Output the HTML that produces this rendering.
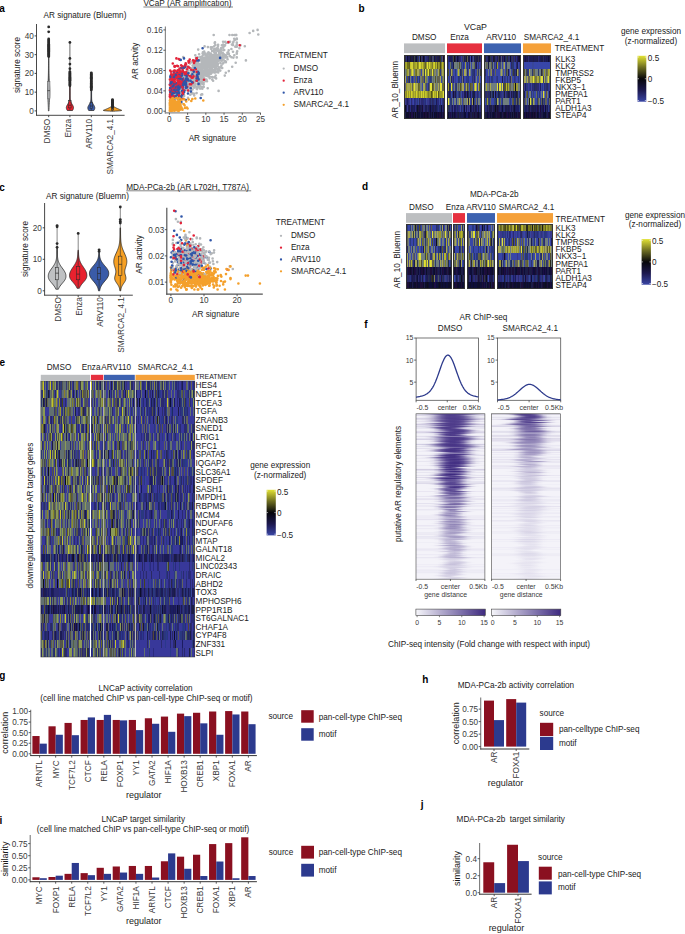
<!DOCTYPE html><html><head><meta charset="utf-8"><title>Figure</title><style>html,body{margin:0;padding:0;background:#fff;width:685px;height:934px;overflow:hidden}svg{display:block;font-family:"Liberation Sans",sans-serif}.pg stop{stop-color:#3e2a80}</style></head><body><svg width="685" height="934" viewBox="0 0 685 934" font-family="Liberation Sans, sans-serif" font-size="8.2" fill="#1a1a1a"><defs><linearGradient id="gcb0" x1="0" y1="0" x2="0" y2="1"><stop offset="0.000" stop-color="#e2e234"/><stop offset="0.125" stop-color="#a8a82b"/><stop offset="0.250" stop-color="#6e6e22"/><stop offset="0.375" stop-color="#3a3a16"/><stop offset="0.500" stop-color="#06060a"/><stop offset="0.625" stop-color="#110f2c"/><stop offset="0.750" stop-color="#1c184e"/><stop offset="0.875" stop-color="#2b2f7a"/><stop offset="1.000" stop-color="#3a46a5"/></linearGradient><linearGradient id="gcb1" x1="0" y1="0" x2="0" y2="1"><stop offset="0.000" stop-color="#e2e234"/><stop offset="0.125" stop-color="#a8a82b"/><stop offset="0.250" stop-color="#6e6e22"/><stop offset="0.375" stop-color="#3a3a16"/><stop offset="0.500" stop-color="#06060a"/><stop offset="0.625" stop-color="#110f2c"/><stop offset="0.750" stop-color="#1c184e"/><stop offset="0.875" stop-color="#2b2f7a"/><stop offset="1.000" stop-color="#3a46a5"/></linearGradient><linearGradient id="gcb2" x1="0" y1="0" x2="0" y2="1"><stop offset="0.000" stop-color="#e2e234"/><stop offset="0.125" stop-color="#a8a82b"/><stop offset="0.250" stop-color="#6e6e22"/><stop offset="0.375" stop-color="#3a3a16"/><stop offset="0.500" stop-color="#06060a"/><stop offset="0.625" stop-color="#110f2c"/><stop offset="0.750" stop-color="#1c184e"/><stop offset="0.875" stop-color="#2b2f7a"/><stop offset="1.000" stop-color="#3a46a5"/></linearGradient><linearGradient id="cg0" class="pg"><stop offset="0.000" stop-opacity="0.01"/><stop offset="0.062" stop-opacity="0.05"/><stop offset="0.125" stop-opacity="0.14"/><stop offset="0.188" stop-opacity="0.30"/><stop offset="0.250" stop-opacity="0.51"/><stop offset="0.312" stop-opacity="0.72"/><stop offset="0.375" stop-opacity="0.88"/><stop offset="0.438" stop-opacity="0.97"/><stop offset="0.500" stop-opacity="1.00"/><stop offset="0.562" stop-opacity="1.00"/><stop offset="0.625" stop-opacity="0.98"/><stop offset="0.688" stop-opacity="0.91"/><stop offset="0.750" stop-opacity="0.77"/><stop offset="0.812" stop-opacity="0.57"/><stop offset="0.875" stop-opacity="0.35"/><stop offset="0.938" stop-opacity="0.17"/><stop offset="1.000" stop-opacity="0.07"/></linearGradient><linearGradient id="cg1" class="pg"><stop offset="0.000" stop-opacity="0.00"/><stop offset="0.062" stop-opacity="0.00"/><stop offset="0.125" stop-opacity="0.00"/><stop offset="0.188" stop-opacity="0.02"/><stop offset="0.250" stop-opacity="0.12"/><stop offset="0.312" stop-opacity="0.38"/><stop offset="0.375" stop-opacity="0.72"/><stop offset="0.438" stop-opacity="0.94"/><stop offset="0.500" stop-opacity="1.00"/><stop offset="0.562" stop-opacity="0.99"/><stop offset="0.625" stop-opacity="0.88"/><stop offset="0.688" stop-opacity="0.60"/><stop offset="0.750" stop-opacity="0.27"/><stop offset="0.812" stop-opacity="0.07"/><stop offset="0.875" stop-opacity="0.01"/><stop offset="0.938" stop-opacity="0.00"/><stop offset="1.000" stop-opacity="0.00"/></linearGradient><linearGradient id="cg2" class="pg"><stop offset="0.000" stop-opacity="0.00"/><stop offset="0.062" stop-opacity="0.00"/><stop offset="0.125" stop-opacity="0.03"/><stop offset="0.188" stop-opacity="0.11"/><stop offset="0.250" stop-opacity="0.29"/><stop offset="0.312" stop-opacity="0.55"/><stop offset="0.375" stop-opacity="0.80"/><stop offset="0.438" stop-opacity="0.95"/><stop offset="0.500" stop-opacity="1.00"/><stop offset="0.562" stop-opacity="1.00"/><stop offset="0.625" stop-opacity="0.97"/><stop offset="0.688" stop-opacity="0.85"/><stop offset="0.750" stop-opacity="0.62"/><stop offset="0.812" stop-opacity="0.36"/><stop offset="0.875" stop-opacity="0.15"/><stop offset="0.938" stop-opacity="0.04"/><stop offset="1.000" stop-opacity="0.01"/></linearGradient><linearGradient id="cg3" class="pg"><stop offset="0.000" stop-opacity="0.00"/><stop offset="0.062" stop-opacity="0.00"/><stop offset="0.125" stop-opacity="0.01"/><stop offset="0.188" stop-opacity="0.07"/><stop offset="0.250" stop-opacity="0.23"/><stop offset="0.312" stop-opacity="0.49"/><stop offset="0.375" stop-opacity="0.76"/><stop offset="0.438" stop-opacity="0.94"/><stop offset="0.500" stop-opacity="1.00"/><stop offset="0.562" stop-opacity="1.00"/><stop offset="0.625" stop-opacity="0.96"/><stop offset="0.688" stop-opacity="0.82"/><stop offset="0.750" stop-opacity="0.57"/><stop offset="0.812" stop-opacity="0.30"/><stop offset="0.875" stop-opacity="0.10"/><stop offset="0.938" stop-opacity="0.02"/><stop offset="1.000" stop-opacity="0.00"/></linearGradient><linearGradient id="cg4" class="pg"><stop offset="0.000" stop-opacity="0.00"/><stop offset="0.062" stop-opacity="0.00"/><stop offset="0.125" stop-opacity="0.02"/><stop offset="0.188" stop-opacity="0.07"/><stop offset="0.250" stop-opacity="0.21"/><stop offset="0.312" stop-opacity="0.44"/><stop offset="0.375" stop-opacity="0.69"/><stop offset="0.438" stop-opacity="0.88"/><stop offset="0.500" stop-opacity="0.98"/><stop offset="0.562" stop-opacity="1.00"/><stop offset="0.625" stop-opacity="1.00"/><stop offset="0.688" stop-opacity="0.95"/><stop offset="0.750" stop-opacity="0.81"/><stop offset="0.812" stop-opacity="0.58"/><stop offset="0.875" stop-opacity="0.33"/><stop offset="0.938" stop-opacity="0.14"/><stop offset="1.000" stop-opacity="0.04"/></linearGradient><linearGradient id="cg5" class="pg"><stop offset="0.000" stop-opacity="0.00"/><stop offset="0.062" stop-opacity="0.01"/><stop offset="0.125" stop-opacity="0.04"/><stop offset="0.188" stop-opacity="0.15"/><stop offset="0.250" stop-opacity="0.37"/><stop offset="0.312" stop-opacity="0.64"/><stop offset="0.375" stop-opacity="0.86"/><stop offset="0.438" stop-opacity="0.97"/><stop offset="0.500" stop-opacity="1.00"/><stop offset="0.562" stop-opacity="1.00"/><stop offset="0.625" stop-opacity="0.94"/><stop offset="0.688" stop-opacity="0.79"/><stop offset="0.750" stop-opacity="0.54"/><stop offset="0.812" stop-opacity="0.28"/><stop offset="0.875" stop-opacity="0.10"/><stop offset="0.938" stop-opacity="0.02"/><stop offset="1.000" stop-opacity="0.00"/></linearGradient><linearGradient id="cg6" class="pg"><stop offset="0.000" stop-opacity="0.00"/><stop offset="0.062" stop-opacity="0.00"/><stop offset="0.125" stop-opacity="0.00"/><stop offset="0.188" stop-opacity="0.00"/><stop offset="0.250" stop-opacity="0.02"/><stop offset="0.312" stop-opacity="0.13"/><stop offset="0.375" stop-opacity="0.43"/><stop offset="0.438" stop-opacity="0.78"/><stop offset="0.500" stop-opacity="0.97"/><stop offset="0.562" stop-opacity="1.00"/><stop offset="0.625" stop-opacity="0.96"/><stop offset="0.688" stop-opacity="0.76"/><stop offset="0.750" stop-opacity="0.40"/><stop offset="0.812" stop-opacity="0.11"/><stop offset="0.875" stop-opacity="0.01"/><stop offset="0.938" stop-opacity="0.00"/><stop offset="1.000" stop-opacity="0.00"/></linearGradient><linearGradient id="cg7" class="pg"><stop offset="0.000" stop-opacity="0.01"/><stop offset="0.062" stop-opacity="0.04"/><stop offset="0.125" stop-opacity="0.14"/><stop offset="0.188" stop-opacity="0.32"/><stop offset="0.250" stop-opacity="0.56"/><stop offset="0.312" stop-opacity="0.78"/><stop offset="0.375" stop-opacity="0.93"/><stop offset="0.438" stop-opacity="0.99"/><stop offset="0.500" stop-opacity="1.00"/><stop offset="0.562" stop-opacity="0.99"/><stop offset="0.625" stop-opacity="0.93"/><stop offset="0.688" stop-opacity="0.78"/><stop offset="0.750" stop-opacity="0.56"/><stop offset="0.812" stop-opacity="0.32"/><stop offset="0.875" stop-opacity="0.14"/><stop offset="0.938" stop-opacity="0.04"/><stop offset="1.000" stop-opacity="0.01"/></linearGradient><linearGradient id="cg8" class="pg"><stop offset="0.000" stop-opacity="0.00"/><stop offset="0.062" stop-opacity="0.00"/><stop offset="0.125" stop-opacity="0.01"/><stop offset="0.188" stop-opacity="0.04"/><stop offset="0.250" stop-opacity="0.17"/><stop offset="0.312" stop-opacity="0.40"/><stop offset="0.375" stop-opacity="0.68"/><stop offset="0.438" stop-opacity="0.90"/><stop offset="0.500" stop-opacity="0.99"/><stop offset="0.562" stop-opacity="1.00"/><stop offset="0.625" stop-opacity="0.98"/><stop offset="0.688" stop-opacity="0.88"/><stop offset="0.750" stop-opacity="0.66"/><stop offset="0.812" stop-opacity="0.38"/><stop offset="0.875" stop-opacity="0.15"/><stop offset="0.938" stop-opacity="0.04"/><stop offset="1.000" stop-opacity="0.01"/></linearGradient><linearGradient id="cg9" class="pg"><stop offset="0.000" stop-opacity="0.00"/><stop offset="0.062" stop-opacity="0.01"/><stop offset="0.125" stop-opacity="0.04"/><stop offset="0.188" stop-opacity="0.16"/><stop offset="0.250" stop-opacity="0.41"/><stop offset="0.312" stop-opacity="0.71"/><stop offset="0.375" stop-opacity="0.92"/><stop offset="0.438" stop-opacity="0.99"/><stop offset="0.500" stop-opacity="1.00"/><stop offset="0.562" stop-opacity="0.96"/><stop offset="0.625" stop-opacity="0.80"/><stop offset="0.688" stop-opacity="0.52"/><stop offset="0.750" stop-opacity="0.24"/><stop offset="0.812" stop-opacity="0.07"/><stop offset="0.875" stop-opacity="0.01"/><stop offset="0.938" stop-opacity="0.00"/><stop offset="1.000" stop-opacity="0.00"/></linearGradient><linearGradient id="cg10" class="pg"><stop offset="0.000" stop-opacity="0.00"/><stop offset="0.062" stop-opacity="0.00"/><stop offset="0.125" stop-opacity="0.00"/><stop offset="0.188" stop-opacity="0.00"/><stop offset="0.250" stop-opacity="0.02"/><stop offset="0.312" stop-opacity="0.13"/><stop offset="0.375" stop-opacity="0.39"/><stop offset="0.438" stop-opacity="0.73"/><stop offset="0.500" stop-opacity="0.95"/><stop offset="0.562" stop-opacity="1.00"/><stop offset="0.625" stop-opacity="0.99"/><stop offset="0.688" stop-opacity="0.87"/><stop offset="0.750" stop-opacity="0.59"/><stop offset="0.812" stop-opacity="0.26"/><stop offset="0.875" stop-opacity="0.06"/><stop offset="0.938" stop-opacity="0.01"/><stop offset="1.000" stop-opacity="0.00"/></linearGradient><linearGradient id="cg11" class="pg"><stop offset="0.000" stop-opacity="0.00"/><stop offset="0.062" stop-opacity="0.00"/><stop offset="0.125" stop-opacity="0.04"/><stop offset="0.188" stop-opacity="0.17"/><stop offset="0.250" stop-opacity="0.44"/><stop offset="0.312" stop-opacity="0.75"/><stop offset="0.375" stop-opacity="0.95"/><stop offset="0.438" stop-opacity="1.00"/><stop offset="0.500" stop-opacity="0.99"/><stop offset="0.562" stop-opacity="0.91"/><stop offset="0.625" stop-opacity="0.67"/><stop offset="0.688" stop-opacity="0.36"/><stop offset="0.750" stop-opacity="0.12"/><stop offset="0.812" stop-opacity="0.02"/><stop offset="0.875" stop-opacity="0.00"/><stop offset="0.938" stop-opacity="0.00"/><stop offset="1.000" stop-opacity="0.00"/></linearGradient><linearGradient id="cg12" class="pg"><stop offset="0.000" stop-opacity="0.00"/><stop offset="0.062" stop-opacity="0.00"/><stop offset="0.125" stop-opacity="0.00"/><stop offset="0.188" stop-opacity="0.03"/><stop offset="0.250" stop-opacity="0.20"/><stop offset="0.312" stop-opacity="0.58"/><stop offset="0.375" stop-opacity="0.90"/><stop offset="0.438" stop-opacity="1.00"/><stop offset="0.500" stop-opacity="0.99"/><stop offset="0.562" stop-opacity="0.83"/><stop offset="0.625" stop-opacity="0.46"/><stop offset="0.688" stop-opacity="0.13"/><stop offset="0.750" stop-opacity="0.02"/><stop offset="0.812" stop-opacity="0.00"/><stop offset="0.875" stop-opacity="0.00"/><stop offset="0.938" stop-opacity="0.00"/><stop offset="1.000" stop-opacity="0.00"/></linearGradient><linearGradient id="cg13" class="pg"><stop offset="0.000" stop-opacity="0.00"/><stop offset="0.062" stop-opacity="0.00"/><stop offset="0.125" stop-opacity="0.00"/><stop offset="0.188" stop-opacity="0.01"/><stop offset="0.250" stop-opacity="0.07"/><stop offset="0.312" stop-opacity="0.28"/><stop offset="0.375" stop-opacity="0.62"/><stop offset="0.438" stop-opacity="0.89"/><stop offset="0.500" stop-opacity="0.99"/><stop offset="0.562" stop-opacity="1.00"/><stop offset="0.625" stop-opacity="0.94"/><stop offset="0.688" stop-opacity="0.71"/><stop offset="0.750" stop-opacity="0.37"/><stop offset="0.812" stop-opacity="0.11"/><stop offset="0.875" stop-opacity="0.02"/><stop offset="0.938" stop-opacity="0.00"/><stop offset="1.000" stop-opacity="0.00"/></linearGradient><linearGradient id="cg14" class="pg"><stop offset="0.000" stop-opacity="0.00"/><stop offset="0.062" stop-opacity="0.00"/><stop offset="0.125" stop-opacity="0.00"/><stop offset="0.188" stop-opacity="0.01"/><stop offset="0.250" stop-opacity="0.07"/><stop offset="0.312" stop-opacity="0.25"/><stop offset="0.375" stop-opacity="0.54"/><stop offset="0.438" stop-opacity="0.81"/><stop offset="0.500" stop-opacity="0.96"/><stop offset="0.562" stop-opacity="1.00"/><stop offset="0.625" stop-opacity="0.99"/><stop offset="0.688" stop-opacity="0.91"/><stop offset="0.750" stop-opacity="0.70"/><stop offset="0.812" stop-opacity="0.40"/><stop offset="0.875" stop-opacity="0.16"/><stop offset="0.938" stop-opacity="0.04"/><stop offset="1.000" stop-opacity="0.00"/></linearGradient><linearGradient id="cg15" class="pg"><stop offset="0.000" stop-opacity="0.00"/><stop offset="0.062" stop-opacity="0.00"/><stop offset="0.125" stop-opacity="0.00"/><stop offset="0.188" stop-opacity="0.00"/><stop offset="0.250" stop-opacity="0.00"/><stop offset="0.312" stop-opacity="0.04"/><stop offset="0.375" stop-opacity="0.22"/><stop offset="0.438" stop-opacity="0.56"/><stop offset="0.500" stop-opacity="0.87"/><stop offset="0.562" stop-opacity="0.99"/><stop offset="0.625" stop-opacity="1.00"/><stop offset="0.688" stop-opacity="0.91"/><stop offset="0.750" stop-opacity="0.63"/><stop offset="0.812" stop-opacity="0.27"/><stop offset="0.875" stop-opacity="0.06"/><stop offset="0.938" stop-opacity="0.01"/><stop offset="1.000" stop-opacity="0.00"/></linearGradient><linearGradient id="cg16" class="pg"><stop offset="0.000" stop-opacity="0.00"/><stop offset="0.062" stop-opacity="0.00"/><stop offset="0.125" stop-opacity="0.02"/><stop offset="0.188" stop-opacity="0.11"/><stop offset="0.250" stop-opacity="0.31"/><stop offset="0.312" stop-opacity="0.58"/><stop offset="0.375" stop-opacity="0.83"/><stop offset="0.438" stop-opacity="0.97"/><stop offset="0.500" stop-opacity="1.00"/><stop offset="0.562" stop-opacity="1.00"/><stop offset="0.625" stop-opacity="0.93"/><stop offset="0.688" stop-opacity="0.75"/><stop offset="0.750" stop-opacity="0.48"/><stop offset="0.812" stop-opacity="0.22"/><stop offset="0.875" stop-opacity="0.07"/><stop offset="0.938" stop-opacity="0.01"/><stop offset="1.000" stop-opacity="0.00"/></linearGradient><linearGradient id="cg17" class="pg"><stop offset="0.000" stop-opacity="0.00"/><stop offset="0.062" stop-opacity="0.00"/><stop offset="0.125" stop-opacity="0.00"/><stop offset="0.188" stop-opacity="0.00"/><stop offset="0.250" stop-opacity="0.04"/><stop offset="0.312" stop-opacity="0.19"/><stop offset="0.375" stop-opacity="0.50"/><stop offset="0.438" stop-opacity="0.82"/><stop offset="0.500" stop-opacity="0.98"/><stop offset="0.562" stop-opacity="1.00"/><stop offset="0.625" stop-opacity="0.97"/><stop offset="0.688" stop-opacity="0.80"/><stop offset="0.750" stop-opacity="0.48"/><stop offset="0.812" stop-opacity="0.18"/><stop offset="0.875" stop-opacity="0.03"/><stop offset="0.938" stop-opacity="0.00"/><stop offset="1.000" stop-opacity="0.00"/></linearGradient><linearGradient id="cg18" class="pg"><stop offset="0.000" stop-opacity="0.00"/><stop offset="0.062" stop-opacity="0.00"/><stop offset="0.125" stop-opacity="0.00"/><stop offset="0.188" stop-opacity="0.01"/><stop offset="0.250" stop-opacity="0.07"/><stop offset="0.312" stop-opacity="0.32"/><stop offset="0.375" stop-opacity="0.72"/><stop offset="0.438" stop-opacity="0.96"/><stop offset="0.500" stop-opacity="1.00"/><stop offset="0.562" stop-opacity="0.96"/><stop offset="0.625" stop-opacity="0.72"/><stop offset="0.688" stop-opacity="0.32"/><stop offset="0.750" stop-opacity="0.07"/><stop offset="0.812" stop-opacity="0.01"/><stop offset="0.875" stop-opacity="0.00"/><stop offset="0.938" stop-opacity="0.00"/><stop offset="1.000" stop-opacity="0.00"/></linearGradient><linearGradient id="cg19" class="pg"><stop offset="0.000" stop-opacity="0.00"/><stop offset="0.062" stop-opacity="0.00"/><stop offset="0.125" stop-opacity="0.00"/><stop offset="0.188" stop-opacity="0.00"/><stop offset="0.250" stop-opacity="0.02"/><stop offset="0.312" stop-opacity="0.13"/><stop offset="0.375" stop-opacity="0.46"/><stop offset="0.438" stop-opacity="0.83"/><stop offset="0.500" stop-opacity="0.99"/><stop offset="0.562" stop-opacity="1.00"/><stop offset="0.625" stop-opacity="0.90"/><stop offset="0.688" stop-opacity="0.58"/><stop offset="0.750" stop-opacity="0.20"/><stop offset="0.812" stop-opacity="0.03"/><stop offset="0.875" stop-opacity="0.00"/><stop offset="0.938" stop-opacity="0.00"/><stop offset="1.000" stop-opacity="0.00"/></linearGradient><linearGradient id="cg20" class="pg"><stop offset="0.000" stop-opacity="0.00"/><stop offset="0.062" stop-opacity="0.01"/><stop offset="0.125" stop-opacity="0.03"/><stop offset="0.188" stop-opacity="0.11"/><stop offset="0.250" stop-opacity="0.26"/><stop offset="0.312" stop-opacity="0.49"/><stop offset="0.375" stop-opacity="0.73"/><stop offset="0.438" stop-opacity="0.90"/><stop offset="0.500" stop-opacity="0.98"/><stop offset="0.562" stop-opacity="1.00"/><stop offset="0.625" stop-opacity="1.00"/><stop offset="0.688" stop-opacity="0.96"/><stop offset="0.750" stop-opacity="0.83"/><stop offset="0.812" stop-opacity="0.63"/><stop offset="0.875" stop-opacity="0.39"/><stop offset="0.938" stop-opacity="0.18"/><stop offset="1.000" stop-opacity="0.06"/></linearGradient><linearGradient id="cg21" class="pg"><stop offset="0.000" stop-opacity="0.00"/><stop offset="0.062" stop-opacity="0.00"/><stop offset="0.125" stop-opacity="0.00"/><stop offset="0.188" stop-opacity="0.03"/><stop offset="0.250" stop-opacity="0.11"/><stop offset="0.312" stop-opacity="0.32"/><stop offset="0.375" stop-opacity="0.59"/><stop offset="0.438" stop-opacity="0.84"/><stop offset="0.500" stop-opacity="0.97"/><stop offset="0.562" stop-opacity="1.00"/><stop offset="0.625" stop-opacity="0.99"/><stop offset="0.688" stop-opacity="0.93"/><stop offset="0.750" stop-opacity="0.74"/><stop offset="0.812" stop-opacity="0.47"/><stop offset="0.875" stop-opacity="0.21"/><stop offset="0.938" stop-opacity="0.06"/><stop offset="1.000" stop-opacity="0.01"/></linearGradient><linearGradient id="cg22" class="pg"><stop offset="0.000" stop-opacity="0.00"/><stop offset="0.062" stop-opacity="0.00"/><stop offset="0.125" stop-opacity="0.00"/><stop offset="0.188" stop-opacity="0.02"/><stop offset="0.250" stop-opacity="0.12"/><stop offset="0.312" stop-opacity="0.36"/><stop offset="0.375" stop-opacity="0.67"/><stop offset="0.438" stop-opacity="0.91"/><stop offset="0.500" stop-opacity="0.99"/><stop offset="0.562" stop-opacity="1.00"/><stop offset="0.625" stop-opacity="0.95"/><stop offset="0.688" stop-opacity="0.75"/><stop offset="0.750" stop-opacity="0.44"/><stop offset="0.812" stop-opacity="0.17"/><stop offset="0.875" stop-opacity="0.04"/><stop offset="0.938" stop-opacity="0.00"/><stop offset="1.000" stop-opacity="0.00"/></linearGradient><linearGradient id="cg23" class="pg"><stop offset="0.000" stop-opacity="0.00"/><stop offset="0.062" stop-opacity="0.00"/><stop offset="0.125" stop-opacity="0.00"/><stop offset="0.188" stop-opacity="0.04"/><stop offset="0.250" stop-opacity="0.18"/><stop offset="0.312" stop-opacity="0.46"/><stop offset="0.375" stop-opacity="0.77"/><stop offset="0.438" stop-opacity="0.95"/><stop offset="0.500" stop-opacity="1.00"/><stop offset="0.562" stop-opacity="0.99"/><stop offset="0.625" stop-opacity="0.90"/><stop offset="0.688" stop-opacity="0.66"/><stop offset="0.750" stop-opacity="0.34"/><stop offset="0.812" stop-opacity="0.11"/><stop offset="0.875" stop-opacity="0.02"/><stop offset="0.938" stop-opacity="0.00"/><stop offset="1.000" stop-opacity="0.00"/></linearGradient><linearGradient id="cg24" class="pg"><stop offset="0.000" stop-opacity="0.00"/><stop offset="0.062" stop-opacity="0.01"/><stop offset="0.125" stop-opacity="0.05"/><stop offset="0.188" stop-opacity="0.15"/><stop offset="0.250" stop-opacity="0.35"/><stop offset="0.312" stop-opacity="0.60"/><stop offset="0.375" stop-opacity="0.82"/><stop offset="0.438" stop-opacity="0.95"/><stop offset="0.500" stop-opacity="1.00"/><stop offset="0.562" stop-opacity="1.00"/><stop offset="0.625" stop-opacity="0.97"/><stop offset="0.688" stop-opacity="0.87"/><stop offset="0.750" stop-opacity="0.67"/><stop offset="0.812" stop-opacity="0.42"/><stop offset="0.875" stop-opacity="0.20"/><stop offset="0.938" stop-opacity="0.07"/><stop offset="1.000" stop-opacity="0.01"/></linearGradient><linearGradient id="cg25" class="pg"><stop offset="0.000" stop-opacity="0.00"/><stop offset="0.062" stop-opacity="0.00"/><stop offset="0.125" stop-opacity="0.00"/><stop offset="0.188" stop-opacity="0.01"/><stop offset="0.250" stop-opacity="0.08"/><stop offset="0.312" stop-opacity="0.24"/><stop offset="0.375" stop-opacity="0.50"/><stop offset="0.438" stop-opacity="0.77"/><stop offset="0.500" stop-opacity="0.94"/><stop offset="0.562" stop-opacity="1.00"/><stop offset="0.625" stop-opacity="1.00"/><stop offset="0.688" stop-opacity="0.96"/><stop offset="0.750" stop-opacity="0.82"/><stop offset="0.812" stop-opacity="0.56"/><stop offset="0.875" stop-opacity="0.29"/><stop offset="0.938" stop-opacity="0.10"/><stop offset="1.000" stop-opacity="0.02"/></linearGradient><linearGradient id="cg26" class="pg"><stop offset="0.000" stop-opacity="0.00"/><stop offset="0.062" stop-opacity="0.00"/><stop offset="0.125" stop-opacity="0.00"/><stop offset="0.188" stop-opacity="0.00"/><stop offset="0.250" stop-opacity="0.00"/><stop offset="0.312" stop-opacity="0.04"/><stop offset="0.375" stop-opacity="0.23"/><stop offset="0.438" stop-opacity="0.61"/><stop offset="0.500" stop-opacity="0.92"/><stop offset="0.562" stop-opacity="1.00"/><stop offset="0.625" stop-opacity="0.98"/><stop offset="0.688" stop-opacity="0.81"/><stop offset="0.750" stop-opacity="0.43"/><stop offset="0.812" stop-opacity="0.12"/><stop offset="0.875" stop-opacity="0.01"/><stop offset="0.938" stop-opacity="0.00"/><stop offset="1.000" stop-opacity="0.00"/></linearGradient><linearGradient id="cg27" class="pg"><stop offset="0.000" stop-opacity="0.00"/><stop offset="0.062" stop-opacity="0.00"/><stop offset="0.125" stop-opacity="0.00"/><stop offset="0.188" stop-opacity="0.00"/><stop offset="0.250" stop-opacity="0.00"/><stop offset="0.312" stop-opacity="0.02"/><stop offset="0.375" stop-opacity="0.14"/><stop offset="0.438" stop-opacity="0.48"/><stop offset="0.500" stop-opacity="0.84"/><stop offset="0.562" stop-opacity="0.99"/><stop offset="0.625" stop-opacity="1.00"/><stop offset="0.688" stop-opacity="0.89"/><stop offset="0.750" stop-opacity="0.56"/><stop offset="0.812" stop-opacity="0.19"/><stop offset="0.875" stop-opacity="0.03"/><stop offset="0.938" stop-opacity="0.00"/><stop offset="1.000" stop-opacity="0.00"/></linearGradient><linearGradient id="cg28" class="pg"><stop offset="0.000" stop-opacity="0.00"/><stop offset="0.062" stop-opacity="0.00"/><stop offset="0.125" stop-opacity="0.00"/><stop offset="0.188" stop-opacity="0.01"/><stop offset="0.250" stop-opacity="0.07"/><stop offset="0.312" stop-opacity="0.26"/><stop offset="0.375" stop-opacity="0.57"/><stop offset="0.438" stop-opacity="0.85"/><stop offset="0.500" stop-opacity="0.98"/><stop offset="0.562" stop-opacity="1.00"/><stop offset="0.625" stop-opacity="0.98"/><stop offset="0.688" stop-opacity="0.83"/><stop offset="0.750" stop-opacity="0.55"/><stop offset="0.812" stop-opacity="0.24"/><stop offset="0.875" stop-opacity="0.06"/><stop offset="0.938" stop-opacity="0.01"/><stop offset="1.000" stop-opacity="0.00"/></linearGradient><linearGradient id="cg29" class="pg"><stop offset="0.000" stop-opacity="0.00"/><stop offset="0.062" stop-opacity="0.00"/><stop offset="0.125" stop-opacity="0.00"/><stop offset="0.188" stop-opacity="0.00"/><stop offset="0.250" stop-opacity="0.04"/><stop offset="0.312" stop-opacity="0.19"/><stop offset="0.375" stop-opacity="0.47"/><stop offset="0.438" stop-opacity="0.78"/><stop offset="0.500" stop-opacity="0.96"/><stop offset="0.562" stop-opacity="1.00"/><stop offset="0.625" stop-opacity="0.99"/><stop offset="0.688" stop-opacity="0.90"/><stop offset="0.750" stop-opacity="0.65"/><stop offset="0.812" stop-opacity="0.33"/><stop offset="0.875" stop-opacity="0.10"/><stop offset="0.938" stop-opacity="0.02"/><stop offset="1.000" stop-opacity="0.00"/></linearGradient><linearGradient id="cg30" class="pg"><stop offset="0.000" stop-opacity="0.00"/><stop offset="0.062" stop-opacity="0.00"/><stop offset="0.125" stop-opacity="0.00"/><stop offset="0.188" stop-opacity="0.02"/><stop offset="0.250" stop-opacity="0.12"/><stop offset="0.312" stop-opacity="0.41"/><stop offset="0.375" stop-opacity="0.77"/><stop offset="0.438" stop-opacity="0.97"/><stop offset="0.500" stop-opacity="1.00"/><stop offset="0.562" stop-opacity="0.97"/><stop offset="0.625" stop-opacity="0.77"/><stop offset="0.688" stop-opacity="0.41"/><stop offset="0.750" stop-opacity="0.12"/><stop offset="0.812" stop-opacity="0.02"/><stop offset="0.875" stop-opacity="0.00"/><stop offset="0.938" stop-opacity="0.00"/><stop offset="1.000" stop-opacity="0.00"/></linearGradient><linearGradient id="cg31" class="pg"><stop offset="0.000" stop-opacity="0.00"/><stop offset="0.062" stop-opacity="0.00"/><stop offset="0.125" stop-opacity="0.00"/><stop offset="0.188" stop-opacity="0.00"/><stop offset="0.250" stop-opacity="0.04"/><stop offset="0.312" stop-opacity="0.20"/><stop offset="0.375" stop-opacity="0.55"/><stop offset="0.438" stop-opacity="0.86"/><stop offset="0.500" stop-opacity="0.99"/><stop offset="0.562" stop-opacity="1.00"/><stop offset="0.625" stop-opacity="0.92"/><stop offset="0.688" stop-opacity="0.65"/><stop offset="0.750" stop-opacity="0.29"/><stop offset="0.812" stop-opacity="0.07"/><stop offset="0.875" stop-opacity="0.01"/><stop offset="0.938" stop-opacity="0.00"/><stop offset="1.000" stop-opacity="0.00"/></linearGradient><linearGradient id="cg32" class="pg"><stop offset="0.000" stop-opacity="0.00"/><stop offset="0.062" stop-opacity="0.01"/><stop offset="0.125" stop-opacity="0.04"/><stop offset="0.188" stop-opacity="0.16"/><stop offset="0.250" stop-opacity="0.39"/><stop offset="0.312" stop-opacity="0.67"/><stop offset="0.375" stop-opacity="0.89"/><stop offset="0.438" stop-opacity="0.99"/><stop offset="0.500" stop-opacity="1.00"/><stop offset="0.562" stop-opacity="0.99"/><stop offset="0.625" stop-opacity="0.89"/><stop offset="0.688" stop-opacity="0.67"/><stop offset="0.750" stop-opacity="0.39"/><stop offset="0.812" stop-opacity="0.16"/><stop offset="0.875" stop-opacity="0.04"/><stop offset="0.938" stop-opacity="0.01"/><stop offset="1.000" stop-opacity="0.00"/></linearGradient><linearGradient id="cg33" class="pg"><stop offset="0.000" stop-opacity="0.00"/><stop offset="0.062" stop-opacity="0.00"/><stop offset="0.125" stop-opacity="0.01"/><stop offset="0.188" stop-opacity="0.04"/><stop offset="0.250" stop-opacity="0.17"/><stop offset="0.312" stop-opacity="0.43"/><stop offset="0.375" stop-opacity="0.72"/><stop offset="0.438" stop-opacity="0.93"/><stop offset="0.500" stop-opacity="1.00"/><stop offset="0.562" stop-opacity="1.00"/><stop offset="0.625" stop-opacity="0.96"/><stop offset="0.688" stop-opacity="0.79"/><stop offset="0.750" stop-opacity="0.51"/><stop offset="0.812" stop-opacity="0.23"/><stop offset="0.875" stop-opacity="0.07"/><stop offset="0.938" stop-opacity="0.01"/><stop offset="1.000" stop-opacity="0.00"/></linearGradient><linearGradient id="cg34" class="pg"><stop offset="0.000" stop-opacity="0.00"/><stop offset="0.062" stop-opacity="0.00"/><stop offset="0.125" stop-opacity="0.00"/><stop offset="0.188" stop-opacity="0.02"/><stop offset="0.250" stop-opacity="0.12"/><stop offset="0.312" stop-opacity="0.33"/><stop offset="0.375" stop-opacity="0.63"/><stop offset="0.438" stop-opacity="0.88"/><stop offset="0.500" stop-opacity="0.98"/><stop offset="0.562" stop-opacity="1.00"/><stop offset="0.625" stop-opacity="0.98"/><stop offset="0.688" stop-opacity="0.86"/><stop offset="0.750" stop-opacity="0.61"/><stop offset="0.812" stop-opacity="0.31"/><stop offset="0.875" stop-opacity="0.10"/><stop offset="0.938" stop-opacity="0.02"/><stop offset="1.000" stop-opacity="0.00"/></linearGradient><linearGradient id="cg35" class="pg"><stop offset="0.000" stop-opacity="0.00"/><stop offset="0.062" stop-opacity="0.00"/><stop offset="0.125" stop-opacity="0.00"/><stop offset="0.188" stop-opacity="0.00"/><stop offset="0.250" stop-opacity="0.01"/><stop offset="0.312" stop-opacity="0.15"/><stop offset="0.375" stop-opacity="0.62"/><stop offset="0.438" stop-opacity="0.97"/><stop offset="0.500" stop-opacity="1.00"/><stop offset="0.562" stop-opacity="0.80"/><stop offset="0.625" stop-opacity="0.29"/><stop offset="0.688" stop-opacity="0.03"/><stop offset="0.750" stop-opacity="0.00"/><stop offset="0.812" stop-opacity="0.00"/><stop offset="0.875" stop-opacity="0.00"/><stop offset="0.938" stop-opacity="0.00"/><stop offset="1.000" stop-opacity="0.00"/></linearGradient><linearGradient id="cg36" class="pg"><stop offset="0.000" stop-opacity="0.00"/><stop offset="0.062" stop-opacity="0.00"/><stop offset="0.125" stop-opacity="0.00"/><stop offset="0.188" stop-opacity="0.00"/><stop offset="0.250" stop-opacity="0.00"/><stop offset="0.312" stop-opacity="0.07"/><stop offset="0.375" stop-opacity="0.37"/><stop offset="0.438" stop-opacity="0.79"/><stop offset="0.500" stop-opacity="0.99"/><stop offset="0.562" stop-opacity="1.00"/><stop offset="0.625" stop-opacity="0.87"/><stop offset="0.688" stop-opacity="0.49"/><stop offset="0.750" stop-opacity="0.13"/><stop offset="0.812" stop-opacity="0.01"/><stop offset="0.875" stop-opacity="0.00"/><stop offset="0.938" stop-opacity="0.00"/><stop offset="1.000" stop-opacity="0.00"/></linearGradient><linearGradient id="cg37" class="pg"><stop offset="0.000" stop-opacity="0.00"/><stop offset="0.062" stop-opacity="0.00"/><stop offset="0.125" stop-opacity="0.00"/><stop offset="0.188" stop-opacity="0.00"/><stop offset="0.250" stop-opacity="0.03"/><stop offset="0.312" stop-opacity="0.22"/><stop offset="0.375" stop-opacity="0.59"/><stop offset="0.438" stop-opacity="0.91"/><stop offset="0.500" stop-opacity="1.00"/><stop offset="0.562" stop-opacity="0.99"/><stop offset="0.625" stop-opacity="0.82"/><stop offset="0.688" stop-opacity="0.45"/><stop offset="0.750" stop-opacity="0.12"/><stop offset="0.812" stop-opacity="0.01"/><stop offset="0.875" stop-opacity="0.00"/><stop offset="0.938" stop-opacity="0.00"/><stop offset="1.000" stop-opacity="0.00"/></linearGradient><linearGradient id="cg38" class="pg"><stop offset="0.000" stop-opacity="0.00"/><stop offset="0.062" stop-opacity="0.00"/><stop offset="0.125" stop-opacity="0.00"/><stop offset="0.188" stop-opacity="0.00"/><stop offset="0.250" stop-opacity="0.01"/><stop offset="0.312" stop-opacity="0.07"/><stop offset="0.375" stop-opacity="0.34"/><stop offset="0.438" stop-opacity="0.73"/><stop offset="0.500" stop-opacity="0.96"/><stop offset="0.562" stop-opacity="1.00"/><stop offset="0.625" stop-opacity="0.95"/><stop offset="0.688" stop-opacity="0.70"/><stop offset="0.750" stop-opacity="0.31"/><stop offset="0.812" stop-opacity="0.06"/><stop offset="0.875" stop-opacity="0.00"/><stop offset="0.938" stop-opacity="0.00"/><stop offset="1.000" stop-opacity="0.00"/></linearGradient><linearGradient id="cg39" class="pg"><stop offset="0.000" stop-opacity="0.00"/><stop offset="0.062" stop-opacity="0.00"/><stop offset="0.125" stop-opacity="0.00"/><stop offset="0.188" stop-opacity="0.01"/><stop offset="0.250" stop-opacity="0.07"/><stop offset="0.312" stop-opacity="0.30"/><stop offset="0.375" stop-opacity="0.66"/><stop offset="0.438" stop-opacity="0.93"/><stop offset="0.500" stop-opacity="1.00"/><stop offset="0.562" stop-opacity="0.99"/><stop offset="0.625" stop-opacity="0.86"/><stop offset="0.688" stop-opacity="0.53"/><stop offset="0.750" stop-opacity="0.19"/><stop offset="0.812" stop-opacity="0.03"/><stop offset="0.875" stop-opacity="0.00"/><stop offset="0.938" stop-opacity="0.00"/><stop offset="1.000" stop-opacity="0.00"/></linearGradient><linearGradient id="cg40" class="pg"><stop offset="0.000" stop-opacity="0.00"/><stop offset="0.062" stop-opacity="0.00"/><stop offset="0.125" stop-opacity="0.00"/><stop offset="0.188" stop-opacity="0.00"/><stop offset="0.250" stop-opacity="0.00"/><stop offset="0.312" stop-opacity="0.03"/><stop offset="0.375" stop-opacity="0.24"/><stop offset="0.438" stop-opacity="0.66"/><stop offset="0.500" stop-opacity="0.95"/><stop offset="0.562" stop-opacity="1.00"/><stop offset="0.625" stop-opacity="0.94"/><stop offset="0.688" stop-opacity="0.63"/><stop offset="0.750" stop-opacity="0.22"/><stop offset="0.812" stop-opacity="0.03"/><stop offset="0.875" stop-opacity="0.00"/><stop offset="0.938" stop-opacity="0.00"/><stop offset="1.000" stop-opacity="0.00"/></linearGradient><linearGradient id="cg41" class="pg"><stop offset="0.000" stop-opacity="0.00"/><stop offset="0.062" stop-opacity="0.00"/><stop offset="0.125" stop-opacity="0.02"/><stop offset="0.188" stop-opacity="0.11"/><stop offset="0.250" stop-opacity="0.32"/><stop offset="0.312" stop-opacity="0.62"/><stop offset="0.375" stop-opacity="0.87"/><stop offset="0.438" stop-opacity="0.98"/><stop offset="0.500" stop-opacity="1.00"/><stop offset="0.562" stop-opacity="0.98"/><stop offset="0.625" stop-opacity="0.87"/><stop offset="0.688" stop-opacity="0.62"/><stop offset="0.750" stop-opacity="0.32"/><stop offset="0.812" stop-opacity="0.11"/><stop offset="0.875" stop-opacity="0.02"/><stop offset="0.938" stop-opacity="0.00"/><stop offset="1.000" stop-opacity="0.00"/></linearGradient><linearGradient id="cg42" class="pg"><stop offset="0.000" stop-opacity="0.00"/><stop offset="0.062" stop-opacity="0.00"/><stop offset="0.125" stop-opacity="0.00"/><stop offset="0.188" stop-opacity="0.00"/><stop offset="0.250" stop-opacity="0.00"/><stop offset="0.312" stop-opacity="0.07"/><stop offset="0.375" stop-opacity="0.41"/><stop offset="0.438" stop-opacity="0.85"/><stop offset="0.500" stop-opacity="1.00"/><stop offset="0.562" stop-opacity="0.98"/><stop offset="0.625" stop-opacity="0.71"/><stop offset="0.688" stop-opacity="0.25"/><stop offset="0.750" stop-opacity="0.03"/><stop offset="0.812" stop-opacity="0.00"/><stop offset="0.875" stop-opacity="0.00"/><stop offset="0.938" stop-opacity="0.00"/><stop offset="1.000" stop-opacity="0.00"/></linearGradient><linearGradient id="cg43" class="pg"><stop offset="0.000" stop-opacity="0.00"/><stop offset="0.062" stop-opacity="0.00"/><stop offset="0.125" stop-opacity="0.00"/><stop offset="0.188" stop-opacity="0.00"/><stop offset="0.250" stop-opacity="0.01"/><stop offset="0.312" stop-opacity="0.08"/><stop offset="0.375" stop-opacity="0.31"/><stop offset="0.438" stop-opacity="0.68"/><stop offset="0.500" stop-opacity="0.93"/><stop offset="0.562" stop-opacity="1.00"/><stop offset="0.625" stop-opacity="0.99"/><stop offset="0.688" stop-opacity="0.85"/><stop offset="0.750" stop-opacity="0.52"/><stop offset="0.812" stop-opacity="0.18"/><stop offset="0.875" stop-opacity="0.03"/><stop offset="0.938" stop-opacity="0.00"/><stop offset="1.000" stop-opacity="0.00"/></linearGradient><linearGradient id="cg44" class="pg"><stop offset="0.000" stop-opacity="0.00"/><stop offset="0.062" stop-opacity="0.00"/><stop offset="0.125" stop-opacity="0.00"/><stop offset="0.188" stop-opacity="0.00"/><stop offset="0.250" stop-opacity="0.00"/><stop offset="0.312" stop-opacity="0.01"/><stop offset="0.375" stop-opacity="0.15"/><stop offset="0.438" stop-opacity="0.58"/><stop offset="0.500" stop-opacity="0.94"/><stop offset="0.562" stop-opacity="1.00"/><stop offset="0.625" stop-opacity="0.92"/><stop offset="0.688" stop-opacity="0.54"/><stop offset="0.750" stop-opacity="0.13"/><stop offset="0.812" stop-opacity="0.01"/><stop offset="0.875" stop-opacity="0.00"/><stop offset="0.938" stop-opacity="0.00"/><stop offset="1.000" stop-opacity="0.00"/></linearGradient><linearGradient id="cg45" class="pg"><stop offset="0.000" stop-opacity="0.00"/><stop offset="0.062" stop-opacity="0.00"/><stop offset="0.125" stop-opacity="0.00"/><stop offset="0.188" stop-opacity="0.00"/><stop offset="0.250" stop-opacity="0.03"/><stop offset="0.312" stop-opacity="0.23"/><stop offset="0.375" stop-opacity="0.65"/><stop offset="0.438" stop-opacity="0.95"/><stop offset="0.500" stop-opacity="1.00"/><stop offset="0.562" stop-opacity="0.95"/><stop offset="0.625" stop-opacity="0.65"/><stop offset="0.688" stop-opacity="0.23"/><stop offset="0.750" stop-opacity="0.03"/><stop offset="0.812" stop-opacity="0.00"/><stop offset="0.875" stop-opacity="0.00"/><stop offset="0.938" stop-opacity="0.00"/><stop offset="1.000" stop-opacity="0.00"/></linearGradient><linearGradient id="cg46" class="pg"><stop offset="0.000" stop-opacity="0.00"/><stop offset="0.062" stop-opacity="0.00"/><stop offset="0.125" stop-opacity="0.00"/><stop offset="0.188" stop-opacity="0.00"/><stop offset="0.250" stop-opacity="0.00"/><stop offset="0.312" stop-opacity="0.07"/><stop offset="0.375" stop-opacity="0.45"/><stop offset="0.438" stop-opacity="0.91"/><stop offset="0.500" stop-opacity="1.00"/><stop offset="0.562" stop-opacity="0.91"/><stop offset="0.625" stop-opacity="0.45"/><stop offset="0.688" stop-opacity="0.07"/><stop offset="0.750" stop-opacity="0.00"/><stop offset="0.812" stop-opacity="0.00"/><stop offset="0.875" stop-opacity="0.00"/><stop offset="0.938" stop-opacity="0.00"/><stop offset="1.000" stop-opacity="0.00"/></linearGradient><linearGradient id="cg47" class="pg"><stop offset="0.000" stop-opacity="0.00"/><stop offset="0.062" stop-opacity="0.00"/><stop offset="0.125" stop-opacity="0.00"/><stop offset="0.188" stop-opacity="0.00"/><stop offset="0.250" stop-opacity="0.00"/><stop offset="0.312" stop-opacity="0.01"/><stop offset="0.375" stop-opacity="0.15"/><stop offset="0.438" stop-opacity="0.53"/><stop offset="0.500" stop-opacity="0.89"/><stop offset="0.562" stop-opacity="1.00"/><stop offset="0.625" stop-opacity="0.98"/><stop offset="0.688" stop-opacity="0.76"/><stop offset="0.750" stop-opacity="0.33"/><stop offset="0.812" stop-opacity="0.06"/><stop offset="0.875" stop-opacity="0.00"/><stop offset="0.938" stop-opacity="0.00"/><stop offset="1.000" stop-opacity="0.00"/></linearGradient><linearGradient id="cg48" class="pg"><stop offset="0.000" stop-opacity="0.00"/><stop offset="0.062" stop-opacity="0.00"/><stop offset="0.125" stop-opacity="0.00"/><stop offset="0.188" stop-opacity="0.00"/><stop offset="0.250" stop-opacity="0.01"/><stop offset="0.312" stop-opacity="0.14"/><stop offset="0.375" stop-opacity="0.51"/><stop offset="0.438" stop-opacity="0.88"/><stop offset="0.500" stop-opacity="1.00"/><stop offset="0.562" stop-opacity="0.98"/><stop offset="0.625" stop-opacity="0.77"/><stop offset="0.688" stop-opacity="0.35"/><stop offset="0.750" stop-opacity="0.07"/><stop offset="0.812" stop-opacity="0.00"/><stop offset="0.875" stop-opacity="0.00"/><stop offset="0.938" stop-opacity="0.00"/><stop offset="1.000" stop-opacity="0.00"/></linearGradient><linearGradient id="cg49" class="pg"><stop offset="0.000" stop-opacity="0.00"/><stop offset="0.062" stop-opacity="0.00"/><stop offset="0.125" stop-opacity="0.00"/><stop offset="0.188" stop-opacity="0.00"/><stop offset="0.250" stop-opacity="0.00"/><stop offset="0.312" stop-opacity="0.00"/><stop offset="0.375" stop-opacity="0.08"/><stop offset="0.438" stop-opacity="0.47"/><stop offset="0.500" stop-opacity="0.92"/><stop offset="0.562" stop-opacity="1.00"/><stop offset="0.625" stop-opacity="0.89"/><stop offset="0.688" stop-opacity="0.43"/><stop offset="0.750" stop-opacity="0.06"/><stop offset="0.812" stop-opacity="0.00"/><stop offset="0.875" stop-opacity="0.00"/><stop offset="0.938" stop-opacity="0.00"/><stop offset="1.000" stop-opacity="0.00"/></linearGradient><linearGradient id="cg50" class="pg"><stop offset="0.000" stop-opacity="0.00"/><stop offset="0.062" stop-opacity="0.00"/><stop offset="0.125" stop-opacity="0.00"/><stop offset="0.188" stop-opacity="0.00"/><stop offset="0.250" stop-opacity="0.00"/><stop offset="0.312" stop-opacity="0.01"/><stop offset="0.375" stop-opacity="0.16"/><stop offset="0.438" stop-opacity="0.65"/><stop offset="0.500" stop-opacity="0.97"/><stop offset="0.562" stop-opacity="1.00"/><stop offset="0.625" stop-opacity="0.78"/><stop offset="0.688" stop-opacity="0.27"/><stop offset="0.750" stop-opacity="0.02"/><stop offset="0.812" stop-opacity="0.00"/><stop offset="0.875" stop-opacity="0.00"/><stop offset="0.938" stop-opacity="0.00"/><stop offset="1.000" stop-opacity="0.00"/></linearGradient><linearGradient id="cg51" class="pg"><stop offset="0.000" stop-opacity="0.00"/><stop offset="0.062" stop-opacity="0.00"/><stop offset="0.125" stop-opacity="0.00"/><stop offset="0.188" stop-opacity="0.00"/><stop offset="0.250" stop-opacity="0.00"/><stop offset="0.312" stop-opacity="0.00"/><stop offset="0.375" stop-opacity="0.03"/><stop offset="0.438" stop-opacity="0.31"/><stop offset="0.500" stop-opacity="0.81"/><stop offset="0.562" stop-opacity="1.00"/><stop offset="0.625" stop-opacity="0.96"/><stop offset="0.688" stop-opacity="0.60"/><stop offset="0.750" stop-opacity="0.14"/><stop offset="0.812" stop-opacity="0.01"/><stop offset="0.875" stop-opacity="0.00"/><stop offset="0.938" stop-opacity="0.00"/><stop offset="1.000" stop-opacity="0.00"/></linearGradient><linearGradient id="cg52" class="pg"><stop offset="0.000" stop-opacity="0.00"/><stop offset="0.062" stop-opacity="0.00"/><stop offset="0.125" stop-opacity="0.00"/><stop offset="0.188" stop-opacity="0.00"/><stop offset="0.250" stop-opacity="0.00"/><stop offset="0.312" stop-opacity="0.03"/><stop offset="0.375" stop-opacity="0.29"/><stop offset="0.438" stop-opacity="0.80"/><stop offset="0.500" stop-opacity="1.00"/><stop offset="0.562" stop-opacity="0.97"/><stop offset="0.625" stop-opacity="0.62"/><stop offset="0.688" stop-opacity="0.15"/><stop offset="0.750" stop-opacity="0.01"/><stop offset="0.812" stop-opacity="0.00"/><stop offset="0.875" stop-opacity="0.00"/><stop offset="0.938" stop-opacity="0.00"/><stop offset="1.000" stop-opacity="0.00"/></linearGradient><linearGradient id="cg53" class="pg"><stop offset="0.000" stop-opacity="0.00"/><stop offset="0.062" stop-opacity="0.00"/><stop offset="0.125" stop-opacity="0.00"/><stop offset="0.188" stop-opacity="0.00"/><stop offset="0.250" stop-opacity="0.01"/><stop offset="0.312" stop-opacity="0.14"/><stop offset="0.375" stop-opacity="0.56"/><stop offset="0.438" stop-opacity="0.93"/><stop offset="0.500" stop-opacity="1.00"/><stop offset="0.562" stop-opacity="0.93"/><stop offset="0.625" stop-opacity="0.56"/><stop offset="0.688" stop-opacity="0.14"/><stop offset="0.750" stop-opacity="0.01"/><stop offset="0.812" stop-opacity="0.00"/><stop offset="0.875" stop-opacity="0.00"/><stop offset="0.938" stop-opacity="0.00"/><stop offset="1.000" stop-opacity="0.00"/></linearGradient><linearGradient id="cg54" class="pg"><stop offset="0.000" stop-opacity="0.00"/><stop offset="0.062" stop-opacity="0.00"/><stop offset="0.125" stop-opacity="0.00"/><stop offset="0.188" stop-opacity="0.00"/><stop offset="0.250" stop-opacity="0.00"/><stop offset="0.312" stop-opacity="0.00"/><stop offset="0.375" stop-opacity="0.02"/><stop offset="0.438" stop-opacity="0.46"/><stop offset="0.500" stop-opacity="0.99"/><stop offset="0.562" stop-opacity="0.90"/><stop offset="0.625" stop-opacity="0.20"/><stop offset="0.688" stop-opacity="0.00"/><stop offset="0.750" stop-opacity="0.00"/><stop offset="0.812" stop-opacity="0.00"/><stop offset="0.875" stop-opacity="0.00"/><stop offset="0.938" stop-opacity="0.00"/><stop offset="1.000" stop-opacity="0.00"/></linearGradient><linearGradient id="cg55" class="pg"><stop offset="0.000" stop-opacity="0.00"/><stop offset="0.062" stop-opacity="0.00"/><stop offset="0.125" stop-opacity="0.00"/><stop offset="0.188" stop-opacity="0.00"/><stop offset="0.250" stop-opacity="0.07"/><stop offset="0.312" stop-opacity="0.35"/><stop offset="0.375" stop-opacity="0.77"/><stop offset="0.438" stop-opacity="0.98"/><stop offset="0.500" stop-opacity="1.00"/><stop offset="0.562" stop-opacity="0.88"/><stop offset="0.625" stop-opacity="0.51"/><stop offset="0.688" stop-opacity="0.14"/><stop offset="0.750" stop-opacity="0.01"/><stop offset="0.812" stop-opacity="0.00"/><stop offset="0.875" stop-opacity="0.00"/><stop offset="0.938" stop-opacity="0.00"/><stop offset="1.000" stop-opacity="0.00"/></linearGradient><linearGradient id="cg56" class="pg"><stop offset="0.000" stop-opacity="0.00"/><stop offset="0.062" stop-opacity="0.00"/><stop offset="0.125" stop-opacity="0.00"/><stop offset="0.188" stop-opacity="0.00"/><stop offset="0.250" stop-opacity="0.00"/><stop offset="0.312" stop-opacity="0.03"/><stop offset="0.375" stop-opacity="0.26"/><stop offset="0.438" stop-opacity="0.73"/><stop offset="0.500" stop-opacity="0.98"/><stop offset="0.562" stop-opacity="1.00"/><stop offset="0.625" stop-opacity="0.83"/><stop offset="0.688" stop-opacity="0.39"/><stop offset="0.750" stop-opacity="0.06"/><stop offset="0.812" stop-opacity="0.00"/><stop offset="0.875" stop-opacity="0.00"/><stop offset="0.938" stop-opacity="0.00"/><stop offset="1.000" stop-opacity="0.00"/></linearGradient><linearGradient id="cg57" class="pg"><stop offset="0.000" stop-opacity="0.00"/><stop offset="0.062" stop-opacity="0.00"/><stop offset="0.125" stop-opacity="0.00"/><stop offset="0.188" stop-opacity="0.00"/><stop offset="0.250" stop-opacity="0.00"/><stop offset="0.312" stop-opacity="0.07"/><stop offset="0.375" stop-opacity="0.51"/><stop offset="0.438" stop-opacity="0.96"/><stop offset="0.500" stop-opacity="1.00"/><stop offset="0.562" stop-opacity="0.72"/><stop offset="0.625" stop-opacity="0.17"/><stop offset="0.688" stop-opacity="0.01"/><stop offset="0.750" stop-opacity="0.00"/><stop offset="0.812" stop-opacity="0.00"/><stop offset="0.875" stop-opacity="0.00"/><stop offset="0.938" stop-opacity="0.00"/><stop offset="1.000" stop-opacity="0.00"/></linearGradient><linearGradient id="cg58" class="pg"><stop offset="0.000" stop-opacity="0.00"/><stop offset="0.062" stop-opacity="0.00"/><stop offset="0.125" stop-opacity="0.00"/><stop offset="0.188" stop-opacity="0.00"/><stop offset="0.250" stop-opacity="0.00"/><stop offset="0.312" stop-opacity="0.02"/><stop offset="0.375" stop-opacity="0.37"/><stop offset="0.438" stop-opacity="0.94"/><stop offset="0.500" stop-opacity="0.99"/><stop offset="0.562" stop-opacity="0.62"/><stop offset="0.625" stop-opacity="0.07"/><stop offset="0.688" stop-opacity="0.00"/><stop offset="0.750" stop-opacity="0.00"/><stop offset="0.812" stop-opacity="0.00"/><stop offset="0.875" stop-opacity="0.00"/><stop offset="0.938" stop-opacity="0.00"/><stop offset="1.000" stop-opacity="0.00"/></linearGradient><linearGradient id="cg59" class="pg"><stop offset="0.000" stop-opacity="0.00"/><stop offset="0.062" stop-opacity="0.00"/><stop offset="0.125" stop-opacity="0.00"/><stop offset="0.188" stop-opacity="0.00"/><stop offset="0.250" stop-opacity="0.00"/><stop offset="0.312" stop-opacity="0.01"/><stop offset="0.375" stop-opacity="0.17"/><stop offset="0.438" stop-opacity="0.72"/><stop offset="0.500" stop-opacity="1.00"/><stop offset="0.562" stop-opacity="0.96"/><stop offset="0.625" stop-opacity="0.51"/><stop offset="0.688" stop-opacity="0.07"/><stop offset="0.750" stop-opacity="0.00"/><stop offset="0.812" stop-opacity="0.00"/><stop offset="0.875" stop-opacity="0.00"/><stop offset="0.938" stop-opacity="0.00"/><stop offset="1.000" stop-opacity="0.00"/></linearGradient><linearGradient id="cg60" class="pg"><stop offset="0.000" stop-opacity="0.00"/><stop offset="0.062" stop-opacity="0.00"/><stop offset="0.125" stop-opacity="0.00"/><stop offset="0.188" stop-opacity="0.00"/><stop offset="0.250" stop-opacity="0.00"/><stop offset="0.312" stop-opacity="0.00"/><stop offset="0.375" stop-opacity="0.02"/><stop offset="0.438" stop-opacity="0.39"/><stop offset="0.500" stop-opacity="0.95"/><stop offset="0.562" stop-opacity="0.99"/><stop offset="0.625" stop-opacity="0.59"/><stop offset="0.688" stop-opacity="0.06"/><stop offset="0.750" stop-opacity="0.00"/><stop offset="0.812" stop-opacity="0.00"/><stop offset="0.875" stop-opacity="0.00"/><stop offset="0.938" stop-opacity="0.00"/><stop offset="1.000" stop-opacity="0.00"/></linearGradient><linearGradient id="cg61" class="pg"><stop offset="0.000" stop-opacity="0.00"/><stop offset="0.062" stop-opacity="0.00"/><stop offset="0.125" stop-opacity="0.00"/><stop offset="0.188" stop-opacity="0.00"/><stop offset="0.250" stop-opacity="0.00"/><stop offset="0.312" stop-opacity="0.00"/><stop offset="0.375" stop-opacity="0.03"/><stop offset="0.438" stop-opacity="0.28"/><stop offset="0.500" stop-opacity="0.74"/><stop offset="0.562" stop-opacity="0.98"/><stop offset="0.625" stop-opacity="1.00"/><stop offset="0.688" stop-opacity="0.82"/><stop offset="0.750" stop-opacity="0.37"/><stop offset="0.812" stop-opacity="0.06"/><stop offset="0.875" stop-opacity="0.00"/><stop offset="0.938" stop-opacity="0.00"/><stop offset="1.000" stop-opacity="0.00"/></linearGradient><linearGradient id="cg62" class="pg"><stop offset="0.000" stop-opacity="0.00"/><stop offset="0.062" stop-opacity="0.00"/><stop offset="0.125" stop-opacity="0.00"/><stop offset="0.188" stop-opacity="0.00"/><stop offset="0.250" stop-opacity="0.00"/><stop offset="0.312" stop-opacity="0.00"/><stop offset="0.375" stop-opacity="0.08"/><stop offset="0.438" stop-opacity="0.42"/><stop offset="0.500" stop-opacity="0.86"/><stop offset="0.562" stop-opacity="1.00"/><stop offset="0.625" stop-opacity="0.97"/><stop offset="0.688" stop-opacity="0.69"/><stop offset="0.750" stop-opacity="0.23"/><stop offset="0.812" stop-opacity="0.02"/><stop offset="0.875" stop-opacity="0.00"/><stop offset="0.938" stop-opacity="0.00"/><stop offset="1.000" stop-opacity="0.00"/></linearGradient><linearGradient id="cg63" class="pg"><stop offset="0.000" stop-opacity="0.00"/><stop offset="0.062" stop-opacity="0.00"/><stop offset="0.125" stop-opacity="0.00"/><stop offset="0.188" stop-opacity="0.00"/><stop offset="0.250" stop-opacity="0.00"/><stop offset="0.312" stop-opacity="0.00"/><stop offset="0.375" stop-opacity="0.00"/><stop offset="0.438" stop-opacity="0.08"/><stop offset="0.500" stop-opacity="0.64"/><stop offset="0.562" stop-opacity="1.00"/><stop offset="0.625" stop-opacity="0.92"/><stop offset="0.688" stop-opacity="0.34"/><stop offset="0.750" stop-opacity="0.01"/><stop offset="0.812" stop-opacity="0.00"/><stop offset="0.875" stop-opacity="0.00"/><stop offset="0.938" stop-opacity="0.00"/><stop offset="1.000" stop-opacity="0.00"/></linearGradient><linearGradient id="cg64" class="pg"><stop offset="0.000" stop-opacity="0.00"/><stop offset="0.062" stop-opacity="0.00"/><stop offset="0.125" stop-opacity="0.00"/><stop offset="0.188" stop-opacity="0.00"/><stop offset="0.250" stop-opacity="0.00"/><stop offset="0.312" stop-opacity="0.00"/><stop offset="0.375" stop-opacity="0.00"/><stop offset="0.438" stop-opacity="0.08"/><stop offset="0.500" stop-opacity="0.74"/><stop offset="0.562" stop-opacity="1.00"/><stop offset="0.625" stop-opacity="0.69"/><stop offset="0.688" stop-opacity="0.06"/><stop offset="0.750" stop-opacity="0.00"/><stop offset="0.812" stop-opacity="0.00"/><stop offset="0.875" stop-opacity="0.00"/><stop offset="0.938" stop-opacity="0.00"/><stop offset="1.000" stop-opacity="0.00"/></linearGradient><linearGradient id="cg65" class="pg"><stop offset="0.000" stop-opacity="0.00"/><stop offset="0.062" stop-opacity="0.00"/><stop offset="0.125" stop-opacity="0.00"/><stop offset="0.188" stop-opacity="0.00"/><stop offset="0.250" stop-opacity="0.00"/><stop offset="0.312" stop-opacity="0.00"/><stop offset="0.375" stop-opacity="0.03"/><stop offset="0.438" stop-opacity="0.35"/><stop offset="0.500" stop-opacity="0.88"/><stop offset="0.562" stop-opacity="1.00"/><stop offset="0.625" stop-opacity="0.85"/><stop offset="0.688" stop-opacity="0.30"/><stop offset="0.750" stop-opacity="0.02"/><stop offset="0.812" stop-opacity="0.00"/><stop offset="0.875" stop-opacity="0.00"/><stop offset="0.938" stop-opacity="0.00"/><stop offset="1.000" stop-opacity="0.00"/></linearGradient><linearGradient id="cg66" class="pg"><stop offset="0.000" stop-opacity="0.00"/><stop offset="0.062" stop-opacity="0.00"/><stop offset="0.125" stop-opacity="0.00"/><stop offset="0.188" stop-opacity="0.00"/><stop offset="0.250" stop-opacity="0.00"/><stop offset="0.312" stop-opacity="0.02"/><stop offset="0.375" stop-opacity="0.32"/><stop offset="0.438" stop-opacity="0.87"/><stop offset="0.500" stop-opacity="1.00"/><stop offset="0.562" stop-opacity="0.87"/><stop offset="0.625" stop-opacity="0.32"/><stop offset="0.688" stop-opacity="0.02"/><stop offset="0.750" stop-opacity="0.00"/><stop offset="0.812" stop-opacity="0.00"/><stop offset="0.875" stop-opacity="0.00"/><stop offset="0.938" stop-opacity="0.00"/><stop offset="1.000" stop-opacity="0.00"/></linearGradient><linearGradient id="cg67" class="pg"><stop offset="0.000" stop-opacity="0.00"/><stop offset="0.062" stop-opacity="0.00"/><stop offset="0.125" stop-opacity="0.00"/><stop offset="0.188" stop-opacity="0.00"/><stop offset="0.250" stop-opacity="0.06"/><stop offset="0.312" stop-opacity="0.39"/><stop offset="0.375" stop-opacity="0.83"/><stop offset="0.438" stop-opacity="1.00"/><stop offset="0.500" stop-opacity="0.98"/><stop offset="0.562" stop-opacity="0.73"/><stop offset="0.625" stop-opacity="0.26"/><stop offset="0.688" stop-opacity="0.03"/><stop offset="0.750" stop-opacity="0.00"/><stop offset="0.812" stop-opacity="0.00"/><stop offset="0.875" stop-opacity="0.00"/><stop offset="0.938" stop-opacity="0.00"/><stop offset="1.000" stop-opacity="0.00"/></linearGradient><linearGradient id="cg68" class="pg"><stop offset="0.000" stop-opacity="0.00"/><stop offset="0.062" stop-opacity="0.00"/><stop offset="0.125" stop-opacity="0.00"/><stop offset="0.188" stop-opacity="0.00"/><stop offset="0.250" stop-opacity="0.00"/><stop offset="0.312" stop-opacity="0.01"/><stop offset="0.375" stop-opacity="0.43"/><stop offset="0.438" stop-opacity="0.98"/><stop offset="0.500" stop-opacity="0.92"/><stop offset="0.562" stop-opacity="0.23"/><stop offset="0.625" stop-opacity="0.00"/><stop offset="0.688" stop-opacity="0.00"/><stop offset="0.750" stop-opacity="0.00"/><stop offset="0.812" stop-opacity="0.00"/><stop offset="0.875" stop-opacity="0.00"/><stop offset="0.938" stop-opacity="0.00"/><stop offset="1.000" stop-opacity="0.00"/></linearGradient><linearGradient id="cg69" class="pg"><stop offset="0.000" stop-opacity="0.00"/><stop offset="0.062" stop-opacity="0.01"/><stop offset="0.125" stop-opacity="0.06"/><stop offset="0.188" stop-opacity="0.24"/><stop offset="0.250" stop-opacity="0.55"/><stop offset="0.312" stop-opacity="0.83"/><stop offset="0.375" stop-opacity="0.98"/><stop offset="0.438" stop-opacity="1.00"/><stop offset="0.500" stop-opacity="0.98"/><stop offset="0.562" stop-opacity="0.85"/><stop offset="0.625" stop-opacity="0.57"/><stop offset="0.688" stop-opacity="0.26"/><stop offset="0.750" stop-opacity="0.07"/><stop offset="0.812" stop-opacity="0.01"/><stop offset="0.875" stop-opacity="0.00"/><stop offset="0.938" stop-opacity="0.00"/><stop offset="1.000" stop-opacity="0.00"/></linearGradient><linearGradient id="cg70" class="pg"><stop offset="0.000" stop-opacity="0.00"/><stop offset="0.062" stop-opacity="0.00"/><stop offset="0.125" stop-opacity="0.00"/><stop offset="0.188" stop-opacity="0.00"/><stop offset="0.250" stop-opacity="0.02"/><stop offset="0.312" stop-opacity="0.12"/><stop offset="0.375" stop-opacity="0.37"/><stop offset="0.438" stop-opacity="0.69"/><stop offset="0.500" stop-opacity="0.92"/><stop offset="0.562" stop-opacity="1.00"/><stop offset="0.625" stop-opacity="1.00"/><stop offset="0.688" stop-opacity="0.94"/><stop offset="0.750" stop-opacity="0.74"/><stop offset="0.812" stop-opacity="0.43"/><stop offset="0.875" stop-opacity="0.16"/><stop offset="0.938" stop-opacity="0.03"/><stop offset="1.000" stop-opacity="0.00"/></linearGradient><linearGradient id="cg71" class="pg"><stop offset="0.000" stop-opacity="0.00"/><stop offset="0.062" stop-opacity="0.00"/><stop offset="0.125" stop-opacity="0.00"/><stop offset="0.188" stop-opacity="0.04"/><stop offset="0.250" stop-opacity="0.19"/><stop offset="0.312" stop-opacity="0.49"/><stop offset="0.375" stop-opacity="0.81"/><stop offset="0.438" stop-opacity="0.97"/><stop offset="0.500" stop-opacity="1.00"/><stop offset="0.562" stop-opacity="0.97"/><stop offset="0.625" stop-opacity="0.81"/><stop offset="0.688" stop-opacity="0.49"/><stop offset="0.750" stop-opacity="0.19"/><stop offset="0.812" stop-opacity="0.04"/><stop offset="0.875" stop-opacity="0.00"/><stop offset="0.938" stop-opacity="0.00"/><stop offset="1.000" stop-opacity="0.00"/></linearGradient><linearGradient id="cg72" class="pg"><stop offset="0.000" stop-opacity="0.00"/><stop offset="0.062" stop-opacity="0.01"/><stop offset="0.125" stop-opacity="0.07"/><stop offset="0.188" stop-opacity="0.22"/><stop offset="0.250" stop-opacity="0.48"/><stop offset="0.312" stop-opacity="0.75"/><stop offset="0.375" stop-opacity="0.93"/><stop offset="0.438" stop-opacity="1.00"/><stop offset="0.500" stop-opacity="1.00"/><stop offset="0.562" stop-opacity="0.97"/><stop offset="0.625" stop-opacity="0.83"/><stop offset="0.688" stop-opacity="0.58"/><stop offset="0.750" stop-opacity="0.31"/><stop offset="0.812" stop-opacity="0.11"/><stop offset="0.875" stop-opacity="0.02"/><stop offset="0.938" stop-opacity="0.00"/><stop offset="1.000" stop-opacity="0.00"/></linearGradient><linearGradient id="cg73" class="pg"><stop offset="0.000" stop-opacity="0.00"/><stop offset="0.062" stop-opacity="0.00"/><stop offset="0.125" stop-opacity="0.00"/><stop offset="0.188" stop-opacity="0.00"/><stop offset="0.250" stop-opacity="0.01"/><stop offset="0.312" stop-opacity="0.08"/><stop offset="0.375" stop-opacity="0.29"/><stop offset="0.438" stop-opacity="0.63"/><stop offset="0.500" stop-opacity="0.90"/><stop offset="0.562" stop-opacity="0.99"/><stop offset="0.625" stop-opacity="1.00"/><stop offset="0.688" stop-opacity="0.93"/><stop offset="0.750" stop-opacity="0.69"/><stop offset="0.812" stop-opacity="0.35"/><stop offset="0.875" stop-opacity="0.11"/><stop offset="0.938" stop-opacity="0.02"/><stop offset="1.000" stop-opacity="0.00"/></linearGradient><linearGradient id="cg74" class="pg"><stop offset="0.000" stop-opacity="0.00"/><stop offset="0.062" stop-opacity="0.00"/><stop offset="0.125" stop-opacity="0.02"/><stop offset="0.188" stop-opacity="0.11"/><stop offset="0.250" stop-opacity="0.34"/><stop offset="0.312" stop-opacity="0.66"/><stop offset="0.375" stop-opacity="0.90"/><stop offset="0.438" stop-opacity="0.99"/><stop offset="0.500" stop-opacity="1.00"/><stop offset="0.562" stop-opacity="0.95"/><stop offset="0.625" stop-opacity="0.77"/><stop offset="0.688" stop-opacity="0.46"/><stop offset="0.750" stop-opacity="0.18"/><stop offset="0.812" stop-opacity="0.04"/><stop offset="0.875" stop-opacity="0.00"/><stop offset="0.938" stop-opacity="0.00"/><stop offset="1.000" stop-opacity="0.00"/></linearGradient><linearGradient id="cg75" class="pg"><stop offset="0.000" stop-opacity="0.00"/><stop offset="0.062" stop-opacity="0.00"/><stop offset="0.125" stop-opacity="0.00"/><stop offset="0.188" stop-opacity="0.00"/><stop offset="0.250" stop-opacity="0.00"/><stop offset="0.312" stop-opacity="0.01"/><stop offset="0.375" stop-opacity="0.08"/><stop offset="0.438" stop-opacity="0.38"/><stop offset="0.500" stop-opacity="0.80"/><stop offset="0.562" stop-opacity="0.99"/><stop offset="0.625" stop-opacity="1.00"/><stop offset="0.688" stop-opacity="0.86"/><stop offset="0.750" stop-opacity="0.47"/><stop offset="0.812" stop-opacity="0.12"/><stop offset="0.875" stop-opacity="0.01"/><stop offset="0.938" stop-opacity="0.00"/><stop offset="1.000" stop-opacity="0.00"/></linearGradient><linearGradient id="cg76" class="pg"><stop offset="0.000" stop-opacity="0.00"/><stop offset="0.062" stop-opacity="0.00"/><stop offset="0.125" stop-opacity="0.00"/><stop offset="0.188" stop-opacity="0.00"/><stop offset="0.250" stop-opacity="0.00"/><stop offset="0.312" stop-opacity="0.00"/><stop offset="0.375" stop-opacity="0.04"/><stop offset="0.438" stop-opacity="0.26"/><stop offset="0.500" stop-opacity="0.68"/><stop offset="0.562" stop-opacity="0.96"/><stop offset="0.625" stop-opacity="1.00"/><stop offset="0.688" stop-opacity="0.93"/><stop offset="0.750" stop-opacity="0.61"/><stop offset="0.812" stop-opacity="0.20"/><stop offset="0.875" stop-opacity="0.02"/><stop offset="0.938" stop-opacity="0.00"/><stop offset="1.000" stop-opacity="0.00"/></linearGradient><linearGradient id="cg77" class="pg"><stop offset="0.000" stop-opacity="0.00"/><stop offset="0.062" stop-opacity="0.00"/><stop offset="0.125" stop-opacity="0.00"/><stop offset="0.188" stop-opacity="0.00"/><stop offset="0.250" stop-opacity="0.00"/><stop offset="0.312" stop-opacity="0.00"/><stop offset="0.375" stop-opacity="0.00"/><stop offset="0.438" stop-opacity="0.08"/><stop offset="0.500" stop-opacity="0.56"/><stop offset="0.562" stop-opacity="0.97"/><stop offset="0.625" stop-opacity="0.99"/><stop offset="0.688" stop-opacity="0.68"/><stop offset="0.750" stop-opacity="0.14"/><stop offset="0.812" stop-opacity="0.00"/><stop offset="0.875" stop-opacity="0.00"/><stop offset="0.938" stop-opacity="0.00"/><stop offset="1.000" stop-opacity="0.00"/></linearGradient><linearGradient id="cg78" class="pg"><stop offset="0.000" stop-opacity="0.00"/><stop offset="0.062" stop-opacity="0.00"/><stop offset="0.125" stop-opacity="0.00"/><stop offset="0.188" stop-opacity="0.00"/><stop offset="0.250" stop-opacity="0.00"/><stop offset="0.312" stop-opacity="0.00"/><stop offset="0.375" stop-opacity="0.07"/><stop offset="0.438" stop-opacity="0.54"/><stop offset="0.500" stop-opacity="0.96"/><stop offset="0.562" stop-opacity="0.99"/><stop offset="0.625" stop-opacity="0.70"/><stop offset="0.688" stop-opacity="0.16"/><stop offset="0.750" stop-opacity="0.00"/><stop offset="0.812" stop-opacity="0.00"/><stop offset="0.875" stop-opacity="0.00"/><stop offset="0.938" stop-opacity="0.00"/><stop offset="1.000" stop-opacity="0.00"/></linearGradient><linearGradient id="cg79" class="pg"><stop offset="0.000" stop-opacity="0.00"/><stop offset="0.062" stop-opacity="0.00"/><stop offset="0.125" stop-opacity="0.00"/><stop offset="0.188" stop-opacity="0.00"/><stop offset="0.250" stop-opacity="0.00"/><stop offset="0.312" stop-opacity="0.00"/><stop offset="0.375" stop-opacity="0.00"/><stop offset="0.438" stop-opacity="0.08"/><stop offset="0.500" stop-opacity="0.50"/><stop offset="0.562" stop-opacity="0.93"/><stop offset="0.625" stop-opacity="1.00"/><stop offset="0.688" stop-opacity="0.88"/><stop offset="0.750" stop-opacity="0.41"/><stop offset="0.812" stop-opacity="0.06"/><stop offset="0.875" stop-opacity="0.00"/><stop offset="0.938" stop-opacity="0.00"/><stop offset="1.000" stop-opacity="0.00"/></linearGradient><linearGradient id="cg80" class="pg"><stop offset="0.000" stop-opacity="0.00"/><stop offset="0.062" stop-opacity="0.00"/><stop offset="0.125" stop-opacity="0.00"/><stop offset="0.188" stop-opacity="0.00"/><stop offset="0.250" stop-opacity="0.00"/><stop offset="0.312" stop-opacity="0.16"/><stop offset="0.375" stop-opacity="0.70"/><stop offset="0.438" stop-opacity="0.99"/><stop offset="0.500" stop-opacity="0.96"/><stop offset="0.562" stop-opacity="0.54"/><stop offset="0.625" stop-opacity="0.07"/><stop offset="0.688" stop-opacity="0.00"/><stop offset="0.750" stop-opacity="0.00"/><stop offset="0.812" stop-opacity="0.00"/><stop offset="0.875" stop-opacity="0.00"/><stop offset="0.938" stop-opacity="0.00"/><stop offset="1.000" stop-opacity="0.00"/></linearGradient><linearGradient id="cg81" class="pg"><stop offset="0.000" stop-opacity="0.00"/><stop offset="0.062" stop-opacity="0.00"/><stop offset="0.125" stop-opacity="0.00"/><stop offset="0.188" stop-opacity="0.01"/><stop offset="0.250" stop-opacity="0.12"/><stop offset="0.312" stop-opacity="0.45"/><stop offset="0.375" stop-opacity="0.82"/><stop offset="0.438" stop-opacity="0.99"/><stop offset="0.500" stop-opacity="1.00"/><stop offset="0.562" stop-opacity="0.91"/><stop offset="0.625" stop-opacity="0.59"/><stop offset="0.688" stop-opacity="0.22"/><stop offset="0.750" stop-opacity="0.03"/><stop offset="0.812" stop-opacity="0.00"/><stop offset="0.875" stop-opacity="0.00"/><stop offset="0.938" stop-opacity="0.00"/><stop offset="1.000" stop-opacity="0.00"/></linearGradient><linearGradient id="pcb85"><stop offset="0.000" stop-color="#f6f6fa"/><stop offset="0.167" stop-color="#d7d4e6"/><stop offset="0.333" stop-color="#b9b2d1"/><stop offset="0.500" stop-color="#9a90bd"/><stop offset="0.667" stop-color="#7b6ea9"/><stop offset="0.833" stop-color="#5d4c94"/><stop offset="1.000" stop-color="#3e2a80"/></linearGradient><linearGradient id="pcb86"><stop offset="0.000" stop-color="#f6f6fa"/><stop offset="0.167" stop-color="#d7d4e6"/><stop offset="0.333" stop-color="#b9b2d1"/><stop offset="0.500" stop-color="#9a90bd"/><stop offset="0.667" stop-color="#7b6ea9"/><stop offset="0.833" stop-color="#5d4c94"/><stop offset="1.000" stop-color="#3e2a80"/></linearGradient></defs><text x="-0.80" y="11.80" font-weight="bold" font-size="10" fill="#000">a</text>
<text x="358.50" y="12.20" font-weight="bold" font-size="10" fill="#000">b</text>
<text x="-0.80" y="190.80" font-weight="bold" font-size="10" fill="#000">c</text>
<text x="362.00" y="189.80" font-weight="bold" font-size="10" fill="#000">d</text>
<text x="-0.50" y="365.80" font-weight="bold" font-size="10" fill="#000">e</text>
<text x="364.20" y="328.00" font-weight="bold" font-size="10" fill="#000">f</text>
<text x="-0.80" y="679.20" font-weight="bold" font-size="10" fill="#000">g</text>
<text x="422.30" y="683.20" font-weight="bold" font-size="10" fill="#000">h</text>
<text x="-0.50" y="823.60" font-weight="bold" font-size="10" fill="#000">i</text>
<text x="420.80" y="807.90" font-weight="bold" font-size="10" fill="#000">j</text>
<text x="85.00" y="17.90" text-anchor="middle">AR signature (Bluemn)</text>
<line x1="36.50" y1="24.00" x2="36.50" y2="115.60" stroke="#333" stroke-width="0.9"/>
<line x1="36.10" y1="115.30" x2="124.60" y2="115.30" stroke="#333" stroke-width="0.9"/>
<line x1="34.60" y1="110.90" x2="36.50" y2="110.90" stroke="#333" stroke-width="0.9"/>
<text x="33.90" y="113.85" text-anchor="end" fill="#3a3a3a">0</text>
<line x1="34.60" y1="92.15" x2="36.50" y2="92.15" stroke="#333" stroke-width="0.9"/>
<text x="33.90" y="95.10" text-anchor="end" fill="#3a3a3a">10</text>
<line x1="34.60" y1="73.40" x2="36.50" y2="73.40" stroke="#333" stroke-width="0.9"/>
<text x="33.90" y="76.35" text-anchor="end" fill="#3a3a3a">20</text>
<line x1="34.60" y1="54.65" x2="36.50" y2="54.65" stroke="#333" stroke-width="0.9"/>
<text x="33.90" y="57.60" text-anchor="end" fill="#3a3a3a">30</text>
<line x1="34.60" y1="35.90" x2="36.50" y2="35.90" stroke="#333" stroke-width="0.9"/>
<text x="33.90" y="38.85" text-anchor="end" fill="#3a3a3a">40</text>
<text x="19.80" y="65.00" text-anchor="middle" transform="rotate(-90 19.80 65.00)">signature score</text>
<line x1="48.70" y1="115.30" x2="48.70" y2="117.20" stroke="#333" stroke-width="0.9"/>
<text x="49.70" y="118.90" text-anchor="end" transform="rotate(-90 49.70 118.90)" fill="#3a3a3a">DMSO</text>
<line x1="69.90" y1="115.30" x2="69.90" y2="117.20" stroke="#333" stroke-width="0.9"/>
<text x="70.90" y="118.90" text-anchor="end" transform="rotate(-90 70.90 118.90)" fill="#3a3a3a">Enza</text>
<line x1="91.30" y1="115.30" x2="91.30" y2="117.20" stroke="#333" stroke-width="0.9"/>
<text x="92.30" y="118.90" text-anchor="end" transform="rotate(-90 92.30 118.90)" fill="#3a3a3a">ARV110</text>
<line x1="112.50" y1="115.30" x2="112.50" y2="117.20" stroke="#333" stroke-width="0.9"/>
<text x="113.50" y="118.90" text-anchor="end" transform="rotate(-90 113.50 118.90)" fill="#3a3a3a">SMARCA2_4.1</text>
<path d="M48.38,110.90 L48.33,109.21 L48.27,107.53 L48.20,105.84 L48.11,104.15 L48.01,102.46 L47.92,100.78 L47.82,99.09 L47.73,97.40 L47.66,95.71 L47.62,94.03 L47.60,92.34 L47.61,90.65 L47.65,88.96 L47.72,87.28 L47.80,85.59 L47.89,83.90 L47.99,82.21 L48.09,80.53 L48.18,78.84 L48.26,77.15 L48.32,75.46 L48.37,73.78 L48.41,72.09 L48.44,70.40 L48.46,68.71 L48.48,67.03 L48.49,65.34 L48.49,63.65 L48.50,61.96 L48.50,60.28 L48.50,58.59 L48.50,56.90 L48.50,55.21 L48.50,53.53 L48.50,51.84 L48.50,50.15 L48.50,48.46 L48.50,46.78 L48.50,45.09 L48.50,43.40 L48.90,43.40 L48.90,45.09 L48.90,46.78 L48.90,48.46 L48.90,50.15 L48.90,51.84 L48.90,53.53 L48.90,55.21 L48.90,56.90 L48.90,58.59 L48.90,60.28 L48.90,61.96 L48.91,63.65 L48.91,65.34 L48.92,67.03 L48.94,68.71 L48.96,70.40 L48.99,72.09 L49.03,73.78 L49.08,75.46 L49.14,77.15 L49.22,78.84 L49.31,80.53 L49.41,82.21 L49.51,83.90 L49.60,85.59 L49.68,87.28 L49.75,88.96 L49.79,90.65 L49.80,92.34 L49.78,94.03 L49.74,95.71 L49.67,97.40 L49.58,99.09 L49.48,100.78 L49.39,102.46 L49.29,104.15 L49.20,105.84 L49.13,107.53 L49.07,109.21 L49.02,110.90Z" fill="#9a9c9e" stroke="#2a2a2a" stroke-width="0.6"/>
<rect x="47.40" y="81.28" width="2.6" height="17.44" fill="#a9abad" stroke="#555" stroke-width="0.4"/>
<line x1="47.40" y1="90.65" x2="50.00" y2="90.65" stroke="#333" stroke-width="0.7"/>
<line x1="48.70" y1="43.40" x2="48.70" y2="81.28" stroke="#444" stroke-width="0.8"/>
<circle cx="48.70" cy="26.90" r="1.4" fill="#2a2a2a"/>
<circle cx="48.70" cy="31.78" r="1.4" fill="#2a2a2a"/>
<circle cx="48.70" cy="56.53" r="1.4" fill="#2a2a2a"/>
<circle cx="48.70" cy="55.49" r="1.4" fill="#2a2a2a"/>
<circle cx="48.70" cy="54.46" r="1.4" fill="#2a2a2a"/>
<circle cx="48.70" cy="53.43" r="1.4" fill="#2a2a2a"/>
<circle cx="48.70" cy="52.40" r="1.4" fill="#2a2a2a"/>
<circle cx="48.70" cy="51.37" r="1.4" fill="#2a2a2a"/>
<circle cx="48.70" cy="50.34" r="1.4" fill="#2a2a2a"/>
<circle cx="48.70" cy="49.31" r="1.4" fill="#2a2a2a"/>
<circle cx="48.70" cy="48.28" r="1.4" fill="#2a2a2a"/>
<circle cx="48.70" cy="47.24" r="1.4" fill="#2a2a2a"/>
<circle cx="48.70" cy="46.21" r="1.4" fill="#2a2a2a"/>
<circle cx="48.70" cy="45.18" r="1.4" fill="#2a2a2a"/>
<circle cx="48.70" cy="44.15" r="1.4" fill="#2a2a2a"/>
<circle cx="48.70" cy="43.12" r="1.4" fill="#2a2a2a"/>
<circle cx="48.70" cy="42.09" r="1.4" fill="#2a2a2a"/>
<circle cx="48.70" cy="41.06" r="1.4" fill="#2a2a2a"/>
<circle cx="48.70" cy="40.03" r="1.4" fill="#2a2a2a"/>
<circle cx="48.70" cy="38.99" r="1.4" fill="#2a2a2a"/>
<path d="M67.30,110.53 L66.93,109.88 L66.63,109.23 L66.41,108.58 L66.31,107.94 L66.33,107.29 L66.47,106.64 L66.71,106.00 L67.04,105.35 L67.41,104.70 L67.80,104.06 L68.18,103.41 L68.52,102.76 L68.81,102.12 L69.04,101.47 L69.22,100.82 L69.35,100.18 L69.44,99.53 L69.51,98.88 L69.54,98.23 L69.57,97.59 L69.58,96.94 L69.59,96.29 L69.60,95.65 L69.60,95.00 L69.60,94.35 L69.60,93.71 L69.60,93.06 L69.60,92.41 L69.60,91.77 L69.60,91.12 L69.60,90.47 L69.60,89.83 L69.60,89.18 L69.60,88.53 L69.60,87.88 L69.60,87.24 L69.60,86.59 L69.60,85.94 L69.60,85.30 L69.60,84.65 L70.20,84.65 L70.20,85.30 L70.20,85.94 L70.20,86.59 L70.20,87.24 L70.20,87.88 L70.20,88.53 L70.20,89.18 L70.20,89.83 L70.20,90.47 L70.20,91.12 L70.20,91.77 L70.20,92.41 L70.20,93.06 L70.20,93.71 L70.20,94.35 L70.20,95.00 L70.20,95.65 L70.21,96.29 L70.22,96.94 L70.23,97.59 L70.26,98.23 L70.29,98.88 L70.36,99.53 L70.45,100.18 L70.58,100.82 L70.76,101.47 L70.99,102.12 L71.28,102.76 L71.62,103.41 L72.00,104.06 L72.39,104.70 L72.76,105.35 L73.09,106.00 L73.33,106.64 L73.47,107.29 L73.49,107.94 L73.39,108.58 L73.17,109.23 L72.87,109.88 L72.50,110.53Z" fill="#e8212e" stroke="#2a2a2a" stroke-width="0.75"/>
<line x1="69.90" y1="100.59" x2="69.90" y2="85.59" stroke="#2a2a2a" stroke-width="0.6"/>
<line x1="69.90" y1="107.90" x2="69.90" y2="110.15" stroke="#2a2a2a" stroke-width="0.6"/>
<rect x="68.70" y="100.59" width="2.40" height="7.31" fill="none" stroke="#2a2a2a" stroke-width="0.55"/>
<line x1="68.70" y1="105.28" x2="71.10" y2="105.28" stroke="#2a2a2a" stroke-width="0.7"/>
<line x1="69.90" y1="42.46" x2="69.90" y2="85.59" stroke="#444" stroke-width="0.8"/>
<circle cx="69.90" cy="42.46" r="1.4" fill="#2a2a2a"/>
<circle cx="69.90" cy="58.40" r="1.4" fill="#2a2a2a"/>
<circle cx="69.90" cy="64.03" r="1.4" fill="#2a2a2a"/>
<circle cx="69.90" cy="68.71" r="1.4" fill="#2a2a2a"/>
<circle cx="69.90" cy="85.78" r="1.4" fill="#2a2a2a"/>
<circle cx="69.90" cy="84.84" r="1.4" fill="#2a2a2a"/>
<circle cx="69.90" cy="83.90" r="1.4" fill="#2a2a2a"/>
<circle cx="69.90" cy="82.96" r="1.4" fill="#2a2a2a"/>
<circle cx="69.90" cy="82.03" r="1.4" fill="#2a2a2a"/>
<circle cx="69.90" cy="81.09" r="1.4" fill="#2a2a2a"/>
<circle cx="69.90" cy="80.15" r="1.4" fill="#2a2a2a"/>
<circle cx="69.90" cy="79.21" r="1.4" fill="#2a2a2a"/>
<circle cx="69.90" cy="78.28" r="1.4" fill="#2a2a2a"/>
<circle cx="69.90" cy="77.34" r="1.4" fill="#2a2a2a"/>
<circle cx="69.90" cy="76.40" r="1.4" fill="#2a2a2a"/>
<circle cx="69.90" cy="75.46" r="1.4" fill="#2a2a2a"/>
<circle cx="69.90" cy="74.53" r="1.4" fill="#2a2a2a"/>
<circle cx="69.90" cy="73.59" r="1.4" fill="#2a2a2a"/>
<circle cx="69.90" cy="72.65" r="1.4" fill="#2a2a2a"/>
<circle cx="69.90" cy="71.71" r="1.4" fill="#2a2a2a"/>
<path d="M88.72,110.53 L88.44,110.02 L88.19,109.51 L87.99,109.01 L87.86,108.50 L87.80,107.99 L87.83,107.49 L87.93,106.98 L88.11,106.48 L88.34,105.97 L88.61,105.46 L88.91,104.96 L89.22,104.45 L89.52,103.94 L89.80,103.44 L90.05,102.93 L90.27,102.43 L90.45,101.92 L90.60,101.41 L90.71,100.91 L90.80,100.40 L90.86,99.89 L90.91,99.39 L90.94,98.88 L90.96,98.38 L90.98,97.87 L90.99,97.36 L90.99,96.86 L91.00,96.35 L91.00,95.84 L91.00,95.34 L91.00,94.83 L91.00,94.33 L91.00,93.82 L91.00,93.31 L91.00,92.81 L91.00,92.30 L91.00,91.79 L91.00,91.29 L91.00,90.78 L91.00,90.28 L91.60,90.28 L91.60,90.78 L91.60,91.29 L91.60,91.79 L91.60,92.30 L91.60,92.81 L91.60,93.31 L91.60,93.82 L91.60,94.33 L91.60,94.83 L91.60,95.34 L91.60,95.84 L91.60,96.35 L91.61,96.86 L91.61,97.36 L91.62,97.87 L91.64,98.38 L91.66,98.88 L91.69,99.39 L91.74,99.89 L91.80,100.40 L91.89,100.91 L92.00,101.41 L92.15,101.92 L92.33,102.43 L92.55,102.93 L92.80,103.44 L93.08,103.94 L93.38,104.45 L93.69,104.96 L93.99,105.46 L94.26,105.97 L94.49,106.48 L94.67,106.98 L94.77,107.49 L94.80,107.99 L94.74,108.50 L94.61,109.01 L94.41,109.51 L94.16,110.02 L93.88,110.53Z" fill="#3a5ba8" stroke="#2a2a2a" stroke-width="0.75"/>
<line x1="91.30" y1="102.28" x2="91.30" y2="91.21" stroke="#2a2a2a" stroke-width="0.6"/>
<line x1="91.30" y1="108.65" x2="91.30" y2="110.34" stroke="#2a2a2a" stroke-width="0.6"/>
<rect x="90.10" y="102.28" width="2.40" height="6.38" fill="none" stroke="#2a2a2a" stroke-width="0.55"/>
<line x1="90.10" y1="106.03" x2="92.50" y2="106.03" stroke="#2a2a2a" stroke-width="0.7"/>
<circle cx="91.30" cy="89.90" r="1.4" fill="#2a2a2a"/>
<circle cx="91.30" cy="89.00" r="1.4" fill="#2a2a2a"/>
<circle cx="91.30" cy="88.10" r="1.4" fill="#2a2a2a"/>
<circle cx="91.30" cy="87.20" r="1.4" fill="#2a2a2a"/>
<circle cx="91.30" cy="86.30" r="1.4" fill="#2a2a2a"/>
<circle cx="91.30" cy="85.40" r="1.4" fill="#2a2a2a"/>
<circle cx="91.30" cy="84.50" r="1.4" fill="#2a2a2a"/>
<circle cx="91.30" cy="83.60" r="1.4" fill="#2a2a2a"/>
<circle cx="91.30" cy="82.70" r="1.4" fill="#2a2a2a"/>
<circle cx="91.30" cy="81.80" r="1.4" fill="#2a2a2a"/>
<circle cx="91.30" cy="80.90" r="1.4" fill="#2a2a2a"/>
<circle cx="91.30" cy="80.00" r="1.4" fill="#2a2a2a"/>
<circle cx="91.30" cy="79.10" r="1.4" fill="#2a2a2a"/>
<circle cx="91.30" cy="78.20" r="1.4" fill="#2a2a2a"/>
<circle cx="91.30" cy="77.30" r="1.4" fill="#2a2a2a"/>
<circle cx="91.30" cy="76.40" r="1.4" fill="#2a2a2a"/>
<circle cx="91.30" cy="75.50" r="1.4" fill="#2a2a2a"/>
<circle cx="91.30" cy="74.60" r="1.4" fill="#2a2a2a"/>
<circle cx="91.30" cy="73.70" r="1.4" fill="#2a2a2a"/>
<circle cx="91.30" cy="72.80" r="1.4" fill="#2a2a2a"/>
<path d="M112.35,111.37 L111.48,111.22 L109.34,111.07 L106.92,110.93 L105.03,110.78 L103.92,110.63 L103.41,110.48 L103.23,110.34 L103.56,110.19 L103.93,110.04 L104.31,109.89 L104.68,109.74 L105.05,109.60 L105.41,109.45 L105.77,109.30 L106.12,109.15 L106.46,109.01 L106.80,108.86 L107.14,108.71 L107.47,108.56 L107.79,108.42 L108.11,108.27 L108.41,108.12 L108.72,107.97 L109.01,107.83 L109.30,107.68 L109.58,107.53 L109.85,107.38 L110.12,107.23 L110.38,107.09 L110.62,106.94 L110.86,106.79 L111.09,106.64 L111.30,106.50 L111.50,106.35 L111.70,106.20 L111.87,106.05 L112.03,105.91 L112.17,105.76 L112.28,105.61 L112.35,105.46 L112.65,105.46 L112.72,105.61 L112.83,105.76 L112.97,105.91 L113.13,106.05 L113.30,106.20 L113.50,106.35 L113.70,106.50 L113.91,106.64 L114.14,106.79 L114.38,106.94 L114.62,107.09 L114.88,107.23 L115.15,107.38 L115.42,107.53 L115.70,107.68 L115.99,107.83 L116.28,107.97 L116.59,108.12 L116.89,108.27 L117.21,108.42 L117.53,108.56 L117.86,108.71 L118.20,108.86 L118.54,109.01 L118.88,109.15 L119.23,109.30 L119.59,109.45 L119.95,109.60 L120.32,109.74 L120.69,109.89 L121.07,110.04 L121.44,110.19 L121.77,110.34 L121.59,110.48 L121.08,110.63 L119.97,110.78 L118.08,110.93 L115.66,111.07 L113.52,111.22 L112.65,111.37Z" fill="#f6a024" stroke="#2a2a2a" stroke-width="0.75"/>
<circle cx="112.50" cy="107.53" r="1.4" fill="#2a2a2a"/>
<circle cx="112.50" cy="106.87" r="1.4" fill="#2a2a2a"/>
<circle cx="112.50" cy="106.21" r="1.4" fill="#2a2a2a"/>
<circle cx="112.50" cy="105.56" r="1.4" fill="#2a2a2a"/>
<circle cx="112.50" cy="104.90" r="1.4" fill="#2a2a2a"/>
<circle cx="112.50" cy="104.24" r="1.4" fill="#2a2a2a"/>
<circle cx="112.50" cy="103.59" r="1.4" fill="#2a2a2a"/>
<circle cx="112.50" cy="102.93" r="1.4" fill="#2a2a2a"/>
<circle cx="112.50" cy="102.28" r="1.4" fill="#2a2a2a"/>
<circle cx="112.50" cy="101.62" r="1.4" fill="#2a2a2a"/>
<circle cx="112.50" cy="100.96" r="1.4" fill="#2a2a2a"/>
<circle cx="112.50" cy="100.31" r="1.4" fill="#2a2a2a"/>
<circle cx="112.50" cy="99.65" r="1.4" fill="#2a2a2a"/>
<line x1="112.50" y1="107.90" x2="112.50" y2="106.21" stroke="#2a2a2a" stroke-width="0.6"/>
<line x1="112.50" y1="110.34" x2="112.50" y2="111.09" stroke="#2a2a2a" stroke-width="0.6"/>
<rect x="111.30" y="107.90" width="2.40" height="2.44" fill="none" stroke="#2a2a2a" stroke-width="0.55"/>
<line x1="111.30" y1="109.40" x2="113.70" y2="109.40" stroke="#2a2a2a" stroke-width="0.7"/>
<text x="87.50" y="199.20" text-anchor="middle">AR signature (Bluemn)</text>
<line x1="44.60" y1="203.00" x2="44.60" y2="295.50" stroke="#333" stroke-width="0.9"/>
<line x1="44.20" y1="295.20" x2="132.80" y2="295.20" stroke="#333" stroke-width="0.9"/>
<line x1="42.70" y1="290.80" x2="44.60" y2="290.80" stroke="#333" stroke-width="0.9"/>
<text x="41.90" y="293.75" text-anchor="end" fill="#3a3a3a">0</text>
<line x1="42.70" y1="259.30" x2="44.60" y2="259.30" stroke="#333" stroke-width="0.9"/>
<text x="41.90" y="262.25" text-anchor="end" fill="#3a3a3a">10</text>
<line x1="42.70" y1="227.80" x2="44.60" y2="227.80" stroke="#333" stroke-width="0.9"/>
<text x="41.90" y="230.75" text-anchor="end" fill="#3a3a3a">20</text>
<text x="27.60" y="249.00" text-anchor="middle" transform="rotate(-90 27.60 249.00)">signature score</text>
<line x1="57.10" y1="295.20" x2="57.10" y2="297.10" stroke="#333" stroke-width="0.9"/>
<text x="60.70" y="297.10" text-anchor="end" transform="rotate(-90 60.70 297.10)" fill="#3a3a3a">DMSO</text>
<line x1="78.20" y1="295.20" x2="78.20" y2="297.10" stroke="#333" stroke-width="0.9"/>
<text x="81.80" y="297.10" text-anchor="end" transform="rotate(-90 81.80 297.10)" fill="#3a3a3a">Enza</text>
<line x1="99.10" y1="295.20" x2="99.10" y2="297.10" stroke="#333" stroke-width="0.9"/>
<text x="102.70" y="297.10" text-anchor="end" transform="rotate(-90 102.70 297.10)" fill="#3a3a3a">ARV110</text>
<line x1="120.30" y1="295.20" x2="120.30" y2="297.10" stroke="#333" stroke-width="0.9"/>
<text x="123.90" y="297.10" text-anchor="end" transform="rotate(-90 123.90 297.10)" fill="#3a3a3a">SMARCA2_4.1</text>
<path d="M55.84,289.23 L55.39,288.16 L54.82,287.10 L54.12,286.04 L53.32,284.97 L52.44,283.91 L51.52,282.85 L50.63,281.78 L49.82,280.72 L49.14,279.66 L48.65,278.59 L48.35,277.53 L48.25,276.47 L48.29,275.40 L48.45,274.34 L48.77,273.28 L49.23,272.22 L49.81,271.15 L50.50,270.09 L51.25,269.03 L52.02,267.96 L52.80,266.90 L53.53,265.84 L54.20,264.77 L54.79,263.71 L55.29,262.65 L55.70,261.58 L56.03,260.52 L56.28,259.46 L56.46,258.39 L56.60,257.33 L56.69,256.27 L56.75,255.21 L56.79,254.14 L56.81,253.08 L56.83,252.02 L56.84,250.95 L56.84,249.89 L56.85,248.83 L56.85,247.76 L56.85,246.70 L57.35,246.70 L57.35,247.76 L57.35,248.83 L57.36,249.89 L57.36,250.95 L57.37,252.02 L57.39,253.08 L57.41,254.14 L57.45,255.21 L57.51,256.27 L57.60,257.33 L57.74,258.39 L57.92,259.46 L58.17,260.52 L58.50,261.58 L58.91,262.65 L59.41,263.71 L60.00,264.77 L60.67,265.84 L61.40,266.90 L62.18,267.96 L62.95,269.03 L63.70,270.09 L64.39,271.15 L64.97,272.22 L65.43,273.28 L65.75,274.34 L65.91,275.40 L65.95,276.47 L65.85,277.53 L65.55,278.59 L65.06,279.66 L64.38,280.72 L63.57,281.78 L62.68,282.85 L61.76,283.91 L60.88,284.97 L60.08,286.04 L59.38,287.10 L58.81,288.16 L58.36,289.23Z" fill="#bfc1c3" stroke="#2a2a2a" stroke-width="0.75"/>
<line x1="57.10" y1="267.49" x2="57.10" y2="246.70" stroke="#2a2a2a" stroke-width="0.6"/>
<line x1="57.10" y1="279.78" x2="57.10" y2="288.91" stroke="#2a2a2a" stroke-width="0.6"/>
<rect x="55.50" y="267.49" width="3.20" height="12.29" fill="none" stroke="#2a2a2a" stroke-width="0.55"/>
<line x1="55.50" y1="273.16" x2="58.70" y2="273.16" stroke="#2a2a2a" stroke-width="0.7"/>
<line x1="57.10" y1="225.60" x2="57.10" y2="246.70" stroke="#555" stroke-width="0.7"/>
<circle cx="57.10" cy="225.60" r="1.4" fill="#2a2a2a"/>
<circle cx="57.10" cy="226.86" r="1.4" fill="#2a2a2a"/>
<circle cx="57.10" cy="243.55" r="1.4" fill="#2a2a2a"/>
<circle cx="57.10" cy="247.33" r="1.4" fill="#2a2a2a"/>
<path d="M77.01,288.28 L76.62,287.33 L76.13,286.37 L75.53,285.42 L74.84,284.47 L74.06,283.52 L73.24,282.56 L72.42,281.61 L71.63,280.66 L70.92,279.70 L70.34,278.75 L69.91,277.80 L69.65,276.85 L69.55,275.89 L69.57,274.94 L69.68,273.99 L69.88,273.03 L70.20,272.08 L70.61,271.13 L71.10,270.18 L71.66,269.22 L72.28,268.27 L72.91,267.32 L73.56,266.36 L74.19,265.41 L74.79,264.46 L75.34,263.51 L75.84,262.55 L76.27,261.60 L76.64,260.65 L76.95,259.69 L77.20,258.74 L77.40,257.79 L77.55,256.84 L77.67,255.88 L77.76,254.93 L77.82,253.98 L77.86,253.02 L77.89,252.07 L77.91,251.12 L77.93,250.17 L78.47,250.17 L78.49,251.12 L78.51,252.07 L78.54,253.02 L78.58,253.98 L78.64,254.93 L78.73,255.88 L78.85,256.84 L79.00,257.79 L79.20,258.74 L79.45,259.69 L79.76,260.65 L80.13,261.60 L80.56,262.55 L81.06,263.51 L81.61,264.46 L82.21,265.41 L82.84,266.36 L83.49,267.32 L84.12,268.27 L84.74,269.22 L85.30,270.18 L85.79,271.13 L86.20,272.08 L86.52,273.03 L86.72,273.99 L86.83,274.94 L86.85,275.89 L86.75,276.85 L86.49,277.80 L86.06,278.75 L85.48,279.70 L84.77,280.66 L83.98,281.61 L83.16,282.56 L82.34,283.52 L81.56,284.47 L80.87,285.42 L80.27,286.37 L79.78,287.33 L79.39,288.28Z" fill="#e8212e" stroke="#2a2a2a" stroke-width="0.75"/>
<line x1="78.20" y1="266.55" x2="78.20" y2="251.43" stroke="#2a2a2a" stroke-width="0.6"/>
<line x1="78.20" y1="279.78" x2="78.20" y2="287.65" stroke="#2a2a2a" stroke-width="0.6"/>
<rect x="76.60" y="266.55" width="3.20" height="13.23" fill="none" stroke="#2a2a2a" stroke-width="0.55"/>
<line x1="76.60" y1="274.11" x2="79.80" y2="274.11" stroke="#2a2a2a" stroke-width="0.7"/>
<line x1="78.20" y1="233.47" x2="78.20" y2="250.17" stroke="#555" stroke-width="0.7"/>
<circle cx="78.20" cy="233.47" r="1.4" fill="#2a2a2a"/>
<path d="M98.50,290.80 L98.33,289.82 L98.10,288.83 L97.79,287.85 L97.40,286.86 L96.91,285.88 L96.33,284.89 L95.65,283.91 L94.90,282.93 L94.09,281.94 L93.26,280.96 L92.42,279.97 L91.64,278.99 L90.94,278.00 L90.35,277.02 L89.90,276.03 L89.61,275.05 L89.47,274.07 L89.46,273.08 L89.57,272.10 L89.83,271.11 L90.25,270.13 L90.81,269.14 L91.49,268.16 L92.26,267.18 L93.09,266.19 L93.93,265.21 L94.74,264.22 L95.51,263.24 L96.20,262.25 L96.80,261.27 L97.31,260.28 L97.72,259.30 L98.04,258.32 L98.29,257.33 L98.47,256.35 L98.60,255.36 L98.69,254.38 L98.75,253.39 L98.79,252.41 L98.82,251.43 L99.38,251.43 L99.41,252.41 L99.45,253.39 L99.51,254.38 L99.60,255.36 L99.73,256.35 L99.91,257.33 L100.16,258.32 L100.48,259.30 L100.89,260.28 L101.40,261.27 L102.00,262.25 L102.69,263.24 L103.46,264.22 L104.27,265.21 L105.11,266.19 L105.94,267.18 L106.71,268.16 L107.39,269.14 L107.95,270.13 L108.37,271.11 L108.63,272.10 L108.74,273.08 L108.73,274.07 L108.59,275.05 L108.30,276.03 L107.85,277.02 L107.26,278.00 L106.56,278.99 L105.78,279.97 L104.94,280.96 L104.11,281.94 L103.30,282.93 L102.55,283.91 L101.87,284.89 L101.29,285.88 L100.80,286.86 L100.41,287.85 L100.10,288.83 L99.87,289.82 L99.70,290.80Z" fill="#3a5ba8" stroke="#2a2a2a" stroke-width="0.75"/>
<line x1="99.10" y1="267.49" x2="99.10" y2="253.00" stroke="#2a2a2a" stroke-width="0.6"/>
<line x1="99.10" y1="279.78" x2="99.10" y2="290.17" stroke="#2a2a2a" stroke-width="0.6"/>
<rect x="97.50" y="267.49" width="3.20" height="12.29" fill="none" stroke="#2a2a2a" stroke-width="0.55"/>
<line x1="97.50" y1="273.48" x2="100.70" y2="273.48" stroke="#2a2a2a" stroke-width="0.7"/>
<circle cx="99.10" cy="249.85" r="1.4" fill="#2a2a2a"/>
<circle cx="99.10" cy="251.43" r="1.4" fill="#2a2a2a"/>
<path d="M119.88,290.80 L119.76,289.75 L119.55,288.70 L119.25,287.65 L118.84,286.60 L118.30,285.55 L117.66,284.50 L116.95,283.45 L116.23,282.40 L115.58,281.35 L115.07,280.30 L114.75,279.25 L114.65,278.20 L114.75,277.15 L114.98,276.10 L115.28,275.05 L115.57,274.00 L115.78,272.95 L115.86,271.90 L115.81,270.85 L115.64,269.80 L115.38,268.75 L115.06,267.70 L114.72,266.65 L114.40,265.60 L114.12,264.55 L113.91,263.50 L113.79,262.45 L113.75,261.40 L113.81,260.35 L113.96,259.30 L114.20,258.25 L114.51,257.20 L114.89,256.15 L115.32,255.10 L115.78,254.05 L116.25,253.00 L116.72,251.95 L117.18,250.90 L117.61,249.85 L118.01,248.80 L118.37,247.75 L118.69,246.70 L118.96,245.65 L119.19,244.60 L119.39,243.55 L119.54,242.50 L119.67,241.45 L119.77,240.40 L119.85,239.35 L119.90,238.30 L119.95,237.25 L119.98,236.20 L120.00,235.15 L120.02,234.10 L120.03,233.05 L120.04,232.00 L120.04,230.95 L120.04,229.90 L120.05,228.85 L120.05,227.80 L120.55,227.80 L120.55,228.85 L120.56,229.90 L120.56,230.95 L120.56,232.00 L120.57,233.05 L120.58,234.10 L120.60,235.15 L120.62,236.20 L120.65,237.25 L120.70,238.30 L120.75,239.35 L120.83,240.40 L120.93,241.45 L121.06,242.50 L121.21,243.55 L121.41,244.60 L121.64,245.65 L121.91,246.70 L122.23,247.75 L122.59,248.80 L122.99,249.85 L123.42,250.90 L123.88,251.95 L124.35,253.00 L124.82,254.05 L125.28,255.10 L125.71,256.15 L126.09,257.20 L126.40,258.25 L126.64,259.30 L126.79,260.35 L126.85,261.40 L126.81,262.45 L126.69,263.50 L126.48,264.55 L126.20,265.60 L125.88,266.65 L125.54,267.70 L125.22,268.75 L124.96,269.80 L124.79,270.85 L124.74,271.90 L124.82,272.95 L125.03,274.00 L125.32,275.05 L125.62,276.10 L125.85,277.15 L125.95,278.20 L125.85,279.25 L125.53,280.30 L125.02,281.35 L124.37,282.40 L123.65,283.45 L122.94,284.50 L122.30,285.55 L121.76,286.60 L121.35,287.65 L121.05,288.70 L120.84,289.75 L120.72,290.80Z" fill="#f6a024" stroke="#2a2a2a" stroke-width="0.75"/>
<line x1="120.30" y1="256.15" x2="120.30" y2="227.80" stroke="#2a2a2a" stroke-width="0.6"/>
<line x1="120.30" y1="275.37" x2="120.30" y2="290.49" stroke="#2a2a2a" stroke-width="0.6"/>
<rect x="118.70" y="256.15" width="3.20" height="19.21" fill="none" stroke="#2a2a2a" stroke-width="0.55"/>
<line x1="118.70" y1="264.34" x2="121.90" y2="264.34" stroke="#2a2a2a" stroke-width="0.7"/>
<line x1="120.30" y1="207.01" x2="120.30" y2="227.80" stroke="#555" stroke-width="0.7"/>
<circle cx="120.30" cy="207.01" r="1.4" fill="#2a2a2a"/>
<circle cx="120.30" cy="219.61" r="1.4" fill="#2a2a2a"/>
<circle cx="120.30" cy="221.50" r="1.4" fill="#2a2a2a"/>
<circle cx="120.30" cy="223.08" r="1.4" fill="#2a2a2a"/>
<text x="143.40" y="5.90">VCaP (AR amplification)</text>
<line x1="143.40" y1="7.00" x2="233.00" y2="7.00" stroke="#333" stroke-width="0.6"/>
<line x1="165.40" y1="26.60" x2="165.40" y2="113.40" stroke="#8a8a8a" stroke-width="1.2"/>
<line x1="164.80" y1="112.80" x2="260.60" y2="112.80" stroke="#8a8a8a" stroke-width="1.2"/>
<line x1="163.40" y1="29.92" x2="165.40" y2="29.92" stroke="#333" stroke-width="0.8"/>
<text x="162.80" y="32.87" text-anchor="end" fill="#3a3a3a">0.16</text>
<line x1="163.40" y1="50.24" x2="165.40" y2="50.24" stroke="#333" stroke-width="0.8"/>
<text x="162.80" y="53.19" text-anchor="end" fill="#3a3a3a">0.12</text>
<line x1="163.40" y1="70.56" x2="165.40" y2="70.56" stroke="#333" stroke-width="0.8"/>
<text x="162.80" y="73.51" text-anchor="end" fill="#3a3a3a">0.08</text>
<line x1="163.40" y1="90.88" x2="165.40" y2="90.88" stroke="#333" stroke-width="0.8"/>
<text x="162.80" y="93.83" text-anchor="end" fill="#3a3a3a">0.04</text>
<line x1="163.40" y1="111.20" x2="165.40" y2="111.20" stroke="#333" stroke-width="0.8"/>
<text x="162.80" y="114.15" text-anchor="end" fill="#3a3a3a">0.00</text>
<line x1="169.40" y1="112.80" x2="169.40" y2="114.80" stroke="#333" stroke-width="0.8"/>
<text x="169.40" y="122.40" text-anchor="middle" fill="#3a3a3a">0</text>
<line x1="187.62" y1="112.80" x2="187.62" y2="114.80" stroke="#333" stroke-width="0.8"/>
<text x="187.62" y="122.40" text-anchor="middle" fill="#3a3a3a">5</text>
<line x1="205.84" y1="112.80" x2="205.84" y2="114.80" stroke="#333" stroke-width="0.8"/>
<text x="205.84" y="122.40" text-anchor="middle" fill="#3a3a3a">10</text>
<line x1="224.06" y1="112.80" x2="224.06" y2="114.80" stroke="#333" stroke-width="0.8"/>
<text x="224.06" y="122.40" text-anchor="middle" fill="#3a3a3a">15</text>
<line x1="242.28" y1="112.80" x2="242.28" y2="114.80" stroke="#333" stroke-width="0.8"/>
<text x="242.28" y="122.40" text-anchor="middle" fill="#3a3a3a">20</text>
<line x1="260.50" y1="112.80" x2="260.50" y2="114.80" stroke="#333" stroke-width="0.8"/>
<text x="260.50" y="122.40" text-anchor="middle" fill="#3a3a3a">25</text>
<text x="138.30" y="61.00" text-anchor="middle" transform="rotate(-90 138.30 61.00)">AR actvity</text>
<text x="212.30" y="140.90" text-anchor="middle">AR signature</text>
<path d="M188.3 77.7h0M217.4 62.8h0M186.9 82.2h0M210.7 55.2h0M188.4 90.8h0M213.6 57.9h0M224.5 45.7h0M203.0 71.8h0M236.8 46.5h0M194.1 85.3h0M205.6 66.5h0M199.9 72.5h0M208.0 60.5h0M218.8 56.1h0M180.9 80.8h0M185.8 84.0h0M185.0 83.1h0M194.2 74.6h0M236.8 44.6h0M215.4 70.7h0M200.6 66.2h0M203.2 66.6h0M205.7 75.5h0M211.8 69.4h0M228.9 54.1h0M213.4 61.8h0M216.9 63.9h0M217.5 59.7h0M221.0 51.2h0M206.2 73.4h0M214.5 57.3h0M225.9 55.4h0M211.7 59.1h0M208.1 64.2h0M206.8 71.5h0M191.1 81.7h0M212.1 50.9h0M217.2 50.7h0M214.6 55.4h0M206.8 60.7h0M227.7 53.7h0M195.3 60.0h0M207.6 58.5h0M215.8 68.9h0M236.3 35.0h0M206.7 60.9h0M206.0 74.3h0M202.9 66.8h0M219.0 52.0h0M205.2 57.4h0M194.4 69.9h0M219.0 59.9h0M180.9 93.4h0M207.5 62.1h0M224.7 61.2h0M204.4 63.5h0M202.3 88.8h0M215.0 42.4h0M217.6 65.9h0M199.0 70.9h0M236.8 39.3h0M205.9 55.2h0M203.3 54.8h0M195.4 79.1h0M213.8 50.3h0M213.0 59.8h0M180.5 92.2h0M196.4 78.8h0M212.1 65.5h0M214.7 60.2h0M200.0 71.0h0M210.0 57.6h0M198.1 75.2h0M186.5 69.4h0M223.4 55.7h0M198.1 83.1h0M206.6 65.3h0M233.0 45.1h0M194.2 95.5h0M222.9 53.2h0M183.3 83.1h0M183.3 57.1h0M219.1 53.1h0M202.1 87.2h0M202.7 82.1h0M212.2 79.6h0M192.5 68.0h0M225.9 61.7h0M184.3 76.8h0M215.6 68.0h0M195.3 80.9h0M188.8 85.7h0M220.8 50.8h0M231.4 49.0h0M202.6 77.7h0M202.8 80.2h0M181.1 80.7h0M223.3 47.8h0M221.9 53.5h0M195.0 75.0h0M199.5 81.1h0M182.2 97.0h0M204.3 67.5h0M198.2 62.0h0M206.7 62.3h0M220.4 63.0h0M178.5 82.1h0M195.4 65.1h0M208.8 57.3h0M214.4 77.4h0M213.8 66.8h0M194.5 79.5h0M214.5 54.1h0M217.6 71.7h0M196.6 93.1h0M203.0 64.9h0M194.4 74.2h0M207.4 58.4h0M193.6 83.2h0M194.4 62.3h0M218.7 58.8h0M207.3 65.5h0M207.0 68.2h0M200.0 81.8h0M196.0 62.0h0M211.4 62.8h0M201.6 70.2h0M209.0 70.2h0M207.0 64.8h0M194.6 82.2h0M191.3 86.8h0M216.1 78.4h0M200.9 76.1h0M196.3 74.0h0M219.2 56.9h0M202.5 74.8h0M202.7 62.7h0M199.2 81.5h0M187.8 89.8h0M186.1 73.7h0M209.0 67.0h0M223.5 59.4h0M214.3 54.9h0M184.1 96.1h0M192.2 70.6h0M221.4 65.5h0M218.1 61.3h0M199.2 76.8h0M200.1 86.1h0M191.2 88.2h0M210.8 47.3h0M236.8 46.8h0M181.8 88.8h0M192.1 62.3h0M211.9 68.7h0M216.7 55.1h0M183.1 88.8h0M201.2 70.8h0M206.1 70.0h0M206.9 71.3h0M192.6 65.5h0M209.1 61.6h0M183.5 85.7h0M215.1 70.7h0M218.8 60.8h0M209.7 65.7h0M207.2 57.0h0M199.1 60.3h0M194.1 83.7h0M213.7 70.0h0M199.5 65.1h0M220.3 70.6h0M211.0 48.8h0M220.1 58.7h0M196.5 76.9h0M189.3 82.1h0M201.9 71.6h0M219.9 58.7h0M185.3 74.7h0M190.3 82.7h0M202.6 72.6h0M191.2 80.5h0M233.0 51.8h0M202.6 61.1h0M214.2 55.2h0M215.7 75.6h0M193.0 76.1h0M210.9 53.5h0M210.5 65.8h0M204.9 69.9h0M207.6 60.9h0M199.9 78.4h0M193.2 68.4h0M221.2 48.1h0M215.6 53.6h0M204.4 63.4h0M190.6 80.6h0M194.8 70.1h0M196.8 75.2h0M209.6 54.0h0M194.0 83.8h0M215.1 69.2h0M210.3 68.6h0M203.0 84.0h0M213.7 65.5h0M192.6 61.1h0M213.7 35.0h0M209.7 67.3h0M205.8 54.9h0M204.0 65.3h0M211.2 70.7h0M206.1 71.3h0M188.0 74.0h0M213.1 61.4h0M192.5 93.4h0M210.8 64.6h0M182.3 85.7h0M184.4 83.8h0M206.3 64.4h0M207.2 65.1h0M189.4 82.9h0M197.7 75.5h0M207.9 61.1h0M225.8 72.7h0M209.6 66.2h0M234.2 38.8h0M182.7 81.8h0M197.6 65.9h0M190.5 79.8h0M202.7 70.7h0M196.7 88.8h0M210.4 56.2h0M203.5 77.3h0M207.0 62.2h0M202.1 70.5h0M222.9 63.5h0M197.1 89.1h0M195.2 81.3h0M191.8 83.6h0M228.0 52.4h0M202.9 52.4h0M203.6 82.9h0M209.7 72.0h0M225.9 62.2h0M196.8 87.0h0M205.7 75.6h0M203.5 72.2h0M196.3 67.2h0M216.7 58.9h0M192.6 85.9h0M207.9 47.1h0M198.4 79.3h0M195.2 84.1h0M191.6 79.8h0M223.2 54.5h0M197.7 86.4h0M207.2 66.7h0M188.3 89.3h0M203.8 61.1h0M212.6 60.8h0M200.1 69.3h0M204.2 51.6h0M189.5 82.7h0M221.0 58.2h0M223.1 54.9h0M206.3 70.1h0M186.3 89.9h0M233.4 41.7h0M212.3 55.1h0M211.8 54.9h0M200.9 73.0h0M217.3 61.7h0M186.9 83.5h0M197.2 69.2h0M194.9 84.1h0M200.0 59.7h0M203.8 67.8h0M204.5 66.2h0M216.6 48.5h0M182.8 74.1h0M204.3 71.2h0M235.8 46.3h0M229.9 41.8h0M190.9 74.9h0M214.0 62.3h0M173.8 94.3h0M201.9 79.2h0M228.3 52.5h0M199.2 74.9h0M194.1 82.5h0M205.6 65.2h0M197.7 74.3h0M186.1 78.2h0M194.5 74.3h0M192.5 81.6h0M207.2 76.0h0M236.8 44.5h0M203.4 75.1h0M225.3 41.9h0M208.3 76.4h0M197.8 68.7h0M197.7 83.0h0M188.8 86.4h0M204.6 73.6h0M204.6 46.4h0M227.6 59.3h0M208.9 64.5h0M202.6 61.8h0M200.0 74.5h0M199.5 73.1h0M221.2 49.8h0M186.8 85.3h0M193.9 70.1h0M207.3 59.4h0M203.6 84.3h0M210.3 62.4h0M211.0 73.8h0M205.5 73.2h0M195.4 72.6h0M209.0 72.2h0M181.9 103.1h0M196.8 65.5h0M203.7 86.9h0M193.1 73.8h0M226.3 42.9h0M209.2 63.4h0M190.5 82.6h0M200.0 78.0h0M205.2 71.1h0M208.8 54.0h0M214.1 58.0h0M201.2 83.0h0M202.9 65.5h0M191.2 68.7h0M200.0 69.0h0M200.1 81.7h0M231.5 57.3h0M216.4 63.9h0M208.0 72.2h0M198.9 65.5h0M229.9 56.1h0M204.5 61.0h0M196.1 69.2h0M194.1 71.6h0M210.1 54.8h0M209.2 74.4h0M213.1 70.7h0M214.2 49.3h0M212.2 67.1h0M220.0 55.5h0M188.0 83.7h0M223.0 57.0h0M206.0 70.1h0M182.3 89.3h0M209.1 63.5h0M202.1 87.1h0M220.4 50.9h0M217.8 48.3h0M198.5 77.8h0M208.5 52.3h0M182.3 87.1h0M195.0 71.3h0M223.6 56.5h0M188.1 80.5h0M200.6 83.6h0M216.0 64.0h0M213.3 72.2h0M218.8 69.1h0M218.2 72.5h0M222.5 57.9h0M184.0 85.8h0M208.8 73.1h0M197.9 71.4h0M202.2 94.4h0M198.7 69.5h0M208.3 57.7h0M195.3 55.3h0M214.9 58.2h0M218.6 50.4h0M205.7 72.5h0M217.8 55.2h0M179.6 96.0h0M210.5 63.1h0M208.1 60.8h0M206.3 54.7h0M196.6 77.6h0M208.6 59.6h0M214.7 49.1h0M198.1 64.1h0M210.5 72.2h0M202.6 53.5h0M214.7 64.5h0M172.9 98.1h0M195.2 74.9h0M234.7 39.9h0M208.5 72.9h0M188.8 82.0h0M198.2 49.6h0M199.1 77.4h0M219.2 56.9h0M188.2 70.7h0M200.3 82.2h0M208.6 61.6h0M199.9 66.5h0M215.1 67.5h0M177.4 103.1h0M202.7 60.2h0M217.5 47.7h0M228.7 50.2h0M218.2 70.2h0M213.4 58.7h0M203.1 73.0h0M189.7 78.5h0M221.1 58.9h0M211.4 68.6h0M207.7 74.0h0M209.3 66.6h0M208.5 70.3h0M189.0 82.8h0M218.0 45.9h0M200.1 65.5h0M214.3 58.0h0M184.0 81.4h0M191.7 68.9h0M214.7 56.0h0M172.3 87.9h0M213.6 71.8h0M217.1 58.4h0M202.0 76.0h0M191.0 82.1h0M236.8 42.6h0M207.1 71.7h0M196.3 79.1h0M192.8 70.5h0M200.8 64.5h0M189.2 72.7h0M204.0 63.6h0M203.0 76.6h0M220.3 60.1h0M202.5 77.0h0M207.1 69.7h0M208.1 63.1h0M195.3 86.5h0M210.1 57.1h0M213.5 70.8h0M212.3 59.6h0M208.1 62.4h0M200.1 70.1h0M216.5 63.4h0M185.5 83.7h0M207.0 81.2h0M195.5 70.7h0M202.4 69.4h0M187.9 73.9h0M227.4 52.9h0M194.8 85.0h0M216.1 59.0h0M194.0 66.9h0M214.4 56.3h0M181.3 86.8h0M212.6 72.1h0M216.6 48.2h0M217.9 64.1h0M195.1 68.2h0M217.4 49.1h0M220.1 57.5h0M199.0 87.3h0M214.7 42.9h0M198.3 76.9h0M212.9 59.3h0M186.4 87.8h0M190.0 63.5h0M195.0 69.0h0M229.5 35.0h0M223.1 41.7h0M188.2 83.5h0M194.8 78.1h0M236.8 57.4h0M211.7 72.8h0M221.9 45.2h0M197.7 57.4h0M205.4 57.6h0M208.5 69.9h0M199.4 73.3h0M212.5 61.5h0M235.3 46.8h0M198.3 78.9h0M194.2 87.6h0M191.5 71.2h0M205.2 69.4h0M209.0 56.7h0M212.5 56.4h0M197.0 76.2h0M194.2 77.0h0M193.7 79.6h0M202.1 72.0h0M200.9 75.1h0M221.6 58.4h0M191.1 77.1h0M190.1 87.8h0M205.5 80.9h0M172.3 90.5h0M218.0 71.5h0M192.6 72.9h0M178.3 95.1h0M188.6 82.1h0M178.5 81.0h0M202.5 67.6h0M200.1 88.6h0M202.4 80.7h0M204.5 75.2h0M200.2 73.4h0M214.5 54.9h0M191.2 78.7h0M223.5 50.3h0M194.8 76.8h0M199.8 64.6h0M204.8 65.3h0M233.4 57.6h0M191.1 92.3h0M183.5 77.6h0M208.2 52.9h0M178.5 95.0h0M223.3 46.2h0M216.0 53.0h0M204.8 68.4h0M204.8 61.7h0M202.2 67.7h0M223.4 63.1h0M194.5 71.6h0M200.9 72.4h0M231.9 44.6h0M198.9 64.1h0M236.8 52.9h0M195.6 74.3h0M196.0 57.8h0M211.3 66.6h0M210.8 70.0h0M196.4 73.8h0M235.7 62.7h0M209.9 53.8h0M214.1 46.2h0M210.3 63.0h0M202.7 76.7h0M225.8 61.8h0M202.8 74.0h0M194.1 93.9h0M199.4 71.3h0M206.3 60.5h0M202.3 75.3h0M208.4 60.3h0M192.5 89.5h0M190.9 70.4h0M217.5 65.7h0M205.8 60.9h0M221.8 60.7h0M201.2 59.9h0M236.0 35.0h0M189.4 76.3h0M200.5 72.0h0M195.7 78.9h0M204.2 54.5h0M213.6 58.3h0M204.7 74.3h0M201.4 61.1h0M215.3 44.9h0M207.8 66.2h0M183.2 81.5h0M181.8 73.6h0M196.1 74.8h0M186.7 85.9h0M192.2 68.9h0M207.6 75.5h0M179.0 88.2h0M198.0 82.2h0M212.1 64.2h0M205.8 72.2h0M196.9 77.9h0M183.4 79.5h0M209.7 78.2h0M205.7 58.5h0M207.5 56.1h0M200.9 71.2h0M187.3 88.6h0M180.5 93.7h0M207.6 62.1h0M219.6 56.1h0M191.4 75.0h0M202.5 56.0h0M230.1 41.7h0M189.5 84.0h0M206.9 72.3h0M211.3 58.0h0M215.4 58.5h0M192.8 84.0h0M202.8 59.4h0M225.0 45.4h0M209.1 59.7h0M215.2 50.3h0M215.6 72.2h0M216.9 56.2h0M198.3 69.0h0M208.2 66.2h0M182.2 84.4h0M211.7 63.5h0M183.5 80.7h0M213.8 60.1h0M210.0 67.2h0M195.8 71.0h0M199.7 70.7h0M236.8 38.6h0M206.2 80.0h0M205.6 61.7h0M195.1 77.4h0M174.8 86.5h0M196.6 69.1h0M222.3 56.4h0M217.3 56.9h0M201.7 72.8h0M193.2 66.9h0M215.9 67.8h0M215.4 66.0h0M184.6 74.0h0M187.6 71.9h0M207.0 59.5h0M211.1 54.5h0M208.9 60.6h0M207.6 57.5h0M199.2 64.5h0M224.1 54.2h0M210.2 68.3h0M200.6 69.4h0M199.9 79.0h0M204.0 67.4h0M208.6 59.8h0M181.1 75.0h0M202.1 76.4h0M199.5 68.8h0M215.8 62.9h0M206.5 79.6h0M206.6 67.8h0M198.7 65.9h0M227.9 42.8h0M194.1 64.3h0M200.0 72.2h0M196.8 70.7h0M211.6 62.0h0M201.6 71.8h0M199.1 64.9h0M197.6 74.9h0M201.6 76.6h0M201.4 82.4h0M209.7 60.3h0M200.5 59.4h0M193.6 72.3h0M210.6 68.1h0M201.2 64.0h0M205.2 65.8h0M222.7 53.1h0M182.5 90.8h0M215.3 61.4h0M190.3 94.7h0M208.6 53.7h0M188.0 97.9h0M210.9 68.0h0M200.6 74.0h0M192.6 74.0h0M216.4 56.7h0M197.1 65.9h0M202.9 65.1h0M192.2 72.6h0M214.1 51.2h0M204.8 64.9h0M196.9 67.3h0M214.5 52.5h0M199.4 81.9h0M203.5 70.9h0M194.7 71.2h0M216.7 56.2h0M218.8 54.6h0M191.7 82.7h0M199.8 66.7h0M216.4 58.5h0M217.6 65.1h0M202.9 58.0h0M210.2 56.1h0M179.9 100.0h0M193.2 69.2h0M225.5 57.5h0M191.7 86.1h0M192.9 73.0h0M200.3 57.0h0M213.7 66.9h0M207.5 67.5h0M214.6 53.8h0M199.9 65.0h0M211.8 63.7h0M207.7 60.8h0M200.3 76.9h0M220.8 56.2h0M196.8 70.7h0M185.4 82.5h0M186.9 85.1h0M181.4 91.4h0M216.0 61.3h0M188.8 66.9h0M196.3 63.2h0M197.7 85.0h0M228.2 54.0h0M214.2 51.9h0M187.5 80.7h0M197.0 69.4h0M204.3 78.4h0M205.2 62.1h0M200.7 67.0h0M197.6 74.1h0M208.9 64.0h0M220.8 48.9h0M215.3 54.8h0M206.5 76.0h0M218.1 44.8h0M207.4 68.3h0M204.0 59.5h0M208.1 73.3h0M202.3 76.1h0M201.9 77.3h0M193.3 65.5h0M217.9 70.8h0M191.9 81.4h0M199.5 82.9h0M215.9 72.3h0M213.4 56.4h0M199.8 77.1h0M205.3 66.8h0M177.6 98.4h0M211.3 64.2h0M199.2 80.1h0M195.4 81.2h0M236.8 53.8h0M224.2 50.0h0M207.2 64.9h0M199.6 59.8h0M211.0 63.8h0M202.9 68.1h0M189.8 81.9h0M196.5 69.7h0M212.2 77.0h0M201.6 63.0h0M187.9 90.1h0M217.3 59.8h0M198.7 82.2h0M206.7 71.1h0M207.2 63.1h0M213.5 64.2h0M197.8 73.3h0M203.2 68.1h0M197.7 75.4h0M197.0 78.7h0M206.5 58.1h0M197.6 69.1h0M208.9 64.3h0M213.2 66.2h0M211.7 60.7h0M172.3 89.9h0M212.2 47.6h0M190.9 78.0h0M209.0 72.5h0M219.9 53.4h0M194.3 85.4h0M199.1 54.2h0M232.2 66.7h0M181.1 80.9h0M203.1 74.4h0M212.2 61.9h0M208.2 63.6h0M190.5 68.8h0M198.6 64.2h0M213.4 61.5h0M206.3 67.5h0M180.8 88.8h0M210.0 76.8h0M185.3 74.6h0M214.9 72.6h0M210.4 64.4h0M217.0 61.5h0M201.6 76.4h0M206.8 67.7h0M196.0 77.5h0M194.8 71.0h0M191.2 90.5h0M192.0 69.5h0M197.9 68.4h0M213.9 65.3h0M214.2 57.2h0M203.9 74.4h0M203.7 79.0h0M200.9 75.7h0M210.1 61.6h0M196.2 68.0h0M219.9 56.4h0M194.9 71.8h0M172.9 96.8h0M212.0 47.3h0M194.9 63.8h0M234.6 35.0h0M173.9 82.9h0M206.9 58.8h0M202.1 75.0h0M201.5 59.1h0M215.3 62.6h0M209.4 58.1h0M211.8 63.3h0M195.9 80.7h0M198.8 77.1h0M184.0 95.0h0M215.8 68.7h0M187.4 81.7h0M223.2 44.6h0M199.1 80.7h0M197.5 80.9h0M197.3 70.2h0M190.6 85.1h0M201.0 71.3h0M194.4 82.2h0M189.7 85.5h0M211.2 65.3h0M172.3 87.9h0M203.5 76.1h0M201.1 94.8h0M182.8 75.7h0M232.3 35.0h0M194.8 75.5h0M214.6 70.5h0M227.2 57.1h0M209.0 74.1h0M209.2 65.1h0M218.6 67.0h0M204.3 54.4h0M188.8 77.6h0M210.1 68.2h0M200.9 60.1h0M219.3 52.9h0M207.9 74.9h0M205.6 53.6h0M218.2 68.9h0M177.2 94.3h0M206.6 71.3h0M200.4 68.9h0M216.1 58.1h0M220.8 67.4h0M249.6 33.0h0M253.2 30.9h0M257.6 29.9h0M258.3 34.5h0M240.5 45.2h0M244.8 46.2h0M245.9 60.4h0M233.2 42.6h0M229.5 42.1h0M218.6 90.9h0M228.8 71.1h0M234.3 55.3h0M237.2 51.3h0M239.4 48.2h0M200.4 84.8h0M207.7 88.3h0M213.1 80.7h0M222.2 68.0h0M224.8 75.6h0" stroke="#b4b7ba" stroke-width="2.64" stroke-linecap="round" fill="none"/>
<path d="M179.7 83.1h0M192.9 82.6h0M193.4 70.2h0M175.1 70.7h0M171.5 89.1h0M173.4 71.3h0M181.2 96.2h0M175.0 76.1h0M179.4 80.8h0M239.7 45.2h0M183.2 85.2h0M171.0 76.3h0M173.9 75.5h0M173.9 72.0h0M183.1 80.9h0M171.1 96.2h0M180.0 78.3h0M176.7 91.2h0M183.7 81.1h0M180.6 76.4h0M180.3 81.8h0" stroke="#e3243a" stroke-width="2.64" stroke-linecap="round" fill="none"/>
<path d="M185.8 100.0h0M173.3 84.5h0M196.6 78.4h0M179.1 92.8h0M186.0 82.5h0M182.1 74.8h0M179.1 85.0h0M170.5 76.6h0M176.8 86.8h0M173.9 96.4h0M170.4 95.8h0M182.7 86.4h0M176.9 86.1h0M174.6 91.0h0M185.6 79.7h0M178.5 99.4h0M174.6 88.8h0M172.6 96.8h0M179.0 102.1h0" stroke="#2f55a8" stroke-width="2.64" stroke-linecap="round" fill="none"/>
<path d="M179.5 76.3h0M179.9 84.6h0M184.0 67.9h0M187.2 86.9h0M179.1 78.4h0M185.2 64.9h0M191.3 69.8h0M180.6 75.0h0M182.2 73.9h0M179.6 71.0h0M172.9 80.1h0M186.5 74.4h0M173.5 85.7h0M182.2 68.3h0M186.5 75.3h0M183.0 90.5h0M171.0 78.7h0M170.2 89.6h0M185.7 63.2h0M173.9 86.0h0M174.3 79.0h0M186.4 79.2h0" stroke="#e3243a" stroke-width="2.64" stroke-linecap="round" fill="none"/>
<path d="M181.3 73.4h0M182.7 90.5h0M171.1 81.6h0M186.0 85.7h0M175.7 83.3h0M184.4 81.1h0M174.9 98.4h0M183.1 94.0h0M185.3 75.1h0M177.2 77.1h0M186.2 84.2h0M179.6 75.9h0M181.2 86.1h0M175.7 88.4h0M172.3 97.0h0M192.4 74.2h0M175.2 92.5h0M177.2 83.7h0" stroke="#2f55a8" stroke-width="2.64" stroke-linecap="round" fill="none"/>
<path d="M172.4 76.7h0M180.9 84.5h0M186.5 80.7h0M194.0 62.9h0M177.7 80.5h0M172.0 99.0h0M184.5 66.5h0M182.4 82.3h0M173.5 80.8h0M170.6 82.1h0M193.1 60.4h0M174.0 73.5h0M177.7 70.2h0M182.8 70.2h0M179.1 80.5h0M182.1 68.1h0M181.3 99.0h0M192.7 77.8h0M178.1 66.2h0M170.3 92.8h0M170.8 86.3h0M171.1 84.9h0M189.8 84.2h0" stroke="#e3243a" stroke-width="2.64" stroke-linecap="round" fill="none"/>
<path d="M172.1 98.6h0M176.6 78.2h0M170.8 102.1h0M176.7 83.5h0M188.5 80.5h0M181.9 73.1h0M193.8 71.8h0M180.8 86.3h0M173.4 98.5h0M175.1 102.1h0M174.0 72.6h0M171.6 102.1h0M180.3 97.5h0M200.7 98.0h0M177.8 82.3h0M184.5 90.6h0M171.0 82.6h0" stroke="#2f55a8" stroke-width="2.64" stroke-linecap="round" fill="none"/>
<path d="M175.1 91.4h0M172.2 80.8h0M179.8 71.7h0M174.9 79.3h0M171.0 92.4h0M177.2 72.5h0M171.4 99.0h0M174.6 90.1h0M174.3 87.0h0M174.7 80.7h0M175.2 66.2h0M174.0 92.7h0M183.6 72.0h0M181.1 86.0h0M170.7 94.9h0M181.9 81.6h0M174.3 70.6h0M175.8 87.4h0M183.4 90.1h0M175.4 89.4h0M171.4 91.4h0" stroke="#e3243a" stroke-width="2.64" stroke-linecap="round" fill="none"/>
<path d="M198.6 60.4h0M184.0 82.2h0M175.7 91.3h0M172.0 89.9h0M173.1 89.2h0M172.2 96.3h0M173.7 85.0h0M172.9 91.0h0M175.1 102.1h0M220.1 57.9h0M192.1 82.4h0M186.8 78.8h0M170.9 102.0h0M177.5 90.6h0M178.9 96.9h0M176.0 91.1h0M177.6 88.5h0M180.3 85.0h0M177.0 87.4h0" stroke="#2f55a8" stroke-width="2.64" stroke-linecap="round" fill="none"/>
<path d="M196.7 76.4h0M179.8 59.7h0M185.1 74.1h0M177.5 77.7h0M187.5 78.7h0M173.6 89.6h0M179.8 78.3h0M176.1 76.8h0M181.9 68.0h0M183.2 99.0h0M174.8 76.7h0M178.3 73.3h0M188.2 90.5h0M177.0 71.6h0M176.8 88.4h0M174.3 82.1h0M170.2 70.5h0M173.9 80.8h0" stroke="#e3243a" stroke-width="2.64" stroke-linecap="round" fill="none"/>
<path d="M185.4 66.9h0M181.3 101.6h0M190.5 80.8h0M171.6 87.7h0M181.8 85.1h0M182.8 83.8h0M177.4 75.8h0M170.1 84.7h0M178.4 82.3h0M197.8 71.9h0M196.9 60.4h0M180.6 68.3h0M185.3 84.2h0M174.8 84.5h0M175.3 102.1h0M181.9 91.0h0M174.8 89.5h0M174.1 87.5h0M180.7 59.9h0M171.3 98.0h0M198.6 83.9h0M183.2 78.6h0" stroke="#2f55a8" stroke-width="2.64" stroke-linecap="round" fill="none"/>
<path d="M169.8 96.5h0M196.7 58.4h0M196.7 72.1h0M180.9 74.9h0M171.5 84.7h0M172.1 87.7h0M180.9 78.3h0M172.9 82.9h0M177.3 92.3h0M170.7 94.1h0M176.6 75.0h0M187.2 69.3h0M180.4 86.0h0M182.3 66.3h0M180.9 75.8h0M179.9 74.3h0M172.4 90.7h0M169.9 94.9h0M177.3 84.3h0M176.4 86.0h0" stroke="#e3243a" stroke-width="2.64" stroke-linecap="round" fill="none"/>
<path d="M187.4 78.9h0M178.5 91.9h0M172.5 91.8h0M190.7 88.3h0M198.6 79.4h0M179.0 93.4h0M176.0 96.4h0M172.5 102.1h0M187.8 79.8h0M177.6 94.6h0M170.5 77.5h0M181.1 85.1h0M190.9 76.2h0M174.8 87.1h0M179.3 88.3h0M176.8 73.3h0M178.0 87.3h0M197.9 78.3h0M184.3 81.7h0M181.0 96.9h0" stroke="#2f55a8" stroke-width="2.64" stroke-linecap="round" fill="none"/>
<path d="M174.0 86.4h0M170.4 97.8h0M177.0 77.0h0M191.2 84.3h0M174.6 66.1h0M177.6 74.4h0M195.8 69.3h0M171.1 92.2h0M172.5 84.3h0M173.5 88.0h0M176.8 76.5h0M171.1 97.0h0M171.3 86.9h0M178.7 73.7h0M177.9 82.4h0M228.4 42.1h0M172.0 74.8h0M196.7 58.4h0M174.8 84.8h0M179.9 77.9h0M191.6 77.6h0M184.4 72.8h0M188.0 75.3h0M177.3 78.2h0M181.3 84.4h0" stroke="#e3243a" stroke-width="2.64" stroke-linecap="round" fill="none"/>
<path d="M178.6 102.1h0M196.7 80.7h0M178.5 90.3h0M188.0 93.5h0M185.6 87.7h0M184.0 84.0h0M179.6 87.2h0M170.8 100.6h0M180.6 83.7h0M186.1 78.6h0M179.2 75.4h0M198.6 73.9h0M174.7 90.3h0M170.1 88.1h0M177.4 86.7h0" stroke="#2f55a8" stroke-width="2.64" stroke-linecap="round" fill="none"/>
<path d="M189.5 67.7h0M169.8 84.8h0M173.0 93.0h0M176.9 92.0h0M174.9 73.7h0M204.0 79.7h0M186.3 72.1h0M173.5 96.0h0M172.1 94.1h0M171.0 71.7h0M178.7 59.0h0M193.5 76.4h0M190.1 76.1h0M173.0 81.6h0M174.5 89.9h0M187.8 66.7h0M173.5 82.9h0M188.5 67.2h0M175.8 73.6h0M182.3 71.2h0" stroke="#e3243a" stroke-width="2.64" stroke-linecap="round" fill="none"/>
<path d="M184.1 92.3h0M175.6 83.1h0M172.9 87.3h0M170.6 90.0h0M182.8 87.8h0M179.2 89.1h0M173.4 85.8h0M202.6 48.2h0M170.8 75.8h0M174.6 91.3h0M177.1 92.7h0M188.3 73.3h0M177.4 89.5h0M178.9 78.7h0M173.6 99.9h0M197.6 76.7h0M170.7 83.7h0M198.6 72.8h0M174.5 83.5h0M184.0 81.6h0" stroke="#2f55a8" stroke-width="2.64" stroke-linecap="round" fill="none"/>
<path d="M196.7 80.7h0M178.5 76.7h0M177.6 80.4h0M189.4 61.4h0M180.7 71.7h0M172.8 76.9h0M188.5 61.0h0M176.4 76.6h0M189.7 59.5h0M179.1 70.3h0M176.4 58.4h0M178.9 95.4h0M171.2 92.0h0M177.1 65.7h0M171.1 74.3h0M172.5 76.0h0M174.6 66.7h0M182.7 92.4h0M169.9 90.5h0M182.9 79.4h0M195.1 61.1h0M170.0 90.0h0M173.9 73.9h0M181.2 65.4h0M182.9 79.8h0M178.9 80.8h0" stroke="#e3243a" stroke-width="2.64" stroke-linecap="round" fill="none"/>
<path d="M172.3 76.1h0M182.0 79.4h0M182.0 95.1h0M183.4 85.1h0M190.9 91.5h0M184.0 58.4h0M171.7 82.3h0M182.0 75.6h0M172.1 94.3h0M174.0 77.0h0M185.4 83.3h0M174.4 92.9h0M175.8 74.9h0M172.5 87.0h0" stroke="#2f55a8" stroke-width="2.64" stroke-linecap="round" fill="none"/>
<path d="M175.0 82.2h0M186.0 64.4h0M182.4 87.5h0M171.0 85.9h0M182.9 93.8h0M172.0 78.7h0M180.6 84.0h0M184.2 66.8h0M172.2 75.6h0M169.9 79.6h0M180.7 79.3h0M181.1 82.1h0M172.8 87.7h0M188.7 62.6h0M172.8 63.5h0M179.5 68.7h0M182.6 87.5h0M178.6 76.1h0M173.6 91.5h0M179.0 83.3h0" stroke="#e3243a" stroke-width="2.64" stroke-linecap="round" fill="none"/>
<path d="M194.9 68.0h0M184.3 82.4h0M183.5 67.9h0M170.4 91.7h0M172.8 93.3h0M180.6 78.8h0M185.5 80.8h0M172.6 86.5h0M186.7 87.6h0M186.7 76.2h0M174.4 90.1h0M197.2 74.9h0M176.1 95.5h0" stroke="#2f55a8" stroke-width="2.64" stroke-linecap="round" fill="none"/>
<path d="M169.9 108.1h0M172.1 101.5h0M170.0 102.7h0M171.4 105.2h0M174.0 102.4h0M177.4 107.1h0M174.7 103.9h0M170.4 101.9h0M172.6 106.0h0M177.6 103.6h0M170.3 109.8h0M178.2 110.7h0M173.3 107.1h0M187.6 108.5h0M173.4 106.0h0M170.0 106.7h0M174.0 102.2h0M171.0 100.4h0M170.5 108.5h0M170.6 110.4h0M171.5 109.1h0M172.2 105.0h0M183.6 104.3h0M171.2 106.3h0M173.8 104.5h0M171.8 108.9h0M173.9 103.1h0M178.1 108.0h0M176.5 102.9h0M173.0 109.8h0M178.3 104.1h0M171.1 104.8h0M170.8 105.5h0M174.8 104.2h0M172.4 105.3h0M180.3 107.5h0M177.3 105.2h0M176.3 98.0h0M173.3 103.7h0M171.8 99.1h0M175.6 105.8h0M179.3 101.5h0M170.2 99.8h0M171.4 109.1h0M173.8 103.0h0M174.5 104.8h0M173.9 108.0h0M173.0 100.2h0M175.9 104.6h0M174.3 108.1h0M178.4 100.7h0M179.6 106.5h0M176.6 102.8h0M170.0 108.4h0M172.0 108.8h0M174.5 109.7h0M177.3 103.7h0M171.2 100.0h0M185.1 107.9h0M174.6 101.2h0M175.6 105.3h0M170.2 108.2h0M172.8 107.1h0M184.2 99.3h0M173.9 98.7h0M176.7 104.0h0M174.4 110.7h0M175.6 102.8h0M172.0 110.7h0M169.9 110.0h0M169.9 100.5h0M176.3 107.2h0M172.8 105.8h0M170.7 108.5h0M171.8 108.8h0M170.9 101.4h0M176.3 106.3h0M173.7 101.6h0M176.3 108.6h0M172.3 99.8h0M172.5 104.7h0M174.7 107.9h0M186.8 107.5h0M182.4 109.1h0M175.5 101.2h0M174.0 104.3h0M172.9 110.3h0M172.4 108.5h0M170.6 102.5h0M171.0 105.8h0M175.6 102.2h0M172.7 103.3h0M178.9 110.7h0M169.8 103.5h0M171.5 104.7h0M172.3 110.7h0M170.4 101.8h0M170.2 106.4h0M174.5 110.7h0M171.9 100.6h0M171.4 108.5h0M172.6 107.2h0M174.6 105.1h0M179.4 103.5h0M176.8 107.5h0M173.8 105.8h0M171.1 101.1h0M178.3 98.7h0M173.1 102.6h0M179.4 103.0h0M177.1 108.1h0M172.3 102.9h0M170.8 107.8h0M178.2 110.1h0M170.6 102.5h0M171.0 100.4h0M178.1 104.1h0M179.8 103.2h0M177.0 106.8h0M171.2 105.1h0M179.6 98.0h0M178.9 109.5h0M172.2 105.0h0M178.4 104.9h0M171.8 103.3h0M174.1 110.0h0M172.6 102.3h0M171.5 101.5h0M173.1 103.2h0M169.8 102.9h0M169.8 105.0h0M172.6 101.5h0M170.1 104.0h0M173.4 108.7h0M174.6 105.8h0M176.9 109.2h0M175.7 109.0h0M172.1 109.3h0M174.6 103.9h0M176.1 105.7h0M176.6 106.3h0M172.6 110.0h0M170.0 104.9h0M170.2 104.8h0M172.0 110.0h0M170.6 103.5h0M177.0 110.2h0M173.3 110.2h0M170.0 109.2h0M175.5 103.1h0M182.5 109.8h0M179.1 108.7h0M173.6 104.5h0M176.7 106.4h0M174.6 105.9h0M174.2 108.6h0M172.0 105.7h0M170.7 105.6h0M173.1 103.0h0M171.5 106.8h0M182.1 108.6h0M178.6 103.4h0M176.0 108.0h0M172.7 102.3h0M176.6 108.5h0M171.0 102.1h0M174.7 106.4h0M176.8 107.8h0M173.7 105.4h0M171.9 107.5h0M178.4 103.1h0M176.9 98.4h0M172.2 106.2h0M172.6 107.6h0M173.3 110.5h0M169.9 106.7h0M179.6 104.4h0M172.2 103.9h0M173.1 105.2h0M183.8 104.2h0M171.7 103.3h0M171.5 107.5h0M174.9 109.0h0M171.3 106.0h0M174.9 106.9h0M171.7 107.9h0M170.6 107.7h0M184.6 105.3h0M170.1 102.9h0M177.1 108.1h0M173.1 104.8h0M170.1 102.9h0M174.7 109.9h0M178.1 106.2h0M173.6 107.9h0M171.1 109.4h0M175.9 104.2h0M175.0 102.9h0M171.0 105.4h0M175.2 106.0h0M171.3 104.0h0M180.2 109.6h0M172.6 102.1h0M179.4 105.6h0M173.6 106.6h0M173.1 100.7h0M179.7 102.5h0M173.3 105.2h0M180.4 104.3h0M176.6 109.3h0M170.4 110.7h0M179.8 103.6h0M171.8 104.0h0M171.1 105.4h0M173.7 107.9h0M171.3 105.1h0M174.1 109.3h0M171.1 106.1h0M173.3 103.8h0M170.8 104.1h0M172.2 101.1h0M171.5 103.9h0M175.1 106.3h0M174.1 102.2h0M175.4 105.8h0M171.4 105.5h0M172.5 107.0h0M170.2 105.2h0M175.5 108.5h0M175.3 103.0h0M172.6 106.3h0M176.4 102.1h0M175.9 101.9h0M171.1 106.1h0M170.8 102.9h0M169.8 110.7h0M173.8 109.7h0M172.0 102.6h0M175.6 110.1h0M181.7 99.6h0M170.4 110.2h0M174.8 102.2h0M181.4 107.4h0M180.3 108.8h0M180.6 105.7h0M177.8 109.8h0M173.3 103.0h0M172.5 106.3h0M170.2 106.8h0M172.9 107.5h0M173.2 101.6h0M172.0 102.3h0M180.1 109.2h0M170.2 102.5h0M171.0 107.6h0M172.0 107.4h0M174.6 106.7h0M170.0 105.6h0M174.8 105.6h0M172.5 98.0h0M171.1 106.5h0M170.6 108.0h0M178.7 105.0h0M178.0 110.7h0M174.1 104.2h0M173.7 103.9h0M170.1 109.3h0M171.0 107.4h0M172.8 108.4h0M172.0 101.2h0M170.6 104.9h0M172.8 104.5h0M170.7 109.9h0M176.5 109.1h0M172.2 105.1h0M175.9 104.8h0M173.6 110.1h0M180.4 107.5h0M171.7 104.4h0M170.6 106.2h0M169.9 104.8h0M170.8 104.6h0M172.7 106.0h0M178.1 109.3h0M171.4 104.2h0M174.1 110.3h0M175.1 108.4h0M179.6 108.9h0M176.5 108.7h0M172.0 100.1h0M174.0 108.4h0M176.2 105.4h0M170.4 101.1h0M176.5 105.8h0M172.6 105.0h0M176.5 108.7h0M179.8 106.0h0M171.3 102.1h0M180.0 105.8h0M179.8 101.0h0M188.7 99.5h0M192.4 99.0h0M195.3 98.5h0M203.3 100.5h0M191.3 101.0h0M186.2 101.5h0" stroke="#f4a02c" stroke-width="2.64" stroke-linecap="round" fill="none"/>
<text x="278.40" y="58.35">TREATMENT</text>
<circle cx="283.70" cy="68.60" r="1.15" fill="#b4b7ba"/>
<text x="293.60" y="71.15">DMSO</text>
<circle cx="283.70" cy="80.70" r="1.15" fill="#e3243a"/>
<text x="293.60" y="83.25">Enza</text>
<circle cx="283.70" cy="92.70" r="1.15" fill="#2f55a8"/>
<text x="293.60" y="95.25">ARV110</text>
<circle cx="283.70" cy="104.80" r="1.15" fill="#f4a02c"/>
<text x="293.60" y="107.35">SMARCA2_4.1</text>
<text x="126.30" y="189.60">MDA-PCa-2b (AR L702H, T787A)</text>
<line x1="126.30" y1="190.80" x2="251.20" y2="190.80" stroke="#333" stroke-width="0.6"/>
<line x1="166.80" y1="207.70" x2="166.80" y2="294.80" stroke="#555" stroke-width="1.2"/>
<line x1="166.20" y1="294.20" x2="262.80" y2="294.20" stroke="#555" stroke-width="1.2"/>
<line x1="164.80" y1="229.65" x2="166.80" y2="229.65" stroke="#333" stroke-width="0.8"/>
<text x="164.20" y="232.60" text-anchor="end" fill="#3a3a3a">0.03</text>
<line x1="164.80" y1="255.90" x2="166.80" y2="255.90" stroke="#333" stroke-width="0.8"/>
<text x="164.20" y="258.85" text-anchor="end" fill="#3a3a3a">0.02</text>
<line x1="164.80" y1="282.15" x2="166.80" y2="282.15" stroke="#333" stroke-width="0.8"/>
<text x="164.20" y="285.10" text-anchor="end" fill="#3a3a3a">0.01</text>
<line x1="170.90" y1="294.20" x2="170.90" y2="296.20" stroke="#333" stroke-width="0.8"/>
<text x="170.90" y="303.40" text-anchor="middle" fill="#3a3a3a">0</text>
<line x1="204.00" y1="294.20" x2="204.00" y2="296.20" stroke="#333" stroke-width="0.8"/>
<text x="204.00" y="303.40" text-anchor="middle" fill="#3a3a3a">10</text>
<line x1="237.10" y1="294.20" x2="237.10" y2="296.20" stroke="#333" stroke-width="0.8"/>
<text x="237.10" y="303.40" text-anchor="middle" fill="#3a3a3a">20</text>
<text x="142.50" y="254.40" text-anchor="middle" transform="rotate(-90 142.50 254.40)">AR activity</text>
<text x="215.70" y="317.40" text-anchor="middle">AR signature</text>
<path d="M191.4 264.1h0M197.5 248.5h0M185.0 261.8h0M189.5 276.9h0M203.7 253.4h0M183.8 237.5h0M196.5 253.0h0M172.9 265.8h0M184.5 251.9h0M187.8 270.3h0M176.3 257.0h0M187.5 266.7h0M189.5 274.2h0M204.2 257.7h0M191.1 258.2h0M180.6 244.5h0M187.4 250.1h0M177.8 271.3h0M185.5 271.0h0M202.2 251.4h0M193.0 269.2h0M172.9 262.7h0M187.5 255.3h0M183.9 254.4h0M172.9 244.4h0M172.9 254.3h0M200.2 261.8h0M201.0 255.9h0" stroke="#b4b7ba" stroke-width="2.64" stroke-linecap="round" fill="none"/>
<path d="M178.8 282.4h0M193.4 273.2h0M188.3 281.2h0M183.0 277.9h0M215.2 271.3h0M209.0 276.3h0M201.1 273.7h0M191.1 280.3h0M180.3 276.6h0M174.8 279.4h0M226.0 274.1h0M199.7 280.2h0M187.7 283.1h0M192.1 278.7h0M215.5 268.9h0M205.9 266.6h0M200.7 272.9h0M200.4 273.4h0M180.0 282.0h0M198.6 274.8h0M178.5 269.3h0M195.2 277.6h0M213.9 273.6h0M192.5 279.2h0M170.9 282.4h0M200.7 277.9h0M191.6 279.0h0M188.0 275.0h0M190.7 279.2h0M207.5 282.1h0M178.0 277.6h0M180.2 277.8h0M193.2 282.7h0M192.0 283.2h0M188.7 270.3h0M198.8 278.6h0M197.5 271.2h0M208.4 281.9h0M212.5 278.1h0M171.4 284.8h0M208.9 275.3h0M185.6 276.1h0M181.7 272.9h0M191.8 287.9h0M204.1 275.3h0" stroke="#f4a02c" stroke-width="2.64" stroke-linecap="round" fill="none"/>
<path d="M198.3 254.8h0" stroke="#e3243a" stroke-width="2.64" stroke-linecap="round" fill="none"/>
<path d="M187.9 264.5h0M187.0 259.8h0M176.3 259.4h0M195.6 266.6h0M184.0 260.8h0M204.1 262.8h0" stroke="#2f55a8" stroke-width="2.64" stroke-linecap="round" fill="none"/>
<path d="M192.1 264.4h0M181.6 247.8h0M202.3 250.0h0M200.1 267.6h0M187.5 269.8h0M180.2 253.1h0M180.2 267.9h0M193.5 259.1h0M200.6 256.2h0M204.9 255.4h0M183.0 270.5h0M184.0 251.5h0M187.3 261.0h0M194.6 251.9h0M205.2 252.4h0M193.6 256.1h0M202.2 255.7h0M182.9 249.5h0M189.7 245.0h0M187.1 239.0h0M190.0 261.3h0M182.8 259.6h0M195.2 255.7h0M229.8 266.4h0M190.1 263.3h0M196.7 276.9h0M193.7 253.8h0" stroke="#b4b7ba" stroke-width="2.64" stroke-linecap="round" fill="none"/>
<path d="M190.9 277.2h0M182.7 270.6h0M197.8 270.7h0M194.3 273.2h0M187.5 277.6h0M182.6 275.7h0M186.8 269.3h0M171.3 271.0h0M198.2 279.0h0M176.6 277.9h0M203.8 283.3h0M203.6 278.3h0M170.9 280.2h0M183.7 279.1h0M188.4 246.7h0M189.9 269.4h0M189.8 270.0h0M196.1 281.7h0M205.3 277.8h0M170.9 275.5h0M207.5 279.7h0M198.5 284.4h0M199.5 276.0h0M196.4 279.6h0M189.9 270.8h0M189.8 271.2h0M199.1 277.1h0M201.6 276.7h0M225.0 281.6h0M199.8 283.7h0M180.8 277.7h0M208.4 276.8h0M204.2 282.2h0M198.3 271.6h0M193.7 279.4h0" stroke="#f4a02c" stroke-width="2.64" stroke-linecap="round" fill="none"/>
<path d="M182.4 251.3h0M189.7 256.9h0M177.4 249.1h0M195.1 258.7h0M195.6 257.8h0M183.1 255.3h0M197.2 252.9h0M196.6 254.7h0" stroke="#e3243a" stroke-width="2.64" stroke-linecap="round" fill="none"/>
<path d="M206.4 269.1h0M187.4 260.3h0M183.6 265.2h0M182.7 274.2h0M193.6 257.1h0M193.9 263.5h0M183.9 267.5h0M179.8 237.5h0M171.6 269.1h0M186.4 267.1h0" stroke="#2f55a8" stroke-width="2.64" stroke-linecap="round" fill="none"/>
<path d="M181.5 268.5h0M194.0 264.8h0M189.0 259.9h0M187.2 243.3h0M179.3 268.9h0M190.9 254.4h0M187.9 255.2h0M202.3 250.6h0M198.6 264.4h0M197.0 257.5h0M181.3 264.3h0M201.0 244.5h0M181.0 264.2h0M197.0 262.1h0M196.0 261.9h0M188.8 271.3h0M196.1 256.8h0M172.9 243.4h0M185.9 242.4h0M191.7 248.1h0M172.9 254.6h0" stroke="#b4b7ba" stroke-width="2.64" stroke-linecap="round" fill="none"/>
<path d="M210.2 281.1h0M188.6 282.0h0M201.9 283.6h0M203.3 281.3h0M196.9 282.0h0M178.5 281.3h0M205.9 283.4h0M180.0 280.9h0M230.5 278.0h0M178.8 278.1h0M204.3 277.9h0M182.6 282.6h0M202.5 280.7h0M196.0 285.8h0M170.9 278.2h0M207.1 273.4h0M196.3 280.5h0M196.9 275.1h0M184.9 281.4h0M180.7 276.6h0M178.1 275.8h0M175.3 271.9h0M188.9 277.9h0M192.5 272.8h0M177.8 270.7h0M185.5 273.3h0M184.4 284.1h0M202.0 289.1h0M190.0 275.8h0M196.1 277.4h0M212.3 278.9h0M223.2 284.4h0M179.1 265.1h0M178.2 283.1h0M194.7 280.3h0M197.7 289.5h0M183.2 283.6h0M190.3 279.5h0M177.7 271.8h0M203.3 283.7h0M214.4 286.0h0M209.5 282.5h0" stroke="#f4a02c" stroke-width="2.64" stroke-linecap="round" fill="none"/>
<path d="M195.1 267.1h0M195.9 254.1h0" stroke="#e3243a" stroke-width="2.64" stroke-linecap="round" fill="none"/>
<path d="M182.5 267.4h0M189.1 261.8h0M198.2 269.3h0M193.7 248.0h0M187.0 271.0h0M199.5 254.2h0M180.8 279.0h0M172.1 265.5h0M185.3 256.8h0M181.1 257.0h0M202.2 259.0h0M181.5 216.5h0M184.7 250.0h0M198.0 248.7h0M187.0 251.0h0" stroke="#2f55a8" stroke-width="2.64" stroke-linecap="round" fill="none"/>
<path d="M195.0 260.6h0M184.5 263.3h0M187.3 254.0h0M197.2 266.4h0M189.9 260.6h0M174.7 254.3h0M193.0 251.2h0M199.5 251.2h0M184.2 273.3h0M200.1 238.4h0M186.1 251.3h0M194.2 263.1h0M187.7 276.9h0M188.5 248.4h0M192.2 262.5h0M195.6 256.4h0M196.4 259.2h0M179.9 259.2h0M172.9 255.8h0M177.0 270.8h0M182.5 256.2h0M190.2 261.8h0M190.2 257.6h0M190.0 254.9h0" stroke="#b4b7ba" stroke-width="2.64" stroke-linecap="round" fill="none"/>
<path d="M207.7 265.1h0M170.9 279.3h0M190.6 276.0h0M191.1 278.1h0M205.4 285.0h0M179.0 279.4h0M199.9 277.0h0M189.4 274.6h0M209.6 283.2h0M209.4 283.5h0M203.0 279.9h0M178.7 283.1h0M202.9 278.2h0M182.2 274.8h0M198.9 278.9h0M184.9 285.7h0M208.9 275.6h0M183.1 276.7h0M175.4 286.5h0M190.6 281.2h0M194.0 276.8h0M178.0 275.7h0M176.1 284.6h0M195.7 284.2h0M186.1 273.8h0M214.1 271.4h0M189.2 281.2h0M192.5 277.5h0M212.0 274.7h0M203.7 284.2h0M208.9 283.0h0M201.6 276.4h0M204.9 275.9h0M214.1 268.2h0M206.1 281.5h0M181.6 278.3h0M189.7 280.1h0M195.0 277.5h0M215.0 278.5h0M197.7 282.9h0M188.4 282.8h0M204.3 275.1h0M188.5 274.9h0M194.5 273.7h0M191.5 271.3h0" stroke="#f4a02c" stroke-width="2.64" stroke-linecap="round" fill="none"/>
<path d="M189.7 247.3h0M190.7 239.1h0M173.5 236.2h0M203.4 269.4h0M180.0 255.1h0" stroke="#e3243a" stroke-width="2.64" stroke-linecap="round" fill="none"/>
<path d="M195.4 254.3h0M192.0 269.7h0M190.1 257.9h0M178.5 250.8h0M185.8 254.4h0M176.8 253.9h0" stroke="#2f55a8" stroke-width="2.64" stroke-linecap="round" fill="none"/>
<path d="M205.5 263.8h0M186.5 268.2h0M201.2 259.2h0M189.1 256.3h0M182.3 276.9h0M191.5 253.8h0M193.1 276.9h0M177.0 256.0h0M184.3 263.1h0M186.4 254.5h0M183.8 264.3h0M197.9 253.8h0M195.6 261.4h0M182.2 256.2h0M199.3 265.0h0M188.8 248.2h0M199.4 259.5h0M190.9 254.9h0M172.9 256.0h0M176.3 266.2h0M191.2 254.5h0M196.0 257.1h0" stroke="#b4b7ba" stroke-width="2.64" stroke-linecap="round" fill="none"/>
<path d="M211.9 278.0h0M182.7 271.2h0M206.3 280.0h0M186.6 289.5h0M185.2 280.5h0M208.1 277.8h0M206.9 277.9h0M184.2 280.0h0M203.6 281.8h0M190.3 276.8h0M196.2 275.8h0M187.8 276.8h0M177.8 276.6h0M192.0 280.7h0M170.9 267.5h0M172.2 274.5h0M194.3 281.5h0M201.1 278.0h0M184.9 287.2h0M196.4 281.5h0M188.0 276.0h0M198.7 272.8h0M248.0 275.6h0M230.5 266.4h0M191.9 273.4h0M171.4 268.7h0M192.6 286.3h0M196.3 271.1h0M196.5 274.4h0M199.1 274.7h0M185.8 240.1h0M183.7 277.2h0M189.3 275.8h0M184.2 278.9h0M217.9 275.9h0" stroke="#f4a02c" stroke-width="2.64" stroke-linecap="round" fill="none"/>
<path d="M191.1 259.4h0M186.3 258.8h0M193.7 255.2h0M192.7 250.1h0M186.9 251.0h0M189.4 259.3h0" stroke="#e3243a" stroke-width="2.64" stroke-linecap="round" fill="none"/>
<path d="M182.8 264.2h0M171.6 252.5h0M179.2 278.2h0M185.0 243.5h0M181.2 240.1h0M187.1 249.2h0M185.7 254.2h0M188.1 272.7h0M171.6 267.8h0M198.6 254.1h0M180.7 256.6h0M200.5 254.9h0M187.6 252.5h0M185.7 237.5h0M186.7 268.9h0M184.3 264.6h0M193.2 271.5h0" stroke="#2f55a8" stroke-width="2.64" stroke-linecap="round" fill="none"/>
<path d="M186.9 246.8h0M203.9 250.2h0M199.6 273.6h0M184.0 254.2h0M190.0 254.6h0M188.5 253.1h0M180.8 221.8h0M189.9 269.9h0M193.3 261.9h0M201.8 259.7h0M198.2 258.5h0M175.4 252.3h0M186.7 251.6h0M193.1 252.9h0M199.1 264.0h0M203.8 260.2h0M186.2 255.4h0M208.2 258.1h0M191.3 263.1h0M185.9 254.2h0M206.3 251.4h0M184.8 263.7h0M191.6 255.8h0M199.0 245.4h0M179.6 256.5h0M183.5 273.8h0M189.4 232.3h0" stroke="#b4b7ba" stroke-width="2.64" stroke-linecap="round" fill="none"/>
<path d="M185.9 269.9h0M199.7 273.1h0M189.4 274.7h0M209.0 266.7h0M177.4 281.4h0M212.1 273.3h0M194.7 283.6h0M184.7 285.7h0M181.4 273.7h0M180.6 279.4h0M209.9 281.3h0M211.8 277.9h0M199.3 275.2h0M200.0 281.8h0M188.8 276.3h0M203.2 282.5h0M194.7 266.7h0M193.8 275.7h0M208.7 272.0h0M199.0 283.3h0M213.6 276.9h0M198.2 276.0h0M198.0 276.5h0M198.3 281.2h0M189.4 276.2h0M178.0 283.0h0M179.3 286.3h0M192.4 283.0h0M224.9 289.5h0M198.8 283.1h0M210.9 280.1h0M173.9 271.7h0M187.3 269.1h0M207.3 276.3h0M201.2 277.3h0M176.4 276.7h0" stroke="#f4a02c" stroke-width="2.64" stroke-linecap="round" fill="none"/>
<path d="M194.4 266.8h0M198.1 246.4h0M186.3 258.7h0M202.3 260.6h0M187.6 260.3h0M192.3 256.1h0M178.7 247.8h0M190.8 245.3h0M187.6 276.9h0" stroke="#e3243a" stroke-width="2.64" stroke-linecap="round" fill="none"/>
<path d="M191.2 275.5h0M196.4 252.2h0M197.2 251.8h0M210.6 268.6h0M179.0 261.5h0M191.7 263.4h0M191.3 255.1h0M188.9 265.2h0" stroke="#2f55a8" stroke-width="2.64" stroke-linecap="round" fill="none"/>
<path d="M194.3 260.5h0M202.9 261.0h0M189.1 265.2h0M172.9 239.9h0M187.6 238.0h0M189.8 255.4h0M199.3 243.7h0M217.2 262.1h0M198.1 264.9h0M179.2 257.0h0M188.3 267.1h0M188.2 276.9h0M203.4 247.2h0M194.5 261.4h0M195.3 256.5h0M199.3 262.9h0M189.9 257.1h0M184.9 237.9h0M180.8 229.6h0M186.0 265.8h0M192.2 239.3h0M211.8 253.2h0M192.3 252.2h0M191.5 250.2h0M200.6 249.3h0M189.6 262.5h0M175.4 270.4h0M189.8 247.1h0M194.2 261.2h0M179.5 276.9h0" stroke="#b4b7ba" stroke-width="2.64" stroke-linecap="round" fill="none"/>
<path d="M216.8 285.6h0M177.3 276.8h0M209.3 275.1h0M195.5 273.9h0M210.8 275.5h0M212.6 281.5h0M193.2 272.4h0M205.1 281.6h0M170.9 281.8h0M190.0 275.4h0M175.8 275.8h0M191.0 283.2h0M203.0 278.3h0M175.3 284.5h0M205.7 278.5h0M192.4 283.2h0M215.8 278.2h0M202.1 267.1h0M193.1 282.3h0M195.3 273.6h0M197.9 282.7h0M259.9 283.5h0M230.5 279.1h0M196.0 286.6h0M206.3 272.0h0M188.7 282.4h0M174.5 279.1h0M189.1 275.9h0M202.3 273.7h0M172.3 275.6h0M183.7 278.5h0M208.4 281.3h0M185.0 277.8h0M204.3 267.8h0M194.8 282.5h0M195.1 270.6h0M198.3 270.7h0M190.3 274.5h0" stroke="#f4a02c" stroke-width="2.64" stroke-linecap="round" fill="none"/>
<path d="M186.9 262.4h0M196.7 254.1h0M173.5 247.6h0M203.7 256.3h0" stroke="#e3243a" stroke-width="2.64" stroke-linecap="round" fill="none"/>
<path d="M173.0 251.2h0M175.5 211.3h0M190.0 259.7h0M182.8 281.5h0M179.3 273.0h0M194.4 262.7h0M175.0 272.6h0M206.3 257.2h0" stroke="#2f55a8" stroke-width="2.64" stroke-linecap="round" fill="none"/>
<path d="M186.1 270.1h0M197.0 247.4h0M187.1 261.2h0M179.5 261.1h0M208.9 257.8h0M192.7 256.7h0M179.9 241.4h0M192.8 255.5h0M195.3 248.7h0M184.1 252.3h0M201.2 264.4h0M190.7 274.7h0M198.0 267.7h0M188.4 253.0h0M190.1 263.1h0M185.2 236.6h0M188.9 242.3h0M192.2 255.7h0M183.0 261.1h0M191.8 258.1h0M198.8 261.2h0M172.9 252.7h0M190.6 251.0h0M182.9 264.2h0M190.1 256.8h0M175.5 260.3h0M185.5 239.3h0M196.5 252.1h0M197.4 256.5h0M178.9 258.8h0M201.4 263.6h0M198.1 248.0h0M179.5 262.5h0M191.3 265.3h0M181.0 253.2h0M184.2 256.7h0M176.9 267.0h0M181.8 249.5h0M203.7 261.9h0M187.3 245.5h0M182.5 259.0h0M192.9 262.3h0" stroke="#b4b7ba" stroke-width="2.64" stroke-linecap="round" fill="none"/>
<path d="M197.7 283.3h0M184.1 231.0h0M187.1 274.2h0M217.3 278.6h0M198.9 273.1h0M188.7 281.1h0M178.6 274.1h0M183.5 284.9h0M221.0 281.0h0M198.0 275.0h0M202.7 279.5h0M209.0 274.1h0M198.4 280.2h0M187.2 271.1h0M191.2 281.3h0M188.9 285.5h0M205.8 278.2h0M202.0 276.1h0M202.2 281.1h0M181.1 287.7h0M200.5 287.5h0M203.7 276.2h0M200.7 277.5h0M192.0 279.7h0" stroke="#f4a02c" stroke-width="2.64" stroke-linecap="round" fill="none"/>
<path d="M187.6 244.1h0M199.2 265.7h0M193.7 250.2h0M188.2 247.7h0M191.8 269.5h0M174.0 245.3h0" stroke="#e3243a" stroke-width="2.64" stroke-linecap="round" fill="none"/>
<path d="M189.4 245.4h0M175.6 268.9h0M188.8 262.2h0M185.3 272.6h0M195.7 257.6h0M210.6 240.2h0M186.4 258.2h0M179.0 269.7h0" stroke="#2f55a8" stroke-width="2.64" stroke-linecap="round" fill="none"/>
<path d="M190.2 266.7h0M188.8 259.8h0M181.8 255.5h0M181.6 265.5h0M186.1 267.5h0M192.9 271.2h0M177.7 261.2h0M190.8 258.3h0M213.4 264.0h0M189.7 252.3h0M199.8 251.0h0M185.7 270.0h0M191.6 249.7h0M180.8 276.2h0M194.3 262.6h0M201.8 256.8h0M182.4 263.9h0M194.2 252.5h0M187.1 254.9h0M196.5 252.9h0M177.3 274.9h0M194.3 275.1h0M190.6 262.3h0M189.9 260.6h0" stroke="#b4b7ba" stroke-width="2.64" stroke-linecap="round" fill="none"/>
<path d="M185.1 283.6h0M186.6 277.7h0M185.2 273.8h0M191.5 274.3h0M196.4 278.7h0M170.9 277.1h0M204.9 279.7h0M182.8 281.7h0M174.2 276.7h0M219.6 285.7h0M189.0 279.8h0M213.6 281.2h0M200.9 283.3h0M184.0 278.5h0M173.7 269.1h0M208.8 281.7h0M191.6 283.1h0M196.7 272.5h0M181.2 273.6h0M245.7 275.6h0M206.1 278.2h0M199.4 278.7h0M203.3 273.4h0M187.5 245.4h0M184.6 271.3h0M191.2 283.6h0M202.9 285.5h0M194.1 273.1h0M210.2 270.7h0M197.8 276.1h0M216.1 282.5h0M176.9 285.5h0M189.0 281.5h0M189.6 272.6h0M200.7 277.4h0M186.3 289.2h0M207.6 271.5h0M189.2 277.2h0" stroke="#f4a02c" stroke-width="2.64" stroke-linecap="round" fill="none"/>
<path d="M227.2 269.5h0M187.9 254.4h0M183.8 253.7h0M194.5 256.2h0M191.2 255.3h0" stroke="#e3243a" stroke-width="2.64" stroke-linecap="round" fill="none"/>
<path d="M170.9 257.2h0M176.9 234.9h0M182.1 257.0h0M186.7 271.9h0M171.6 261.8h0M184.6 272.5h0M209.4 252.0h0M189.6 262.3h0M188.5 255.9h0M191.6 253.9h0M182.8 268.2h0M185.6 269.3h0M187.1 267.2h0" stroke="#2f55a8" stroke-width="2.64" stroke-linecap="round" fill="none"/>
<path d="M199.7 249.6h0M180.7 246.4h0M197.1 268.9h0M210.7 254.1h0M181.9 254.2h0M194.2 270.3h0M201.7 257.1h0M183.8 255.5h0M206.4 256.3h0M180.0 269.1h0M210.0 266.8h0M195.1 257.2h0M191.0 270.9h0M198.0 248.4h0M184.5 256.9h0M176.4 243.0h0M193.6 257.5h0M201.1 259.0h0M202.0 257.2h0M201.4 253.7h0M193.5 247.9h0M188.9 266.2h0M209.4 251.4h0M183.8 267.2h0M177.6 265.1h0M185.4 259.0h0M212.9 261.2h0M195.9 274.4h0M204.9 255.8h0M196.8 254.3h0M200.5 259.4h0M178.3 275.9h0M197.5 254.2h0M201.1 265.7h0M183.7 254.9h0M179.8 268.5h0" stroke="#b4b7ba" stroke-width="2.64" stroke-linecap="round" fill="none"/>
<path d="M188.9 272.9h0M213.3 278.9h0M208.3 279.8h0M173.7 286.4h0M193.4 272.1h0M186.0 277.8h0M211.1 281.3h0M203.9 269.8h0M190.2 286.3h0M202.4 277.1h0M177.2 275.3h0M191.3 286.0h0M184.7 276.8h0M181.3 272.1h0M172.4 279.3h0M197.8 278.4h0M183.6 276.8h0M217.6 289.5h0M205.1 276.1h0M205.1 281.2h0M189.7 273.5h0M187.9 283.0h0M195.1 277.4h0M205.3 277.7h0M198.6 279.0h0M181.5 277.1h0M208.1 276.4h0M187.6 267.8h0M174.6 278.2h0" stroke="#f4a02c" stroke-width="2.64" stroke-linecap="round" fill="none"/>
<path d="M182.2 257.2h0M190.0 272.3h0M192.2 259.7h0M197.7 255.7h0M188.6 263.1h0M177.1 274.2h0M197.7 250.7h0M173.5 274.4h0" stroke="#e3243a" stroke-width="2.64" stroke-linecap="round" fill="none"/>
<path d="M190.9 258.3h0M181.5 249.0h0M193.9 251.4h0M191.4 261.3h0M178.3 250.9h0M174.1 258.1h0M178.4 264.8h0" stroke="#2f55a8" stroke-width="2.64" stroke-linecap="round" fill="none"/>
<path d="M194.4 266.3h0M191.7 269.0h0M194.1 273.9h0M189.1 249.2h0M197.2 261.0h0M181.8 251.9h0M192.7 258.3h0M187.3 249.2h0M199.9 258.0h0M214.1 250.3h0M195.0 267.0h0M183.3 247.8h0M189.9 260.8h0M194.6 266.2h0M180.2 253.0h0M187.4 254.5h0M183.0 249.2h0M186.7 255.2h0M193.7 263.5h0M183.1 254.4h0M181.2 270.4h0M232.8 269.0h0M188.0 248.9h0M182.6 258.0h0M191.5 255.7h0" stroke="#b4b7ba" stroke-width="2.64" stroke-linecap="round" fill="none"/>
<path d="M189.1 275.1h0M216.6 284.5h0M182.3 286.1h0M208.3 282.2h0M180.7 272.5h0M182.1 273.2h0M192.6 272.8h0M187.6 285.9h0M188.6 283.5h0M181.9 271.8h0M197.5 270.9h0M205.4 277.8h0M184.7 283.3h0M186.5 283.3h0M217.8 269.3h0M220.8 276.0h0M184.5 283.0h0M212.1 280.8h0M209.2 271.8h0M188.9 281.8h0M185.0 275.2h0M187.0 277.9h0M223.5 282.1h0M186.2 278.7h0M187.5 270.3h0M184.4 272.1h0M188.3 279.1h0M191.7 275.0h0M206.8 284.0h0M170.9 277.5h0M194.6 272.7h0M209.5 285.6h0M203.8 284.1h0M200.4 279.5h0M200.1 273.0h0M189.2 279.2h0M192.1 287.0h0M193.7 277.4h0M228.6 269.9h0M181.0 271.3h0M210.3 274.5h0M192.4 282.8h0" stroke="#f4a02c" stroke-width="2.64" stroke-linecap="round" fill="none"/>
<path d="M185.3 261.3h0M175.8 258.4h0M195.1 254.9h0M182.4 251.7h0" stroke="#e3243a" stroke-width="2.64" stroke-linecap="round" fill="none"/>
<path d="M180.9 262.9h0M176.4 277.6h0M191.4 270.6h0M177.9 242.8h0M174.2 230.7h0M179.6 255.1h0M189.3 257.4h0M188.0 271.2h0M194.1 266.9h0" stroke="#2f55a8" stroke-width="2.64" stroke-linecap="round" fill="none"/>
<path d="M172.9 258.7h0M212.6 258.5h0M183.6 256.6h0M193.5 256.7h0M214.0 252.6h0M190.4 243.6h0M190.7 245.1h0M192.8 242.1h0M193.5 257.8h0M195.7 244.3h0M189.2 271.7h0M185.3 254.4h0M183.7 244.2h0M192.0 261.0h0M186.8 257.1h0M192.5 271.2h0" stroke="#b4b7ba" stroke-width="2.64" stroke-linecap="round" fill="none"/>
<path d="M199.2 274.5h0M198.3 284.3h0M176.8 285.3h0M177.5 290.5h0M185.9 279.8h0M182.9 269.1h0M194.7 282.7h0M197.3 273.1h0M204.6 277.0h0M208.8 279.5h0M189.5 282.1h0M199.2 285.6h0M213.8 287.4h0M205.4 281.3h0M204.4 277.2h0M177.1 280.1h0M193.7 286.0h0M201.8 269.8h0M187.5 272.6h0M196.1 282.1h0M197.3 274.7h0M199.9 272.2h0M217.1 280.3h0M186.3 279.0h0M182.6 277.0h0M170.9 275.6h0M204.9 283.5h0M179.2 282.8h0M186.2 271.6h0M186.2 289.5h0M226.5 269.0h0M203.1 276.9h0M194.5 273.8h0M213.0 274.9h0M183.8 276.9h0M211.3 272.7h0M170.9 273.0h0M181.3 282.6h0M191.7 271.9h0M200.4 280.2h0M185.3 275.8h0M199.7 276.8h0M195.6 277.1h0" stroke="#f4a02c" stroke-width="2.64" stroke-linecap="round" fill="none"/>
<path d="M195.1 250.0h0M193.7 235.5h0M197.9 275.6h0M179.9 249.2h0M173.5 269.6h0M191.4 249.1h0" stroke="#e3243a" stroke-width="2.64" stroke-linecap="round" fill="none"/>
<path d="M196.4 263.8h0M190.0 257.9h0M190.1 264.3h0M187.4 251.0h0M190.9 255.6h0M183.8 262.3h0M181.1 268.2h0M195.3 265.9h0M175.7 270.6h0M183.8 269.3h0M196.3 266.9h0M178.6 254.4h0M181.0 255.2h0M180.2 251.4h0M184.4 244.6h0" stroke="#2f55a8" stroke-width="2.64" stroke-linecap="round" fill="none"/>
<path d="M198.9 276.0h0M186.6 248.9h0M194.0 266.7h0M195.9 266.8h0M193.1 265.3h0M186.0 258.5h0M190.2 253.0h0M206.2 256.6h0M182.9 260.2h0M185.3 261.6h0M190.8 264.4h0M193.4 245.1h0M191.5 269.3h0M210.0 262.6h0M180.1 265.0h0M186.6 255.2h0" stroke="#b4b7ba" stroke-width="2.64" stroke-linecap="round" fill="none"/>
<path d="M170.9 289.4h0M192.0 269.9h0M197.8 278.4h0M196.7 274.6h0M185.1 273.1h0M196.5 278.4h0M203.7 274.0h0M181.3 275.6h0M194.1 275.3h0M238.4 283.5h0M187.2 283.4h0M203.0 276.7h0M221.4 276.6h0M201.7 280.4h0M214.3 279.1h0M186.2 278.1h0M188.1 282.7h0M181.3 278.4h0M196.1 271.7h0M178.2 271.6h0M196.2 277.7h0M190.0 274.2h0M188.1 285.7h0M195.2 282.9h0M193.4 272.3h0M203.7 279.7h0M191.0 278.9h0M193.3 276.6h0M200.4 286.1h0M186.5 285.0h0M195.5 281.8h0M186.0 276.8h0M191.8 274.1h0M199.9 279.7h0M204.1 279.7h0M182.4 277.3h0M198.3 289.5h0M170.9 280.7h0M201.3 276.1h0M193.4 271.0h0M192.9 273.5h0M200.3 274.1h0M190.6 281.7h0M195.3 274.6h0" stroke="#f4a02c" stroke-width="2.64" stroke-linecap="round" fill="none"/>
<path d="M195.2 255.5h0M200.6 249.6h0M174.2 210.8h0M178.5 253.9h0M183.1 271.5h0M192.6 256.3h0M200.1 276.9h0M189.9 266.7h0" stroke="#e3243a" stroke-width="2.64" stroke-linecap="round" fill="none"/>
<path d="M189.9 263.8h0M192.6 264.6h0M195.5 252.7h0M176.8 259.4h0M187.7 257.7h0M195.1 270.9h0M185.9 251.5h0M184.8 255.4h0M174.1 255.0h0M191.9 260.6h0M194.5 253.9h0M177.9 262.2h0" stroke="#2f55a8" stroke-width="2.64" stroke-linecap="round" fill="none"/>
<path d="M186.7 252.7h0M185.7 252.4h0M188.3 251.6h0M198.2 252.3h0M208.8 259.9h0M185.0 265.3h0M187.7 260.5h0M182.8 257.9h0M183.3 260.1h0M197.6 253.7h0M190.9 255.2h0M179.8 273.2h0M185.5 234.9h0M185.6 270.9h0M183.3 267.3h0M185.8 262.1h0M191.4 256.1h0M179.0 262.1h0M172.9 268.6h0M190.3 263.4h0M196.7 262.5h0M187.3 260.3h0" stroke="#b4b7ba" stroke-width="2.64" stroke-linecap="round" fill="none"/>
<path d="M207.6 280.4h0M194.9 278.5h0M170.9 275.6h0M195.2 284.5h0M177.9 287.0h0M186.4 272.4h0M177.2 279.9h0M185.2 277.2h0M184.7 277.1h0M208.4 271.1h0M179.2 278.4h0M170.9 274.1h0M175.6 275.8h0M177.5 279.5h0M210.2 268.0h0M209.5 283.2h0M208.9 277.8h0M196.1 282.2h0M183.0 282.9h0M205.3 274.7h0M193.1 272.2h0M178.6 277.7h0M200.6 273.1h0M217.1 278.6h0M213.1 284.5h0M179.7 275.3h0M186.2 285.7h0M202.5 278.2h0M187.0 276.9h0M183.6 284.1h0M170.9 275.0h0M190.7 281.7h0M192.2 276.0h0M188.6 278.2h0M216.5 282.3h0M189.9 275.6h0M187.0 274.7h0M210.8 278.5h0M180.1 283.5h0" stroke="#f4a02c" stroke-width="2.64" stroke-linecap="round" fill="none"/>
<path d="M182.1 243.2h0M196.0 248.7h0M201.7 262.2h0M199.8 259.6h0" stroke="#e3243a" stroke-width="2.64" stroke-linecap="round" fill="none"/>
<path d="M193.8 270.2h0M187.3 258.5h0M194.1 263.9h0M190.8 254.4h0M189.3 257.5h0M175.4 256.5h0M194.0 261.3h0M184.1 280.0h0M186.3 271.0h0M187.6 267.1h0M197.0 256.0h0M201.0 275.0h0M175.1 254.9h0M201.7 265.7h0M198.2 260.8h0" stroke="#2f55a8" stroke-width="2.64" stroke-linecap="round" fill="none"/>
<path d="M193.3 255.4h0M195.7 255.9h0M190.4 269.6h0M187.6 247.8h0M202.9 262.4h0M194.3 250.1h0M189.9 256.1h0M188.5 256.6h0M195.4 261.9h0M201.8 258.9h0M175.9 219.1h0M207.8 259.8h0M196.7 237.5h0M177.7 264.5h0M196.7 238.2h0M178.7 253.5h0M195.7 269.5h0M188.4 246.4h0M183.4 257.1h0M177.9 221.8h0M187.3 254.9h0M188.2 256.2h0M209.1 262.9h0M190.4 249.1h0M194.6 262.7h0M189.5 266.9h0M191.9 250.9h0" stroke="#b4b7ba" stroke-width="2.64" stroke-linecap="round" fill="none"/>
<path d="M189.1 271.2h0M184.3 271.3h0M196.8 277.1h0M170.9 277.6h0M215.0 280.7h0M188.6 271.9h0M183.9 281.3h0M215.6 272.2h0M188.2 271.5h0M177.8 277.1h0M200.9 282.0h0M201.9 277.2h0M186.6 284.3h0M181.7 281.5h0M194.4 289.5h0M198.8 282.0h0M191.1 277.4h0M200.9 274.5h0M192.8 281.9h0M191.5 277.3h0M211.1 279.7h0M170.9 277.1h0M191.2 279.1h0M171.9 277.9h0M185.5 282.8h0M190.8 275.7h0M185.7 279.6h0M201.8 275.7h0M176.4 289.5h0M191.5 272.6h0M220.7 275.0h0" stroke="#f4a02c" stroke-width="2.64" stroke-linecap="round" fill="none"/>
<path d="M180.9 256.3h0M187.7 274.4h0M183.9 265.1h0M181.1 257.5h0M193.6 271.4h0M180.8 223.1h0M174.1 249.4h0M199.4 276.9h0M189.8 276.8h0M208.3 268.5h0" stroke="#e3243a" stroke-width="2.64" stroke-linecap="round" fill="none"/>
<path d="M178.2 251.3h0M190.9 277.4h0M192.6 253.1h0M186.3 255.5h0M188.4 268.3h0M191.6 261.1h0M191.7 255.5h0M181.2 270.2h0M190.6 261.4h0M190.0 249.8h0M194.4 247.3h0M190.7 263.4h0" stroke="#2f55a8" stroke-width="2.64" stroke-linecap="round" fill="none"/>
<path d="M190.9 269.0h0M197.5 252.7h0M204.6 274.3h0M202.3 249.0h0M175.2 261.5h0M194.6 255.6h0" stroke="#b4b7ba" stroke-width="2.64" stroke-linecap="round" fill="none"/>
<path d="M184.3 280.4h0M190.5 282.8h0M177.7 276.6h0M203.5 275.7h0M196.7 280.0h0M209.2 285.8h0" stroke="#f4a02c" stroke-width="2.64" stroke-linecap="round" fill="none"/>
<path d="M181.1 260.8h0M190.1 245.7h0M173.5 257.9h0" stroke="#e3243a" stroke-width="2.64" stroke-linecap="round" fill="none"/>
<path d="M188.7 242.1h0M187.3 259.3h0M183.5 258.9h0" stroke="#2f55a8" stroke-width="2.64" stroke-linecap="round" fill="none"/>
<text x="275.70" y="225.15">TREATMENT</text>
<circle cx="281.00" cy="235.80" r="1.15" fill="#b4b7ba"/>
<text x="290.90" y="238.35">DMSO</text>
<circle cx="281.00" cy="247.70" r="1.15" fill="#e3243a"/>
<text x="290.90" y="250.25">Enza</text>
<circle cx="281.00" cy="259.50" r="1.15" fill="#2f55a8"/>
<text x="290.90" y="262.05">ARV110</text>
<circle cx="281.00" cy="271.30" r="1.15" fill="#f4a02c"/>
<text x="290.90" y="273.85">SMARCA2_4.1</text>
<text x="475.40" y="29.60" text-anchor="middle" font-size="8.8">VCaP</text>
<rect x="404.00" y="43.40" width="41.00" height="9.70" fill="#bdbfc1"/>
<rect x="447.00" y="43.40" width="35.00" height="9.70" fill="#e6303f"/>
<rect x="484.00" y="43.40" width="37.00" height="9.70" fill="#3d62b0"/>
<rect x="523.00" y="43.40" width="28.00" height="9.70" fill="#f5a13a"/>
<text x="424.20" y="40.30" text-anchor="middle">DMSO</text>
<text x="450.20" y="40.30">Enza</text>
<text x="486.30" y="40.30">ARV110</text>
<text x="523.80" y="40.30">SMARCA2_4.1</text>
<text x="554.80" y="51.20">TREATMENT</text>
<g transform="translate(404.00 55.00) scale(1.0000 7.1111)" shape-rendering="crispEdges"><path fill="#1c1c38" d="M0 0h1v1h-1zM11 0h1v1h-1zM35 0h1v1h-1zM40 0h1v1h-1zM14 7h1v1h-1z"/><path fill="#2a2a46" d="M1 0h1v1h-1z"/><path fill="#2a2a70" d="M2 0h1v1h-1zM22 0h1v1h-1zM2 6h1v1h-1zM7 6h1v1h-1zM17 6h2v1h-2zM29 6h1v1h-1zM36 6h1v1h-1zM19 7h2v1h-2zM38 7h1v1h-1zM40 7h1v1h-1z"/><path fill="#0e0e38" d="M3 0h1v1h-1zM12 0h1v1h-1zM26 7h1v1h-1zM37 7h1v1h-1zM14 8h2v1h-2zM17 8h2v1h-2zM26 8h1v1h-1zM31 8h1v1h-1zM34 8h1v1h-1zM37 8h1v1h-1z"/><path fill="#1c1c54" d="M4 0h2v1h-2zM24 0h1v1h-1zM33 0h1v1h-1zM32 6h1v1h-1zM0 7h1v1h-1zM2 7h1v1h-1zM4 7h1v1h-1zM8 7h1v1h-1zM10 7h1v1h-1zM12 7h1v1h-1zM17 7h1v1h-1zM21 7h2v1h-2zM32 7h1v1h-1zM39 7h1v1h-1zM29 8h1v1h-1z"/><path fill="#1c1c2a" d="M6 0h1v1h-1zM9 0h1v1h-1zM30 0h1v1h-1z"/><path fill="#1c1c46" d="M7 0h2v1h-2zM20 0h1v1h-1zM27 0h1v1h-1zM34 0h1v1h-1zM5 7h1v1h-1zM7 7h1v1h-1zM16 7h1v1h-1zM25 7h1v1h-1zM28 7h2v1h-2zM31 7h1v1h-1zM1 8h1v1h-1zM10 8h1v1h-1zM12 8h1v1h-1zM16 8h1v1h-1zM25 8h1v1h-1zM27 8h1v1h-1zM38 8h1v1h-1z"/><path fill="#384646" d="M10 0h1v1h-1z"/><path fill="#1c2a62" d="M13 0h1v1h-1zM40 6h1v1h-1zM33 7h1v1h-1zM35 7h2v1h-2z"/><path fill="#383846" d="M14 0h1v1h-1z"/><path fill="#38469a" d="M15 0h1v1h-1zM0 6h1v1h-1zM14 6h1v1h-1zM22 6h1v1h-1zM35 6h1v1h-1z"/><path fill="#0e0e1c" d="M16 0h1v1h-1zM0 8h1v1h-1zM11 8h1v1h-1zM40 8h1v1h-1z"/><path fill="#383862" d="M17 0h1v1h-1z"/><path fill="#2a2a62" d="M18 0h1v1h-1zM23 0h1v1h-1zM15 6h1v1h-1zM26 6h1v1h-1zM28 6h1v1h-1zM39 6h1v1h-1zM23 7h1v1h-1z"/><path fill="#0e0e2a" d="M19 0h1v1h-1zM1 7h1v1h-1zM13 7h1v1h-1zM2 8h3v1h-3zM6 8h1v1h-1zM9 8h1v1h-1zM13 8h1v1h-1zM20 8h1v1h-1zM23 8h1v1h-1zM28 8h1v1h-1zM30 8h1v1h-1zM32 8h1v1h-1z"/><path fill="#2a387e" d="M21 0h1v1h-1zM37 0h1v1h-1zM36 2h1v1h-1zM8 3h1v1h-1zM13 3h1v1h-1zM20 3h1v1h-1zM26 3h1v1h-1zM11 6h1v1h-1zM13 6h1v1h-1zM20 6h1v1h-1zM27 6h1v1h-1zM30 6h1v1h-1zM38 6h1v1h-1z"/><path fill="#2a3838" d="M25 0h1v1h-1z"/><path fill="#2a2a38" d="M26 0h1v1h-1zM32 0h1v1h-1z"/><path fill="#464662" d="M28 0h1v1h-1z"/><path fill="#384670" d="M29 0h1v1h-1zM25 3h1v1h-1zM27 3h1v1h-1z"/><path fill="#1c1c62" d="M31 0h1v1h-1zM3 6h1v1h-1zM9 7h1v1h-1zM24 7h1v1h-1zM27 7h1v1h-1zM30 7h1v1h-1z"/><path fill="#38381c" d="M36 0h1v1h-1z"/><path fill="#545462" d="M38 0h1v1h-1z"/><path fill="#1c0e38" d="M39 0h1v1h-1zM18 7h1v1h-1zM5 8h1v1h-1zM19 8h1v1h-1zM21 8h2v1h-2zM24 8h1v1h-1zM33 8h1v1h-1zM35 8h2v1h-2zM39 8h1v1h-1z"/><path fill="#8c8c2a" d="M0 1h1v1h-1zM9 1h1v1h-1zM31 1h1v1h-1zM35 1h1v1h-1zM39 1h1v1h-1zM2 5h1v1h-1zM6 5h1v1h-1zM14 5h1v1h-1zM32 5h1v1h-1zM35 5h1v1h-1z"/><path fill="#9a9a2a" d="M1 1h1v1h-1zM10 1h1v1h-1zM14 1h1v1h-1zM19 1h1v1h-1zM22 1h1v1h-1zM24 1h1v1h-1zM27 1h1v1h-1zM34 1h1v1h-1zM3 2h1v1h-1zM23 2h1v1h-1zM2 4h1v1h-1zM6 4h1v1h-1zM1 5h1v1h-1zM4 5h1v1h-1zM9 5h1v1h-1zM11 5h1v1h-1zM16 5h1v1h-1zM20 5h1v1h-1zM23 5h1v1h-1zM25 5h2v1h-2zM36 5h2v1h-2zM40 5h1v1h-1z"/><path fill="#a8a82a" d="M2 1h1v1h-1zM11 1h1v1h-1zM17 1h1v1h-1zM26 1h1v1h-1zM9 4h1v1h-1zM13 5h1v1h-1zM18 5h1v1h-1zM30 5h1v1h-1zM38 5h1v1h-1z"/><path fill="#70701c" d="M3 1h2v1h-2zM12 2h1v1h-1z"/><path fill="#62621c" d="M5 1h1v1h-1zM33 1h1v1h-1zM25 2h1v1h-1z"/><path fill="#c4c42a" d="M6 1h1v1h-1zM18 1h1v1h-1zM29 1h1v1h-1zM0 5h1v1h-1zM3 5h1v1h-1zM5 5h1v1h-1zM21 5h1v1h-1z"/><path fill="#d2d238" d="M7 1h2v1h-2zM16 1h1v1h-1zM25 1h1v1h-1zM17 5h1v1h-1z"/><path fill="#b6b62a" d="M12 1h1v1h-1zM32 1h1v1h-1zM38 1h1v1h-1zM40 1h1v1h-1zM0 2h1v1h-1zM7 2h1v1h-1zM8 5h1v1h-1zM10 5h1v1h-1zM15 5h1v1h-1zM22 5h1v1h-1zM31 5h1v1h-1z"/><path fill="#7e7e1c" d="M13 1h1v1h-1zM28 5h1v1h-1z"/><path fill="#e0e038" d="M15 1h1v1h-1zM23 1h1v1h-1zM8 2h1v1h-1zM21 2h1v1h-1zM24 2h1v1h-1zM28 2h1v1h-1zM10 4h1v1h-1zM26 4h2v1h-2zM36 4h2v1h-2zM33 5h1v1h-1zM39 5h1v1h-1z"/><path fill="#7e7e2a" d="M20 1h1v1h-1zM28 1h1v1h-1zM37 1h1v1h-1zM11 2h1v1h-1zM24 5h1v1h-1z"/><path fill="#62622a" d="M21 1h1v1h-1zM35 2h1v1h-1zM14 4h1v1h-1z"/><path fill="#d2d22a" d="M30 1h1v1h-1zM7 5h1v1h-1zM12 5h1v1h-1zM19 5h1v1h-1zM29 5h1v1h-1z"/><path fill="#46461c" d="M36 1h1v1h-1z"/><path fill="#707e7e" d="M1 2h1v1h-1zM10 2h1v1h-1zM30 2h1v1h-1zM33 2h1v1h-1zM6 3h1v1h-1zM16 3h1v1h-1zM23 3h1v1h-1zM28 3h1v1h-1zM30 3h1v1h-1zM32 3h1v1h-1zM16 4h2v1h-2zM31 4h1v1h-1zM33 4h1v1h-1zM40 4h1v1h-1z"/><path fill="#707e54" d="M2 2h1v1h-1zM22 2h1v1h-1zM26 2h1v1h-1zM22 3h1v1h-1z"/><path fill="#a8a854" d="M4 2h1v1h-1zM9 2h1v1h-1zM13 2h2v1h-2zM19 2h1v1h-1zM34 2h1v1h-1zM38 2h1v1h-1zM40 2h1v1h-1zM1 3h1v1h-1zM36 3h1v1h-1zM3 4h3v1h-3zM7 4h1v1h-1zM11 4h3v1h-3zM19 4h2v1h-2zM30 4h1v1h-1zM34 4h1v1h-1z"/><path fill="#626254" d="M5 2h1v1h-1zM0 3h1v1h-1zM10 3h1v1h-1zM18 3h1v1h-1zM34 3h2v1h-2zM8 4h1v1h-1zM25 4h1v1h-1zM38 4h1v1h-1z"/><path fill="#707054" d="M6 2h1v1h-1zM16 2h1v1h-1zM27 2h1v1h-1zM37 2h1v1h-1zM35 4h1v1h-1z"/><path fill="#7e7e54" d="M15 2h1v1h-1zM17 3h1v1h-1zM0 4h1v1h-1zM32 4h1v1h-1z"/><path fill="#3846a8" d="M17 2h1v1h-1zM2 3h1v1h-1zM7 3h1v1h-1zM9 3h1v1h-1zM11 3h1v1h-1zM14 3h1v1h-1zM24 3h1v1h-1zM37 3h1v1h-1zM40 3h1v1h-1zM18 4h1v1h-1zM23 4h1v1h-1zM6 6h1v1h-1zM9 6h1v1h-1zM37 6h1v1h-1z"/><path fill="#9a9a54" d="M18 2h1v1h-1z"/><path fill="#384654" d="M20 2h1v1h-1z"/><path fill="#70702a" d="M29 2h1v1h-1zM15 4h1v1h-1zM39 4h1v1h-1z"/><path fill="#8c8c54" d="M31 2h1v1h-1z"/><path fill="#62707e" d="M32 2h1v1h-1z"/><path fill="#9a9a38" d="M39 2h1v1h-1zM21 3h1v1h-1z"/><path fill="#545438" d="M3 3h1v1h-1z"/><path fill="#2a388c" d="M4 3h1v1h-1zM31 6h1v1h-1z"/><path fill="#2a2a54" d="M5 3h1v1h-1z"/><path fill="#626246" d="M12 3h1v1h-1zM33 3h1v1h-1zM29 4h1v1h-1z"/><path fill="#2a3870" d="M15 3h1v1h-1zM24 4h1v1h-1z"/><path fill="#626262" d="M19 3h1v1h-1z"/><path fill="#627062" d="M29 3h1v1h-1zM38 3h1v1h-1z"/><path fill="#54542a" d="M31 3h1v1h-1z"/><path fill="#7e8c54" d="M39 3h1v1h-1z"/><path fill="#62627e" d="M1 4h1v1h-1z"/><path fill="#627054" d="M21 4h1v1h-1z"/><path fill="#464670" d="M22 4h1v1h-1z"/><path fill="#54541c" d="M28 4h1v1h-1zM27 5h1v1h-1zM34 5h1v1h-1z"/><path fill="#38388c" d="M1 6h1v1h-1zM5 6h1v1h-1zM16 6h1v1h-1zM23 6h2v1h-2zM3 7h1v1h-1z"/><path fill="#2a2a7e" d="M4 6h1v1h-1zM10 6h1v1h-1zM19 6h1v1h-1zM21 6h1v1h-1zM25 6h1v1h-1zM33 6h2v1h-2zM6 7h1v1h-1zM11 7h1v1h-1zM34 7h1v1h-1z"/><path fill="#38389a" d="M8 6h1v1h-1zM12 6h1v1h-1z"/><path fill="#1c0e46" d="M15 7h1v1h-1zM7 8h2v1h-2z"/></g>
<rect x="404.50" y="55.50" width="40.00" height="63.00" fill="none" stroke="#333" stroke-width="1"/>
<g transform="translate(447.00 55.00) scale(1.0000 7.1111)" shape-rendering="crispEdges"><path fill="#1c2a62" d="M0 0h1v1h-1zM5 0h1v1h-1zM25 5h1v1h-1zM10 7h1v1h-1z"/><path fill="#2a2a7e" d="M1 0h1v1h-1zM25 0h1v1h-1zM15 5h1v1h-1zM19 5h1v1h-1zM9 7h1v1h-1zM12 7h1v1h-1zM30 7h1v1h-1z"/><path fill="#1c1c62" d="M2 0h1v1h-1zM8 7h1v1h-1zM19 8h2v1h-2z"/><path fill="#1c1c54" d="M3 0h2v1h-2zM11 0h1v1h-1zM17 0h1v1h-1zM27 0h1v1h-1zM29 1h1v1h-1zM2 5h1v1h-1zM17 5h1v1h-1zM23 5h1v1h-1zM5 7h1v1h-1zM7 7h1v1h-1zM19 7h1v1h-1zM24 7h1v1h-1zM26 7h1v1h-1zM29 7h1v1h-1zM0 8h1v1h-1zM4 8h1v1h-1zM9 8h1v1h-1zM12 8h1v1h-1zM14 8h2v1h-2zM24 8h1v1h-1zM33 8h1v1h-1z"/><path fill="#464638" d="M6 0h1v1h-1z"/><path fill="#0e0e2a" d="M7 0h1v1h-1zM34 0h1v1h-1zM26 6h1v1h-1zM31 8h1v1h-1zM34 8h1v1h-1z"/><path fill="#2a2a38" d="M8 0h1v1h-1zM28 0h1v1h-1z"/><path fill="#2a2a70" d="M9 0h1v1h-1zM13 0h1v1h-1zM33 0h1v1h-1zM28 1h1v1h-1zM27 2h1v1h-1zM6 3h1v1h-1zM7 5h1v1h-1zM30 5h1v1h-1zM0 7h1v1h-1zM4 7h1v1h-1zM11 7h1v1h-1zM21 7h1v1h-1zM25 7h1v1h-1zM33 7h1v1h-1z"/><path fill="#0e0e38" d="M10 0h1v1h-1zM24 0h1v1h-1zM17 7h1v1h-1zM23 7h1v1h-1zM1 8h1v1h-1zM5 8h1v1h-1zM7 8h1v1h-1zM17 8h2v1h-2zM21 8h1v1h-1z"/><path fill="#2a2a62" d="M12 0h1v1h-1zM22 1h1v1h-1zM20 2h1v1h-1zM16 3h1v1h-1zM27 3h1v1h-1zM1 5h1v1h-1zM3 5h1v1h-1zM12 5h1v1h-1zM33 5h1v1h-1zM2 7h1v1h-1zM14 7h1v1h-1zM16 7h1v1h-1zM27 7h1v1h-1z"/><path fill="#38389a" d="M14 0h1v1h-1zM5 3h1v1h-1zM8 3h1v1h-1zM24 5h1v1h-1z"/><path fill="#2a3870" d="M15 0h1v1h-1zM4 1h1v1h-1zM20 1h1v1h-1zM14 2h1v1h-1zM26 2h1v1h-1zM31 2h1v1h-1zM11 3h1v1h-1zM25 3h1v1h-1zM9 4h1v1h-1zM33 4h1v1h-1zM0 6h1v1h-1zM4 6h1v1h-1z"/><path fill="#464654" d="M16 0h1v1h-1z"/><path fill="#2a2a46" d="M18 0h1v1h-1zM4 3h1v1h-1zM2 4h1v1h-1z"/><path fill="#1c1c2a" d="M19 0h1v1h-1z"/><path fill="#626254" d="M20 0h1v1h-1zM5 2h1v1h-1zM15 2h1v1h-1zM11 4h1v1h-1zM18 4h1v1h-1zM13 6h1v1h-1zM16 6h1v1h-1z"/><path fill="#1c1c46" d="M21 0h2v1h-2zM29 0h2v1h-2zM32 0h1v1h-1zM6 1h1v1h-1zM8 5h1v1h-1zM18 5h1v1h-1zM26 5h2v1h-2zM21 6h1v1h-1zM28 7h1v1h-1zM31 7h1v1h-1zM2 8h1v1h-1zM6 8h1v1h-1zM10 8h1v1h-1zM13 8h1v1h-1zM16 8h1v1h-1zM23 8h1v1h-1zM26 8h1v1h-1zM28 8h2v1h-2zM32 8h1v1h-1z"/><path fill="#3846a8" d="M23 0h1v1h-1zM0 1h1v1h-1zM2 1h1v1h-1zM15 1h1v1h-1zM17 1h1v1h-1zM19 1h1v1h-1zM21 1h1v1h-1zM24 1h1v1h-1zM30 1h1v1h-1zM32 1h1v1h-1zM34 1h1v1h-1zM2 2h1v1h-1zM6 2h2v1h-2zM9 2h1v1h-1zM16 2h1v1h-1zM21 2h1v1h-1zM28 2h1v1h-1zM1 3h1v1h-1zM7 3h1v1h-1zM9 3h2v1h-2zM13 3h1v1h-1zM17 3h2v1h-2zM22 3h3v1h-3zM28 3h1v1h-1zM30 3h2v1h-2zM33 3h1v1h-1zM6 4h1v1h-1zM17 4h1v1h-1zM22 4h1v1h-1zM26 4h1v1h-1zM30 4h1v1h-1zM4 5h1v1h-1zM14 5h1v1h-1zM6 6h1v1h-1zM15 6h1v1h-1zM23 6h1v1h-1zM28 6h1v1h-1zM33 6h1v1h-1z"/><path fill="#46547e" d="M26 0h1v1h-1z"/><path fill="#383846" d="M31 0h1v1h-1z"/><path fill="#2a388c" d="M1 1h1v1h-1zM19 3h2v1h-2zM3 4h1v1h-1zM28 5h1v1h-1zM9 6h1v1h-1zM15 7h1v1h-1z"/><path fill="#627062" d="M3 1h1v1h-1zM10 1h1v1h-1zM21 4h1v1h-1z"/><path fill="#2a387e" d="M5 1h1v1h-1zM16 1h1v1h-1zM0 2h1v1h-1zM8 2h1v1h-1zM25 2h1v1h-1zM12 3h1v1h-1zM14 3h1v1h-1zM21 3h1v1h-1zM0 5h1v1h-1zM5 5h1v1h-1zM9 5h1v1h-1zM11 5h1v1h-1zM22 5h1v1h-1zM31 5h1v1h-1zM3 6h1v1h-1zM30 6h1v1h-1zM34 6h1v1h-1zM3 7h1v1h-1zM32 7h1v1h-1zM34 7h1v1h-1z"/><path fill="#707e7e" d="M7 1h3v1h-3zM11 1h1v1h-1zM13 1h1v1h-1zM23 1h1v1h-1zM25 1h2v1h-2zM10 2h1v1h-1zM12 2h1v1h-1zM19 2h1v1h-1zM23 2h1v1h-1zM32 2h1v1h-1zM3 3h1v1h-1zM29 3h1v1h-1zM34 3h1v1h-1zM7 4h1v1h-1zM10 4h1v1h-1zM12 4h1v1h-1zM2 6h1v1h-1zM5 6h1v1h-1zM7 6h2v1h-2zM10 6h2v1h-2zM14 6h1v1h-1zM17 6h3v1h-3zM31 6h2v1h-2z"/><path fill="#54542a" d="M12 1h1v1h-1zM1 2h1v1h-1zM20 4h1v1h-1zM23 4h1v1h-1z"/><path fill="#384670" d="M14 1h1v1h-1zM13 5h1v1h-1zM27 6h1v1h-1z"/><path fill="#9a9a38" d="M18 1h1v1h-1z"/><path fill="#627046" d="M27 1h1v1h-1z"/><path fill="#383870" d="M31 1h1v1h-1zM0 3h1v1h-1zM8 4h1v1h-1zM24 6h1v1h-1z"/><path fill="#38388c" d="M33 1h1v1h-1zM2 3h1v1h-1zM26 3h1v1h-1zM16 5h1v1h-1zM29 5h1v1h-1zM6 7h1v1h-1zM18 7h1v1h-1zM20 7h1v1h-1zM22 7h1v1h-1z"/><path fill="#383862" d="M3 2h1v1h-1z"/><path fill="#a8a854" d="M4 2h1v1h-1zM17 2h2v1h-2zM22 2h1v1h-1zM15 4h2v1h-2zM19 4h1v1h-1zM27 4h1v1h-1zM29 4h1v1h-1zM31 4h1v1h-1zM12 6h1v1h-1zM20 6h1v1h-1zM22 6h1v1h-1zM25 6h1v1h-1z"/><path fill="#b6b62a" d="M11 2h1v1h-1z"/><path fill="#2a2a54" d="M13 2h1v1h-1z"/><path fill="#38469a" d="M24 2h1v1h-1zM29 2h1v1h-1zM10 5h1v1h-1zM32 5h1v1h-1zM13 7h1v1h-1z"/><path fill="#707054" d="M30 2h1v1h-1zM14 4h1v1h-1zM29 6h1v1h-1z"/><path fill="#383838" d="M33 2h1v1h-1z"/><path fill="#626262" d="M34 2h1v1h-1z"/><path fill="#707070" d="M15 3h1v1h-1z"/><path fill="#7e7e54" d="M32 3h1v1h-1z"/><path fill="#a8a82a" d="M0 4h1v1h-1z"/><path fill="#9a9a2a" d="M1 4h1v1h-1zM34 4h1v1h-1z"/><path fill="#e0e038" d="M4 4h1v1h-1zM28 4h1v1h-1zM1 6h1v1h-1z"/><path fill="#626246" d="M5 4h1v1h-1zM24 4h2v1h-2z"/><path fill="#54541c" d="M13 4h1v1h-1z"/><path fill="#62621c" d="M32 4h1v1h-1z"/><path fill="#1c0e38" d="M6 5h1v1h-1zM20 5h1v1h-1zM34 5h1v1h-1zM22 8h1v1h-1zM27 8h1v1h-1zM30 8h1v1h-1z"/><path fill="#1c2a54" d="M21 5h1v1h-1z"/><path fill="#2a3854" d="M1 7h1v1h-1z"/><path fill="#1c0e46" d="M3 8h1v1h-1zM8 8h1v1h-1z"/><path fill="#1c1c38" d="M11 8h1v1h-1zM25 8h1v1h-1z"/></g>
<rect x="447.50" y="55.50" width="34.00" height="63.00" fill="none" stroke="#333" stroke-width="1"/>
<g transform="translate(484.00 55.00) scale(1.0000 7.1111)" shape-rendering="crispEdges"><path fill="#2a2a70" d="M0 0h1v1h-1zM2 0h1v1h-1zM8 0h1v1h-1zM12 0h1v1h-1zM24 0h1v1h-1zM27 0h1v1h-1zM32 1h1v1h-1zM2 5h1v1h-1zM4 5h2v1h-2zM22 5h1v1h-1zM28 5h1v1h-1zM2 7h1v1h-1zM20 7h1v1h-1zM26 7h1v1h-1z"/><path fill="#2a2a38" d="M1 0h1v1h-1zM23 0h1v1h-1zM0 5h1v1h-1zM33 5h1v1h-1z"/><path fill="#2a2a62" d="M3 0h1v1h-1zM7 0h1v1h-1zM11 0h1v1h-1zM19 0h1v1h-1zM29 0h1v1h-1zM27 1h1v1h-1zM1 2h1v1h-1zM30 2h1v1h-1zM26 3h1v1h-1zM1 5h1v1h-1zM4 7h1v1h-1zM8 7h1v1h-1zM16 7h1v1h-1zM28 7h1v1h-1z"/><path fill="#0e0e38" d="M4 0h1v1h-1zM18 7h1v1h-1zM30 7h1v1h-1zM3 8h1v1h-1zM6 8h1v1h-1zM8 8h1v1h-1zM10 8h1v1h-1zM17 8h1v1h-1zM24 8h1v1h-1zM26 8h1v1h-1zM32 8h1v1h-1z"/><path fill="#0e0e2a" d="M5 0h1v1h-1zM26 0h1v1h-1zM35 0h1v1h-1zM9 8h1v1h-1zM16 8h1v1h-1zM20 8h2v1h-2zM28 8h1v1h-1zM30 8h1v1h-1z"/><path fill="#2a3846" d="M6 0h1v1h-1z"/><path fill="#1c1c2a" d="M9 0h1v1h-1zM15 0h1v1h-1zM9 5h1v1h-1z"/><path fill="#1c1c38" d="M10 0h1v1h-1zM20 5h1v1h-1zM32 5h1v1h-1zM2 8h1v1h-1z"/><path fill="#1c1c54" d="M13 0h1v1h-1zM16 0h1v1h-1zM18 0h1v1h-1zM33 0h1v1h-1zM33 1h1v1h-1zM24 2h1v1h-1zM18 3h1v1h-1zM14 5h1v1h-1zM25 5h1v1h-1zM31 5h1v1h-1zM0 7h1v1h-1zM3 7h1v1h-1zM9 7h1v1h-1zM23 7h1v1h-1zM25 7h1v1h-1zM27 7h1v1h-1zM31 7h1v1h-1zM36 7h1v1h-1z"/><path fill="#383854" d="M14 0h1v1h-1zM28 0h1v1h-1zM3 5h1v1h-1z"/><path fill="#545470" d="M17 0h1v1h-1z"/><path fill="#1c0e38" d="M20 0h1v1h-1zM34 0h1v1h-1zM11 5h1v1h-1zM13 7h1v1h-1zM11 8h1v1h-1zM13 8h3v1h-3zM19 8h1v1h-1zM22 8h1v1h-1zM25 8h1v1h-1zM31 8h1v1h-1zM34 8h3v1h-3z"/><path fill="#1c2a62" d="M21 0h1v1h-1zM8 5h1v1h-1zM30 5h1v1h-1zM19 7h1v1h-1z"/><path fill="#2a3854" d="M22 0h1v1h-1z"/><path fill="#2a3862" d="M25 0h1v1h-1z"/><path fill="#2a2a7e" d="M30 0h1v1h-1zM32 0h1v1h-1zM16 5h1v1h-1zM35 5h1v1h-1zM1 7h1v1h-1z"/><path fill="#2a2a46" d="M31 0h1v1h-1zM33 6h1v1h-1z"/><path fill="#1c1c62" d="M36 0h1v1h-1zM15 7h1v1h-1zM17 7h1v1h-1zM32 7h3v1h-3zM0 8h1v1h-1z"/><path fill="#707e7e" d="M0 1h2v1h-2zM5 1h2v1h-2zM9 1h1v1h-1zM17 1h1v1h-1zM19 1h1v1h-1zM23 1h3v1h-3zM4 2h1v1h-1zM16 2h1v1h-1zM18 2h1v1h-1zM26 2h1v1h-1zM1 4h1v1h-1zM3 4h2v1h-2zM7 4h6v1h-6zM17 4h1v1h-1zM27 4h2v1h-2zM34 4h2v1h-2zM14 6h1v1h-1zM19 6h6v1h-6z"/><path fill="#626254" d="M2 1h1v1h-1zM11 2h1v1h-1zM23 2h1v1h-1zM34 2h1v1h-1zM0 4h1v1h-1zM5 4h1v1h-1zM26 4h1v1h-1zM29 4h1v1h-1zM6 6h1v1h-1zM32 6h1v1h-1z"/><path fill="#627062" d="M3 1h1v1h-1zM25 4h1v1h-1z"/><path fill="#1c1c46" d="M4 1h1v1h-1zM32 2h1v1h-1zM6 5h1v1h-1zM24 5h1v1h-1zM27 5h1v1h-1zM29 5h1v1h-1zM5 7h3v1h-3zM10 7h1v1h-1zM12 7h1v1h-1zM14 7h1v1h-1zM21 7h2v1h-2zM24 7h1v1h-1zM29 7h1v1h-1zM1 8h1v1h-1zM5 8h1v1h-1zM7 8h1v1h-1zM12 8h1v1h-1zM18 8h1v1h-1zM27 8h1v1h-1zM29 8h1v1h-1zM33 8h1v1h-1z"/><path fill="#626246" d="M7 1h1v1h-1zM28 6h1v1h-1z"/><path fill="#2a3870" d="M8 1h1v1h-1zM22 1h1v1h-1zM28 1h2v1h-2zM5 3h1v1h-1zM23 3h1v1h-1zM18 6h1v1h-1zM31 6h1v1h-1z"/><path fill="#38388c" d="M10 1h1v1h-1zM15 1h1v1h-1zM35 1h1v1h-1zM3 3h1v1h-1zM12 3h1v1h-1zM21 3h1v1h-1zM25 3h1v1h-1zM31 3h1v1h-1zM36 3h1v1h-1zM18 5h1v1h-1zM21 5h1v1h-1zM26 5h1v1h-1z"/><path fill="#3846a8" d="M11 1h1v1h-1zM14 1h1v1h-1zM18 1h1v1h-1zM21 1h1v1h-1zM26 1h1v1h-1zM30 1h2v1h-2zM34 1h1v1h-1zM0 2h1v1h-1zM2 2h2v1h-2zM5 2h1v1h-1zM10 2h1v1h-1zM12 2h4v1h-4zM19 2h1v1h-1zM21 2h1v1h-1zM25 2h1v1h-1zM27 2h1v1h-1zM0 3h1v1h-1zM2 3h1v1h-1zM6 3h1v1h-1zM10 3h2v1h-2zM14 3h4v1h-4zM19 3h1v1h-1zM22 3h1v1h-1zM24 3h1v1h-1zM28 3h2v1h-2zM32 3h2v1h-2zM35 3h1v1h-1zM10 5h1v1h-1zM1 6h1v1h-1zM7 6h3v1h-3zM17 6h1v1h-1zM25 6h1v1h-1zM27 6h1v1h-1zM36 6h1v1h-1z"/><path fill="#2a2a54" d="M12 1h1v1h-1z"/><path fill="#9a9a2a" d="M13 1h1v1h-1zM30 4h1v1h-1zM0 6h1v1h-1zM3 6h1v1h-1z"/><path fill="#384670" d="M16 1h1v1h-1zM28 2h1v1h-1zM7 5h1v1h-1zM2 6h1v1h-1zM4 6h1v1h-1zM10 6h1v1h-1zM34 6h1v1h-1z"/><path fill="#a8a854" d="M20 1h1v1h-1zM17 2h1v1h-1zM33 2h1v1h-1zM6 4h1v1h-1zM13 6h1v1h-1z"/><path fill="#2a387e" d="M36 1h1v1h-1zM31 2h1v1h-1zM1 3h1v1h-1zM7 3h2v1h-2zM13 3h1v1h-1zM20 3h1v1h-1zM30 3h1v1h-1zM34 3h1v1h-1zM12 5h2v1h-2zM17 5h1v1h-1zM19 5h1v1h-1zM5 6h1v1h-1zM11 6h1v1h-1zM15 6h1v1h-1zM26 6h1v1h-1zM35 7h1v1h-1z"/><path fill="#707062" d="M6 2h1v1h-1zM27 3h1v1h-1z"/><path fill="#8c8c54" d="M7 2h1v1h-1z"/><path fill="#38389a" d="M8 2h1v1h-1zM4 3h1v1h-1z"/><path fill="#383870" d="M9 2h1v1h-1zM14 4h1v1h-1zM19 4h1v1h-1z"/><path fill="#707070" d="M20 2h1v1h-1z"/><path fill="#384646" d="M22 2h1v1h-1z"/><path fill="#383838" d="M29 2h1v1h-1z"/><path fill="#38469a" d="M35 2h1v1h-1zM9 3h1v1h-1zM34 5h1v1h-1z"/><path fill="#2a388c" d="M36 2h1v1h-1zM30 6h1v1h-1z"/><path fill="#a8a82a" d="M2 4h1v1h-1zM24 4h1v1h-1z"/><path fill="#e0e038" d="M13 4h1v1h-1zM15 4h2v1h-2zM18 4h1v1h-1z"/><path fill="#54542a" d="M20 4h2v1h-2z"/><path fill="#b6b62a" d="M22 4h1v1h-1z"/><path fill="#62622a" d="M23 4h1v1h-1z"/><path fill="#0e0e1c" d="M31 4h1v1h-1zM11 7h1v1h-1z"/><path fill="#9a9a38" d="M32 4h2v1h-2z"/><path fill="#707054" d="M36 4h1v1h-1zM35 6h1v1h-1z"/><path fill="#1c2a54" d="M15 5h1v1h-1zM23 5h1v1h-1zM12 6h1v1h-1z"/><path fill="#464638" d="M36 5h1v1h-1z"/><path fill="#627054" d="M16 6h1v1h-1z"/><path fill="#545438" d="M29 6h1v1h-1z"/><path fill="#1c0e46" d="M4 8h1v1h-1zM23 8h1v1h-1z"/></g>
<rect x="484.50" y="55.50" width="36.00" height="63.00" fill="none" stroke="#333" stroke-width="1"/>
<g transform="translate(523.00 55.00) scale(1.0000 7.1111)" shape-rendering="crispEdges"><path fill="#2a2a70" d="M0 0h1v1h-1zM5 0h1v1h-1zM15 0h1v1h-1zM9 4h1v1h-1zM14 4h2v1h-2zM21 4h1v1h-1zM23 4h1v1h-1zM0 7h1v1h-1zM16 7h1v1h-1zM27 7h1v1h-1z"/><path fill="#1c1c54" d="M1 0h1v1h-1zM3 0h1v1h-1zM6 0h4v1h-4zM11 0h3v1h-3zM17 0h1v1h-1zM24 0h1v1h-1zM2 7h1v1h-1zM5 7h1v1h-1zM8 7h1v1h-1zM11 7h1v1h-1zM24 7h1v1h-1zM16 8h1v1h-1zM24 8h1v1h-1z"/><path fill="#1c0e46" d="M2 0h1v1h-1zM14 7h1v1h-1zM20 7h1v1h-1zM2 8h1v1h-1zM17 8h1v1h-1z"/><path fill="#1c1c46" d="M4 0h1v1h-1zM10 0h1v1h-1zM14 0h1v1h-1zM18 0h2v1h-2zM21 0h1v1h-1zM23 0h1v1h-1zM26 0h2v1h-2zM1 5h1v1h-1zM26 5h1v1h-1zM9 7h2v1h-2zM12 7h1v1h-1zM15 7h1v1h-1zM19 7h1v1h-1zM13 8h1v1h-1zM18 8h2v1h-2zM23 8h1v1h-1z"/><path fill="#1c1c62" d="M16 0h1v1h-1zM22 0h1v1h-1zM2 4h1v1h-1zM17 4h1v1h-1zM3 7h1v1h-1zM13 7h1v1h-1zM18 7h1v1h-1z"/><path fill="#2a2a62" d="M20 0h1v1h-1zM12 4h2v1h-2zM24 4h1v1h-1zM4 7h1v1h-1zM7 7h1v1h-1zM23 7h1v1h-1zM26 7h1v1h-1z"/><path fill="#0e0e38" d="M25 0h1v1h-1zM22 7h1v1h-1zM1 8h1v1h-1zM5 8h1v1h-1zM8 8h1v1h-1zM15 8h1v1h-1zM20 8h2v1h-2z"/><path fill="#3846a8" d="M0 1h9v1h-9zM11 1h17v1h-17zM20 4h1v1h-1zM2 5h1v1h-1zM5 5h1v1h-1zM9 5h1v1h-1zM11 5h2v1h-2zM15 5h1v1h-1zM17 5h1v1h-1zM19 5h1v1h-1zM22 5h1v1h-1zM25 5h1v1h-1zM4 6h1v1h-1zM13 6h1v1h-1zM24 6h1v1h-1z"/><path fill="#38469a" d="M9 1h2v1h-2zM8 4h1v1h-1zM18 4h1v1h-1zM12 6h1v1h-1z"/><path fill="#707e7e" d="M0 2h1v1h-1zM2 2h1v1h-1zM7 2h2v1h-2zM12 2h3v1h-3zM16 2h2v1h-2zM20 2h1v1h-1zM22 2h1v1h-1zM3 3h1v1h-1zM23 3h1v1h-1zM6 5h2v1h-2zM18 5h1v1h-1zM21 5h1v1h-1zM24 5h1v1h-1zM3 6h1v1h-1zM5 6h1v1h-1zM11 6h1v1h-1zM16 6h1v1h-1zM27 6h1v1h-1z"/><path fill="#54542a" d="M1 2h1v1h-1zM4 5h1v1h-1z"/><path fill="#464646" d="M3 2h1v1h-1z"/><path fill="#2a3870" d="M4 2h1v1h-1zM9 2h1v1h-1zM15 2h1v1h-1zM16 5h1v1h-1zM9 6h1v1h-1zM14 6h1v1h-1z"/><path fill="#2a387e" d="M5 2h1v1h-1zM3 4h2v1h-2zM22 4h1v1h-1zM8 5h1v1h-1zM14 5h1v1h-1zM21 6h1v1h-1zM25 6h1v1h-1z"/><path fill="#a8a854" d="M6 2h1v1h-1zM26 2h2v1h-2zM1 3h2v1h-2zM4 3h1v1h-1zM7 3h2v1h-2zM14 3h1v1h-1zM17 3h1v1h-1zM21 3h1v1h-1zM24 3h1v1h-1zM0 6h1v1h-1z"/><path fill="#626254" d="M10 2h1v1h-1zM5 3h2v1h-2zM3 5h1v1h-1zM2 6h1v1h-1zM18 6h1v1h-1zM22 6h2v1h-2zM26 6h1v1h-1z"/><path fill="#626246" d="M11 2h1v1h-1zM23 2h1v1h-1zM15 6h1v1h-1z"/><path fill="#2a2a46" d="M18 2h1v1h-1z"/><path fill="#545446" d="M19 2h1v1h-1z"/><path fill="#9a9a2a" d="M21 2h1v1h-1zM11 3h1v1h-1z"/><path fill="#707054" d="M24 2h1v1h-1zM12 3h1v1h-1zM26 3h1v1h-1z"/><path fill="#a8a82a" d="M25 2h1v1h-1zM15 3h1v1h-1zM27 5h1v1h-1z"/><path fill="#e0e038" d="M0 3h1v1h-1zM10 3h1v1h-1zM18 3h2v1h-2zM25 3h1v1h-1zM27 3h1v1h-1zM20 5h1v1h-1zM7 6h1v1h-1z"/><path fill="#9a9a38" d="M9 3h1v1h-1z"/><path fill="#7e7e2a" d="M13 3h1v1h-1z"/><path fill="#627046" d="M16 3h1v1h-1z"/><path fill="#383870" d="M20 3h1v1h-1zM1 6h1v1h-1z"/><path fill="#627054" d="M22 3h1v1h-1z"/><path fill="#2a2a54" d="M0 4h1v1h-1z"/><path fill="#38388c" d="M1 4h1v1h-1zM26 4h1v1h-1z"/><path fill="#38389a" d="M5 4h1v1h-1zM16 4h1v1h-1zM27 4h1v1h-1z"/><path fill="#2a388c" d="M6 4h1v1h-1zM19 4h1v1h-1zM25 4h1v1h-1zM17 6h1v1h-1zM25 7h1v1h-1z"/><path fill="#2a2a7e" d="M7 4h1v1h-1zM10 4h1v1h-1zM21 7h1v1h-1z"/><path fill="#1c2a62" d="M11 4h1v1h-1zM1 7h1v1h-1z"/><path fill="#384670" d="M0 5h1v1h-1zM10 5h1v1h-1z"/><path fill="#627062" d="M13 5h1v1h-1zM8 6h1v1h-1z"/><path fill="#625438" d="M23 5h1v1h-1z"/><path fill="#1c1c0e" d="M6 6h1v1h-1z"/><path fill="#a8a846" d="M10 6h1v1h-1z"/><path fill="#1c2a54" d="M19 6h1v1h-1z"/><path fill="#464670" d="M20 6h1v1h-1z"/><path fill="#1c1c38" d="M6 7h1v1h-1z"/><path fill="#1c0e38" d="M17 7h1v1h-1zM0 8h1v1h-1zM4 8h1v1h-1zM6 8h2v1h-2zM10 8h1v1h-1zM12 8h1v1h-1zM25 8h1v1h-1zM27 8h1v1h-1z"/><path fill="#0e0e2a" d="M3 8h1v1h-1zM9 8h1v1h-1zM11 8h1v1h-1zM14 8h1v1h-1zM22 8h1v1h-1zM26 8h1v1h-1z"/></g>
<rect x="523.50" y="55.50" width="27.00" height="63.00" fill="none" stroke="#333" stroke-width="1"/>
<text x="555.20" y="61.51">KLK3</text>
<text x="555.20" y="68.62">KLK2</text>
<text x="555.20" y="75.73">TMPRSS2</text>
<text x="555.20" y="82.84">FKBP5</text>
<text x="555.20" y="89.95">NKX3−1</text>
<text x="555.20" y="97.06">PMEPA1</text>
<text x="555.20" y="104.17">PART1</text>
<text x="555.20" y="111.28">ALDH1A3</text>
<text x="555.20" y="118.39">STEAP4</text>
<text x="398.00" y="89.50" text-anchor="middle" transform="rotate(-90 398.00 89.50)">AR_10_Bluemn</text>
<rect x="637.50" y="55.80" width="8.80" height="45.90" fill="url(#gcb0)"/>
<line x1="637.50" y1="57.00" x2="639.00" y2="57.00" stroke="#fff" stroke-width="0.6"/>
<line x1="644.80" y1="57.00" x2="646.30" y2="57.00" stroke="#fff" stroke-width="0.6"/>
<text x="647.80" y="60.90">0.5</text>
<line x1="637.50" y1="78.75" x2="639.00" y2="78.75" stroke="#fff" stroke-width="0.6"/>
<line x1="644.80" y1="78.75" x2="646.30" y2="78.75" stroke="#fff" stroke-width="0.6"/>
<text x="647.80" y="82.05">0</text>
<line x1="637.50" y1="100.50" x2="639.00" y2="100.50" stroke="#fff" stroke-width="0.6"/>
<line x1="644.80" y1="100.50" x2="646.30" y2="100.50" stroke="#fff" stroke-width="0.6"/>
<text x="647.80" y="103.80">−0.5</text>
<text x="651.00" y="33.90" text-anchor="middle">gene expression</text>
<text x="651.00" y="44.00" text-anchor="middle">(z-normalized)</text>
<text x="494.30" y="197.10" text-anchor="middle">MDA-PCa-2b</text>
<rect x="406.00" y="213.10" width="46.00" height="9.70" fill="#bdbfc1"/>
<rect x="453.00" y="213.10" width="12.00" height="9.70" fill="#e6303f"/>
<rect x="467.00" y="213.10" width="28.00" height="9.70" fill="#3d62b0"/>
<rect x="497.00" y="213.10" width="56.00" height="9.70" fill="#f5a13a"/>
<text x="409.00" y="209.90">DMSO</text>
<text x="445.70" y="209.90">Enza</text>
<text x="466.20" y="209.90">ARV110</text>
<text x="498.80" y="209.90">SMARCA2_4.1</text>
<text x="555.50" y="221.80">TREATMENT</text>
<g transform="translate(406.00 224.00) scale(1.0000 7.2222)" shape-rendering="crispEdges"><path fill="#3846a8" d="M0 0h1v1h-1zM2 0h2v1h-2zM6 0h1v1h-1zM15 0h1v1h-1zM22 0h1v1h-1zM26 0h4v1h-4zM33 0h1v1h-1zM38 0h1v1h-1zM44 0h1v1h-1zM25 1h1v1h-1zM3 2h1v1h-1zM5 2h2v1h-2zM8 2h2v1h-2zM15 2h1v1h-1zM25 2h1v1h-1zM27 2h1v1h-1zM35 2h1v1h-1zM38 2h1v1h-1zM41 2h1v1h-1zM44 2h1v1h-1zM4 3h1v1h-1zM9 3h1v1h-1zM11 3h2v1h-2zM14 3h1v1h-1zM16 3h1v1h-1zM24 3h1v1h-1zM27 3h1v1h-1zM31 3h1v1h-1zM42 3h1v1h-1zM2 4h1v1h-1zM5 4h1v1h-1zM10 4h1v1h-1zM37 4h1v1h-1zM41 4h1v1h-1zM43 5h1v1h-1z"/><path fill="#2a387e" d="M1 0h1v1h-1zM4 0h1v1h-1zM11 0h2v1h-2zM35 0h1v1h-1zM4 2h1v1h-1zM10 2h1v1h-1zM28 2h1v1h-1zM6 3h1v1h-1zM15 3h1v1h-1zM33 3h1v1h-1zM35 3h1v1h-1zM45 3h1v1h-1zM25 4h1v1h-1zM29 4h1v1h-1zM32 4h1v1h-1zM35 4h1v1h-1zM7 5h1v1h-1zM4 7h1v1h-1zM15 7h1v1h-1zM40 7h1v1h-1z"/><path fill="#707e7e" d="M5 0h1v1h-1zM7 0h1v1h-1zM17 0h2v1h-2zM20 0h2v1h-2zM34 0h1v1h-1zM39 0h2v1h-2zM4 1h2v1h-2zM10 1h2v1h-2zM22 1h2v1h-2zM28 1h1v1h-1zM30 1h1v1h-1zM35 1h1v1h-1zM37 1h1v1h-1zM40 1h1v1h-1zM2 2h1v1h-1zM13 2h1v1h-1zM18 2h1v1h-1zM23 2h1v1h-1zM32 2h1v1h-1zM34 2h1v1h-1zM36 2h2v1h-2zM0 3h1v1h-1zM2 3h2v1h-2zM5 3h1v1h-1zM7 3h2v1h-2zM20 3h1v1h-1zM25 3h2v1h-2zM28 3h1v1h-1zM43 3h2v1h-2zM3 4h2v1h-2zM6 4h1v1h-1zM9 4h1v1h-1zM11 4h1v1h-1zM15 4h4v1h-4zM22 4h2v1h-2zM30 4h1v1h-1zM34 4h1v1h-1zM45 4h1v1h-1zM12 5h1v1h-1zM16 5h1v1h-1zM28 5h1v1h-1zM30 5h3v1h-3zM35 5h1v1h-1zM38 5h1v1h-1zM40 5h1v1h-1z"/><path fill="#627054" d="M8 0h1v1h-1zM31 2h1v1h-1zM10 3h1v1h-1z"/><path fill="#1c1c2a" d="M9 0h1v1h-1z"/><path fill="#626246" d="M10 0h1v1h-1zM25 0h1v1h-1zM42 0h1v1h-1zM11 2h1v1h-1z"/><path fill="#54541c" d="M13 0h1v1h-1z"/><path fill="#2a3870" d="M14 0h1v1h-1zM31 0h2v1h-2zM9 1h1v1h-1zM12 1h1v1h-1zM42 1h1v1h-1zM7 2h1v1h-1zM19 2h1v1h-1zM39 2h1v1h-1zM32 3h1v1h-1zM38 3h1v1h-1zM29 5h1v1h-1zM44 5h1v1h-1z"/><path fill="#707054" d="M16 0h1v1h-1zM15 1h1v1h-1zM38 1h1v1h-1zM44 1h1v1h-1zM26 4h1v1h-1zM37 5h1v1h-1zM41 5h1v1h-1z"/><path fill="#2a2a54" d="M19 0h1v1h-1zM22 7h1v1h-1z"/><path fill="#7e7e54" d="M23 0h1v1h-1zM21 3h1v1h-1zM20 5h1v1h-1zM28 7h1v1h-1z"/><path fill="#38389a" d="M24 0h1v1h-1zM18 7h1v1h-1z"/><path fill="#2a2a70" d="M30 0h1v1h-1zM37 0h1v1h-1zM29 3h1v1h-1zM3 7h1v1h-1zM12 7h1v1h-1zM41 7h1v1h-1z"/><path fill="#a8a854" d="M36 0h1v1h-1zM2 1h2v1h-2zM6 1h1v1h-1zM8 1h1v1h-1zM13 1h1v1h-1zM21 1h1v1h-1zM29 1h1v1h-1zM31 1h1v1h-1zM43 1h1v1h-1zM45 1h1v1h-1zM12 2h1v1h-1zM14 2h1v1h-1zM24 2h1v1h-1zM33 2h1v1h-1zM42 2h1v1h-1zM40 3h1v1h-1zM1 4h1v1h-1zM12 4h1v1h-1zM27 4h1v1h-1zM31 4h1v1h-1zM36 4h1v1h-1zM43 4h1v1h-1zM1 5h1v1h-1zM3 5h1v1h-1zM9 5h2v1h-2zM14 5h1v1h-1zM23 5h1v1h-1zM34 5h1v1h-1zM36 5h1v1h-1z"/><path fill="#1c1c54" d="M41 0h1v1h-1zM17 3h1v1h-1zM34 3h1v1h-1zM13 6h1v1h-1zM19 6h1v1h-1zM32 6h1v1h-1zM35 6h1v1h-1zM45 6h1v1h-1zM7 7h2v1h-2zM13 7h2v1h-2zM20 7h2v1h-2zM43 7h1v1h-1z"/><path fill="#1c1c46" d="M43 0h1v1h-1zM45 0h1v1h-1zM19 1h1v1h-1zM8 5h1v1h-1zM0 6h2v1h-2zM6 6h1v1h-1zM10 6h2v1h-2zM21 6h3v1h-3zM26 6h1v1h-1zM29 6h1v1h-1zM31 6h1v1h-1zM33 6h1v1h-1zM41 6h1v1h-1zM6 7h1v1h-1zM10 7h1v1h-1zM16 7h1v1h-1zM24 7h1v1h-1zM27 7h1v1h-1zM6 8h1v1h-1zM18 8h1v1h-1z"/><path fill="#e0e038" d="M0 1h1v1h-1zM26 1h1v1h-1zM39 1h1v1h-1zM13 4h2v1h-2zM0 5h1v1h-1zM18 5h1v1h-1zM21 5h1v1h-1zM24 5h1v1h-1zM45 5h1v1h-1z"/><path fill="#626254" d="M1 1h1v1h-1zM24 1h1v1h-1zM27 1h1v1h-1zM36 1h1v1h-1zM41 1h1v1h-1zM1 2h1v1h-1zM17 2h1v1h-1zM21 2h1v1h-1zM7 4h1v1h-1zM40 4h1v1h-1zM4 5h1v1h-1zM6 5h1v1h-1zM26 5h1v1h-1z"/><path fill="#2a3846" d="M7 1h1v1h-1zM11 5h1v1h-1z"/><path fill="#a8a82a" d="M14 1h1v1h-1zM22 2h1v1h-1zM40 2h1v1h-1z"/><path fill="#707e54" d="M16 1h1v1h-1z"/><path fill="#54547e" d="M17 1h1v1h-1z"/><path fill="#383854" d="M18 1h1v1h-1z"/><path fill="#7e7e1c" d="M20 1h1v1h-1z"/><path fill="#8c8c54" d="M32 1h1v1h-1z"/><path fill="#9a9a2a" d="M33 1h2v1h-2zM18 3h1v1h-1zM20 4h1v1h-1zM33 4h1v1h-1zM13 5h1v1h-1z"/><path fill="#464670" d="M0 2h1v1h-1z"/><path fill="#70702a" d="M16 2h1v1h-1zM27 5h1v1h-1z"/><path fill="#627062" d="M20 2h1v1h-1zM43 2h1v1h-1zM13 3h1v1h-1zM41 3h1v1h-1z"/><path fill="#54542a" d="M26 2h1v1h-1zM15 5h1v1h-1z"/><path fill="#38388c" d="M29 2h1v1h-1zM37 3h1v1h-1zM39 7h1v1h-1z"/><path fill="#0e0e1c" d="M30 2h1v1h-1zM21 8h1v1h-1zM33 8h1v1h-1z"/><path fill="#54627e" d="M45 2h1v1h-1z"/><path fill="#2a2a62" d="M1 3h1v1h-1zM39 3h1v1h-1zM0 7h3v1h-3zM9 7h1v1h-1zM31 7h1v1h-1zM33 7h1v1h-1zM36 7h1v1h-1zM44 7h1v1h-1z"/><path fill="#384662" d="M19 3h1v1h-1z"/><path fill="#9a9a38" d="M22 3h1v1h-1z"/><path fill="#384670" d="M23 3h1v1h-1zM22 5h1v1h-1z"/><path fill="#38469a" d="M30 3h1v1h-1z"/><path fill="#62621c" d="M36 3h1v1h-1z"/><path fill="#1c2a46" d="M0 4h1v1h-1zM42 5h1v1h-1z"/><path fill="#46467e" d="M8 4h1v1h-1zM2 5h1v1h-1z"/><path fill="#384646" d="M19 4h1v1h-1z"/><path fill="#545446" d="M21 4h1v1h-1z"/><path fill="#383870" d="M24 4h1v1h-1zM33 5h1v1h-1zM38 7h1v1h-1zM42 7h1v1h-1z"/><path fill="#b6b62a" d="M28 4h1v1h-1zM38 4h2v1h-2zM5 5h1v1h-1z"/><path fill="#70701c" d="M42 4h1v1h-1z"/><path fill="#626262" d="M44 4h1v1h-1z"/><path fill="#7e8c54" d="M17 5h1v1h-1z"/><path fill="#d2d22a" d="M19 5h1v1h-1z"/><path fill="#d2d238" d="M25 5h1v1h-1z"/><path fill="#7e7e2a" d="M39 5h1v1h-1z"/><path fill="#1c0e38" d="M2 6h2v1h-2zM5 6h1v1h-1zM8 6h1v1h-1zM15 6h2v1h-2zM24 6h2v1h-2zM30 6h1v1h-1zM36 6h1v1h-1zM40 6h1v1h-1zM42 6h1v1h-1zM1 8h2v1h-2zM10 8h1v1h-1zM14 8h3v1h-3z"/><path fill="#0e0e2a" d="M4 6h1v1h-1zM7 6h1v1h-1zM17 6h1v1h-1zM20 6h1v1h-1zM28 6h1v1h-1zM43 6h2v1h-2zM0 8h1v1h-1zM3 8h1v1h-1zM5 8h1v1h-1zM8 8h2v1h-2zM11 8h1v1h-1zM17 8h1v1h-1zM19 8h2v1h-2zM22 8h1v1h-1zM26 8h2v1h-2zM32 8h1v1h-1zM34 8h1v1h-1zM36 8h1v1h-1zM39 8h1v1h-1zM42 8h3v1h-3z"/><path fill="#1c0e46" d="M9 6h1v1h-1zM18 6h1v1h-1zM37 6h1v1h-1zM28 8h2v1h-2z"/><path fill="#0e0e38" d="M12 6h1v1h-1zM14 6h1v1h-1zM27 6h1v1h-1zM34 6h1v1h-1zM38 6h2v1h-2zM11 7h1v1h-1zM4 8h1v1h-1zM7 8h1v1h-1zM12 8h2v1h-2zM23 8h3v1h-3zM30 8h2v1h-2zM35 8h1v1h-1zM37 8h2v1h-2zM40 8h2v1h-2zM45 8h1v1h-1z"/><path fill="#1c1c62" d="M5 7h1v1h-1zM29 7h2v1h-2z"/><path fill="#2a2a7e" d="M17 7h1v1h-1zM34 7h1v1h-1z"/><path fill="#1c2a62" d="M19 7h1v1h-1zM37 7h1v1h-1zM45 7h1v1h-1z"/><path fill="#1c2a54" d="M23 7h1v1h-1z"/><path fill="#2a2a38" d="M25 7h1v1h-1z"/><path fill="#2a2a0e" d="M26 7h1v1h-1z"/><path fill="#465462" d="M32 7h1v1h-1z"/><path fill="#1c1c38" d="M35 7h1v1h-1z"/></g>
<rect x="406.50" y="224.50" width="45.00" height="64.00" fill="none" stroke="#333" stroke-width="1"/>
<g transform="translate(453.00 224.00) scale(1.0000 7.2222)" shape-rendering="crispEdges"><path fill="#3846a8" d="M0 0h1v1h-1zM5 0h3v1h-3zM3 1h1v1h-1zM4 2h1v1h-1zM9 2h1v1h-1zM2 3h4v1h-4zM10 3h2v1h-2zM2 4h1v1h-1zM9 5h1v1h-1zM1 7h1v1h-1z"/><path fill="#38388c" d="M1 0h1v1h-1zM5 7h1v1h-1z"/><path fill="#626254" d="M2 0h1v1h-1zM4 0h1v1h-1zM3 4h1v1h-1zM5 4h3v1h-3zM0 5h1v1h-1zM2 5h1v1h-1zM5 5h1v1h-1z"/><path fill="#2a3870" d="M3 0h1v1h-1z"/><path fill="#a8a854" d="M8 0h1v1h-1zM4 1h1v1h-1zM2 2h1v1h-1zM5 2h1v1h-1zM10 2h1v1h-1zM1 4h1v1h-1zM4 4h1v1h-1zM3 5h1v1h-1zM8 5h1v1h-1z"/><path fill="#2a2a70" d="M9 0h1v1h-1zM9 3h1v1h-1z"/><path fill="#707e7e" d="M10 0h1v1h-1zM11 1h1v1h-1zM3 2h1v1h-1zM8 4h1v1h-1zM10 4h1v1h-1zM4 5h1v1h-1z"/><path fill="#1c1c54" d="M11 0h1v1h-1zM1 3h1v1h-1zM3 7h1v1h-1z"/><path fill="#e0e038" d="M0 1h1v1h-1z"/><path fill="#70702a" d="M1 1h1v1h-1z"/><path fill="#8c8c54" d="M2 1h1v1h-1z"/><path fill="#2a2a46" d="M5 1h1v1h-1zM6 3h1v1h-1z"/><path fill="#9a9a2a" d="M6 1h2v1h-2zM9 1h1v1h-1zM11 4h1v1h-1zM11 5h1v1h-1z"/><path fill="#b6b62a" d="M8 1h1v1h-1z"/><path fill="#384646" d="M10 1h1v1h-1z"/><path fill="#707e54" d="M0 2h1v1h-1z"/><path fill="#7e7e54" d="M1 2h1v1h-1z"/><path fill="#46547e" d="M6 2h1v1h-1z"/><path fill="#465446" d="M7 2h1v1h-1z"/><path fill="#a8a82a" d="M8 2h1v1h-1z"/><path fill="#627062" d="M11 2h1v1h-1zM8 3h1v1h-1z"/><path fill="#2a387e" d="M0 3h1v1h-1zM7 3h1v1h-1zM0 4h1v1h-1zM6 5h1v1h-1zM10 5h1v1h-1zM2 7h1v1h-1z"/><path fill="#70701c" d="M9 4h1v1h-1z"/><path fill="#627046" d="M1 5h1v1h-1z"/><path fill="#1c1c38" d="M7 5h1v1h-1zM11 7h1v1h-1z"/><path fill="#0e0e38" d="M0 6h2v1h-2zM5 6h2v1h-2zM10 6h1v1h-1zM1 8h1v1h-1zM6 8h1v1h-1zM10 8h2v1h-2z"/><path fill="#1c0e38" d="M2 6h1v1h-1zM2 8h2v1h-2zM8 8h1v1h-1z"/><path fill="#1c1c46" d="M3 6h1v1h-1zM8 6h2v1h-2zM0 7h1v1h-1zM9 7h1v1h-1z"/><path fill="#1c0e46" d="M4 6h1v1h-1zM11 6h1v1h-1z"/><path fill="#0e0e2a" d="M7 6h1v1h-1zM4 8h2v1h-2zM7 8h1v1h-1zM9 8h1v1h-1z"/><path fill="#1c2a62" d="M4 7h1v1h-1z"/><path fill="#2a2a54" d="M6 7h1v1h-1zM10 7h1v1h-1z"/><path fill="#1c2a54" d="M7 7h1v1h-1z"/><path fill="#0e0e1c" d="M8 7h1v1h-1zM0 8h1v1h-1z"/></g>
<rect x="453.50" y="224.50" width="11.00" height="64.00" fill="none" stroke="#333" stroke-width="1"/>
<g transform="translate(467.00 224.00) scale(1.0000 7.2222)" shape-rendering="crispEdges"><path fill="#3846a8" d="M0 0h1v1h-1zM2 0h3v1h-3zM7 0h1v1h-1zM13 0h1v1h-1zM18 0h1v1h-1zM22 0h2v1h-2zM25 0h1v1h-1zM8 1h1v1h-1zM13 1h1v1h-1zM23 1h1v1h-1zM3 2h3v1h-3zM17 2h1v1h-1zM21 2h1v1h-1zM2 3h1v1h-1zM4 3h2v1h-2zM7 3h4v1h-4zM12 3h1v1h-1zM14 3h2v1h-2zM17 3h1v1h-1zM20 3h1v1h-1zM0 4h1v1h-1zM6 4h1v1h-1zM8 4h1v1h-1zM22 4h1v1h-1zM25 4h1v1h-1zM27 4h1v1h-1zM21 7h1v1h-1z"/><path fill="#2a387e" d="M1 0h1v1h-1zM5 0h2v1h-2zM8 0h1v1h-1zM19 0h1v1h-1zM2 1h1v1h-1zM24 1h1v1h-1zM26 2h1v1h-1zM6 3h1v1h-1zM11 3h1v1h-1zM24 3h3v1h-3zM4 4h1v1h-1zM9 4h2v1h-2zM14 4h1v1h-1zM26 4h1v1h-1zM26 7h1v1h-1z"/><path fill="#1c0e38" d="M9 0h1v1h-1zM7 6h2v1h-2zM18 6h2v1h-2zM21 6h2v1h-2zM11 7h1v1h-1zM16 7h1v1h-1zM15 8h1v1h-1zM22 8h1v1h-1zM25 8h2v1h-2z"/><path fill="#2a2a62" d="M10 0h1v1h-1zM0 3h1v1h-1zM2 7h1v1h-1zM20 7h1v1h-1z"/><path fill="#383846" d="M11 0h1v1h-1zM19 5h1v1h-1zM17 7h1v1h-1z"/><path fill="#2a3870" d="M12 0h1v1h-1zM16 0h1v1h-1zM27 1h1v1h-1zM7 2h1v1h-1zM16 3h1v1h-1zM7 4h1v1h-1zM12 5h1v1h-1z"/><path fill="#38389a" d="M14 0h1v1h-1zM21 0h1v1h-1zM11 2h1v1h-1z"/><path fill="#0e0e2a" d="M15 0h1v1h-1zM9 6h1v1h-1zM13 6h1v1h-1zM16 6h1v1h-1zM20 6h1v1h-1zM25 6h1v1h-1zM27 6h1v1h-1zM4 7h1v1h-1zM1 8h1v1h-1zM3 8h1v1h-1zM6 8h1v1h-1zM10 8h3v1h-3zM20 8h1v1h-1zM27 8h1v1h-1z"/><path fill="#1c1c54" d="M17 0h1v1h-1zM27 3h1v1h-1zM11 5h1v1h-1zM5 6h1v1h-1zM0 7h1v1h-1zM5 7h1v1h-1zM22 7h2v1h-2zM25 7h1v1h-1z"/><path fill="#1c1c46" d="M20 0h1v1h-1zM24 2h1v1h-1zM19 3h1v1h-1zM1 6h1v1h-1zM6 6h1v1h-1zM10 6h1v1h-1zM12 6h1v1h-1zM14 6h1v1h-1zM26 6h1v1h-1zM12 7h1v1h-1zM14 7h1v1h-1zM18 7h1v1h-1zM24 7h1v1h-1zM19 8h1v1h-1zM24 8h1v1h-1z"/><path fill="#707e7e" d="M24 0h1v1h-1zM27 0h1v1h-1zM0 1h1v1h-1zM5 1h1v1h-1zM15 1h2v1h-2zM19 1h1v1h-1zM21 1h1v1h-1zM2 2h1v1h-1zM8 2h1v1h-1zM15 2h2v1h-2zM18 2h2v1h-2zM25 2h1v1h-1zM27 2h1v1h-1zM3 3h1v1h-1zM21 3h1v1h-1zM1 4h1v1h-1zM15 4h1v1h-1zM17 4h1v1h-1zM20 4h1v1h-1zM5 5h1v1h-1zM9 5h2v1h-2zM17 5h1v1h-1zM26 5h2v1h-2z"/><path fill="#70707e" d="M26 0h1v1h-1z"/><path fill="#626254" d="M1 1h1v1h-1zM9 2h1v1h-1zM1 3h1v1h-1zM1 5h1v1h-1z"/><path fill="#384670" d="M3 1h1v1h-1z"/><path fill="#a8a854" d="M4 1h1v1h-1zM11 1h1v1h-1zM17 1h1v1h-1zM20 1h1v1h-1zM22 1h1v1h-1zM26 1h1v1h-1zM14 2h1v1h-1zM22 2h1v1h-1zM16 4h1v1h-1zM7 5h1v1h-1zM15 5h1v1h-1zM20 5h1v1h-1zM25 5h1v1h-1z"/><path fill="#e0e038" d="M6 1h2v1h-2zM12 2h1v1h-1zM21 5h1v1h-1z"/><path fill="#62622a" d="M9 1h2v1h-2z"/><path fill="#54547e" d="M12 1h1v1h-1zM21 4h1v1h-1zM3 5h1v1h-1z"/><path fill="#464646" d="M14 1h1v1h-1z"/><path fill="#7e7e54" d="M18 1h1v1h-1zM19 4h1v1h-1z"/><path fill="#627046" d="M25 1h1v1h-1zM18 4h1v1h-1z"/><path fill="#707e54" d="M0 2h1v1h-1z"/><path fill="#626246" d="M1 2h1v1h-1zM11 4h2v1h-2z"/><path fill="#707070" d="M6 2h1v1h-1zM23 4h1v1h-1z"/><path fill="#54542a" d="M10 2h1v1h-1z"/><path fill="#2a2a46" d="M13 2h1v1h-1zM13 7h1v1h-1z"/><path fill="#b6b62a" d="M20 2h1v1h-1z"/><path fill="#54541c" d="M23 2h1v1h-1zM13 4h1v1h-1z"/><path fill="#2a388c" d="M13 3h1v1h-1z"/><path fill="#627062" d="M18 3h1v1h-1zM22 5h1v1h-1z"/><path fill="#38388c" d="M22 3h1v1h-1z"/><path fill="#38469a" d="M23 3h1v1h-1z"/><path fill="#62621c" d="M2 4h1v1h-1zM18 5h1v1h-1z"/><path fill="#465446" d="M3 4h1v1h-1zM16 5h1v1h-1z"/><path fill="#627054" d="M5 4h1v1h-1z"/><path fill="#384654" d="M24 4h1v1h-1z"/><path fill="#9a9a2a" d="M0 5h1v1h-1zM6 5h1v1h-1zM23 5h1v1h-1z"/><path fill="#a8a846" d="M2 5h1v1h-1z"/><path fill="#2a2a2a" d="M4 5h1v1h-1z"/><path fill="#383870" d="M8 5h1v1h-1z"/><path fill="#a8a82a" d="M13 5h1v1h-1z"/><path fill="#707054" d="M14 5h1v1h-1z"/><path fill="#545446" d="M24 5h1v1h-1z"/><path fill="#0e0e38" d="M0 6h1v1h-1zM3 6h2v1h-2zM15 6h1v1h-1zM23 6h2v1h-2zM0 8h1v1h-1zM2 8h1v1h-1zM4 8h2v1h-2zM7 8h3v1h-3zM13 8h2v1h-2zM16 8h1v1h-1zM18 8h1v1h-1zM21 8h1v1h-1z"/><path fill="#1c0e46" d="M2 6h1v1h-1zM17 6h1v1h-1zM17 8h1v1h-1z"/><path fill="#1c1c38" d="M11 6h1v1h-1zM1 7h1v1h-1zM27 7h1v1h-1z"/><path fill="#2a2a7e" d="M3 7h1v1h-1zM7 7h1v1h-1z"/><path fill="#2a2a70" d="M6 7h1v1h-1zM9 7h1v1h-1zM15 7h1v1h-1z"/><path fill="#2a2a54" d="M8 7h1v1h-1zM10 7h1v1h-1z"/><path fill="#0e0e1c" d="M19 7h1v1h-1zM23 8h1v1h-1z"/></g>
<rect x="467.50" y="224.50" width="27.00" height="64.00" fill="none" stroke="#333" stroke-width="1"/>
<g transform="translate(497.00 224.00) scale(1.0000 7.2222)" shape-rendering="crispEdges"><path fill="#2a2a1c" d="M0 0h1v1h-1zM29 0h2v1h-2zM53 5h1v1h-1z"/><path fill="#626246" d="M1 0h1v1h-1zM26 2h1v1h-1zM39 3h1v1h-1zM42 3h1v1h-1zM24 4h1v1h-1zM16 5h1v1h-1zM29 5h1v1h-1z"/><path fill="#9a9a2a" d="M2 0h1v1h-1zM36 0h1v1h-1zM8 3h1v1h-1zM15 3h1v1h-1zM19 3h1v1h-1zM21 3h1v1h-1zM41 3h1v1h-1zM45 3h1v1h-1zM2 5h1v1h-1zM52 5h1v1h-1z"/><path fill="#62621c" d="M3 0h1v1h-1zM11 0h1v1h-1zM18 0h1v1h-1zM33 0h1v1h-1zM38 0h1v1h-1zM43 0h1v1h-1zM48 0h1v1h-1zM52 3h1v1h-1z"/><path fill="#70702a" d="M4 0h1v1h-1zM14 0h1v1h-1zM10 3h1v1h-1z"/><path fill="#9a9a46" d="M5 0h1v1h-1z"/><path fill="#62622a" d="M6 0h1v1h-1zM15 2h1v1h-1zM38 3h1v1h-1zM30 5h1v1h-1z"/><path fill="#54541c" d="M7 0h1v1h-1zM10 0h1v1h-1zM21 0h1v1h-1zM18 2h1v1h-1zM26 3h1v1h-1z"/><path fill="#46461c" d="M8 0h1v1h-1zM17 0h1v1h-1zM20 0h1v1h-1zM23 0h1v1h-1zM37 0h1v1h-1zM39 0h1v1h-1zM42 0h1v1h-1z"/><path fill="#8c8c2a" d="M9 0h1v1h-1zM28 0h1v1h-1zM47 0h1v1h-1zM50 0h1v1h-1z"/><path fill="#a8a82a" d="M12 0h1v1h-1zM24 0h1v1h-1zM49 0h1v1h-1zM17 3h1v1h-1zM35 3h1v1h-1z"/><path fill="#70701c" d="M13 0h1v1h-1zM34 3h1v1h-1z"/><path fill="#a8a854" d="M15 0h1v1h-1zM2 2h1v1h-1zM7 2h1v1h-1zM20 2h1v1h-1zM1 3h3v1h-3zM9 3h1v1h-1zM11 3h1v1h-1zM14 3h1v1h-1zM16 3h1v1h-1zM18 3h1v1h-1zM20 3h1v1h-1zM33 3h1v1h-1zM43 3h1v1h-1zM46 3h1v1h-1zM48 3h1v1h-1zM51 3h1v1h-1zM53 3h1v1h-1zM55 3h1v1h-1zM38 4h1v1h-1zM45 4h1v1h-1zM9 5h1v1h-1zM21 5h1v1h-1zM37 5h1v1h-1zM44 5h1v1h-1z"/><path fill="#c4c42a" d="M16 0h1v1h-1zM19 0h1v1h-1zM44 3h1v1h-1z"/><path fill="#464646" d="M22 0h1v1h-1z"/><path fill="#b6b62a" d="M25 0h1v1h-1zM12 3h1v1h-1zM40 3h1v1h-1z"/><path fill="#7e7e2a" d="M26 0h1v1h-1zM34 0h1v1h-1zM53 0h1v1h-1z"/><path fill="#7e7e38" d="M27 0h1v1h-1zM44 0h1v1h-1z"/><path fill="#7e7e1c" d="M31 0h2v1h-2zM40 0h1v1h-1zM46 0h1v1h-1zM51 0h1v1h-1zM0 3h1v1h-1z"/><path fill="#1c1c2a" d="M35 0h1v1h-1z"/><path fill="#627046" d="M41 0h1v1h-1zM5 3h1v1h-1zM25 5h1v1h-1z"/><path fill="#1c1c1c" d="M45 0h1v1h-1z"/><path fill="#9a9a38" d="M52 0h1v1h-1zM37 3h1v1h-1zM3 5h1v1h-1z"/><path fill="#707038" d="M54 0h1v1h-1z"/><path fill="#38381c" d="M55 0h1v1h-1z"/><path fill="#38469a" d="M0 1h1v1h-1zM9 1h1v1h-1zM11 1h1v1h-1zM17 1h1v1h-1zM19 1h1v1h-1zM22 1h1v1h-1zM26 1h1v1h-1zM33 1h1v1h-1zM42 1h1v1h-1zM46 1h1v1h-1zM51 1h1v1h-1zM25 4h1v1h-1zM46 4h1v1h-1zM32 7h1v1h-1zM47 7h1v1h-1z"/><path fill="#38389a" d="M1 1h1v1h-1zM15 1h1v1h-1zM18 1h1v1h-1zM21 1h1v1h-1zM50 1h1v1h-1zM46 7h1v1h-1z"/><path fill="#3846a8" d="M2 1h1v1h-1zM14 1h1v1h-1zM27 1h1v1h-1zM52 1h1v1h-1zM10 2h1v1h-1zM13 2h1v1h-1zM17 2h1v1h-1zM19 2h1v1h-1zM23 2h1v1h-1zM25 2h1v1h-1zM28 2h2v1h-2zM36 2h1v1h-1zM39 2h2v1h-2zM43 2h1v1h-1zM51 2h1v1h-1zM53 2h1v1h-1zM55 2h1v1h-1zM2 4h3v1h-3zM9 4h2v1h-2zM12 4h1v1h-1zM14 4h6v1h-6zM21 4h3v1h-3zM27 4h1v1h-1zM31 4h1v1h-1zM33 4h1v1h-1zM36 4h2v1h-2zM39 4h3v1h-3zM48 4h1v1h-1zM52 4h1v1h-1zM55 4h1v1h-1zM7 5h1v1h-1zM17 5h1v1h-1zM27 5h1v1h-1zM32 5h2v1h-2zM35 5h1v1h-1zM45 5h1v1h-1z"/><path fill="#38388c" d="M3 1h2v1h-2zM7 1h1v1h-1zM25 1h1v1h-1zM28 1h1v1h-1zM34 1h2v1h-2zM43 1h1v1h-1zM45 1h1v1h-1zM53 1h2v1h-2zM14 2h1v1h-1zM1 4h1v1h-1zM6 4h1v1h-1zM20 4h1v1h-1zM32 4h1v1h-1zM51 4h1v1h-1zM11 7h1v1h-1zM14 7h1v1h-1zM19 7h2v1h-2zM22 7h1v1h-1z"/><path fill="#2a387e" d="M5 1h1v1h-1zM8 1h1v1h-1zM29 1h1v1h-1zM31 1h1v1h-1zM39 1h1v1h-1zM44 1h1v1h-1zM47 1h2v1h-2zM55 1h1v1h-1zM1 2h1v1h-1zM8 2h1v1h-1zM11 2h1v1h-1zM46 2h1v1h-1zM25 3h1v1h-1zM8 4h1v1h-1zM6 5h1v1h-1zM13 5h1v1h-1zM27 7h1v1h-1zM31 7h1v1h-1zM36 7h1v1h-1zM39 7h1v1h-1zM44 7h1v1h-1zM51 7h2v1h-2z"/><path fill="#2a388c" d="M6 1h1v1h-1zM20 1h1v1h-1zM36 1h1v1h-1zM38 1h1v1h-1zM41 1h1v1h-1zM49 1h1v1h-1zM9 2h1v1h-1zM5 4h1v1h-1zM5 7h2v1h-2zM9 7h1v1h-1zM15 7h1v1h-1zM23 7h2v1h-2zM35 7h1v1h-1z"/><path fill="#2a2a7e" d="M10 1h1v1h-1zM13 1h1v1h-1zM40 1h1v1h-1zM3 7h1v1h-1zM17 7h1v1h-1zM38 7h1v1h-1zM43 7h1v1h-1z"/><path fill="#2a2a70" d="M12 1h1v1h-1zM16 1h1v1h-1zM23 1h1v1h-1zM32 1h1v1h-1zM31 2h1v1h-1zM47 2h1v1h-1zM1 7h1v1h-1zM4 7h1v1h-1zM8 7h1v1h-1zM10 7h1v1h-1zM21 7h1v1h-1zM29 7h2v1h-2zM33 7h1v1h-1zM50 7h1v1h-1z"/><path fill="#2a2a62" d="M24 1h1v1h-1zM37 1h1v1h-1zM12 2h1v1h-1zM44 4h1v1h-1zM2 7h1v1h-1zM25 7h1v1h-1zM37 7h1v1h-1zM45 7h1v1h-1z"/><path fill="#1c1c46" d="M30 1h1v1h-1zM4 5h1v1h-1zM2 6h2v1h-2zM11 6h1v1h-1zM14 6h1v1h-1zM17 6h1v1h-1zM23 6h1v1h-1zM26 6h1v1h-1zM28 6h3v1h-3zM32 6h3v1h-3zM39 6h1v1h-1zM43 6h2v1h-2zM50 6h2v1h-2zM53 7h1v1h-1zM8 8h1v1h-1zM11 8h1v1h-1zM23 8h1v1h-1zM34 8h2v1h-2zM44 8h1v1h-1z"/><path fill="#2a2a46" d="M0 2h1v1h-1z"/><path fill="#383870" d="M3 2h1v1h-1zM24 5h1v1h-1zM50 5h1v1h-1z"/><path fill="#707e7e" d="M4 2h1v1h-1zM21 2h1v1h-1zM27 2h1v1h-1zM30 2h1v1h-1zM32 2h2v1h-2zM38 2h1v1h-1zM44 2h1v1h-1zM48 2h3v1h-3zM52 2h1v1h-1zM4 3h1v1h-1zM7 3h1v1h-1zM13 3h1v1h-1zM22 3h1v1h-1zM31 3h2v1h-2zM54 3h1v1h-1zM11 4h1v1h-1zM13 4h1v1h-1zM34 4h1v1h-1zM42 4h1v1h-1zM49 4h2v1h-2zM0 5h1v1h-1zM5 5h1v1h-1zM8 5h1v1h-1zM11 5h2v1h-2zM15 5h1v1h-1zM22 5h1v1h-1zM26 5h1v1h-1zM31 5h1v1h-1zM36 5h1v1h-1zM39 5h1v1h-1zM42 5h1v1h-1zM54 5h1v1h-1z"/><path fill="#e0e038" d="M5 2h1v1h-1zM24 3h1v1h-1z"/><path fill="#46467e" d="M6 2h1v1h-1z"/><path fill="#2a2a54" d="M16 2h1v1h-1z"/><path fill="#626254" d="M22 2h1v1h-1zM24 2h1v1h-1zM42 2h1v1h-1zM23 3h1v1h-1zM0 4h1v1h-1zM47 4h1v1h-1zM18 5h3v1h-3zM28 5h1v1h-1zM38 5h1v1h-1z"/><path fill="#1c1c54" d="M34 2h1v1h-1zM41 2h1v1h-1zM54 2h1v1h-1zM40 5h2v1h-2zM0 6h1v1h-1zM9 6h1v1h-1zM40 6h1v1h-1zM0 7h1v1h-1zM18 7h1v1h-1zM26 7h1v1h-1zM42 7h1v1h-1zM49 7h1v1h-1z"/><path fill="#46547e" d="M35 2h1v1h-1z"/><path fill="#2a3870" d="M37 2h1v1h-1zM28 4h3v1h-3zM35 4h1v1h-1zM43 4h1v1h-1zM1 5h1v1h-1zM34 5h1v1h-1zM49 5h1v1h-1z"/><path fill="#627054" d="M45 2h1v1h-1zM6 3h1v1h-1zM27 3h1v1h-1z"/><path fill="#384670" d="M28 3h1v1h-1zM10 5h1v1h-1z"/><path fill="#707054" d="M29 3h1v1h-1z"/><path fill="#1c2a46" d="M30 3h1v1h-1z"/><path fill="#707e54" d="M36 3h1v1h-1zM46 5h1v1h-1zM48 5h1v1h-1z"/><path fill="#7e7e54" d="M47 3h1v1h-1zM43 5h1v1h-1z"/><path fill="#8c8c54" d="M49 3h1v1h-1z"/><path fill="#545438" d="M50 3h1v1h-1zM26 4h1v1h-1z"/><path fill="#1c0e2a" d="M7 4h1v1h-1z"/><path fill="#54542a" d="M53 4h1v1h-1z"/><path fill="#707070" d="M54 4h1v1h-1zM51 5h1v1h-1z"/><path fill="#1c2a62" d="M14 5h1v1h-1zM12 7h1v1h-1zM40 7h1v1h-1zM55 7h1v1h-1z"/><path fill="#383846" d="M23 5h1v1h-1z"/><path fill="#384662" d="M47 5h1v1h-1z"/><path fill="#627062" d="M55 5h1v1h-1z"/><path fill="#0e0e2a" d="M1 6h1v1h-1zM4 6h1v1h-1zM19 6h1v1h-1zM3 8h1v1h-1zM6 8h1v1h-1zM9 8h1v1h-1zM13 8h2v1h-2zM17 8h2v1h-2zM20 8h3v1h-3zM27 8h2v1h-2zM30 8h1v1h-1zM32 8h2v1h-2zM37 8h2v1h-2zM40 8h1v1h-1zM46 8h2v1h-2zM49 8h1v1h-1zM51 8h2v1h-2zM55 8h1v1h-1z"/><path fill="#1c0e38" d="M5 6h1v1h-1zM8 6h1v1h-1zM12 6h2v1h-2zM15 6h2v1h-2zM20 6h3v1h-3zM25 6h1v1h-1zM31 6h1v1h-1zM38 6h1v1h-1zM41 6h2v1h-2zM54 6h2v1h-2zM28 7h1v1h-1zM0 8h1v1h-1zM5 8h1v1h-1zM10 8h1v1h-1zM12 8h1v1h-1zM15 8h1v1h-1zM24 8h2v1h-2zM36 8h1v1h-1zM39 8h1v1h-1zM41 8h1v1h-1zM45 8h1v1h-1zM50 8h1v1h-1zM53 8h1v1h-1z"/><path fill="#0e0e38" d="M6 6h1v1h-1zM18 6h1v1h-1zM24 6h1v1h-1zM27 6h1v1h-1zM36 6h2v1h-2zM45 6h1v1h-1zM47 6h1v1h-1zM49 6h1v1h-1zM52 6h2v1h-2zM34 7h1v1h-1zM1 8h2v1h-2zM4 8h1v1h-1zM7 8h1v1h-1zM16 8h1v1h-1zM19 8h1v1h-1zM26 8h1v1h-1zM29 8h1v1h-1zM31 8h1v1h-1zM42 8h2v1h-2zM54 8h1v1h-1z"/><path fill="#1c0e46" d="M7 6h1v1h-1zM10 6h1v1h-1zM35 6h1v1h-1zM46 6h1v1h-1zM48 6h1v1h-1z"/><path fill="#1c1c38" d="M7 7h1v1h-1zM41 7h1v1h-1z"/><path fill="#1c2a54" d="M13 7h1v1h-1zM48 7h1v1h-1zM54 7h1v1h-1z"/><path fill="#1c1c62" d="M16 7h1v1h-1z"/><path fill="#0e0e1c" d="M48 8h1v1h-1z"/></g>
<rect x="497.50" y="224.50" width="55.00" height="64.00" fill="none" stroke="#333" stroke-width="1"/>
<text x="555.50" y="230.56">KLK3</text>
<text x="555.50" y="237.78">KLK2</text>
<text x="555.50" y="245.01">TMPRSS2</text>
<text x="555.50" y="252.23">FKBP5</text>
<text x="555.50" y="259.45">NKX3−1</text>
<text x="555.50" y="266.67">PMEPA1</text>
<text x="555.50" y="273.89">PART1</text>
<text x="555.50" y="281.12">ALDH1A3</text>
<text x="555.50" y="288.34">STEAP4</text>
<text x="400.10" y="259.60" text-anchor="middle" transform="rotate(-90 400.10 259.60)">AR_10_Bluemn</text>
<rect x="641.60" y="239.10" width="9.30" height="45.60" fill="url(#gcb1)"/>
<line x1="641.60" y1="240.30" x2="643.10" y2="240.30" stroke="#fff" stroke-width="0.6"/>
<line x1="649.40" y1="240.30" x2="650.90" y2="240.30" stroke="#fff" stroke-width="0.6"/>
<text x="651.90" y="244.20">0.5</text>
<line x1="641.60" y1="261.90" x2="643.10" y2="261.90" stroke="#fff" stroke-width="0.6"/>
<line x1="649.40" y1="261.90" x2="650.90" y2="261.90" stroke="#fff" stroke-width="0.6"/>
<text x="651.90" y="265.20">0</text>
<line x1="641.60" y1="283.50" x2="643.10" y2="283.50" stroke="#fff" stroke-width="0.6"/>
<line x1="649.40" y1="283.50" x2="650.90" y2="283.50" stroke="#fff" stroke-width="0.6"/>
<text x="651.90" y="286.80">−0.5</text>
<text x="655.00" y="217.50" text-anchor="middle">gene expression</text>
<text x="655.00" y="227.20" text-anchor="middle">(z-normalized)</text>
<rect x="40.80" y="374.80" width="49.20" height="5.30" fill="#bdbfc1"/>
<rect x="90.90" y="374.80" width="12.40" height="5.30" fill="#e6303f"/>
<rect x="104.00" y="374.80" width="30.80" height="5.30" fill="#3d62b0"/>
<rect x="135.50" y="374.80" width="59.30" height="5.30" fill="#f5a13a"/>
<text x="46.70" y="370.30">DMSO</text>
<text x="81.80" y="370.30">Enza</text>
<text x="101.30" y="370.30">ARV110</text>
<text x="137.80" y="370.30">SMARCA2_4.1</text>
<text x="195.40" y="378.60" font-size="6.9">TREATMENT</text>
<g transform="translate(40.80 381.00) scale(1.0041 8.6250)" shape-rendering="crispEdges"><path fill="#627070" d="M0 0h1v1h-1zM4 0h1v1h-1zM7 0h1v1h-1zM13 0h1v1h-1zM17 0h1v1h-1zM22 0h3v1h-3zM26 0h1v1h-1zM33 0h2v1h-2zM42 0h1v1h-1zM4 1h1v1h-1zM9 1h1v1h-1zM15 1h1v1h-1zM17 1h1v1h-1zM21 1h2v1h-2zM24 1h2v1h-2zM34 1h1v1h-1zM37 1h1v1h-1zM39 1h1v1h-1zM45 1h1v1h-1zM1 2h1v1h-1zM7 2h2v1h-2zM13 2h2v1h-2zM26 2h3v1h-3zM30 2h1v1h-1zM32 2h1v1h-1zM39 2h1v1h-1zM0 3h2v1h-2zM8 3h5v1h-5zM17 3h1v1h-1zM22 3h1v1h-1zM25 3h1v1h-1zM30 3h2v1h-2zM33 3h1v1h-1zM39 3h1v1h-1zM45 3h1v1h-1zM48 3h1v1h-1zM0 4h1v1h-1zM4 4h1v1h-1zM15 4h1v1h-1zM26 4h2v1h-2zM34 4h1v1h-1zM40 4h2v1h-2zM44 4h1v1h-1zM47 4h2v1h-2zM6 5h1v1h-1zM8 5h1v1h-1zM11 5h1v1h-1zM13 5h1v1h-1zM21 5h1v1h-1zM24 5h1v1h-1zM29 5h1v1h-1zM32 5h1v1h-1zM43 5h1v1h-1zM2 6h1v1h-1zM5 6h1v1h-1zM7 6h1v1h-1zM19 6h1v1h-1zM23 6h2v1h-2zM26 6h1v1h-1zM30 6h1v1h-1zM32 6h1v1h-1zM42 6h1v1h-1zM4 7h1v1h-1zM8 7h2v1h-2zM12 7h2v1h-2zM20 7h4v1h-4zM25 7h4v1h-4zM30 7h1v1h-1zM33 7h1v1h-1zM35 7h2v1h-2zM42 7h2v1h-2zM46 7h1v1h-1zM1 8h1v1h-1zM7 8h2v1h-2zM13 8h1v1h-1zM19 8h4v1h-4zM24 8h1v1h-1zM26 8h1v1h-1zM29 8h1v1h-1zM32 8h1v1h-1zM2 9h1v1h-1zM6 9h1v1h-1zM9 9h2v1h-2zM12 9h1v1h-1zM30 9h1v1h-1zM33 9h1v1h-1zM44 9h1v1h-1zM48 9h1v1h-1zM2 10h1v1h-1zM5 10h1v1h-1zM8 10h1v1h-1zM16 10h1v1h-1zM25 10h2v1h-2zM28 10h2v1h-2zM32 10h3v1h-3zM37 10h1v1h-1zM41 10h1v1h-1zM47 10h2v1h-2zM0 11h1v1h-1zM6 11h1v1h-1zM8 11h1v1h-1zM10 11h1v1h-1zM15 11h1v1h-1zM29 11h1v1h-1zM33 11h1v1h-1zM35 11h1v1h-1zM39 11h1v1h-1zM44 11h1v1h-1zM2 12h2v1h-2zM8 12h2v1h-2zM18 12h1v1h-1zM20 12h1v1h-1zM26 12h1v1h-1zM36 12h1v1h-1zM38 12h2v1h-2zM43 12h1v1h-1zM46 12h3v1h-3zM0 13h1v1h-1zM3 13h1v1h-1zM7 13h2v1h-2zM10 13h1v1h-1zM17 13h1v1h-1zM23 13h1v1h-1zM25 13h1v1h-1zM27 13h1v1h-1zM32 13h3v1h-3zM37 13h3v1h-3zM43 13h2v1h-2zM7 14h1v1h-1zM9 14h2v1h-2zM14 14h1v1h-1zM16 14h2v1h-2zM19 14h2v1h-2zM22 14h1v1h-1zM25 14h2v1h-2zM29 14h1v1h-1zM31 14h1v1h-1zM33 14h1v1h-1zM38 14h2v1h-2zM41 14h3v1h-3zM45 14h4v1h-4zM4 15h2v1h-2zM7 15h1v1h-1zM21 15h1v1h-1zM25 15h1v1h-1zM28 15h1v1h-1zM30 15h1v1h-1zM32 15h1v1h-1zM38 15h1v1h-1zM41 15h1v1h-1zM48 15h1v1h-1zM0 16h2v1h-2zM3 16h1v1h-1zM6 16h1v1h-1zM11 16h1v1h-1zM15 16h3v1h-3zM22 16h2v1h-2zM25 16h1v1h-1zM27 16h2v1h-2zM32 16h1v1h-1zM34 16h1v1h-1zM36 16h1v1h-1zM42 16h1v1h-1zM44 16h1v1h-1zM46 16h1v1h-1zM1 17h1v1h-1zM3 17h2v1h-2zM11 17h1v1h-1zM14 17h1v1h-1zM20 17h1v1h-1zM24 17h1v1h-1zM30 17h2v1h-2zM33 17h1v1h-1zM40 17h1v1h-1zM44 17h1v1h-1zM0 18h1v1h-1zM7 18h1v1h-1zM13 18h1v1h-1zM15 18h2v1h-2zM18 18h1v1h-1zM23 18h2v1h-2zM28 18h1v1h-1zM31 18h1v1h-1zM38 18h1v1h-1zM44 18h5v1h-5zM7 19h3v1h-3zM14 19h1v1h-1zM16 19h1v1h-1zM19 19h1v1h-1zM24 19h3v1h-3zM31 19h1v1h-1zM34 19h1v1h-1zM37 19h1v1h-1zM39 19h1v1h-1zM44 19h1v1h-1zM48 19h1v1h-1zM4 21h2v1h-2zM18 21h1v1h-1zM20 21h1v1h-1zM23 21h1v1h-1zM26 21h1v1h-1zM29 21h2v1h-2zM35 21h1v1h-1zM39 21h1v1h-1zM44 21h1v1h-1zM46 21h2v1h-2zM0 22h1v1h-1zM4 22h1v1h-1zM10 22h1v1h-1zM18 22h1v1h-1zM23 22h1v1h-1zM26 22h1v1h-1zM29 22h1v1h-1zM32 22h1v1h-1zM35 22h1v1h-1zM37 22h1v1h-1zM39 22h1v1h-1zM41 22h1v1h-1zM0 23h2v1h-2zM5 23h1v1h-1zM7 23h1v1h-1zM9 23h1v1h-1zM12 23h1v1h-1zM19 23h1v1h-1zM23 23h1v1h-1zM30 23h1v1h-1zM39 23h2v1h-2zM47 23h1v1h-1zM0 25h3v1h-3zM4 25h1v1h-1zM11 25h1v1h-1zM13 25h2v1h-2zM17 25h1v1h-1zM23 25h1v1h-1zM26 25h1v1h-1zM32 25h1v1h-1zM35 25h1v1h-1zM37 25h1v1h-1zM39 25h1v1h-1zM41 25h1v1h-1zM48 25h1v1h-1zM0 27h1v1h-1zM4 27h1v1h-1zM6 27h1v1h-1zM13 27h1v1h-1zM15 27h1v1h-1zM17 27h1v1h-1zM21 27h1v1h-1zM23 27h1v1h-1zM27 27h1v1h-1zM36 27h1v1h-1zM39 27h1v1h-1zM42 27h1v1h-1zM44 27h1v1h-1zM48 27h1v1h-1zM12 28h1v1h-1zM14 28h1v1h-1zM26 28h2v1h-2zM30 28h1v1h-1zM25 29h1v1h-1zM30 29h2v1h-2zM36 29h1v1h-1zM39 29h1v1h-1zM0 30h1v1h-1zM5 30h1v1h-1zM7 30h1v1h-1zM11 30h1v1h-1zM14 30h1v1h-1zM17 30h2v1h-2zM27 30h1v1h-1zM30 30h2v1h-2zM33 30h3v1h-3zM43 30h1v1h-1zM45 30h1v1h-1zM47 30h1v1h-1zM2 31h1v1h-1zM5 31h1v1h-1zM7 31h2v1h-2zM10 31h2v1h-2zM15 31h1v1h-1zM22 31h1v1h-1zM32 31h1v1h-1zM34 31h2v1h-2zM38 31h1v1h-1z"/><path fill="#8c8c38" d="M1 0h1v1h-1zM40 15h1v1h-1zM34 29h1v1h-1z"/><path fill="#c4c42a" d="M2 0h1v1h-1zM9 0h1v1h-1zM2 1h1v1h-1zM16 1h1v1h-1zM11 2h1v1h-1zM22 5h1v1h-1zM20 6h1v1h-1zM9 8h1v1h-1zM14 8h1v1h-1zM3 11h1v1h-1zM17 11h1v1h-1zM46 11h1v1h-1zM41 13h1v1h-1zM8 14h1v1h-1zM24 14h1v1h-1zM19 15h1v1h-1zM43 16h1v1h-1zM21 18h1v1h-1zM27 19h1v1h-1zM46 19h1v1h-1zM2 22h1v1h-1zM33 22h1v1h-1zM28 23h1v1h-1zM24 27h1v1h-1zM43 27h1v1h-1zM21 31h1v1h-1z"/><path fill="#38389a" d="M3 0h1v1h-1zM6 0h1v1h-1zM10 0h1v1h-1zM31 0h1v1h-1zM38 0h1v1h-1zM43 0h1v1h-1zM47 0h2v1h-2zM13 1h1v1h-1zM18 1h2v1h-2zM31 1h1v1h-1zM33 1h1v1h-1zM36 1h1v1h-1zM38 1h1v1h-1zM48 1h1v1h-1zM17 2h1v1h-1zM22 2h2v1h-2zM25 2h1v1h-1zM34 2h1v1h-1zM41 2h1v1h-1zM47 2h2v1h-2zM4 3h4v1h-4zM16 3h1v1h-1zM20 3h1v1h-1zM32 3h1v1h-1zM35 3h2v1h-2zM1 4h1v1h-1zM5 4h1v1h-1zM11 4h1v1h-1zM28 4h2v1h-2zM31 4h3v1h-3zM5 5h1v1h-1zM7 5h1v1h-1zM14 5h1v1h-1zM18 5h2v1h-2zM36 5h1v1h-1zM38 5h1v1h-1zM44 5h1v1h-1zM48 5h1v1h-1zM0 6h1v1h-1zM3 6h1v1h-1zM6 6h1v1h-1zM12 6h1v1h-1zM22 6h1v1h-1zM27 6h1v1h-1zM35 6h2v1h-2zM39 6h1v1h-1zM45 6h1v1h-1zM2 7h1v1h-1zM5 7h1v1h-1zM7 7h1v1h-1zM10 7h1v1h-1zM19 7h1v1h-1zM31 7h1v1h-1zM34 7h1v1h-1zM37 7h1v1h-1zM44 7h1v1h-1zM2 8h1v1h-1zM6 8h1v1h-1zM35 8h1v1h-1zM38 8h1v1h-1zM43 8h1v1h-1zM45 8h1v1h-1zM5 9h1v1h-1zM13 9h1v1h-1zM16 9h2v1h-2zM25 9h1v1h-1zM31 9h1v1h-1zM45 9h1v1h-1zM3 10h1v1h-1zM6 10h1v1h-1zM9 10h2v1h-2zM12 10h1v1h-1zM14 10h1v1h-1zM17 10h4v1h-4zM23 10h1v1h-1zM42 10h1v1h-1zM46 10h1v1h-1zM1 11h1v1h-1zM11 11h1v1h-1zM13 11h1v1h-1zM23 11h1v1h-1zM30 11h1v1h-1zM40 11h1v1h-1zM42 11h1v1h-1zM45 11h1v1h-1zM1 12h1v1h-1zM5 12h1v1h-1zM12 12h1v1h-1zM19 12h1v1h-1zM24 12h2v1h-2zM27 12h1v1h-1zM31 12h1v1h-1zM42 12h1v1h-1zM4 13h1v1h-1zM6 13h1v1h-1zM11 13h1v1h-1zM24 13h1v1h-1zM26 13h1v1h-1zM36 13h1v1h-1zM46 13h1v1h-1zM1 14h1v1h-1zM5 14h1v1h-1zM32 14h1v1h-1zM35 14h1v1h-1zM2 15h2v1h-2zM18 15h1v1h-1zM24 15h1v1h-1zM4 16h1v1h-1zM7 16h2v1h-2zM13 16h1v1h-1zM20 16h1v1h-1zM24 16h1v1h-1zM29 16h1v1h-1zM38 16h1v1h-1zM9 17h1v1h-1zM16 17h1v1h-1zM25 17h1v1h-1zM32 17h1v1h-1zM39 17h1v1h-1zM48 17h1v1h-1zM1 18h3v1h-3zM10 18h1v1h-1zM12 18h1v1h-1zM22 18h1v1h-1zM27 18h1v1h-1zM30 18h1v1h-1zM32 18h1v1h-1zM34 18h2v1h-2zM37 18h1v1h-1zM43 18h1v1h-1zM0 19h2v1h-2zM3 19h1v1h-1zM5 19h1v1h-1zM10 19h2v1h-2zM18 19h1v1h-1zM23 19h1v1h-1zM38 19h1v1h-1zM43 19h1v1h-1zM45 19h1v1h-1zM2 21h2v1h-2zM11 21h2v1h-2zM16 21h1v1h-1zM19 21h1v1h-1zM21 21h1v1h-1zM25 21h1v1h-1zM32 21h1v1h-1zM36 21h1v1h-1zM3 22h1v1h-1zM9 22h1v1h-1zM14 22h2v1h-2zM22 22h1v1h-1zM30 22h1v1h-1zM36 22h1v1h-1zM44 22h1v1h-1zM3 23h1v1h-1zM8 23h1v1h-1zM10 23h2v1h-2zM14 23h2v1h-2zM17 23h1v1h-1zM24 23h1v1h-1zM29 23h1v1h-1zM35 23h1v1h-1zM38 23h1v1h-1zM41 23h1v1h-1zM45 23h1v1h-1zM16 25h1v1h-1zM18 25h1v1h-1zM22 25h1v1h-1zM25 25h1v1h-1zM30 25h1v1h-1zM33 25h1v1h-1zM36 25h1v1h-1zM38 25h1v1h-1zM45 25h1v1h-1zM8 27h4v1h-4zM18 27h1v1h-1zM20 27h1v1h-1zM22 27h1v1h-1zM25 27h1v1h-1zM30 27h1v1h-1zM32 27h1v1h-1zM38 27h1v1h-1zM40 27h2v1h-2zM3 28h1v1h-1zM7 28h2v1h-2zM15 28h1v1h-1zM20 28h1v1h-1zM25 28h1v1h-1zM28 28h1v1h-1zM2 29h1v1h-1zM8 29h3v1h-3zM23 29h1v1h-1zM45 29h1v1h-1zM8 30h1v1h-1zM13 30h1v1h-1zM23 30h2v1h-2zM28 30h1v1h-1zM42 30h1v1h-1zM48 30h1v1h-1zM9 31h1v1h-1zM18 31h1v1h-1zM20 31h1v1h-1zM26 31h2v1h-2zM31 31h1v1h-1z"/><path fill="#2a3870" d="M5 0h1v1h-1zM20 0h1v1h-1zM1 1h1v1h-1zM5 1h1v1h-1zM0 2h1v1h-1zM21 3h1v1h-1zM17 4h1v1h-1zM39 4h1v1h-1zM25 5h1v1h-1zM45 7h1v1h-1zM0 8h1v1h-1zM28 8h1v1h-1zM24 9h1v1h-1zM28 9h1v1h-1zM2 14h1v1h-1zM34 17h1v1h-1zM20 18h1v1h-1zM8 21h1v1h-1zM15 21h1v1h-1zM1 22h1v1h-1zM45 27h1v1h-1zM9 30h1v1h-1zM6 31h1v1h-1zM12 31h1v1h-1z"/><path fill="#626246" d="M8 0h1v1h-1zM27 1h1v1h-1zM6 2h1v1h-1zM36 4h2v1h-2zM33 6h1v1h-1zM14 7h1v1h-1zM39 7h1v1h-1zM23 8h1v1h-1zM41 8h1v1h-1zM40 9h2v1h-2zM21 10h1v1h-1zM12 11h1v1h-1zM38 11h1v1h-1zM22 12h1v1h-1zM2 13h1v1h-1zM19 13h1v1h-1zM31 13h1v1h-1zM47 13h1v1h-1zM34 14h1v1h-1zM17 15h1v1h-1zM33 16h1v1h-1zM23 17h1v1h-1zM42 17h1v1h-1zM41 18h1v1h-1zM4 19h1v1h-1zM32 19h1v1h-1zM37 21h1v1h-1zM6 22h1v1h-1zM13 23h1v1h-1zM2 27h1v1h-1zM29 27h1v1h-1zM2 30h1v1h-1zM10 30h1v1h-1zM12 30h1v1h-1z"/><path fill="#546254" d="M11 0h1v1h-1zM44 0h2v1h-2zM43 2h1v1h-1zM15 3h1v1h-1zM27 5h1v1h-1zM4 9h1v1h-1zM22 9h1v1h-1zM44 10h1v1h-1zM9 15h1v1h-1zM22 15h1v1h-1zM26 15h1v1h-1zM47 16h1v1h-1zM5 18h1v1h-1zM42 21h1v1h-1zM24 22h1v1h-1zM25 24h1v1h-1zM42 24h1v1h-1zM33 26h1v1h-1zM37 27h1v1h-1zM13 28h1v1h-1zM39 28h1v1h-1zM43 29h1v1h-1zM48 29h1v1h-1zM36 31h1v1h-1z"/><path fill="#8c8c2a" d="M12 0h1v1h-1zM41 1h1v1h-1zM18 2h1v1h-1zM40 3h1v1h-1zM2 4h1v1h-1zM13 4h1v1h-1zM1 5h1v1h-1zM8 9h1v1h-1zM13 10h1v1h-1zM27 11h1v1h-1zM12 15h1v1h-1zM23 15h1v1h-1zM34 15h1v1h-1zM31 16h1v1h-1zM7 17h1v1h-1zM17 18h1v1h-1zM7 22h1v1h-1zM29 25h1v1h-1zM19 27h1v1h-1z"/><path fill="#8c9a54" d="M14 0h1v1h-1zM28 0h1v1h-1zM40 0h2v1h-2zM46 0h1v1h-1zM11 1h1v1h-1zM26 1h1v1h-1zM30 1h1v1h-1zM47 1h1v1h-1zM10 2h1v1h-1zM29 2h1v1h-1zM35 2h1v1h-1zM37 2h1v1h-1zM42 2h1v1h-1zM2 3h2v1h-2zM46 3h1v1h-1zM3 4h1v1h-1zM16 4h1v1h-1zM21 4h1v1h-1zM38 4h1v1h-1zM42 4h2v1h-2zM9 5h1v1h-1zM16 5h2v1h-2zM28 5h1v1h-1zM33 5h2v1h-2zM1 6h1v1h-1zM10 6h1v1h-1zM14 6h1v1h-1zM16 6h1v1h-1zM18 6h1v1h-1zM29 6h1v1h-1zM34 6h1v1h-1zM37 6h1v1h-1zM40 6h2v1h-2zM43 6h1v1h-1zM46 6h1v1h-1zM0 7h1v1h-1zM6 7h1v1h-1zM15 7h1v1h-1zM17 7h2v1h-2zM24 7h1v1h-1zM38 7h1v1h-1zM40 7h2v1h-2zM48 7h1v1h-1zM3 8h1v1h-1zM5 8h1v1h-1zM11 8h1v1h-1zM39 8h2v1h-2zM47 8h1v1h-1zM0 9h1v1h-1zM11 9h1v1h-1zM15 9h1v1h-1zM21 9h1v1h-1zM23 9h1v1h-1zM26 9h1v1h-1zM43 9h1v1h-1zM47 9h1v1h-1zM15 10h1v1h-1zM22 10h1v1h-1zM24 10h1v1h-1zM31 10h1v1h-1zM35 10h2v1h-2zM39 10h1v1h-1zM25 11h1v1h-1zM28 11h1v1h-1zM41 11h1v1h-1zM10 12h1v1h-1zM16 12h1v1h-1zM32 12h2v1h-2zM37 12h1v1h-1zM40 12h1v1h-1zM45 12h1v1h-1zM5 13h1v1h-1zM15 13h1v1h-1zM20 13h1v1h-1zM22 13h1v1h-1zM28 13h1v1h-1zM40 13h1v1h-1zM45 13h1v1h-1zM48 13h1v1h-1zM11 14h1v1h-1zM15 14h1v1h-1zM18 14h1v1h-1zM21 14h1v1h-1zM44 14h1v1h-1zM1 15h1v1h-1zM10 15h2v1h-2zM15 15h2v1h-2zM37 15h1v1h-1zM47 15h1v1h-1zM14 16h1v1h-1zM19 16h1v1h-1zM39 16h1v1h-1zM0 17h1v1h-1zM19 17h1v1h-1zM21 17h1v1h-1zM27 17h1v1h-1zM29 17h1v1h-1zM45 17h1v1h-1zM47 17h1v1h-1zM6 18h1v1h-1zM26 18h1v1h-1zM6 19h1v1h-1zM13 19h1v1h-1zM28 19h1v1h-1zM30 19h1v1h-1zM33 19h1v1h-1zM36 19h1v1h-1zM0 21h1v1h-1zM6 21h1v1h-1zM9 21h1v1h-1zM13 21h1v1h-1zM17 21h1v1h-1zM22 21h1v1h-1zM27 21h2v1h-2zM43 21h1v1h-1zM48 21h1v1h-1zM8 22h1v1h-1zM17 22h1v1h-1zM21 22h1v1h-1zM27 22h2v1h-2zM31 22h1v1h-1zM34 22h1v1h-1zM40 22h1v1h-1zM43 22h1v1h-1zM46 22h1v1h-1zM48 22h1v1h-1zM42 23h1v1h-1zM48 23h1v1h-1zM6 25h2v1h-2zM9 25h1v1h-1zM19 25h3v1h-3zM34 25h1v1h-1zM44 25h1v1h-1zM47 25h1v1h-1zM16 27h1v1h-1zM33 27h1v1h-1zM35 27h1v1h-1zM1 30h1v1h-1zM16 30h1v1h-1zM22 30h1v1h-1zM38 30h3v1h-3zM1 31h1v1h-1zM14 31h1v1h-1zM28 31h3v1h-3zM33 31h1v1h-1zM45 31h1v1h-1z"/><path fill="#2a2a70" d="M15 0h1v1h-1zM29 0h1v1h-1zM8 1h1v1h-1zM3 2h1v1h-1zM19 2h1v1h-1zM24 2h1v1h-1zM23 3h1v1h-1zM37 3h2v1h-2zM43 3h2v1h-2zM6 4h1v1h-1zM20 4h1v1h-1zM35 5h1v1h-1zM41 5h1v1h-1zM11 6h1v1h-1zM28 6h1v1h-1zM48 6h1v1h-1zM1 7h1v1h-1zM29 7h1v1h-1zM10 8h1v1h-1zM17 8h1v1h-1zM25 8h1v1h-1zM31 8h1v1h-1zM33 8h1v1h-1zM19 9h1v1h-1zM34 9h1v1h-1zM38 10h1v1h-1zM2 11h1v1h-1zM4 11h2v1h-2zM7 11h1v1h-1zM9 11h1v1h-1zM19 11h1v1h-1zM31 11h1v1h-1zM37 11h1v1h-1zM7 12h1v1h-1zM14 12h1v1h-1zM21 12h1v1h-1zM23 12h1v1h-1zM41 12h1v1h-1zM16 13h1v1h-1zM0 14h1v1h-1zM3 14h1v1h-1zM6 14h1v1h-1zM28 14h1v1h-1zM30 14h1v1h-1zM40 14h1v1h-1zM0 15h1v1h-1zM8 15h1v1h-1zM20 15h1v1h-1zM29 15h1v1h-1zM39 15h1v1h-1zM45 15h1v1h-1zM5 16h1v1h-1zM26 16h1v1h-1zM45 16h1v1h-1zM15 17h1v1h-1zM17 17h1v1h-1zM37 17h2v1h-2zM4 18h1v1h-1zM9 18h1v1h-1zM33 18h1v1h-1zM36 18h1v1h-1zM15 19h1v1h-1zM35 19h1v1h-1zM41 19h1v1h-1zM14 20h1v1h-1zM20 20h1v1h-1zM22 20h1v1h-1zM24 20h1v1h-1zM43 20h1v1h-1zM10 21h1v1h-1zM14 21h1v1h-1zM11 22h1v1h-1zM20 22h1v1h-1zM38 22h1v1h-1zM1 24h1v1h-1zM8 24h1v1h-1zM13 24h5v1h-5zM19 24h3v1h-3zM23 24h1v1h-1zM28 24h1v1h-1zM43 24h1v1h-1zM45 24h1v1h-1zM1 26h1v1h-1zM4 26h1v1h-1zM16 26h1v1h-1zM18 26h1v1h-1zM20 26h1v1h-1zM24 26h2v1h-2zM28 26h3v1h-3zM39 26h1v1h-1zM42 26h1v1h-1zM45 26h1v1h-1zM48 26h1v1h-1zM26 27h1v1h-1zM34 27h1v1h-1zM46 27h1v1h-1zM0 28h1v1h-1zM2 28h1v1h-1zM9 28h1v1h-1zM24 28h1v1h-1zM31 28h1v1h-1zM42 28h1v1h-1zM45 28h1v1h-1zM47 28h1v1h-1zM3 29h1v1h-1zM5 29h2v1h-2zM13 29h1v1h-1zM15 29h1v1h-1zM21 29h1v1h-1zM24 29h1v1h-1zM26 29h1v1h-1zM33 29h1v1h-1zM37 29h1v1h-1zM15 30h1v1h-1zM0 31h1v1h-1zM13 31h1v1h-1zM25 31h1v1h-1zM37 31h1v1h-1z"/><path fill="#383870" d="M16 0h1v1h-1zM19 0h1v1h-1zM25 0h1v1h-1zM0 1h1v1h-1zM13 3h1v1h-1zM23 4h1v1h-1zM47 7h1v1h-1zM37 8h1v1h-1zM39 9h1v1h-1zM35 12h1v1h-1zM44 12h1v1h-1zM37 16h1v1h-1zM18 17h1v1h-1zM41 17h1v1h-1zM40 18h1v1h-1zM20 19h1v1h-1zM33 21h1v1h-1zM38 21h1v1h-1zM41 21h1v1h-1zM16 22h1v1h-1zM45 22h1v1h-1zM36 23h1v1h-1zM28 25h1v1h-1zM41 30h1v1h-1zM3 31h1v1h-1zM39 31h1v1h-1zM42 31h2v1h-2z"/><path fill="#2a2a62" d="M18 0h1v1h-1zM32 0h1v1h-1zM14 1h1v1h-1zM28 1h1v1h-1zM40 1h1v1h-1zM20 2h1v1h-1zM10 4h1v1h-1zM18 4h1v1h-1zM10 5h1v1h-1zM42 5h1v1h-1zM38 6h1v1h-1zM32 9h1v1h-1zM4 10h1v1h-1zM45 10h1v1h-1zM36 11h1v1h-1zM43 11h1v1h-1zM6 12h1v1h-1zM34 12h1v1h-1zM23 14h1v1h-1zM43 15h1v1h-1zM9 16h1v1h-1zM0 20h1v1h-1zM10 20h1v1h-1zM6 24h1v1h-1zM26 24h1v1h-1zM24 25h1v1h-1zM27 25h1v1h-1zM11 26h1v1h-1zM32 26h1v1h-1zM10 28h1v1h-1zM21 28h3v1h-3zM36 28h1v1h-1zM46 28h1v1h-1zM11 29h1v1h-1zM22 29h1v1h-1zM40 29h1v1h-1zM47 29h1v1h-1zM3 30h1v1h-1zM24 31h1v1h-1zM41 31h1v1h-1zM44 31h1v1h-1z"/><path fill="#545454" d="M21 0h1v1h-1zM29 1h1v1h-1zM43 1h2v1h-2zM46 2h1v1h-1zM29 3h1v1h-1zM41 3h1v1h-1zM7 4h1v1h-1zM19 4h1v1h-1zM22 4h1v1h-1zM12 5h1v1h-1zM48 8h1v1h-1zM1 9h1v1h-1zM40 10h1v1h-1zM30 12h1v1h-1zM12 14h1v1h-1zM21 16h1v1h-1zM28 17h1v1h-1zM35 17h1v1h-1zM42 19h1v1h-1zM40 21h1v1h-1zM12 22h1v1h-1zM19 22h1v1h-1zM5 25h1v1h-1zM40 25h1v1h-1zM43 25h1v1h-1zM1 28h1v1h-1zM20 30h1v1h-1zM40 31h1v1h-1z"/><path fill="#545446" d="M27 0h1v1h-1zM42 1h1v1h-1zM4 2h1v1h-1zM33 2h1v1h-1zM38 2h1v1h-1zM14 3h1v1h-1zM28 3h1v1h-1zM47 3h1v1h-1zM30 4h1v1h-1zM2 5h1v1h-1zM8 6h1v1h-1zM17 6h1v1h-1zM47 6h1v1h-1zM32 7h1v1h-1zM12 8h1v1h-1zM46 8h1v1h-1zM7 9h1v1h-1zM42 9h1v1h-1zM0 10h1v1h-1zM11 10h1v1h-1zM43 10h1v1h-1zM21 11h2v1h-2zM34 11h1v1h-1zM47 11h1v1h-1zM0 12h1v1h-1zM11 12h1v1h-1zM13 12h1v1h-1zM15 12h1v1h-1zM30 13h1v1h-1zM42 13h1v1h-1zM13 14h1v1h-1zM36 14h1v1h-1zM14 15h1v1h-1zM33 15h1v1h-1zM35 15h1v1h-1zM2 16h1v1h-1zM18 16h1v1h-1zM35 16h1v1h-1zM40 16h1v1h-1zM2 17h1v1h-1zM5 17h1v1h-1zM36 17h1v1h-1zM8 18h1v1h-1zM25 18h1v1h-1zM21 19h1v1h-1zM34 20h1v1h-1zM39 20h1v1h-1zM41 20h2v1h-2zM7 21h1v1h-1zM24 21h1v1h-1zM45 21h1v1h-1zM25 22h1v1h-1zM47 22h1v1h-1zM6 23h1v1h-1zM31 23h1v1h-1zM33 23h1v1h-1zM37 23h1v1h-1zM46 23h1v1h-1zM40 24h1v1h-1zM3 25h1v1h-1zM31 25h1v1h-1zM5 27h1v1h-1zM31 27h1v1h-1zM4 28h1v1h-1zM41 28h1v1h-1zM29 29h1v1h-1zM41 29h1v1h-1zM19 30h1v1h-1zM21 30h1v1h-1zM37 30h1v1h-1z"/><path fill="#626262" d="M30 0h1v1h-1zM10 1h1v1h-1zM9 2h1v1h-1zM16 2h1v1h-1zM44 8h1v1h-1zM17 12h1v1h-1zM12 19h1v1h-1zM9 20h1v1h-1zM17 20h1v1h-1zM26 20h1v1h-1zM5 22h1v1h-1zM36 24h1v1h-1zM31 26h1v1h-1zM18 28h2v1h-2zM44 28h1v1h-1zM12 29h1v1h-1zM18 29h1v1h-1zM27 29h1v1h-1zM35 29h1v1h-1zM44 29h1v1h-1zM46 29h1v1h-1z"/><path fill="#8c7e2a" d="M35 0h1v1h-1zM23 1h1v1h-1zM42 8h1v1h-1zM6 15h1v1h-1zM10 16h1v1h-1zM4 30h1v1h-1z"/><path fill="#7e7e2a" d="M36 0h1v1h-1zM12 2h1v1h-1zM31 2h1v1h-1zM24 3h1v1h-1zM27 3h1v1h-1zM47 5h1v1h-1zM3 7h1v1h-1zM18 11h1v1h-1zM20 11h1v1h-1zM20 23h1v1h-1z"/><path fill="#464670" d="M37 0h1v1h-1zM44 2h2v1h-2zM25 4h1v1h-1zM38 9h1v1h-1zM15 25h1v1h-1zM36 30h1v1h-1zM46 30h1v1h-1z"/><path fill="#383846" d="M39 0h1v1h-1zM12 4h1v1h-1zM35 13h1v1h-1zM8 17h1v1h-1zM12 25h1v1h-1zM23 31h1v1h-1z"/><path fill="#707046" d="M3 1h1v1h-1zM18 3h1v1h-1zM0 5h1v1h-1zM15 5h1v1h-1zM46 5h1v1h-1zM32 11h1v1h-1zM42 15h1v1h-1zM41 16h1v1h-1zM6 17h1v1h-1zM10 17h1v1h-1zM42 18h1v1h-1zM29 19h1v1h-1zM43 23h1v1h-1z"/><path fill="#384670" d="M6 1h1v1h-1zM20 1h1v1h-1zM34 8h1v1h-1zM36 8h1v1h-1zM29 9h1v1h-1zM36 9h1v1h-1zM16 11h1v1h-1zM48 11h1v1h-1zM4 14h1v1h-1zM11 18h1v1h-1zM13 22h1v1h-1zM44 30h1v1h-1zM4 31h1v1h-1zM16 31h1v1h-1z"/><path fill="#1c1c38" d="M7 1h1v1h-1zM2 2h1v1h-1zM3 5h1v1h-1zM11 7h1v1h-1zM16 7h1v1h-1zM18 8h1v1h-1zM18 9h1v1h-1zM35 9h1v1h-1zM40 26h1v1h-1z"/><path fill="#546246" d="M12 1h1v1h-1zM24 4h1v1h-1zM46 4h1v1h-1zM16 8h1v1h-1zM13 15h1v1h-1zM13 17h1v1h-1zM22 17h1v1h-1zM25 23h1v1h-1zM12 27h1v1h-1zM14 27h1v1h-1zM25 30h1v1h-1zM32 30h1v1h-1z"/><path fill="#1c1c54" d="M32 1h1v1h-1zM45 5h1v1h-1zM15 8h1v1h-1zM46 17h1v1h-1zM2 20h2v1h-2zM5 20h1v1h-1zM8 20h1v1h-1zM16 20h1v1h-1zM21 20h1v1h-1zM25 20h1v1h-1zM28 20h1v1h-1zM36 20h1v1h-1zM40 20h1v1h-1zM44 20h1v1h-1zM3 24h2v1h-2zM10 24h2v1h-2zM37 24h2v1h-2zM46 24h1v1h-1zM0 26h1v1h-1zM5 26h1v1h-1zM8 26h1v1h-1zM13 26h3v1h-3zM19 26h1v1h-1zM21 26h1v1h-1zM36 26h1v1h-1zM38 26h1v1h-1zM46 26h1v1h-1zM3 27h1v1h-1zM28 27h1v1h-1zM7 29h1v1h-1zM19 29h2v1h-2z"/><path fill="#1c2a46" d="M35 1h1v1h-1zM27 9h1v1h-1zM48 16h1v1h-1zM17 19h1v1h-1z"/><path fill="#54462a" d="M46 1h1v1h-1zM26 23h1v1h-1z"/><path fill="#1c1c46" d="M5 2h1v1h-1zM34 3h1v1h-1zM25 6h1v1h-1zM27 8h1v1h-1zM44 15h1v1h-1zM22 19h1v1h-1zM13 20h1v1h-1zM31 24h1v1h-1zM10 26h1v1h-1zM17 26h1v1h-1zM27 26h1v1h-1zM34 26h1v1h-1zM37 26h1v1h-1zM41 26h1v1h-1zM17 28h1v1h-1zM29 28h1v1h-1zM14 29h1v1h-1zM42 29h1v1h-1zM6 30h1v1h-1z"/><path fill="#9a9a2a" d="M15 2h1v1h-1zM19 3h1v1h-1zM14 11h1v1h-1zM13 13h1v1h-1zM31 15h1v1h-1zM46 15h1v1h-1z"/><path fill="#46461c" d="M21 2h1v1h-1zM30 5h1v1h-1zM14 9h1v1h-1zM12 17h1v1h-1z"/><path fill="#54541c" d="M36 2h1v1h-1zM45 4h1v1h-1zM9 6h1v1h-1zM2 19h1v1h-1zM47 19h1v1h-1zM21 23h1v1h-1z"/><path fill="#2a2a7e" d="M40 2h1v1h-1zM9 4h1v1h-1zM4 5h1v1h-1zM20 5h1v1h-1zM37 5h1v1h-1zM14 13h1v1h-1zM27 14h1v1h-1zM36 15h1v1h-1zM19 20h1v1h-1zM23 20h1v1h-1zM27 20h1v1h-1zM29 20h1v1h-1zM47 20h1v1h-1zM34 23h1v1h-1zM9 24h1v1h-1zM18 24h1v1h-1zM22 24h1v1h-1zM30 24h1v1h-1zM41 24h1v1h-1zM10 25h1v1h-1zM17 29h1v1h-1zM32 29h1v1h-1zM17 31h1v1h-1z"/><path fill="#627046" d="M26 3h1v1h-1zM29 18h1v1h-1zM34 21h1v1h-1zM46 25h1v1h-1z"/><path fill="#2a2a38" d="M42 3h1v1h-1zM29 12h1v1h-1zM27 15h1v1h-1zM26 30h1v1h-1z"/><path fill="#8c8c54" d="M8 4h1v1h-1zM39 5h1v1h-1z"/><path fill="#626254" d="M14 4h1v1h-1zM32 28h1v1h-1z"/><path fill="#2a3846" d="M35 4h1v1h-1zM4 12h1v1h-1z"/><path fill="#1c1c2a" d="M23 5h1v1h-1z"/><path fill="#464646" d="M26 5h1v1h-1zM3 9h1v1h-1zM1 27h1v1h-1z"/><path fill="#54542a" d="M31 5h1v1h-1zM44 6h1v1h-1zM26 11h1v1h-1zM42 22h1v1h-1zM27 23h1v1h-1zM3 26h1v1h-1z"/><path fill="#2a387e" d="M40 5h1v1h-1zM15 6h1v1h-1zM4 8h1v1h-1zM1 10h1v1h-1zM12 16h1v1h-1zM39 18h1v1h-1zM4 20h1v1h-1zM11 20h2v1h-2zM33 20h1v1h-1zM33 24h1v1h-1zM44 24h1v1h-1zM47 24h1v1h-1zM9 26h1v1h-1zM26 26h1v1h-1zM6 28h1v1h-1zM11 28h1v1h-1zM37 28h1v1h-1zM43 28h1v1h-1zM48 28h1v1h-1zM1 29h1v1h-1zM16 29h1v1h-1z"/><path fill="#383854" d="M4 6h1v1h-1zM7 27h1v1h-1z"/><path fill="#38388c" d="M13 6h1v1h-1zM15 20h1v1h-1zM48 20h1v1h-1zM24 24h1v1h-1zM43 26h2v1h-2zM16 28h1v1h-1zM28 29h1v1h-1z"/><path fill="#62621c" d="M21 6h1v1h-1zM26 17h1v1h-1zM42 25h1v1h-1z"/><path fill="#545470" d="M31 6h1v1h-1z"/><path fill="#7e8c54" d="M30 8h1v1h-1zM18 23h1v1h-1z"/><path fill="#2a2a46" d="M20 9h1v1h-1zM37 9h1v1h-1zM27 10h1v1h-1zM1 13h1v1h-1zM18 13h1v1h-1zM46 31h2v1h-2z"/><path fill="#0e0e0e" d="M46 9h1v1h-1zM24 11h1v1h-1zM2 23h1v1h-1zM16 23h1v1h-1z"/><path fill="#0e0e1c" d="M7 10h1v1h-1z"/><path fill="#7e7e1c" d="M30 10h1v1h-1zM21 13h1v1h-1z"/><path fill="#545438" d="M28 12h1v1h-1zM38 20h1v1h-1zM46 20h1v1h-1zM1 21h1v1h-1zM0 29h1v1h-1z"/><path fill="#544638" d="M9 13h1v1h-1zM19 18h1v1h-1z"/><path fill="#0e0e2a" d="M12 13h1v1h-1zM32 20h1v1h-1zM38 28h1v1h-1z"/><path fill="#70701c" d="M29 13h1v1h-1z"/><path fill="#46462a" d="M37 14h1v1h-1zM4 23h1v1h-1z"/><path fill="#707e54" d="M30 16h1v1h-1zM47 27h1v1h-1z"/><path fill="#384646" d="M43 17h1v1h-1z"/><path fill="#546270" d="M14 18h1v1h-1z"/><path fill="#1c2a38" d="M40 19h1v1h-1z"/><path fill="#1c1c62" d="M1 20h1v1h-1zM18 20h1v1h-1zM0 24h1v1h-1zM5 24h1v1h-1zM7 24h1v1h-1zM12 24h1v1h-1zM34 24h2v1h-2zM48 24h1v1h-1zM22 26h1v1h-1zM35 26h1v1h-1zM34 28h1v1h-1z"/><path fill="#1c2a62" d="M6 20h2v1h-2zM30 20h1v1h-1zM32 23h1v1h-1zM32 24h1v1h-1zM6 26h1v1h-1zM4 29h1v1h-1zM29 30h1v1h-1z"/><path fill="#1c0e38" d="M31 20h1v1h-1zM37 20h1v1h-1zM12 26h1v1h-1zM23 26h1v1h-1zM47 26h1v1h-1zM33 28h1v1h-1zM35 28h1v1h-1z"/><path fill="#38469a" d="M35 20h1v1h-1zM45 20h1v1h-1zM38 29h1v1h-1z"/><path fill="#626270" d="M31 21h1v1h-1zM5 28h1v1h-1z"/><path fill="#465470" d="M22 23h1v1h-1z"/><path fill="#7e7e54" d="M44 23h1v1h-1z"/><path fill="#2a1c46" d="M2 24h1v1h-1z"/><path fill="#2a388c" d="M27 24h1v1h-1zM29 24h1v1h-1zM8 25h1v1h-1zM2 26h1v1h-1zM40 28h1v1h-1zM48 31h1v1h-1z"/><path fill="#0e0e38" d="M39 24h1v1h-1zM7 26h1v1h-1z"/><path fill="#2a2a54" d="M19 31h1v1h-1z"/></g>
<g transform="translate(90.90 381.00) scale(1.0333 8.6250)" shape-rendering="crispEdges"><path fill="#c4c42a" d="M0 0h1v1h-1zM1 9h1v1h-1zM8 15h1v1h-1zM0 25h1v1h-1z"/><path fill="#38389a" d="M1 0h1v1h-1zM3 0h1v1h-1zM3 1h1v1h-1zM1 2h1v1h-1zM5 2h2v1h-2zM1 3h2v1h-2zM5 3h1v1h-1zM11 3h1v1h-1zM7 4h1v1h-1zM3 5h1v1h-1zM11 5h1v1h-1zM1 6h2v1h-2zM4 6h1v1h-1zM1 7h1v1h-1zM6 7h1v1h-1zM9 7h2v1h-2zM3 8h1v1h-1zM7 8h1v1h-1zM1 10h3v1h-3zM5 10h1v1h-1zM9 10h1v1h-1zM8 11h1v1h-1zM3 12h1v1h-1zM6 12h3v1h-3zM3 13h1v1h-1zM5 13h1v1h-1zM0 14h3v1h-3zM5 14h1v1h-1zM8 14h2v1h-2zM0 16h1v1h-1zM3 16h1v1h-1zM7 16h1v1h-1zM9 16h1v1h-1zM1 17h3v1h-3zM4 18h1v1h-1zM7 18h1v1h-1zM6 19h1v1h-1zM10 19h1v1h-1zM2 21h1v1h-1zM3 22h1v1h-1zM1 23h1v1h-1zM10 23h1v1h-1zM5 27h1v1h-1zM11 27h1v1h-1zM5 29h2v1h-2zM6 30h1v1h-1zM9 30h1v1h-1zM10 31h1v1h-1z"/><path fill="#627070" d="M2 0h1v1h-1zM10 0h2v1h-2zM0 1h1v1h-1zM4 1h1v1h-1zM6 1h1v1h-1zM8 1h1v1h-1zM10 1h1v1h-1zM2 2h1v1h-1zM4 2h1v1h-1zM7 2h2v1h-2zM3 3h2v1h-2zM6 3h1v1h-1zM9 3h2v1h-2zM1 4h1v1h-1zM5 4h1v1h-1zM8 4h1v1h-1zM10 4h1v1h-1zM6 5h1v1h-1zM10 5h1v1h-1zM0 6h1v1h-1zM9 6h2v1h-2zM2 7h1v1h-1zM8 7h1v1h-1zM2 8h1v1h-1zM5 8h1v1h-1zM0 9h1v1h-1zM6 9h1v1h-1zM8 9h2v1h-2zM0 10h1v1h-1zM6 10h1v1h-1zM11 10h1v1h-1zM1 11h1v1h-1zM3 11h1v1h-1zM1 12h1v1h-1zM11 12h1v1h-1zM0 13h1v1h-1zM2 13h1v1h-1zM4 13h1v1h-1zM6 14h1v1h-1zM3 15h3v1h-3zM7 15h1v1h-1zM9 15h2v1h-2zM1 16h2v1h-2zM4 16h2v1h-2zM8 16h1v1h-1zM10 16h1v1h-1zM6 17h1v1h-1zM8 17h1v1h-1zM2 18h1v1h-1zM9 18h1v1h-1zM2 19h1v1h-1zM5 19h1v1h-1zM0 21h1v1h-1zM3 21h1v1h-1zM5 21h1v1h-1zM10 21h1v1h-1zM1 22h1v1h-1zM5 22h1v1h-1zM10 22h1v1h-1zM2 23h1v1h-1zM11 23h1v1h-1zM1 25h1v1h-1zM5 25h1v1h-1zM7 25h2v1h-2zM1 27h1v1h-1zM6 27h2v1h-2zM10 27h1v1h-1zM6 28h1v1h-1zM2 29h1v1h-1zM4 29h1v1h-1zM0 30h1v1h-1zM2 30h1v1h-1zM7 30h1v1h-1zM3 31h1v1h-1z"/><path fill="#8c9a54" d="M4 0h1v1h-1zM5 1h1v1h-1zM10 2h1v1h-1zM0 3h1v1h-1zM9 4h1v1h-1zM2 5h1v1h-1zM4 5h1v1h-1zM3 6h1v1h-1zM5 6h1v1h-1zM0 8h2v1h-2zM8 8h1v1h-1zM7 9h1v1h-1zM11 9h1v1h-1zM2 12h1v1h-1zM4 12h2v1h-2zM9 13h1v1h-1zM11 14h1v1h-1zM2 15h1v1h-1zM11 15h1v1h-1zM0 17h1v1h-1zM7 17h1v1h-1zM10 17h1v1h-1zM1 18h1v1h-1zM6 18h1v1h-1zM8 19h1v1h-1zM8 21h1v1h-1zM0 22h1v1h-1zM6 22h1v1h-1zM0 23h1v1h-1zM4 23h1v1h-1zM9 23h1v1h-1zM3 25h1v1h-1zM10 25h2v1h-2zM8 27h1v1h-1zM5 30h1v1h-1zM8 30h1v1h-1zM2 31h1v1h-1zM6 31h1v1h-1z"/><path fill="#383870" d="M5 0h1v1h-1zM8 0h1v1h-1zM11 1h1v1h-1zM4 10h1v1h-1zM10 11h1v1h-1zM2 27h1v1h-1z"/><path fill="#2a2a62" d="M6 0h1v1h-1zM0 5h1v1h-1zM10 10h1v1h-1zM2 11h1v1h-1zM1 19h1v1h-1zM6 20h1v1h-1zM1 28h1v1h-1zM10 29h1v1h-1zM7 31h1v1h-1z"/><path fill="#546246" d="M7 0h1v1h-1zM0 11h1v1h-1zM8 13h1v1h-1zM11 16h1v1h-1zM3 30h1v1h-1z"/><path fill="#1c1c54" d="M9 0h1v1h-1zM0 20h1v1h-1zM2 20h1v1h-1zM9 20h2v1h-2zM4 24h2v1h-2zM9 24h1v1h-1zM11 26h1v1h-1zM11 28h1v1h-1zM1 29h1v1h-1z"/><path fill="#627046" d="M1 1h1v1h-1zM6 25h1v1h-1z"/><path fill="#545454" d="M2 1h1v1h-1zM0 2h1v1h-1zM9 11h1v1h-1zM0 18h1v1h-1zM3 18h1v1h-1zM6 21h1v1h-1zM2 28h1v1h-1zM4 31h1v1h-1z"/><path fill="#626246" d="M7 1h1v1h-1zM7 3h1v1h-1zM11 4h1v1h-1zM7 5h1v1h-1zM9 12h1v1h-1zM7 13h1v1h-1zM1 15h1v1h-1zM6 15h1v1h-1zM1 21h1v1h-1zM0 27h1v1h-1z"/><path fill="#8c8c2a" d="M9 1h1v1h-1zM11 2h1v1h-1zM4 4h1v1h-1zM3 19h1v1h-1zM9 27h1v1h-1z"/><path fill="#2a2a70" d="M3 2h1v1h-1zM8 3h1v1h-1zM3 4h1v1h-1zM9 5h1v1h-1zM3 7h1v1h-1zM4 8h1v1h-1zM5 9h1v1h-1zM8 10h1v1h-1zM4 11h1v1h-1zM0 12h1v1h-1zM3 14h2v1h-2zM10 14h1v1h-1zM0 15h1v1h-1zM11 19h1v1h-1zM3 20h2v1h-2zM4 21h1v1h-1zM7 21h1v1h-1zM3 23h1v1h-1zM2 24h1v1h-1zM10 24h1v1h-1zM0 26h1v1h-1zM5 26h2v1h-2zM3 27h1v1h-1zM7 28h1v1h-1zM0 29h1v1h-1zM3 29h1v1h-1z"/><path fill="#545446" d="M9 2h1v1h-1zM6 6h1v1h-1zM11 6h1v1h-1zM5 11h2v1h-2zM11 11h1v1h-1zM1 13h1v1h-1zM6 13h1v1h-1zM10 13h1v1h-1zM6 16h1v1h-1zM11 17h1v1h-1zM5 18h1v1h-1zM8 18h1v1h-1zM10 18h1v1h-1zM4 19h1v1h-1zM11 21h1v1h-1zM8 23h1v1h-1zM9 29h1v1h-1zM9 31h1v1h-1z"/><path fill="#2a3870" d="M0 4h1v1h-1zM4 7h1v1h-1zM6 8h1v1h-1zM11 8h1v1h-1zM4 9h1v1h-1zM10 9h1v1h-1zM4 17h1v1h-1zM9 17h1v1h-1zM4 22h1v1h-1zM9 22h1v1h-1zM7 23h1v1h-1zM4 25h1v1h-1zM1 30h1v1h-1zM5 31h1v1h-1z"/><path fill="#8c8c38" d="M2 4h1v1h-1z"/><path fill="#2a2a38" d="M6 4h1v1h-1zM1 5h1v1h-1zM8 6h1v1h-1z"/><path fill="#464670" d="M5 5h1v1h-1z"/><path fill="#546254" d="M8 5h1v1h-1zM11 22h1v1h-1zM6 23h1v1h-1zM10 28h1v1h-1zM7 29h1v1h-1z"/><path fill="#70701c" d="M7 6h1v1h-1zM5 7h1v1h-1zM10 30h1v1h-1z"/><path fill="#8c7e2a" d="M0 7h1v1h-1z"/><path fill="#8c8c54" d="M7 7h1v1h-1z"/><path fill="#2a387e" d="M11 7h1v1h-1zM6 24h2v1h-2zM11 24h1v1h-1zM10 26h1v1h-1zM0 28h1v1h-1zM3 28h1v1h-1zM11 29h1v1h-1zM11 30h1v1h-1z"/><path fill="#707046" d="M9 8h1v1h-1zM7 10h1v1h-1zM11 18h1v1h-1zM0 19h1v1h-1zM4 30h1v1h-1z"/><path fill="#2a2a7e" d="M10 8h1v1h-1zM7 20h1v1h-1zM0 24h1v1h-1zM7 26h1v1h-1zM0 31h1v1h-1z"/><path fill="#9a9a2a" d="M2 9h1v1h-1z"/><path fill="#464646" d="M3 9h1v1h-1z"/><path fill="#2a2a46" d="M7 11h1v1h-1zM11 13h1v1h-1z"/><path fill="#384670" d="M10 12h1v1h-1zM8 22h1v1h-1zM4 27h1v1h-1zM11 31h1v1h-1z"/><path fill="#1c2a46" d="M7 14h1v1h-1z"/><path fill="#54541c" d="M5 17h1v1h-1zM9 19h1v1h-1zM9 21h1v1h-1z"/><path fill="#1c1c46" d="M7 19h1v1h-1zM5 20h1v1h-1zM5 28h1v1h-1zM8 29h1v1h-1z"/><path fill="#1c1c62" d="M1 20h1v1h-1z"/><path fill="#1c0e38" d="M8 20h1v1h-1zM8 24h1v1h-1zM4 26h1v1h-1z"/><path fill="#545438" d="M11 20h1v1h-1z"/><path fill="#7e7e2a" d="M2 22h1v1h-1zM7 22h1v1h-1zM2 25h1v1h-1z"/><path fill="#46462a" d="M5 23h1v1h-1z"/><path fill="#0e0e2a" d="M1 24h1v1h-1z"/><path fill="#2a388c" d="M3 24h1v1h-1zM2 26h1v1h-1zM4 28h1v1h-1zM8 28h1v1h-1zM1 31h1v1h-1z"/><path fill="#626262" d="M9 25h1v1h-1z"/><path fill="#0e0e38" d="M1 26h1v1h-1zM3 26h1v1h-1zM9 28h1v1h-1z"/><path fill="#1c2a54" d="M8 26h1v1h-1z"/><path fill="#1c2a62" d="M9 26h1v1h-1z"/><path fill="#546270" d="M8 31h1v1h-1z"/></g>
<g transform="translate(104.00 381.00) scale(0.9935 8.6250)" shape-rendering="crispEdges"><path fill="#2a2a54" d="M0 0h1v1h-1zM5 12h1v1h-1zM5 14h1v1h-1zM17 21h1v1h-1z"/><path fill="#38389a" d="M1 0h1v1h-1zM3 0h2v1h-2zM6 0h1v1h-1zM8 0h1v1h-1zM21 0h1v1h-1zM23 0h2v1h-2zM29 0h1v1h-1zM2 1h2v1h-2zM6 1h1v1h-1zM10 1h1v1h-1zM12 1h1v1h-1zM15 1h2v1h-2zM20 1h1v1h-1zM2 2h1v1h-1zM7 2h1v1h-1zM10 2h1v1h-1zM18 2h1v1h-1zM22 2h1v1h-1zM24 2h1v1h-1zM28 2h1v1h-1zM30 2h1v1h-1zM9 3h2v1h-2zM15 3h2v1h-2zM24 3h1v1h-1zM26 3h1v1h-1zM28 3h1v1h-1zM10 4h1v1h-1zM14 4h1v1h-1zM26 4h1v1h-1zM7 5h1v1h-1zM9 5h2v1h-2zM17 5h1v1h-1zM20 5h1v1h-1zM22 5h1v1h-1zM24 5h1v1h-1zM29 5h1v1h-1zM0 6h1v1h-1zM3 6h1v1h-1zM7 6h1v1h-1zM9 6h1v1h-1zM11 6h1v1h-1zM14 6h1v1h-1zM27 6h1v1h-1zM2 7h1v1h-1zM7 7h1v1h-1zM10 7h1v1h-1zM12 7h1v1h-1zM16 7h2v1h-2zM5 8h2v1h-2zM10 8h1v1h-1zM18 8h1v1h-1zM20 8h1v1h-1zM30 8h1v1h-1zM1 9h1v1h-1zM3 9h2v1h-2zM8 9h1v1h-1zM10 9h1v1h-1zM12 9h1v1h-1zM14 9h1v1h-1zM21 9h1v1h-1zM29 9h1v1h-1zM1 10h1v1h-1zM8 10h3v1h-3zM14 10h2v1h-2zM23 10h1v1h-1zM24 11h1v1h-1zM2 12h2v1h-2zM9 12h1v1h-1zM17 12h1v1h-1zM19 12h1v1h-1zM30 12h1v1h-1zM10 13h1v1h-1zM12 13h2v1h-2zM20 13h1v1h-1zM23 13h4v1h-4zM3 14h1v1h-1zM7 14h1v1h-1zM12 14h1v1h-1zM18 14h1v1h-1zM20 14h1v1h-1zM24 14h1v1h-1zM29 14h2v1h-2zM4 15h2v1h-2zM12 15h1v1h-1zM14 15h1v1h-1zM20 15h1v1h-1zM22 15h1v1h-1zM2 16h1v1h-1zM4 16h1v1h-1zM6 16h1v1h-1zM9 16h1v1h-1zM20 16h1v1h-1zM27 16h2v1h-2zM30 16h1v1h-1zM4 17h2v1h-2zM16 17h1v1h-1zM20 17h1v1h-1zM23 17h1v1h-1zM26 17h1v1h-1zM29 17h2v1h-2zM2 18h1v1h-1zM4 18h1v1h-1zM6 18h1v1h-1zM12 18h1v1h-1zM17 18h1v1h-1zM29 18h1v1h-1zM16 19h1v1h-1zM21 19h1v1h-1zM30 19h1v1h-1zM5 21h1v1h-1zM10 21h2v1h-2zM13 21h1v1h-1zM15 21h2v1h-2zM18 21h2v1h-2zM21 21h1v1h-1zM25 21h1v1h-1zM29 21h2v1h-2zM4 22h2v1h-2zM8 22h1v1h-1zM15 22h1v1h-1zM21 22h1v1h-1zM23 22h2v1h-2zM26 22h2v1h-2zM30 22h1v1h-1zM4 23h1v1h-1zM12 23h1v1h-1zM14 23h1v1h-1zM16 23h1v1h-1zM19 23h1v1h-1zM21 23h2v1h-2zM25 23h1v1h-1zM27 23h1v1h-1zM2 25h4v1h-4zM7 25h1v1h-1zM11 25h1v1h-1zM15 25h1v1h-1zM19 25h1v1h-1zM21 25h2v1h-2zM29 25h1v1h-1zM1 27h1v1h-1zM4 27h1v1h-1zM6 27h1v1h-1zM8 27h1v1h-1zM13 27h1v1h-1zM20 27h1v1h-1zM23 27h1v1h-1zM25 27h1v1h-1zM27 27h1v1h-1zM30 27h1v1h-1zM0 28h1v1h-1zM7 28h1v1h-1zM1 29h1v1h-1zM5 29h2v1h-2zM20 29h1v1h-1zM3 30h1v1h-1zM10 30h1v1h-1zM12 30h3v1h-3zM22 30h1v1h-1zM25 30h1v1h-1zM4 31h1v1h-1zM12 31h1v1h-1zM17 31h1v1h-1zM20 31h1v1h-1zM22 31h3v1h-3zM26 31h1v1h-1z"/><path fill="#545454" d="M2 0h1v1h-1zM1 2h1v1h-1zM6 2h1v1h-1zM5 5h1v1h-1zM19 7h1v1h-1zM4 10h1v1h-1zM16 12h1v1h-1zM21 13h1v1h-1zM24 17h1v1h-1zM5 19h1v1h-1zM9 20h1v1h-1zM10 23h1v1h-1zM26 23h1v1h-1zM8 30h1v1h-1zM20 30h1v1h-1z"/><path fill="#627070" d="M5 0h1v1h-1zM16 0h1v1h-1zM19 0h1v1h-1zM0 1h2v1h-2zM4 1h1v1h-1zM8 1h1v1h-1zM17 1h1v1h-1zM25 1h3v1h-3zM3 2h1v1h-1zM16 2h1v1h-1zM21 2h1v1h-1zM23 2h1v1h-1zM27 2h1v1h-1zM1 3h3v1h-3zM7 3h1v1h-1zM11 3h1v1h-1zM19 3h2v1h-2zM23 3h1v1h-1zM25 3h1v1h-1zM29 3h1v1h-1zM0 4h1v1h-1zM8 4h1v1h-1zM11 4h1v1h-1zM13 4h1v1h-1zM16 4h2v1h-2zM19 4h1v1h-1zM21 4h1v1h-1zM23 4h1v1h-1zM28 4h1v1h-1zM12 5h1v1h-1zM18 5h1v1h-1zM25 5h1v1h-1zM27 5h1v1h-1zM4 6h2v1h-2zM8 6h1v1h-1zM10 6h1v1h-1zM13 6h1v1h-1zM17 6h2v1h-2zM20 6h3v1h-3zM28 6h1v1h-1zM30 6h1v1h-1zM3 7h1v1h-1zM5 7h2v1h-2zM8 7h1v1h-1zM20 7h1v1h-1zM24 7h2v1h-2zM30 7h1v1h-1zM1 8h1v1h-1zM3 8h1v1h-1zM11 8h1v1h-1zM14 8h2v1h-2zM19 8h1v1h-1zM22 8h1v1h-1zM24 8h2v1h-2zM28 8h1v1h-1zM0 9h1v1h-1zM2 9h1v1h-1zM6 9h1v1h-1zM20 9h1v1h-1zM24 9h4v1h-4zM30 9h1v1h-1zM2 10h2v1h-2zM7 10h1v1h-1zM11 10h1v1h-1zM13 10h1v1h-1zM18 10h1v1h-1zM20 10h1v1h-1zM22 10h1v1h-1zM29 10h1v1h-1zM0 11h1v1h-1zM3 11h1v1h-1zM5 11h3v1h-3zM15 11h1v1h-1zM19 11h1v1h-1zM22 11h2v1h-2zM27 11h1v1h-1zM29 11h1v1h-1zM13 12h3v1h-3zM18 12h1v1h-1zM20 12h1v1h-1zM26 12h2v1h-2zM29 12h1v1h-1zM3 13h1v1h-1zM5 13h1v1h-1zM7 13h1v1h-1zM11 13h1v1h-1zM16 13h1v1h-1zM19 13h1v1h-1zM28 13h1v1h-1zM30 13h1v1h-1zM1 14h1v1h-1zM8 14h4v1h-4zM14 14h1v1h-1zM21 14h3v1h-3zM25 14h2v1h-2zM3 15h1v1h-1zM11 15h1v1h-1zM15 15h1v1h-1zM18 15h2v1h-2zM23 15h2v1h-2zM26 15h1v1h-1zM30 15h1v1h-1zM1 16h1v1h-1zM3 16h1v1h-1zM11 16h1v1h-1zM14 16h1v1h-1zM18 16h2v1h-2zM22 16h1v1h-1zM24 16h1v1h-1zM0 17h2v1h-2zM14 17h1v1h-1zM17 17h2v1h-2zM21 17h1v1h-1zM7 18h1v1h-1zM9 18h1v1h-1zM11 18h1v1h-1zM13 18h4v1h-4zM18 18h1v1h-1zM27 18h2v1h-2zM4 19h1v1h-1zM10 19h1v1h-1zM14 19h1v1h-1zM23 19h1v1h-1zM27 19h1v1h-1zM0 21h4v1h-4zM6 21h4v1h-4zM12 21h1v1h-1zM14 21h1v1h-1zM22 21h1v1h-1zM26 21h2v1h-2zM9 22h2v1h-2zM13 22h1v1h-1zM19 22h1v1h-1zM22 22h1v1h-1zM0 23h1v1h-1zM2 23h2v1h-2zM9 23h1v1h-1zM17 23h2v1h-2zM23 23h1v1h-1zM30 23h1v1h-1zM15 24h1v1h-1zM30 24h1v1h-1zM0 25h1v1h-1zM20 25h1v1h-1zM30 25h1v1h-1zM0 27h1v1h-1zM2 27h2v1h-2zM5 27h1v1h-1zM9 27h1v1h-1zM11 27h1v1h-1zM18 27h1v1h-1zM24 27h1v1h-1zM28 27h1v1h-1zM22 28h1v1h-1zM8 29h1v1h-1zM13 29h1v1h-1zM0 30h1v1h-1zM6 30h1v1h-1zM15 30h2v1h-2zM21 30h1v1h-1zM26 30h1v1h-1zM28 30h1v1h-1zM1 31h1v1h-1zM3 31h1v1h-1zM5 31h1v1h-1zM8 31h1v1h-1zM10 31h1v1h-1zM13 31h1v1h-1zM21 31h1v1h-1zM25 31h1v1h-1zM29 31h2v1h-2z"/><path fill="#1c1c46" d="M7 0h1v1h-1zM20 0h1v1h-1zM5 1h1v1h-1zM29 2h1v1h-1zM0 8h1v1h-1zM10 11h1v1h-1zM7 12h1v1h-1zM13 16h1v1h-1zM0 20h1v1h-1zM10 20h1v1h-1zM13 20h1v1h-1zM18 20h1v1h-1zM4 21h1v1h-1zM28 24h1v1h-1zM14 25h1v1h-1zM0 26h1v1h-1zM7 26h1v1h-1zM25 26h1v1h-1zM2 28h2v1h-2zM17 28h1v1h-1zM25 28h1v1h-1zM5 30h1v1h-1zM15 31h1v1h-1z"/><path fill="#8c9a54" d="M9 0h1v1h-1zM13 0h1v1h-1zM26 0h1v1h-1zM11 1h1v1h-1zM28 1h1v1h-1zM4 2h1v1h-1zM8 2h1v1h-1zM15 2h1v1h-1zM20 2h1v1h-1zM25 2h1v1h-1zM0 3h1v1h-1zM5 3h1v1h-1zM14 3h1v1h-1zM5 4h1v1h-1zM9 4h1v1h-1zM18 4h1v1h-1zM27 4h1v1h-1zM1 5h1v1h-1zM11 5h1v1h-1zM13 5h1v1h-1zM15 5h1v1h-1zM28 5h1v1h-1zM30 5h1v1h-1zM1 6h1v1h-1zM6 6h1v1h-1zM15 6h1v1h-1zM19 6h1v1h-1zM25 6h1v1h-1zM29 6h1v1h-1zM4 7h1v1h-1zM9 7h1v1h-1zM21 7h2v1h-2zM29 7h1v1h-1zM9 8h1v1h-1zM13 8h1v1h-1zM5 9h1v1h-1zM15 9h1v1h-1zM17 9h2v1h-2zM22 9h1v1h-1zM19 10h1v1h-1zM25 10h1v1h-1zM2 11h1v1h-1zM8 11h1v1h-1zM14 11h1v1h-1zM16 11h2v1h-2zM25 11h1v1h-1zM6 12h1v1h-1zM22 12h1v1h-1zM1 13h1v1h-1zM14 13h1v1h-1zM29 13h1v1h-1zM2 15h1v1h-1zM17 15h1v1h-1zM25 15h1v1h-1zM17 16h1v1h-1zM29 16h1v1h-1zM7 17h4v1h-4zM27 17h1v1h-1zM1 18h1v1h-1zM1 19h2v1h-2zM2 22h1v1h-1zM17 22h1v1h-1zM28 22h2v1h-2zM8 23h1v1h-1zM13 23h1v1h-1zM29 23h1v1h-1zM8 25h1v1h-1zM13 25h1v1h-1zM24 25h1v1h-1zM16 28h1v1h-1zM26 29h1v1h-1zM18 30h1v1h-1zM2 31h1v1h-1zM27 31h1v1h-1z"/><path fill="#2a2a62" d="M10 0h1v1h-1zM27 0h2v1h-2zM30 0h1v1h-1zM13 2h1v1h-1zM1 4h1v1h-1zM23 8h1v1h-1zM16 10h1v1h-1zM12 11h1v1h-1zM9 13h1v1h-1zM10 15h1v1h-1zM23 16h1v1h-1zM23 18h1v1h-1zM7 19h1v1h-1zM12 19h1v1h-1zM20 19h1v1h-1zM23 20h1v1h-1zM7 22h1v1h-1zM6 24h1v1h-1zM10 24h1v1h-1zM9 25h1v1h-1zM3 26h1v1h-1zM14 26h1v1h-1zM28 26h2v1h-2z"/><path fill="#2a3854" d="M11 0h1v1h-1zM26 7h1v1h-1z"/><path fill="#2a3870" d="M12 0h1v1h-1zM17 0h1v1h-1zM30 1h1v1h-1zM17 3h1v1h-1zM27 3h1v1h-1zM2 5h1v1h-1zM14 5h1v1h-1zM7 8h1v1h-1zM7 9h1v1h-1zM5 10h1v1h-1zM4 11h1v1h-1zM17 13h1v1h-1zM27 13h1v1h-1zM15 14h1v1h-1zM21 15h1v1h-1zM15 16h1v1h-1zM21 16h1v1h-1zM18 22h1v1h-1zM1 23h1v1h-1zM23 25h1v1h-1zM15 27h1v1h-1zM17 27h1v1h-1zM27 30h1v1h-1z"/><path fill="#545446" d="M14 0h2v1h-2zM9 2h1v1h-1zM11 2h2v1h-2zM12 3h2v1h-2zM2 4h1v1h-1zM6 4h1v1h-1zM12 4h1v1h-1zM22 4h1v1h-1zM0 5h1v1h-1zM0 7h1v1h-1zM18 7h1v1h-1zM27 7h2v1h-2zM29 8h1v1h-1zM13 9h1v1h-1zM19 9h1v1h-1zM12 10h1v1h-1zM17 10h1v1h-1zM27 10h1v1h-1zM11 11h1v1h-1zM1 12h1v1h-1zM19 14h1v1h-1zM8 15h1v1h-1zM10 16h1v1h-1zM13 17h1v1h-1zM25 18h1v1h-1zM9 19h1v1h-1zM22 19h1v1h-1zM12 20h1v1h-1zM20 21h1v1h-1zM23 21h1v1h-1zM28 21h1v1h-1zM0 22h1v1h-1zM5 23h1v1h-1zM24 23h1v1h-1zM3 24h1v1h-1zM19 24h1v1h-1zM10 25h1v1h-1zM20 26h1v1h-1zM7 27h1v1h-1zM24 28h1v1h-1zM6 31h2v1h-2zM9 31h1v1h-1zM16 31h1v1h-1z"/><path fill="#546246" d="M18 0h1v1h-1zM11 9h1v1h-1zM21 10h1v1h-1zM27 15h1v1h-1zM25 17h1v1h-1zM20 18h1v1h-1zM28 19h1v1h-1zM12 22h1v1h-1zM4 30h1v1h-1z"/><path fill="#383870" d="M22 0h1v1h-1zM9 1h1v1h-1zM22 3h1v1h-1zM3 4h2v1h-2zM7 4h1v1h-1zM15 4h1v1h-1zM30 4h1v1h-1zM21 8h1v1h-1zM21 12h1v1h-1zM0 13h1v1h-1zM6 13h1v1h-1zM22 13h1v1h-1zM0 19h1v1h-1zM17 19h1v1h-1zM7 23h1v1h-1zM15 23h1v1h-1zM26 25h1v1h-1zM29 30h2v1h-2zM14 31h1v1h-1z"/><path fill="#465470" d="M25 0h1v1h-1zM6 5h1v1h-1zM16 6h1v1h-1z"/><path fill="#2a2a70" d="M7 1h1v1h-1zM19 1h1v1h-1zM14 2h1v1h-1zM17 2h1v1h-1zM26 2h1v1h-1zM8 3h1v1h-1zM30 3h1v1h-1zM20 4h1v1h-1zM29 4h1v1h-1zM21 5h1v1h-1zM23 6h1v1h-1zM11 7h1v1h-1zM23 7h1v1h-1zM17 8h1v1h-1zM23 9h1v1h-1zM0 10h1v1h-1zM6 10h1v1h-1zM28 11h1v1h-1zM30 11h1v1h-1zM11 12h2v1h-2zM24 12h1v1h-1zM28 12h1v1h-1zM18 13h1v1h-1zM2 14h1v1h-1zM1 15h1v1h-1zM28 15h1v1h-1zM12 16h1v1h-1zM3 17h1v1h-1zM15 17h1v1h-1zM19 17h1v1h-1zM28 17h1v1h-1zM10 18h1v1h-1zM11 19h1v1h-1zM24 19h1v1h-1zM1 20h1v1h-1zM5 20h1v1h-1zM7 20h1v1h-1zM14 20h1v1h-1zM20 20h2v1h-2zM24 21h1v1h-1zM1 22h1v1h-1zM11 22h1v1h-1zM14 22h1v1h-1zM28 23h1v1h-1zM5 24h1v1h-1zM13 24h1v1h-1zM21 24h1v1h-1zM27 24h1v1h-1zM29 24h1v1h-1zM12 25h1v1h-1zM18 25h1v1h-1zM27 25h2v1h-2zM19 26h1v1h-1zM22 26h1v1h-1zM19 27h1v1h-1zM19 28h1v1h-1zM23 28h1v1h-1zM28 28h1v1h-1zM0 29h1v1h-1zM15 29h2v1h-2zM29 29h2v1h-2zM7 30h1v1h-1zM9 30h1v1h-1zM24 30h1v1h-1z"/><path fill="#626246" d="M13 1h1v1h-1zM18 1h1v1h-1zM24 6h1v1h-1zM13 7h2v1h-2zM2 8h1v1h-1zM16 8h1v1h-1zM16 9h1v1h-1zM0 12h1v1h-1zM8 12h1v1h-1zM15 13h1v1h-1zM28 14h1v1h-1zM6 15h1v1h-1zM19 18h1v1h-1zM8 19h1v1h-1zM25 19h1v1h-1zM17 25h1v1h-1zM10 27h1v1h-1zM21 27h1v1h-1zM2 30h1v1h-1zM11 31h1v1h-1z"/><path fill="#626262" d="M14 1h1v1h-1zM0 18h1v1h-1zM16 24h2v1h-2zM24 24h1v1h-1zM6 26h1v1h-1zM4 28h1v1h-1zM18 28h1v1h-1zM29 28h1v1h-1zM2 29h1v1h-1zM25 29h1v1h-1zM28 29h1v1h-1z"/><path fill="#1c1c54" d="M21 1h1v1h-1zM3 20h2v1h-2zM6 20h1v1h-1zM11 20h1v1h-1zM16 20h1v1h-1zM19 20h1v1h-1zM28 20h1v1h-1zM6 23h1v1h-1zM0 24h1v1h-1zM2 24h1v1h-1zM4 24h1v1h-1zM8 24h2v1h-2zM20 24h1v1h-1zM1 26h1v1h-1zM5 26h1v1h-1zM8 26h1v1h-1zM11 26h1v1h-1zM23 26h1v1h-1zM8 28h1v1h-1zM11 29h2v1h-2zM23 29h1v1h-1z"/><path fill="#707046" d="M22 1h1v1h-1zM5 2h1v1h-1zM27 8h1v1h-1zM13 14h1v1h-1zM2 17h1v1h-1zM0 31h1v1h-1z"/><path fill="#384670" d="M23 1h1v1h-1zM4 3h1v1h-1zM25 4h1v1h-1zM8 5h1v1h-1zM12 8h1v1h-1zM20 11h1v1h-1zM2 13h1v1h-1zM16 15h1v1h-1zM6 19h1v1h-1zM18 19h1v1h-1zM16 25h1v1h-1zM25 25h1v1h-1zM26 27h1v1h-1zM1 30h1v1h-1z"/><path fill="#c4c42a" d="M24 1h1v1h-1zM18 3h1v1h-1zM24 4h1v1h-1zM6 14h1v1h-1zM8 18h1v1h-1zM26 18h1v1h-1zM30 18h1v1h-1zM29 19h1v1h-1zM14 27h1v1h-1zM11 30h1v1h-1zM19 30h1v1h-1z"/><path fill="#546254" d="M29 1h1v1h-1zM0 2h1v1h-1zM19 2h1v1h-1zM6 3h1v1h-1zM24 10h1v1h-1zM25 16h1v1h-1zM12 26h1v1h-1zM26 26h1v1h-1zM12 28h1v1h-1zM14 29h1v1h-1z"/><path fill="#2a2a38" d="M21 3h1v1h-1zM9 9h1v1h-1zM26 10h1v1h-1zM26 16h1v1h-1zM25 22h1v1h-1z"/><path fill="#8c8c2a" d="M3 5h1v1h-1zM26 5h1v1h-1zM28 10h1v1h-1zM26 11h1v1h-1zM12 17h1v1h-1zM19 19h1v1h-1zM6 25h1v1h-1z"/><path fill="#464670" d="M4 5h1v1h-1zM19 5h1v1h-1zM17 14h1v1h-1zM16 22h1v1h-1zM20 23h1v1h-1z"/><path fill="#9a9a2a" d="M16 5h1v1h-1z"/><path fill="#707e46" d="M23 5h1v1h-1zM10 12h1v1h-1zM0 16h1v1h-1z"/><path fill="#2a2a46" d="M2 6h1v1h-1zM21 11h1v1h-1zM16 14h1v1h-1zM26 24h1v1h-1z"/><path fill="#627046" d="M12 6h1v1h-1zM18 11h1v1h-1zM0 15h1v1h-1zM15 19h1v1h-1zM1 25h1v1h-1zM18 31h1v1h-1z"/><path fill="#8c8c38" d="M26 6h1v1h-1zM3 22h1v1h-1z"/><path fill="#2a387e" d="M1 7h1v1h-1zM1 11h1v1h-1zM4 14h1v1h-1zM5 16h1v1h-1zM22 18h1v1h-1zM8 20h1v1h-1zM15 20h1v1h-1zM22 20h1v1h-1zM30 20h1v1h-1zM1 24h1v1h-1zM7 24h1v1h-1zM14 24h1v1h-1zM22 24h1v1h-1zM24 26h1v1h-1zM27 26h1v1h-1zM22 27h1v1h-1zM26 28h1v1h-1zM7 29h1v1h-1zM10 29h1v1h-1zM19 29h1v1h-1zM28 31h1v1h-1z"/><path fill="#1c2a38" d="M15 7h1v1h-1z"/><path fill="#1c1c38" d="M4 8h1v1h-1zM13 11h1v1h-1zM9 15h1v1h-1zM29 15h1v1h-1zM6 17h1v1h-1zM20 22h1v1h-1zM12 27h1v1h-1z"/><path fill="#46461c" d="M8 8h1v1h-1zM23 12h1v1h-1zM25 12h1v1h-1z"/><path fill="#707e54" d="M26 8h1v1h-1z"/><path fill="#383846" d="M28 9h1v1h-1zM0 14h1v1h-1zM13 19h1v1h-1z"/><path fill="#1c2a54" d="M30 10h1v1h-1zM16 26h1v1h-1zM4 29h1v1h-1z"/><path fill="#62621c" d="M9 11h1v1h-1zM7 15h1v1h-1zM11 17h1v1h-1zM24 18h1v1h-1z"/><path fill="#46462a" d="M4 12h1v1h-1zM7 16h1v1h-1z"/><path fill="#54541c" d="M4 13h1v1h-1zM29 27h1v1h-1z"/><path fill="#2a2a7e" d="M8 13h1v1h-1zM27 14h1v1h-1zM5 18h1v1h-1zM26 19h1v1h-1zM2 20h1v1h-1zM23 24h1v1h-1zM2 26h1v1h-1zM30 26h1v1h-1zM16 27h1v1h-1zM5 28h1v1h-1zM9 28h1v1h-1zM13 28h1v1h-1zM21 28h1v1h-1zM9 29h1v1h-1zM18 29h1v1h-1zM23 30h1v1h-1zM19 31h1v1h-1z"/><path fill="#464646" d="M13 15h1v1h-1zM6 22h1v1h-1z"/><path fill="#1c1c1c" d="M8 16h1v1h-1z"/><path fill="#545470" d="M16 16h1v1h-1zM3 18h1v1h-1z"/><path fill="#2a3846" d="M22 17h1v1h-1z"/><path fill="#2a388c" d="M21 18h1v1h-1zM29 20h1v1h-1zM4 26h1v1h-1zM10 26h1v1h-1zM11 28h1v1h-1zM14 28h1v1h-1zM17 29h1v1h-1zM24 29h1v1h-1z"/><path fill="#545438" d="M3 19h1v1h-1zM3 29h1v1h-1z"/><path fill="#38469a" d="M17 20h1v1h-1zM9 26h1v1h-1z"/><path fill="#0e0e38" d="M24 20h2v1h-2zM18 24h1v1h-1z"/><path fill="#1c1c62" d="M26 20h2v1h-2zM25 24h1v1h-1zM21 26h1v1h-1zM6 28h1v1h-1zM27 29h1v1h-1z"/><path fill="#7e7e54" d="M11 23h1v1h-1z"/><path fill="#38388c" d="M11 24h1v1h-1zM1 28h1v1h-1zM15 28h1v1h-1zM22 29h1v1h-1z"/><path fill="#1c2a62" d="M12 24h1v1h-1zM15 26h1v1h-1zM18 26h1v1h-1zM10 28h1v1h-1zM27 28h1v1h-1z"/><path fill="#1c0e38" d="M13 26h1v1h-1zM17 26h1v1h-1z"/><path fill="#626270" d="M20 28h1v1h-1zM21 29h1v1h-1z"/><path fill="#544638" d="M30 28h1v1h-1z"/><path fill="#7e7e2a" d="M17 30h1v1h-1z"/></g>
<g transform="translate(135.50 381.00) scale(1.0051 8.6250)" shape-rendering="crispEdges"><path fill="#627070" d="M0 0h3v1h-3zM5 0h1v1h-1zM16 0h1v1h-1zM20 0h1v1h-1zM24 0h1v1h-1zM29 0h1v1h-1zM33 0h1v1h-1zM36 0h1v1h-1zM38 0h1v1h-1zM51 0h1v1h-1zM5 1h1v1h-1zM18 1h1v1h-1zM28 1h1v1h-1zM35 1h1v1h-1zM38 1h1v1h-1zM53 1h1v1h-1zM55 1h1v1h-1zM58 1h1v1h-1zM4 2h1v1h-1zM13 2h1v1h-1zM24 2h1v1h-1zM37 2h1v1h-1zM46 2h1v1h-1zM0 3h1v1h-1zM4 3h1v1h-1zM9 3h1v1h-1zM20 3h1v1h-1zM31 3h1v1h-1zM47 3h1v1h-1zM54 3h1v1h-1zM57 3h1v1h-1zM11 4h1v1h-1zM22 4h1v1h-1zM32 4h1v1h-1zM39 4h1v1h-1zM48 4h1v1h-1zM13 5h1v1h-1zM33 5h1v1h-1zM37 5h1v1h-1zM39 5h1v1h-1zM52 5h1v1h-1zM55 5h1v1h-1zM9 6h1v1h-1zM13 6h1v1h-1zM17 6h1v1h-1zM21 6h1v1h-1zM29 6h1v1h-1zM43 6h1v1h-1zM45 6h1v1h-1zM48 6h1v1h-1zM50 6h1v1h-1zM53 6h1v1h-1zM1 7h1v1h-1zM5 7h1v1h-1zM10 7h1v1h-1zM12 7h1v1h-1zM17 7h1v1h-1zM30 7h1v1h-1zM34 7h2v1h-2zM40 7h2v1h-2zM43 7h1v1h-1zM38 8h1v1h-1zM41 8h1v1h-1zM45 8h1v1h-1zM48 8h1v1h-1zM53 8h1v1h-1zM4 9h1v1h-1zM10 9h1v1h-1zM12 9h1v1h-1zM37 9h1v1h-1zM42 9h1v1h-1zM52 9h1v1h-1zM54 9h2v1h-2zM26 10h1v1h-1zM29 10h1v1h-1zM43 10h1v1h-1zM56 10h1v1h-1zM19 11h1v1h-1zM27 11h1v1h-1zM41 11h1v1h-1zM3 12h1v1h-1zM27 12h1v1h-1zM29 12h1v1h-1zM36 12h1v1h-1zM0 13h1v1h-1zM30 13h1v1h-1zM5 14h2v1h-2zM14 14h1v1h-1zM30 14h1v1h-1zM38 14h1v1h-1zM41 14h1v1h-1zM46 14h1v1h-1zM52 14h1v1h-1zM58 14h1v1h-1zM19 15h2v1h-2zM24 15h1v1h-1zM38 15h1v1h-1zM50 15h1v1h-1zM54 15h2v1h-2zM0 16h1v1h-1zM2 16h1v1h-1zM7 16h1v1h-1zM10 16h1v1h-1zM13 16h1v1h-1zM18 16h1v1h-1zM20 16h1v1h-1zM23 16h1v1h-1zM33 16h1v1h-1zM35 16h1v1h-1zM48 16h2v1h-2zM6 17h1v1h-1zM9 17h1v1h-1zM27 17h1v1h-1zM40 17h1v1h-1zM47 17h1v1h-1zM1 18h3v1h-3zM11 18h2v1h-2zM35 18h1v1h-1zM57 18h1v1h-1zM5 19h1v1h-1zM18 19h1v1h-1zM24 19h1v1h-1zM27 19h1v1h-1zM32 19h1v1h-1zM34 19h1v1h-1zM46 19h1v1h-1zM50 19h1v1h-1zM52 19h1v1h-1zM55 19h1v1h-1zM58 19h1v1h-1zM1 21h1v1h-1zM31 21h1v1h-1zM39 22h2v1h-2zM0 23h1v1h-1zM17 23h1v1h-1zM23 23h1v1h-1zM28 23h1v1h-1zM39 23h1v1h-1zM10 25h1v1h-1zM24 25h1v1h-1zM28 25h1v1h-1zM37 25h1v1h-1zM48 25h1v1h-1zM53 25h1v1h-1zM9 27h1v1h-1zM27 27h1v1h-1zM29 27h1v1h-1zM38 27h1v1h-1zM53 27h1v1h-1zM11 28h1v1h-1zM20 28h1v1h-1zM26 28h1v1h-1zM36 28h1v1h-1zM23 29h1v1h-1zM13 30h1v1h-1zM8 31h1v1h-1zM40 31h2v1h-2zM55 31h1v1h-1z"/><path fill="#38389a" d="M3 0h1v1h-1zM9 0h1v1h-1zM17 0h1v1h-1zM23 0h1v1h-1zM28 0h1v1h-1zM32 0h1v1h-1zM34 0h2v1h-2zM43 0h2v1h-2zM47 0h3v1h-3zM52 0h1v1h-1zM54 0h1v1h-1zM56 0h1v1h-1zM1 1h3v1h-3zM6 1h2v1h-2zM10 1h1v1h-1zM13 1h1v1h-1zM15 1h1v1h-1zM17 1h1v1h-1zM25 1h1v1h-1zM32 1h3v1h-3zM36 1h2v1h-2zM39 1h2v1h-2zM47 1h1v1h-1zM49 1h1v1h-1zM2 2h1v1h-1zM5 2h1v1h-1zM8 2h2v1h-2zM14 2h1v1h-1zM19 2h1v1h-1zM23 2h1v1h-1zM30 2h1v1h-1zM36 2h1v1h-1zM39 2h2v1h-2zM42 2h1v1h-1zM51 2h2v1h-2zM55 2h1v1h-1zM1 3h1v1h-1zM3 3h1v1h-1zM7 3h1v1h-1zM10 3h1v1h-1zM19 3h1v1h-1zM21 3h1v1h-1zM23 3h3v1h-3zM27 3h1v1h-1zM34 3h1v1h-1zM37 3h5v1h-5zM43 3h1v1h-1zM52 3h2v1h-2zM55 3h2v1h-2zM1 4h1v1h-1zM3 4h2v1h-2zM6 4h1v1h-1zM8 4h1v1h-1zM10 4h1v1h-1zM12 4h1v1h-1zM15 4h2v1h-2zM18 4h1v1h-1zM20 4h1v1h-1zM24 4h1v1h-1zM31 4h1v1h-1zM34 4h1v1h-1zM38 4h1v1h-1zM42 4h4v1h-4zM52 4h6v1h-6zM1 5h3v1h-3zM5 5h1v1h-1zM7 5h1v1h-1zM14 5h4v1h-4zM19 5h1v1h-1zM21 5h1v1h-1zM25 5h1v1h-1zM27 5h1v1h-1zM29 5h1v1h-1zM35 5h1v1h-1zM40 5h1v1h-1zM42 5h1v1h-1zM45 5h3v1h-3zM53 5h2v1h-2zM0 6h5v1h-5zM6 6h1v1h-1zM15 6h1v1h-1zM18 6h2v1h-2zM24 6h2v1h-2zM27 6h2v1h-2zM30 6h1v1h-1zM33 6h2v1h-2zM37 6h1v1h-1zM40 6h3v1h-3zM51 6h1v1h-1zM54 6h1v1h-1zM56 6h1v1h-1zM0 7h1v1h-1zM2 7h3v1h-3zM6 7h1v1h-1zM8 7h2v1h-2zM11 7h1v1h-1zM14 7h3v1h-3zM20 7h2v1h-2zM24 7h4v1h-4zM29 7h1v1h-1zM31 7h1v1h-1zM37 7h3v1h-3zM44 7h1v1h-1zM46 7h2v1h-2zM49 7h1v1h-1zM51 7h3v1h-3zM0 8h1v1h-1zM2 8h1v1h-1zM5 8h1v1h-1zM7 8h1v1h-1zM9 8h1v1h-1zM11 8h1v1h-1zM13 8h2v1h-2zM16 8h1v1h-1zM19 8h1v1h-1zM22 8h2v1h-2zM26 8h2v1h-2zM29 8h1v1h-1zM33 8h2v1h-2zM36 8h1v1h-1zM42 8h1v1h-1zM46 8h1v1h-1zM49 8h1v1h-1zM55 8h2v1h-2zM58 8h1v1h-1zM6 9h1v1h-1zM9 9h1v1h-1zM11 9h1v1h-1zM17 9h1v1h-1zM23 9h4v1h-4zM30 9h1v1h-1zM39 9h1v1h-1zM45 9h1v1h-1zM51 9h1v1h-1zM56 9h3v1h-3zM3 10h1v1h-1zM9 10h2v1h-2zM30 10h1v1h-1zM34 10h1v1h-1zM44 10h1v1h-1zM46 10h1v1h-1zM49 10h2v1h-2zM52 10h1v1h-1zM1 11h1v1h-1zM6 11h2v1h-2zM10 11h3v1h-3zM20 11h1v1h-1zM29 11h2v1h-2zM33 11h1v1h-1zM35 11h3v1h-3zM40 11h1v1h-1zM43 11h1v1h-1zM46 11h1v1h-1zM48 11h1v1h-1zM56 11h1v1h-1zM58 11h1v1h-1zM1 12h2v1h-2zM4 12h1v1h-1zM6 12h5v1h-5zM13 12h1v1h-1zM18 12h3v1h-3zM22 12h1v1h-1zM24 12h3v1h-3zM28 12h1v1h-1zM30 12h1v1h-1zM37 12h2v1h-2zM43 12h1v1h-1zM48 12h1v1h-1zM50 12h1v1h-1zM52 12h1v1h-1zM55 12h2v1h-2zM2 13h1v1h-1zM6 13h1v1h-1zM11 13h1v1h-1zM15 13h1v1h-1zM17 13h1v1h-1zM29 13h1v1h-1zM38 13h1v1h-1zM43 13h1v1h-1zM46 13h1v1h-1zM49 13h1v1h-1zM51 13h1v1h-1zM54 13h2v1h-2zM2 14h2v1h-2zM9 14h1v1h-1zM19 14h3v1h-3zM24 14h1v1h-1zM31 14h1v1h-1zM33 14h1v1h-1zM37 14h1v1h-1zM43 14h1v1h-1zM45 14h1v1h-1zM49 14h1v1h-1zM57 14h1v1h-1zM0 15h2v1h-2zM4 15h1v1h-1zM8 15h1v1h-1zM12 15h1v1h-1zM17 15h1v1h-1zM21 15h2v1h-2zM25 15h6v1h-6zM34 15h1v1h-1zM39 15h3v1h-3zM43 15h3v1h-3zM47 15h2v1h-2zM51 15h1v1h-1zM53 15h1v1h-1zM57 15h1v1h-1zM4 16h3v1h-3zM8 16h2v1h-2zM12 16h1v1h-1zM15 16h3v1h-3zM21 16h2v1h-2zM24 16h1v1h-1zM26 16h1v1h-1zM31 16h2v1h-2zM39 16h1v1h-1zM42 16h1v1h-1zM44 16h1v1h-1zM46 16h1v1h-1zM50 16h1v1h-1zM54 16h2v1h-2zM58 16h1v1h-1zM2 17h2v1h-2zM14 17h1v1h-1zM18 17h1v1h-1zM21 17h1v1h-1zM25 17h2v1h-2zM34 17h1v1h-1zM36 17h2v1h-2zM39 17h1v1h-1zM43 17h1v1h-1zM46 17h1v1h-1zM48 17h1v1h-1zM54 17h2v1h-2zM5 18h2v1h-2zM8 18h2v1h-2zM21 18h1v1h-1zM24 18h1v1h-1zM26 18h1v1h-1zM29 18h1v1h-1zM31 18h2v1h-2zM34 18h1v1h-1zM49 18h1v1h-1zM52 18h1v1h-1zM54 18h2v1h-2zM58 18h1v1h-1zM3 19h2v1h-2zM14 19h2v1h-2zM21 19h1v1h-1zM23 19h1v1h-1zM25 19h2v1h-2zM29 19h2v1h-2zM33 19h1v1h-1zM37 19h6v1h-6zM45 19h1v1h-1zM47 19h2v1h-2zM53 19h2v1h-2zM56 19h1v1h-1zM0 21h1v1h-1zM2 21h4v1h-4zM7 21h1v1h-1zM9 21h4v1h-4zM15 21h2v1h-2zM18 21h3v1h-3zM23 21h7v1h-7zM33 21h4v1h-4zM38 21h1v1h-1zM40 21h3v1h-3zM44 21h9v1h-9zM54 21h2v1h-2zM0 22h4v1h-4zM5 22h2v1h-2zM8 22h1v1h-1zM11 22h4v1h-4zM16 22h7v1h-7zM24 22h6v1h-6zM32 22h1v1h-1zM34 22h4v1h-4zM41 22h4v1h-4zM46 22h1v1h-1zM48 22h2v1h-2zM51 22h1v1h-1zM55 22h2v1h-2zM58 22h1v1h-1zM1 23h3v1h-3zM5 23h1v1h-1zM7 23h1v1h-1zM9 23h3v1h-3zM13 23h2v1h-2zM16 23h1v1h-1zM18 23h1v1h-1zM24 23h1v1h-1zM26 23h2v1h-2zM30 23h2v1h-2zM34 23h1v1h-1zM41 23h1v1h-1zM47 23h3v1h-3zM51 23h3v1h-3zM55 23h1v1h-1zM57 23h1v1h-1zM4 25h1v1h-1zM6 25h1v1h-1zM11 25h1v1h-1zM14 25h1v1h-1zM16 25h1v1h-1zM18 25h1v1h-1zM21 25h2v1h-2zM25 25h1v1h-1zM34 25h3v1h-3zM38 25h4v1h-4zM44 25h2v1h-2zM49 25h1v1h-1zM54 25h1v1h-1zM57 25h2v1h-2zM2 26h1v1h-1zM8 27h1v1h-1zM11 27h1v1h-1zM16 27h1v1h-1zM26 27h1v1h-1zM50 27h1v1h-1zM54 27h1v1h-1zM1 28h2v1h-2zM5 28h1v1h-1zM15 28h1v1h-1zM19 28h1v1h-1zM25 28h1v1h-1zM31 28h1v1h-1zM35 28h1v1h-1zM38 28h1v1h-1zM43 28h3v1h-3zM50 28h2v1h-2zM53 28h1v1h-1zM56 28h1v1h-1zM8 29h2v1h-2zM21 29h1v1h-1zM32 29h2v1h-2zM35 29h1v1h-1zM37 29h1v1h-1zM39 29h1v1h-1zM43 29h1v1h-1zM0 30h3v1h-3zM4 30h7v1h-7zM12 30h1v1h-1zM14 30h11v1h-11zM26 30h3v1h-3zM30 30h4v1h-4zM35 30h2v1h-2zM40 30h6v1h-6zM47 30h9v1h-9zM58 30h1v1h-1zM0 31h8v1h-8zM9 31h2v1h-2zM12 31h1v1h-1zM14 31h3v1h-3zM18 31h16v1h-16zM35 31h5v1h-5zM43 31h3v1h-3zM47 31h1v1h-1zM49 31h4v1h-4zM54 31h1v1h-1zM56 31h3v1h-3z"/><path fill="#8c8c2a" d="M4 0h1v1h-1zM21 8h1v1h-1zM54 8h1v1h-1zM43 18h1v1h-1z"/><path fill="#2a2a7e" d="M6 0h2v1h-2zM39 0h1v1h-1zM42 0h1v1h-1zM57 0h1v1h-1zM29 1h1v1h-1zM29 2h1v1h-1zM54 2h1v1h-1zM13 3h2v1h-2zM44 3h1v1h-1zM27 4h1v1h-1zM33 4h1v1h-1zM50 5h1v1h-1zM56 5h1v1h-1zM5 6h1v1h-1zM11 6h1v1h-1zM16 6h1v1h-1zM20 6h1v1h-1zM35 6h1v1h-1zM54 7h1v1h-1zM14 9h1v1h-1zM21 9h1v1h-1zM8 10h1v1h-1zM15 10h1v1h-1zM31 10h1v1h-1zM50 11h1v1h-1zM16 12h1v1h-1zM8 13h1v1h-1zM20 13h1v1h-1zM37 13h1v1h-1zM58 13h1v1h-1zM1 14h1v1h-1zM26 14h2v1h-2zM34 14h1v1h-1zM40 14h1v1h-1zM42 14h1v1h-1zM54 14h1v1h-1zM10 15h1v1h-1zM13 15h1v1h-1zM16 15h1v1h-1zM19 16h1v1h-1zM34 16h1v1h-1zM0 17h1v1h-1zM19 17h1v1h-1zM4 18h1v1h-1zM14 18h1v1h-1zM22 18h2v1h-2zM36 18h1v1h-1zM2 19h1v1h-1zM43 19h1v1h-1zM11 20h1v1h-1zM36 20h1v1h-1zM8 21h1v1h-1zM14 21h1v1h-1zM17 21h1v1h-1zM39 21h1v1h-1zM4 22h1v1h-1zM52 22h1v1h-1zM54 22h1v1h-1zM6 23h1v1h-1zM32 23h1v1h-1zM36 23h1v1h-1zM43 23h1v1h-1zM7 24h1v1h-1zM10 24h1v1h-1zM44 24h1v1h-1zM12 25h1v1h-1zM26 25h1v1h-1zM29 25h1v1h-1zM32 25h1v1h-1zM42 25h1v1h-1zM51 25h1v1h-1zM9 26h2v1h-2zM19 26h1v1h-1zM31 26h1v1h-1zM44 26h1v1h-1zM7 27h1v1h-1zM34 27h1v1h-1zM36 27h1v1h-1zM39 27h1v1h-1zM47 27h2v1h-2zM56 27h1v1h-1zM14 28h1v1h-1zM24 28h1v1h-1zM39 28h1v1h-1zM49 28h1v1h-1zM57 28h1v1h-1zM4 29h2v1h-2zM7 29h1v1h-1zM13 29h1v1h-1zM24 29h1v1h-1zM55 29h1v1h-1zM17 31h1v1h-1zM42 31h1v1h-1z"/><path fill="#2a387e" d="M8 0h1v1h-1zM31 0h1v1h-1zM37 0h1v1h-1zM58 0h1v1h-1zM11 1h1v1h-1zM21 1h1v1h-1zM23 1h1v1h-1zM12 2h1v1h-1zM16 2h1v1h-1zM28 2h1v1h-1zM35 2h1v1h-1zM45 2h1v1h-1zM47 2h1v1h-1zM45 3h2v1h-2zM49 3h2v1h-2zM14 4h1v1h-1zM40 4h2v1h-2zM58 4h1v1h-1zM4 5h1v1h-1zM18 5h1v1h-1zM22 5h1v1h-1zM43 5h1v1h-1zM26 6h1v1h-1zM32 6h1v1h-1zM38 6h1v1h-1zM58 6h1v1h-1zM22 7h1v1h-1zM33 7h1v1h-1zM42 7h1v1h-1zM58 7h1v1h-1zM6 8h1v1h-1zM18 8h1v1h-1zM28 8h1v1h-1zM32 8h1v1h-1zM51 8h1v1h-1zM3 9h1v1h-1zM47 9h2v1h-2zM38 10h1v1h-1zM55 10h1v1h-1zM57 10h1v1h-1zM0 11h1v1h-1zM8 11h1v1h-1zM31 11h1v1h-1zM44 11h1v1h-1zM49 11h1v1h-1zM53 11h1v1h-1zM17 12h1v1h-1zM35 12h1v1h-1zM5 13h1v1h-1zM7 13h1v1h-1zM19 13h1v1h-1zM23 13h3v1h-3zM48 13h1v1h-1zM57 13h1v1h-1zM11 14h1v1h-1zM16 14h1v1h-1zM47 14h1v1h-1zM55 14h1v1h-1zM5 15h3v1h-3zM31 15h3v1h-3zM56 15h1v1h-1zM14 16h1v1h-1zM36 16h1v1h-1zM43 16h1v1h-1zM51 16h1v1h-1zM57 16h1v1h-1zM4 17h1v1h-1zM15 17h1v1h-1zM20 17h1v1h-1zM23 17h1v1h-1zM49 17h1v1h-1zM51 17h1v1h-1zM53 17h1v1h-1zM57 17h1v1h-1zM0 18h1v1h-1zM19 18h1v1h-1zM30 18h1v1h-1zM41 18h2v1h-2zM56 18h1v1h-1zM10 19h1v1h-1zM35 19h2v1h-2zM51 19h1v1h-1zM12 20h1v1h-1zM49 20h1v1h-1zM30 21h1v1h-1zM37 21h1v1h-1zM43 21h1v1h-1zM56 21h1v1h-1zM58 21h1v1h-1zM30 22h1v1h-1zM38 22h1v1h-1zM45 22h1v1h-1zM50 22h1v1h-1zM12 23h1v1h-1zM29 23h1v1h-1zM45 23h1v1h-1zM58 23h1v1h-1zM1 24h1v1h-1zM11 24h1v1h-1zM14 24h1v1h-1zM17 24h2v1h-2zM27 24h1v1h-1zM30 24h1v1h-1zM48 24h1v1h-1zM51 24h1v1h-1zM1 25h1v1h-1zM5 25h1v1h-1zM19 25h1v1h-1zM27 25h1v1h-1zM30 25h2v1h-2zM52 25h1v1h-1zM16 26h1v1h-1zM21 26h1v1h-1zM23 26h1v1h-1zM25 26h1v1h-1zM47 26h1v1h-1zM10 27h1v1h-1zM19 27h1v1h-1zM21 27h1v1h-1zM25 27h1v1h-1zM30 27h2v1h-2zM58 27h1v1h-1zM0 28h1v1h-1zM8 28h2v1h-2zM13 28h1v1h-1zM16 28h2v1h-2zM22 28h2v1h-2zM30 28h1v1h-1zM37 28h1v1h-1zM40 28h1v1h-1zM47 28h1v1h-1zM14 29h1v1h-1zM28 29h2v1h-2zM31 29h1v1h-1zM44 29h2v1h-2zM47 29h1v1h-1zM58 29h1v1h-1zM56 30h1v1h-1z"/><path fill="#8c9a54" d="M10 0h1v1h-1zM27 0h1v1h-1zM56 1h1v1h-1zM57 2h1v1h-1zM41 5h1v1h-1zM57 6h1v1h-1zM19 7h1v1h-1zM55 7h1v1h-1zM1 9h1v1h-1zM28 9h1v1h-1zM33 10h1v1h-1zM17 11h1v1h-1zM12 12h1v1h-1zM52 13h1v1h-1zM13 14h1v1h-1zM37 16h1v1h-1zM20 19h1v1h-1zM28 27h1v1h-1z"/><path fill="#2a2a70" d="M11 0h1v1h-1zM13 0h1v1h-1zM15 0h1v1h-1zM19 0h1v1h-1zM21 0h1v1h-1zM30 0h1v1h-1zM40 0h1v1h-1zM45 0h1v1h-1zM53 0h1v1h-1zM4 1h1v1h-1zM14 1h1v1h-1zM19 1h1v1h-1zM26 1h1v1h-1zM30 1h1v1h-1zM41 1h2v1h-2zM52 1h1v1h-1zM54 1h1v1h-1zM7 2h1v1h-1zM11 2h1v1h-1zM17 2h1v1h-1zM25 2h3v1h-3zM41 2h1v1h-1zM44 2h1v1h-1zM58 2h1v1h-1zM5 3h1v1h-1zM11 3h1v1h-1zM15 3h1v1h-1zM17 3h1v1h-1zM26 3h1v1h-1zM28 3h1v1h-1zM48 3h1v1h-1zM51 3h1v1h-1zM0 4h1v1h-1zM2 4h1v1h-1zM7 4h1v1h-1zM13 4h1v1h-1zM29 4h1v1h-1zM35 4h2v1h-2zM49 4h1v1h-1zM9 5h1v1h-1zM44 5h1v1h-1zM48 5h2v1h-2zM58 5h1v1h-1zM8 6h1v1h-1zM10 6h1v1h-1zM12 6h1v1h-1zM44 6h1v1h-1zM49 6h1v1h-1zM52 6h1v1h-1zM23 7h1v1h-1zM32 7h1v1h-1zM45 7h1v1h-1zM56 7h1v1h-1zM1 8h1v1h-1zM17 8h1v1h-1zM31 8h1v1h-1zM39 8h1v1h-1zM44 8h1v1h-1zM52 8h1v1h-1zM57 8h1v1h-1zM7 9h1v1h-1zM29 9h1v1h-1zM32 9h1v1h-1zM34 9h2v1h-2zM40 9h1v1h-1zM46 9h1v1h-1zM2 10h1v1h-1zM5 10h1v1h-1zM13 10h1v1h-1zM18 10h2v1h-2zM21 10h5v1h-5zM32 10h1v1h-1zM53 10h1v1h-1zM2 11h1v1h-1zM4 11h1v1h-1zM16 11h1v1h-1zM21 11h3v1h-3zM28 11h1v1h-1zM34 11h1v1h-1zM47 11h1v1h-1zM54 11h2v1h-2zM21 12h1v1h-1zM23 12h1v1h-1zM33 12h2v1h-2zM40 12h1v1h-1zM44 12h1v1h-1zM47 12h1v1h-1zM49 12h1v1h-1zM51 12h1v1h-1zM53 12h2v1h-2zM4 13h1v1h-1zM9 13h1v1h-1zM21 13h1v1h-1zM31 13h1v1h-1zM44 13h2v1h-2zM50 13h1v1h-1zM56 13h1v1h-1zM7 14h1v1h-1zM12 14h1v1h-1zM23 14h1v1h-1zM25 14h1v1h-1zM32 14h1v1h-1zM36 14h1v1h-1zM48 14h1v1h-1zM50 14h1v1h-1zM3 15h1v1h-1zM9 15h1v1h-1zM14 15h1v1h-1zM23 15h1v1h-1zM36 15h1v1h-1zM46 15h1v1h-1zM49 15h1v1h-1zM52 15h1v1h-1zM58 15h1v1h-1zM1 16h1v1h-1zM3 16h1v1h-1zM25 16h1v1h-1zM27 16h1v1h-1zM29 16h2v1h-2zM40 16h2v1h-2zM45 16h1v1h-1zM47 16h1v1h-1zM52 16h1v1h-1zM5 17h1v1h-1zM10 17h2v1h-2zM13 17h1v1h-1zM24 17h1v1h-1zM28 17h1v1h-1zM35 17h1v1h-1zM38 17h1v1h-1zM42 17h1v1h-1zM44 17h1v1h-1zM52 17h1v1h-1zM7 18h1v1h-1zM13 18h1v1h-1zM15 18h2v1h-2zM48 18h1v1h-1zM51 18h1v1h-1zM6 19h1v1h-1zM9 19h1v1h-1zM13 19h1v1h-1zM16 19h2v1h-2zM49 19h1v1h-1zM0 20h1v1h-1zM6 20h1v1h-1zM14 20h1v1h-1zM19 20h2v1h-2zM25 20h1v1h-1zM33 20h1v1h-1zM37 20h1v1h-1zM45 20h1v1h-1zM48 20h1v1h-1zM56 20h1v1h-1zM21 21h2v1h-2zM53 21h1v1h-1zM7 22h1v1h-1zM10 22h1v1h-1zM23 22h1v1h-1zM31 22h1v1h-1zM33 22h1v1h-1zM47 22h1v1h-1zM53 22h1v1h-1zM25 23h1v1h-1zM33 23h1v1h-1zM40 23h1v1h-1zM44 23h1v1h-1zM50 23h1v1h-1zM54 23h1v1h-1zM56 23h1v1h-1zM0 24h1v1h-1zM2 24h1v1h-1zM6 24h1v1h-1zM9 24h1v1h-1zM13 24h1v1h-1zM15 24h1v1h-1zM19 24h1v1h-1zM23 24h1v1h-1zM28 24h1v1h-1zM31 24h2v1h-2zM35 24h1v1h-1zM41 24h2v1h-2zM45 24h1v1h-1zM50 24h1v1h-1zM53 24h1v1h-1zM58 24h1v1h-1zM0 25h1v1h-1zM7 25h1v1h-1zM17 25h1v1h-1zM23 25h1v1h-1zM56 25h1v1h-1zM5 26h1v1h-1zM11 26h3v1h-3zM15 26h1v1h-1zM17 26h2v1h-2zM20 26h1v1h-1zM30 26h1v1h-1zM32 26h1v1h-1zM40 26h1v1h-1zM46 26h1v1h-1zM51 26h1v1h-1zM6 27h1v1h-1zM17 27h1v1h-1zM23 27h1v1h-1zM52 27h1v1h-1zM55 27h1v1h-1zM57 27h1v1h-1zM34 28h1v1h-1zM41 28h2v1h-2zM55 28h1v1h-1zM58 28h1v1h-1zM2 29h1v1h-1zM27 29h1v1h-1zM46 29h1v1h-1zM48 29h1v1h-1zM25 30h1v1h-1zM34 30h1v1h-1zM37 30h2v1h-2zM46 31h1v1h-1zM48 31h1v1h-1z"/><path fill="#1c2a62" d="M12 0h1v1h-1zM57 1h1v1h-1zM10 2h1v1h-1zM36 3h1v1h-1zM13 9h1v1h-1zM39 10h1v1h-1zM38 11h1v1h-1zM22 14h1v1h-1zM28 14h1v1h-1zM56 16h1v1h-1zM22 17h1v1h-1zM53 18h1v1h-1zM22 19h1v1h-1zM3 24h1v1h-1zM24 24h1v1h-1zM34 24h1v1h-1zM54 24h1v1h-1zM3 26h1v1h-1zM50 26h1v1h-1zM19 29h1v1h-1zM40 29h1v1h-1zM52 29h1v1h-1zM57 29h1v1h-1z"/><path fill="#546254" d="M14 0h1v1h-1zM25 0h1v1h-1zM45 1h1v1h-1zM48 1h1v1h-1zM20 2h1v1h-1zM34 5h1v1h-1zM51 5h1v1h-1zM14 6h1v1h-1zM3 8h1v1h-1zM2 9h1v1h-1zM20 9h1v1h-1zM36 9h1v1h-1zM44 9h1v1h-1zM20 10h1v1h-1zM11 12h1v1h-1zM40 13h1v1h-1zM2 15h1v1h-1zM18 15h1v1h-1zM11 16h1v1h-1zM8 19h1v1h-1zM4 23h1v1h-1zM15 25h1v1h-1zM4 27h2v1h-2zM33 27h1v1h-1zM45 27h2v1h-2zM50 29h1v1h-1z"/><path fill="#8c8c38" d="M18 0h1v1h-1zM5 4h1v1h-1zM8 8h1v1h-1zM47 8h1v1h-1zM50 17h1v1h-1z"/><path fill="#2a2a62" d="M22 0h1v1h-1zM26 0h1v1h-1zM27 1h1v1h-1zM21 2h1v1h-1zM33 2h1v1h-1zM49 2h1v1h-1zM8 3h1v1h-1zM29 3h1v1h-1zM58 3h1v1h-1zM23 4h1v1h-1zM46 4h2v1h-2zM30 5h1v1h-1zM36 5h1v1h-1zM57 5h1v1h-1zM23 6h1v1h-1zM39 6h1v1h-1zM57 7h1v1h-1zM15 9h1v1h-1zM22 9h1v1h-1zM31 9h1v1h-1zM41 9h1v1h-1zM41 10h1v1h-1zM13 11h1v1h-1zM24 11h1v1h-1zM45 11h1v1h-1zM10 13h1v1h-1zM13 13h1v1h-1zM18 13h1v1h-1zM32 13h1v1h-1zM42 13h1v1h-1zM53 14h1v1h-1zM16 17h1v1h-1zM32 17h1v1h-1zM56 17h1v1h-1zM10 18h1v1h-1zM27 18h1v1h-1zM1 20h1v1h-1zM22 20h3v1h-3zM27 20h1v1h-1zM35 20h1v1h-1zM41 20h2v1h-2zM44 20h1v1h-1zM47 20h1v1h-1zM51 20h2v1h-2zM6 21h1v1h-1zM15 22h1v1h-1zM22 24h1v1h-1zM29 24h1v1h-1zM39 24h1v1h-1zM47 24h1v1h-1zM0 26h1v1h-1zM4 26h1v1h-1zM22 26h1v1h-1zM24 26h1v1h-1zM27 26h1v1h-1zM33 26h1v1h-1zM48 26h1v1h-1zM1 27h2v1h-2zM15 27h1v1h-1zM37 27h1v1h-1zM42 27h2v1h-2zM33 28h1v1h-1zM54 28h1v1h-1zM0 29h1v1h-1zM16 29h1v1h-1zM36 29h1v1h-1zM51 29h1v1h-1zM53 29h1v1h-1zM11 30h1v1h-1z"/><path fill="#2a388c" d="M41 0h1v1h-1zM24 1h1v1h-1zM44 1h1v1h-1zM51 1h1v1h-1zM6 2h1v1h-1zM50 2h1v1h-1zM56 2h1v1h-1zM2 3h1v1h-1zM6 3h1v1h-1zM12 3h1v1h-1zM30 3h1v1h-1zM35 3h1v1h-1zM25 4h2v1h-2zM46 6h1v1h-1zM0 9h1v1h-1zM18 9h1v1h-1zM38 9h1v1h-1zM49 9h2v1h-2zM4 10h1v1h-1zM6 10h1v1h-1zM12 10h1v1h-1zM27 10h1v1h-1zM40 10h1v1h-1zM54 10h1v1h-1zM22 13h1v1h-1zM33 13h1v1h-1zM37 15h1v1h-1zM1 17h1v1h-1zM31 17h1v1h-1zM41 17h1v1h-1zM37 18h1v1h-1zM47 18h1v1h-1zM28 19h1v1h-1zM34 20h1v1h-1zM50 20h1v1h-1zM54 20h1v1h-1zM58 20h1v1h-1zM13 21h1v1h-1zM57 22h1v1h-1zM15 23h1v1h-1zM22 23h1v1h-1zM37 23h1v1h-1zM43 24h1v1h-1zM8 25h1v1h-1zM46 25h1v1h-1zM10 28h1v1h-1zM32 28h1v1h-1zM46 28h1v1h-1zM48 28h1v1h-1zM6 29h1v1h-1zM30 29h1v1h-1zM29 30h1v1h-1zM34 31h1v1h-1z"/><path fill="#1c1c54" d="M46 0h1v1h-1zM0 1h1v1h-1zM16 1h1v1h-1zM22 1h1v1h-1zM1 2h1v1h-1zM15 2h1v1h-1zM18 2h1v1h-1zM38 2h1v1h-1zM43 2h1v1h-1zM22 3h1v1h-1zM17 4h1v1h-1zM30 4h1v1h-1zM32 5h1v1h-1zM38 5h1v1h-1zM55 6h1v1h-1zM15 8h1v1h-1zM58 10h1v1h-1zM18 11h1v1h-1zM39 11h1v1h-1zM57 11h1v1h-1zM0 12h1v1h-1zM5 12h1v1h-1zM15 12h1v1h-1zM31 12h1v1h-1zM39 12h1v1h-1zM42 12h1v1h-1zM3 13h1v1h-1zM28 13h1v1h-1zM41 13h1v1h-1zM15 15h1v1h-1zM35 15h1v1h-1zM42 15h1v1h-1zM53 16h1v1h-1zM45 17h1v1h-1zM58 17h1v1h-1zM33 18h1v1h-1zM40 18h1v1h-1zM44 18h1v1h-1zM46 18h1v1h-1zM11 19h1v1h-1zM44 19h1v1h-1zM4 20h1v1h-1zM13 20h1v1h-1zM17 20h1v1h-1zM21 20h1v1h-1zM28 20h5v1h-5zM40 20h1v1h-1zM5 24h1v1h-1zM8 24h1v1h-1zM16 24h1v1h-1zM20 24h1v1h-1zM25 24h2v1h-2zM36 24h2v1h-2zM49 24h1v1h-1zM52 24h1v1h-1zM56 24h1v1h-1zM9 25h1v1h-1zM55 25h1v1h-1zM8 26h1v1h-1zM28 26h2v1h-2zM34 26h1v1h-1zM37 26h1v1h-1zM39 26h1v1h-1zM42 26h1v1h-1zM45 26h1v1h-1zM52 26h1v1h-1zM55 26h1v1h-1zM32 27h1v1h-1zM44 27h1v1h-1zM12 28h1v1h-1zM11 29h1v1h-1zM22 29h1v1h-1zM34 29h1v1h-1zM57 30h1v1h-1z"/><path fill="#626254" d="M50 0h1v1h-1zM55 0h1v1h-1zM51 4h1v1h-1zM28 7h1v1h-1zM11 10h1v1h-1z"/><path fill="#38388c" d="M8 1h1v1h-1zM50 1h1v1h-1zM11 5h1v1h-1zM28 5h1v1h-1zM7 6h1v1h-1zM36 7h1v1h-1zM5 9h1v1h-1zM53 9h1v1h-1zM7 10h1v1h-1zM42 10h1v1h-1zM47 10h1v1h-1zM45 12h1v1h-1zM1 13h1v1h-1zM34 13h1v1h-1zM4 14h1v1h-1zM8 14h1v1h-1zM39 14h1v1h-1zM11 15h1v1h-1zM38 16h1v1h-1zM17 18h1v1h-1zM28 18h1v1h-1zM7 19h1v1h-1zM19 19h1v1h-1zM7 20h1v1h-1zM18 20h1v1h-1zM55 20h1v1h-1zM57 21h1v1h-1zM9 22h1v1h-1zM20 23h1v1h-1zM40 24h1v1h-1zM43 25h1v1h-1zM6 26h1v1h-1zM54 26h1v1h-1zM27 28h3v1h-3zM12 29h1v1h-1zM15 29h1v1h-1zM25 29h1v1h-1zM41 29h1v1h-1zM56 29h1v1h-1zM3 30h1v1h-1zM11 31h1v1h-1z"/><path fill="#0e0e2a" d="M9 1h1v1h-1zM3 2h1v1h-1zM4 24h1v1h-1zM14 26h1v1h-1zM38 29h1v1h-1z"/><path fill="#545446" d="M12 1h1v1h-1zM46 1h1v1h-1zM48 2h1v1h-1zM53 2h1v1h-1zM16 3h1v1h-1zM9 4h1v1h-1zM23 5h1v1h-1zM26 5h1v1h-1zM13 7h1v1h-1zM4 8h1v1h-1zM25 8h1v1h-1zM1 10h1v1h-1zM17 10h1v1h-1zM25 11h1v1h-1zM32 12h1v1h-1zM26 13h1v1h-1zM35 13h1v1h-1zM7 17h1v1h-1zM33 17h1v1h-1zM57 19h1v1h-1zM19 23h1v1h-1zM22 27h1v1h-1zM51 27h1v1h-1zM6 28h1v1h-1z"/><path fill="#544638" d="M20 1h1v1h-1zM36 10h1v1h-1zM47 25h1v1h-1zM52 28h1v1h-1zM17 29h1v1h-1z"/><path fill="#545454" d="M31 1h1v1h-1zM0 2h1v1h-1zM19 4h1v1h-1zM8 9h1v1h-1zM33 9h1v1h-1zM0 10h1v1h-1zM35 10h1v1h-1zM48 10h1v1h-1zM51 11h1v1h-1zM41 12h1v1h-1zM16 13h1v1h-1zM53 13h1v1h-1zM35 14h1v1h-1zM25 18h1v1h-1zM31 19h1v1h-1zM3 25h1v1h-1zM33 25h1v1h-1zM50 25h1v1h-1zM20 27h1v1h-1zM40 27h1v1h-1zM20 29h1v1h-1zM42 29h1v1h-1z"/><path fill="#2a3870" d="M43 1h1v1h-1zM47 6h1v1h-1zM35 8h1v1h-1zM12 13h1v1h-1zM36 13h1v1h-1zM21 23h1v1h-1zM38 23h1v1h-1zM13 31h1v1h-1z"/><path fill="#38469a" d="M22 2h1v1h-1zM12 5h1v1h-1zM9 11h1v1h-1zM55 24h1v1h-1zM20 25h1v1h-1zM58 26h1v1h-1zM41 27h1v1h-1zM3 29h1v1h-1zM10 29h1v1h-1z"/><path fill="#c4c42a" d="M31 2h1v1h-1z"/><path fill="#626270" d="M32 2h1v1h-1zM37 4h1v1h-1zM31 5h1v1h-1zM36 6h1v1h-1zM45 10h1v1h-1zM1 29h1v1h-1z"/><path fill="#0e0e38" d="M34 2h1v1h-1zM29 14h1v1h-1zM3 20h1v1h-1zM26 26h1v1h-1zM41 26h1v1h-1z"/><path fill="#1c2a54" d="M18 3h1v1h-1zM35 27h1v1h-1zM26 29h1v1h-1z"/><path fill="#626262" d="M32 3h2v1h-2zM28 4h1v1h-1zM50 4h1v1h-1zM6 5h1v1h-1zM8 5h1v1h-1zM10 5h1v1h-1zM20 5h1v1h-1zM22 6h1v1h-1zM48 7h1v1h-1zM24 8h1v1h-1zM16 9h1v1h-1zM19 9h1v1h-1zM27 9h1v1h-1zM16 10h1v1h-1zM28 10h1v1h-1zM51 10h1v1h-1zM3 11h1v1h-1zM32 11h1v1h-1zM42 11h1v1h-1zM14 12h1v1h-1zM46 12h1v1h-1zM27 13h1v1h-1zM47 13h1v1h-1zM15 14h1v1h-1zM18 14h1v1h-1zM51 14h1v1h-1zM12 17h1v1h-1zM17 17h1v1h-1zM29 17h1v1h-1zM20 18h1v1h-1zM50 18h1v1h-1zM0 19h1v1h-1zM12 19h1v1h-1zM46 23h1v1h-1zM13 25h1v1h-1zM0 27h1v1h-1zM14 27h1v1h-1zM49 27h1v1h-1zM18 28h1v1h-1z"/><path fill="#1c1c46" d="M42 3h1v1h-1zM10 8h1v1h-1zM40 8h1v1h-1zM43 9h1v1h-1zM57 12h2v1h-2zM14 13h1v1h-1zM39 13h1v1h-1zM10 14h1v1h-1zM44 14h1v1h-1zM56 14h1v1h-1zM8 20h3v1h-3zM38 20h2v1h-2zM43 20h1v1h-1zM46 20h1v1h-1zM53 20h1v1h-1zM12 24h1v1h-1zM33 24h1v1h-1zM38 24h1v1h-1zM46 24h1v1h-1zM2 25h1v1h-1zM7 26h1v1h-1zM43 26h1v1h-1zM53 26h1v1h-1zM56 26h2v1h-2zM18 27h1v1h-1zM24 27h1v1h-1zM3 28h1v1h-1zM54 29h1v1h-1zM53 31h1v1h-1z"/><path fill="#2a2a0e" d="M21 4h1v1h-1z"/><path fill="#1c1c62" d="M0 5h1v1h-1zM31 6h1v1h-1zM43 8h1v1h-1zM14 11h2v1h-2zM0 14h1v1h-1zM18 18h1v1h-1zM45 18h1v1h-1zM1 19h1v1h-1zM2 20h1v1h-1zM5 20h1v1h-1zM16 20h1v1h-1zM26 20h1v1h-1zM57 20h1v1h-1zM21 24h1v1h-1zM57 24h1v1h-1zM35 26h2v1h-2zM38 26h1v1h-1zM49 26h1v1h-1zM12 27h2v1h-2zM18 29h1v1h-1zM46 30h1v1h-1z"/><path fill="#383870" d="M24 5h1v1h-1zM52 11h1v1h-1zM17 14h1v1h-1zM38 18h1v1h-1zM42 23h1v1h-1z"/><path fill="#383854" d="M7 7h1v1h-1z"/><path fill="#62707e" d="M18 7h1v1h-1zM39 18h1v1h-1zM49 29h1v1h-1z"/><path fill="#384670" d="M50 7h1v1h-1z"/><path fill="#626246" d="M12 8h1v1h-1z"/><path fill="#545438" d="M20 8h1v1h-1zM37 8h1v1h-1zM50 8h1v1h-1zM14 10h1v1h-1zM37 10h1v1h-1zM4 28h1v1h-1z"/><path fill="#2a2a54" d="M30 8h1v1h-1z"/><path fill="#46462a" d="M5 11h1v1h-1z"/><path fill="#0e0e1c" d="M26 11h1v1h-1z"/><path fill="#546246" d="M28 16h1v1h-1z"/><path fill="#1c2a46" d="M8 17h1v1h-1z"/><path fill="#383862" d="M30 17h1v1h-1z"/><path fill="#1c0e46" d="M15 20h1v1h-1z"/><path fill="#46461c" d="M32 21h1v1h-1zM8 23h1v1h-1z"/><path fill="#2a2a46" d="M35 23h1v1h-1zM1 26h1v1h-1z"/><path fill="#8c8c46" d="M3 27h1v1h-1z"/><path fill="#1c0e38" d="M7 28h1v1h-1z"/><path fill="#1c1c38" d="M21 28h1v1h-1zM39 30h1v1h-1z"/></g>
<rect x="90.00" y="381.00" width="0.90" height="276.00" fill="#ffffff"/>
<rect x="103.30" y="381.00" width="0.70" height="276.00" fill="#8a8a8a"/>
<rect x="134.80" y="381.00" width="0.70" height="276.00" fill="#7a7a7a"/>
<rect x="40.8" y="381.0" width="154.0" height="276.00" fill="none" stroke="#333" stroke-width="0.5"/>
<text x="195.60" y="388.26">HES4</text>
<text x="195.60" y="396.89">NBPF1</text>
<text x="195.60" y="405.51">TCEA3</text>
<text x="195.60" y="414.14">TGFA</text>
<text x="195.60" y="422.76">ZRANB3</text>
<text x="195.60" y="431.39">SNED1</text>
<text x="195.60" y="440.01">LRIG1</text>
<text x="195.60" y="448.64">RFC1</text>
<text x="195.60" y="457.26">SPATA5</text>
<text x="195.60" y="465.89">IQGAP2</text>
<text x="195.60" y="474.51">SLC36A1</text>
<text x="195.60" y="483.14">SPDEF</text>
<text x="195.60" y="491.76">SASH1</text>
<text x="195.60" y="500.39">IMPDH1</text>
<text x="195.60" y="509.01">RBPMS</text>
<text x="195.60" y="517.64">MCM4</text>
<text x="195.60" y="526.26">NDUFAF6</text>
<text x="195.60" y="534.89">PSCA</text>
<text x="195.60" y="543.51">MTAP</text>
<text x="195.60" y="552.14">GALNT18</text>
<text x="195.60" y="560.76">MICAL2</text>
<text x="195.60" y="569.39">LINC02343</text>
<text x="195.60" y="578.01">DRAIC</text>
<text x="195.60" y="586.64">ABHD2</text>
<text x="195.60" y="595.26">TOX3</text>
<text x="195.60" y="603.89">MPHOSPH6</text>
<text x="195.60" y="612.51">PPP1R1B</text>
<text x="195.60" y="621.14">ST6GALNAC1</text>
<text x="195.60" y="629.76">CHAF1A</text>
<text x="195.60" y="638.39">CYP4F8</text>
<text x="195.60" y="647.01">ZNF331</text>
<text x="195.60" y="655.64">SLPI</text>
<text x="33.00" y="515.60" text-anchor="middle" transform="rotate(-90 33.00 515.60)">downregulated putative AR target genes</text>
<rect x="266.60" y="489.80" width="9.20" height="45.60" fill="url(#gcb2)"/>
<line x1="266.60" y1="491.00" x2="268.10" y2="491.00" stroke="#fff" stroke-width="0.6"/>
<line x1="274.30" y1="491.00" x2="275.80" y2="491.00" stroke="#fff" stroke-width="0.6"/>
<text x="276.90" y="494.90">0.5</text>
<line x1="266.60" y1="512.60" x2="268.10" y2="512.60" stroke="#fff" stroke-width="0.6"/>
<line x1="274.30" y1="512.60" x2="275.80" y2="512.60" stroke="#fff" stroke-width="0.6"/>
<text x="276.90" y="515.90">0</text>
<line x1="266.60" y1="534.20" x2="268.10" y2="534.20" stroke="#fff" stroke-width="0.6"/>
<line x1="274.30" y1="534.20" x2="275.80" y2="534.20" stroke="#fff" stroke-width="0.6"/>
<text x="276.90" y="537.50">−0.5</text>
<text x="280.20" y="468.20" text-anchor="middle">gene expression</text>
<text x="280.20" y="478.10" text-anchor="middle">(z-normalized)</text>
<text x="483.50" y="319.80" text-anchor="middle">AR ChIP-seq</text>
<text x="450.00" y="331.20" text-anchor="middle">DMSO</text>
<text x="530.20" y="331.20" text-anchor="middle">SMARCA2_4.1</text>
<rect x="416.10" y="338.00" width="62.30" height="62.30" fill="none" stroke="#555" stroke-width="0.8"/>
<line x1="414.10" y1="382.15" x2="416.10" y2="382.15" stroke="#333" stroke-width="0.7"/>
<text x="413.30" y="384.55" text-anchor="end" font-size="6.9" fill="#3a3a3a">5</text>
<line x1="414.10" y1="360.10" x2="416.10" y2="360.10" stroke="#333" stroke-width="0.7"/>
<text x="413.30" y="362.50" text-anchor="end" font-size="6.9" fill="#3a3a3a">10</text>
<line x1="414.10" y1="338.05" x2="416.10" y2="338.05" stroke="#333" stroke-width="0.7"/>
<text x="413.30" y="340.45" text-anchor="end" font-size="6.9" fill="#3a3a3a">15</text>
<line x1="416.10" y1="400.30" x2="416.10" y2="402.30" stroke="#333" stroke-width="0.7"/>
<line x1="447.25" y1="400.30" x2="447.25" y2="402.30" stroke="#333" stroke-width="0.7"/>
<line x1="478.40" y1="400.30" x2="478.40" y2="402.30" stroke="#333" stroke-width="0.7"/>
<text x="416.40" y="409.90" font-size="6.9" fill="#3a3a3a">-0.5</text>
<text x="447.25" y="409.90" text-anchor="middle" font-size="6.9" fill="#3a3a3a">center</text>
<text x="480.80" y="409.90" text-anchor="end" font-size="6.9" fill="#3a3a3a">0.5Kb</text>
<path d="M416.10,397.24 L416.79,397.10 L417.48,396.97 L418.18,396.83 L418.87,396.68 L419.56,396.53 L420.25,396.37 L420.95,396.19 L421.64,396.01 L422.33,395.81 L423.02,395.59 L423.71,395.35 L424.41,395.08 L425.10,394.78 L425.79,394.44 L426.48,394.05 L427.18,393.62 L427.87,393.12 L428.56,392.56 L429.25,391.92 L429.94,391.20 L430.64,390.39 L431.33,389.48 L432.02,388.47 L432.71,387.34 L433.41,386.10 L434.10,384.75 L434.79,383.28 L435.48,381.70 L436.17,380.01 L436.87,378.23 L437.56,376.37 L438.25,374.44 L438.94,372.47 L439.64,370.48 L440.33,368.49 L441.02,366.54 L441.71,364.64 L442.40,362.84 L443.10,361.17 L443.79,359.65 L444.48,358.31 L445.17,357.18 L445.87,356.27 L446.56,355.62 L447.25,355.23 L447.94,355.11 L448.63,355.26 L449.33,355.68 L450.02,356.35 L450.71,357.28 L451.40,358.43 L452.10,359.79 L452.79,361.33 L453.48,363.02 L454.17,364.83 L454.86,366.73 L455.56,368.69 L456.25,370.68 L456.94,372.67 L457.63,374.64 L458.33,376.56 L459.02,378.42 L459.71,380.19 L460.40,381.86 L461.09,383.43 L461.79,384.89 L462.48,386.23 L463.17,387.46 L463.86,388.58 L464.56,389.58 L465.25,390.48 L465.94,391.28 L466.63,391.99 L467.32,392.62 L468.02,393.18 L468.71,393.66 L469.40,394.09 L470.09,394.47 L470.79,394.81 L471.48,395.11 L472.17,395.37 L472.86,395.61 L473.55,395.83 L474.25,396.03 L474.94,396.21 L475.63,396.38 L476.32,396.54 L477.02,396.70 L477.71,396.84 L478.40,396.98" fill="none" stroke="#2d3a8c" stroke-width="1.3" stroke-linejoin="round"/>
<rect x="497.50" y="338.00" width="63.20" height="62.30" fill="none" stroke="#555" stroke-width="0.8"/>
<line x1="495.50" y1="382.15" x2="497.50" y2="382.15" stroke="#333" stroke-width="0.7"/>
<text x="494.70" y="384.55" text-anchor="end" font-size="6.9" fill="#3a3a3a">5</text>
<line x1="495.50" y1="360.10" x2="497.50" y2="360.10" stroke="#333" stroke-width="0.7"/>
<text x="494.70" y="362.50" text-anchor="end" font-size="6.9" fill="#3a3a3a">10</text>
<line x1="495.50" y1="338.05" x2="497.50" y2="338.05" stroke="#333" stroke-width="0.7"/>
<text x="494.70" y="340.45" text-anchor="end" font-size="6.9" fill="#3a3a3a">15</text>
<line x1="497.50" y1="400.30" x2="497.50" y2="402.30" stroke="#333" stroke-width="0.7"/>
<line x1="529.10" y1="400.30" x2="529.10" y2="402.30" stroke="#333" stroke-width="0.7"/>
<line x1="560.70" y1="400.30" x2="560.70" y2="402.30" stroke="#333" stroke-width="0.7"/>
<text x="497.80" y="409.90" font-size="6.9" fill="#3a3a3a">-0.5</text>
<text x="529.10" y="409.90" text-anchor="middle" font-size="6.9" fill="#3a3a3a">center</text>
<text x="563.10" y="409.90" text-anchor="end" font-size="6.9" fill="#3a3a3a">0.5Kb</text>
<path d="M497.50,399.90 L498.20,399.84 L498.90,399.78 L499.61,399.72 L500.31,399.64 L501.01,399.57 L501.71,399.48 L502.42,399.38 L503.12,399.28 L503.82,399.16 L504.52,399.02 L505.22,398.87 L505.93,398.71 L506.63,398.52 L507.33,398.32 L508.03,398.09 L508.74,397.84 L509.44,397.55 L510.14,397.25 L510.84,396.91 L511.54,396.54 L512.25,396.14 L512.95,395.71 L513.65,395.25 L514.35,394.75 L515.06,394.23 L515.76,393.68 L516.46,393.10 L517.16,392.50 L517.86,391.88 L518.57,391.25 L519.27,390.61 L519.97,389.97 L520.67,389.33 L521.38,388.70 L522.08,388.08 L522.78,387.50 L523.48,386.94 L524.18,386.42 L524.89,385.95 L525.59,385.52 L526.29,385.16 L526.99,384.86 L527.70,384.62 L528.40,384.46 L529.10,384.37 L529.80,384.35 L530.50,384.41 L531.21,384.55 L531.91,384.75 L532.61,385.02 L533.31,385.36 L534.02,385.76 L534.72,386.21 L535.42,386.71 L536.12,387.25 L536.82,387.83 L537.53,388.43 L538.23,389.05 L538.93,389.69 L539.63,390.33 L540.34,390.98 L541.04,391.61 L541.74,392.24 L542.44,392.84 L543.14,393.43 L543.85,393.99 L544.55,394.53 L545.25,395.04 L545.95,395.51 L546.66,395.96 L547.36,396.37 L548.06,396.75 L548.76,397.10 L549.46,397.43 L550.17,397.72 L550.87,397.98 L551.57,398.22 L552.27,398.44 L552.98,398.63 L553.68,398.81 L554.38,398.96 L555.08,399.10 L555.78,399.23 L556.49,399.34 L557.19,399.44 L557.89,399.53 L558.59,399.61 L559.30,399.69 L560.00,399.75 L560.70,399.82" fill="none" stroke="#2d3a8c" stroke-width="1.3" stroke-linejoin="round"/>
<rect x="416.00" y="413.80" width="68.90" height="165.40" fill="#f4f3f9"/>
<rect x="416.00" y="413.80" width="68.90" height="1.05" fill="#3e2a80" fill-opacity="0.037"/>
<rect x="416.00" y="413.80" width="68.90" height="1.05" fill="url(#cg0)" fill-opacity="1.000"/>
<rect x="416.00" y="414.80" width="68.90" height="1.05" fill="#3e2a80" fill-opacity="0.141"/>
<rect x="416.00" y="414.80" width="68.90" height="1.05" fill="url(#cg1)" fill-opacity="1.000"/>
<rect x="416.00" y="415.80" width="68.90" height="1.05" fill="url(#cg2)" fill-opacity="1.000"/>
<rect x="416.00" y="416.81" width="68.90" height="1.05" fill="url(#cg2)" fill-opacity="1.000"/>
<rect x="416.00" y="417.81" width="68.90" height="1.05" fill="#3e2a80" fill-opacity="0.147"/>
<rect x="416.00" y="417.81" width="68.90" height="1.05" fill="url(#cg3)" fill-opacity="1.000"/>
<rect x="416.00" y="418.81" width="68.90" height="1.05" fill="#3e2a80" fill-opacity="0.116"/>
<rect x="416.00" y="418.81" width="68.90" height="1.05" fill="url(#cg4)" fill-opacity="1.000"/>
<rect x="416.00" y="419.81" width="68.90" height="1.05" fill="url(#cg5)" fill-opacity="1.000"/>
<rect x="416.00" y="420.82" width="68.90" height="1.05" fill="#3e2a80" fill-opacity="0.077"/>
<rect x="416.00" y="420.82" width="68.90" height="1.05" fill="url(#cg2)" fill-opacity="1.000"/>
<rect x="416.00" y="421.82" width="68.90" height="1.05" fill="url(#cg6)" fill-opacity="1.000"/>
<rect x="416.00" y="422.82" width="68.90" height="1.05" fill="url(#cg7)" fill-opacity="1.000"/>
<rect x="416.00" y="423.82" width="68.90" height="1.05" fill="#3e2a80" fill-opacity="0.204"/>
<rect x="416.00" y="423.82" width="68.90" height="1.05" fill="url(#cg8)" fill-opacity="1.000"/>
<rect x="416.00" y="424.83" width="68.90" height="1.05" fill="#3e2a80" fill-opacity="0.047"/>
<rect x="416.00" y="424.83" width="68.90" height="1.05" fill="url(#cg9)" fill-opacity="1.000"/>
<rect x="416.00" y="425.83" width="68.90" height="1.05" fill="#3e2a80" fill-opacity="0.139"/>
<rect x="416.00" y="425.83" width="68.90" height="1.05" fill="url(#cg10)" fill-opacity="1.000"/>
<rect x="416.00" y="426.83" width="68.90" height="1.05" fill="#3e2a80" fill-opacity="0.064"/>
<rect x="416.00" y="426.83" width="68.90" height="1.05" fill="url(#cg11)" fill-opacity="1.000"/>
<rect x="416.00" y="427.83" width="68.90" height="1.05" fill="#3e2a80" fill-opacity="0.067"/>
<rect x="416.00" y="427.83" width="68.90" height="1.05" fill="url(#cg12)" fill-opacity="1.000"/>
<rect x="416.00" y="428.84" width="68.90" height="1.05" fill="url(#cg13)" fill-opacity="1.000"/>
<rect x="416.00" y="429.84" width="68.90" height="1.05" fill="url(#cg14)" fill-opacity="1.000"/>
<rect x="416.00" y="430.84" width="68.90" height="1.05" fill="#3e2a80" fill-opacity="0.084"/>
<rect x="416.00" y="430.84" width="68.90" height="1.05" fill="url(#cg15)" fill-opacity="1.000"/>
<rect x="416.00" y="431.84" width="68.90" height="1.05" fill="#3e2a80" fill-opacity="0.154"/>
<rect x="416.00" y="431.84" width="68.90" height="1.05" fill="url(#cg16)" fill-opacity="1.000"/>
<rect x="416.00" y="432.85" width="68.90" height="1.05" fill="#3e2a80" fill-opacity="0.038"/>
<rect x="416.00" y="432.85" width="68.90" height="1.05" fill="url(#cg17)" fill-opacity="1.000"/>
<rect x="416.00" y="433.85" width="68.90" height="1.05" fill="url(#cg18)" fill-opacity="1.000"/>
<rect x="416.00" y="434.85" width="68.90" height="1.05" fill="url(#cg19)" fill-opacity="1.000"/>
<rect x="416.00" y="435.85" width="68.90" height="1.05" fill="#3e2a80" fill-opacity="0.097"/>
<rect x="416.00" y="435.85" width="68.90" height="1.05" fill="url(#cg20)" fill-opacity="0.575"/>
<rect x="416.00" y="436.86" width="68.90" height="1.05" fill="url(#cg3)" fill-opacity="1.000"/>
<rect x="416.00" y="437.86" width="68.90" height="1.05" fill="#3e2a80" fill-opacity="0.061"/>
<rect x="416.00" y="437.86" width="68.90" height="1.05" fill="url(#cg21)" fill-opacity="1.000"/>
<rect x="416.00" y="438.86" width="68.90" height="1.05" fill="#3e2a80" fill-opacity="0.173"/>
<rect x="416.00" y="438.86" width="68.90" height="1.05" fill="url(#cg14)" fill-opacity="1.000"/>
<rect x="416.00" y="439.86" width="68.90" height="1.05" fill="url(#cg22)" fill-opacity="1.000"/>
<rect x="416.00" y="440.87" width="68.90" height="1.05" fill="url(#cg23)" fill-opacity="1.000"/>
<rect x="416.00" y="441.87" width="68.90" height="1.05" fill="url(#cg6)" fill-opacity="1.000"/>
<rect x="416.00" y="442.87" width="68.90" height="1.05" fill="url(#cg1)" fill-opacity="0.950"/>
<rect x="416.00" y="443.87" width="68.90" height="1.05" fill="#3e2a80" fill-opacity="0.181"/>
<rect x="416.00" y="443.87" width="68.90" height="1.05" fill="url(#cg5)" fill-opacity="1.000"/>
<rect x="416.00" y="444.88" width="68.90" height="1.05" fill="url(#cg24)" fill-opacity="1.000"/>
<rect x="416.00" y="445.88" width="68.90" height="1.05" fill="#3e2a80" fill-opacity="0.086"/>
<rect x="416.00" y="445.88" width="68.90" height="1.05" fill="url(#cg4)" fill-opacity="0.951"/>
<rect x="416.00" y="446.88" width="68.90" height="1.05" fill="url(#cg25)" fill-opacity="0.712"/>
<rect x="416.00" y="447.88" width="68.90" height="1.05" fill="#3e2a80" fill-opacity="0.099"/>
<rect x="416.00" y="447.88" width="68.90" height="1.05" fill="url(#cg26)" fill-opacity="1.000"/>
<rect x="416.00" y="448.88" width="68.90" height="1.05" fill="url(#cg23)" fill-opacity="1.000"/>
<rect x="416.00" y="449.89" width="68.90" height="1.05" fill="url(#cg2)" fill-opacity="1.000"/>
<rect x="416.00" y="450.89" width="68.90" height="1.05" fill="#3e2a80" fill-opacity="0.036"/>
<rect x="416.00" y="450.89" width="68.90" height="1.05" fill="url(#cg23)" fill-opacity="1.000"/>
<rect x="416.00" y="451.89" width="68.90" height="1.05" fill="url(#cg27)" fill-opacity="0.795"/>
<rect x="416.00" y="452.89" width="68.90" height="1.05" fill="url(#cg28)" fill-opacity="0.581"/>
<rect x="416.00" y="453.90" width="68.90" height="1.05" fill="url(#cg29)" fill-opacity="1.000"/>
<rect x="416.00" y="454.90" width="68.90" height="1.05" fill="#3e2a80" fill-opacity="0.114"/>
<rect x="416.00" y="454.90" width="68.90" height="1.05" fill="url(#cg30)" fill-opacity="1.000"/>
<rect x="416.00" y="455.90" width="68.90" height="1.05" fill="url(#cg31)" fill-opacity="1.000"/>
<rect x="416.00" y="456.90" width="68.90" height="1.05" fill="url(#cg32)" fill-opacity="1.000"/>
<rect x="416.00" y="457.91" width="68.90" height="1.05" fill="#3e2a80" fill-opacity="0.044"/>
<rect x="416.00" y="457.91" width="68.90" height="1.05" fill="url(#cg33)" fill-opacity="0.918"/>
<rect x="416.00" y="458.91" width="68.90" height="1.05" fill="url(#cg28)" fill-opacity="1.000"/>
<rect x="416.00" y="459.91" width="68.90" height="1.05" fill="url(#cg22)" fill-opacity="0.944"/>
<rect x="416.00" y="460.91" width="68.90" height="1.05" fill="#3e2a80" fill-opacity="0.061"/>
<rect x="416.00" y="460.91" width="68.90" height="1.05" fill="url(#cg10)" fill-opacity="0.955"/>
<rect x="416.00" y="461.92" width="68.90" height="1.05" fill="url(#cg28)" fill-opacity="0.997"/>
<rect x="416.00" y="462.92" width="68.90" height="1.05" fill="url(#cg34)" fill-opacity="1.000"/>
<rect x="416.00" y="463.92" width="68.90" height="1.05" fill="url(#cg31)" fill-opacity="0.920"/>
<rect x="416.00" y="464.92" width="68.90" height="1.05" fill="#3e2a80" fill-opacity="0.030"/>
<rect x="416.00" y="464.92" width="68.90" height="1.05" fill="url(#cg1)" fill-opacity="1.000"/>
<rect x="416.00" y="465.93" width="68.90" height="1.05" fill="url(#cg17)" fill-opacity="0.948"/>
<rect x="416.00" y="466.93" width="68.90" height="1.05" fill="url(#cg35)" fill-opacity="0.945"/>
<rect x="416.00" y="467.93" width="68.90" height="1.05" fill="url(#cg36)" fill-opacity="0.863"/>
<rect x="416.00" y="468.93" width="68.90" height="1.05" fill="#3e2a80" fill-opacity="0.171"/>
<rect x="416.00" y="468.93" width="68.90" height="1.05" fill="url(#cg37)" fill-opacity="1.000"/>
<rect x="416.00" y="469.94" width="68.90" height="1.05" fill="#3e2a80" fill-opacity="0.084"/>
<rect x="416.00" y="469.94" width="68.90" height="1.05" fill="url(#cg37)" fill-opacity="0.753"/>
<rect x="416.00" y="470.94" width="68.90" height="1.05" fill="url(#cg6)" fill-opacity="1.000"/>
<rect x="416.00" y="471.94" width="68.90" height="1.05" fill="#3e2a80" fill-opacity="0.062"/>
<rect x="416.00" y="471.94" width="68.90" height="1.05" fill="url(#cg38)" fill-opacity="0.733"/>
<rect x="416.00" y="472.94" width="68.90" height="1.05" fill="url(#cg39)" fill-opacity="0.842"/>
<rect x="416.00" y="473.95" width="68.90" height="1.05" fill="url(#cg1)" fill-opacity="1.000"/>
<rect x="416.00" y="474.95" width="68.90" height="1.05" fill="#3e2a80" fill-opacity="0.077"/>
<rect x="416.00" y="474.95" width="68.90" height="1.05" fill="url(#cg12)" fill-opacity="0.888"/>
<rect x="416.00" y="475.95" width="68.90" height="1.05" fill="url(#cg40)" fill-opacity="0.914"/>
<rect x="416.00" y="476.95" width="68.90" height="1.05" fill="#3e2a80" fill-opacity="0.120"/>
<rect x="416.00" y="476.95" width="68.90" height="1.05" fill="url(#cg23)" fill-opacity="0.795"/>
<rect x="416.00" y="477.96" width="68.90" height="1.05" fill="url(#cg41)" fill-opacity="1.000"/>
<rect x="416.00" y="478.96" width="68.90" height="1.05" fill="#3e2a80" fill-opacity="0.047"/>
<rect x="416.00" y="478.96" width="68.90" height="1.05" fill="url(#cg18)" fill-opacity="0.798"/>
<rect x="416.00" y="479.96" width="68.90" height="1.05" fill="url(#cg30)" fill-opacity="0.817"/>
<rect x="416.00" y="480.96" width="68.90" height="1.05" fill="#3e2a80" fill-opacity="0.067"/>
<rect x="416.00" y="480.96" width="68.90" height="1.05" fill="url(#cg36)" fill-opacity="0.758"/>
<rect x="416.00" y="481.96" width="68.90" height="1.05" fill="#3e2a80" fill-opacity="0.079"/>
<rect x="416.00" y="481.96" width="68.90" height="1.05" fill="url(#cg42)" fill-opacity="0.824"/>
<rect x="416.00" y="482.97" width="68.90" height="1.05" fill="#3e2a80" fill-opacity="0.119"/>
<rect x="416.00" y="482.97" width="68.90" height="1.05" fill="url(#cg18)" fill-opacity="0.840"/>
<rect x="416.00" y="483.97" width="68.90" height="1.05" fill="url(#cg22)" fill-opacity="0.874"/>
<rect x="416.00" y="484.97" width="68.90" height="1.05" fill="url(#cg36)" fill-opacity="0.686"/>
<rect x="416.00" y="485.97" width="68.90" height="1.05" fill="url(#cg43)" fill-opacity="0.893"/>
<rect x="416.00" y="486.98" width="68.90" height="1.05" fill="url(#cg44)" fill-opacity="0.963"/>
<rect x="416.00" y="487.98" width="68.90" height="1.05" fill="url(#cg39)" fill-opacity="0.745"/>
<rect x="416.00" y="488.98" width="68.90" height="1.05" fill="url(#cg45)" fill-opacity="0.796"/>
<rect x="416.00" y="489.98" width="68.90" height="1.05" fill="url(#cg46)" fill-opacity="0.840"/>
<rect x="416.00" y="490.99" width="68.90" height="1.05" fill="#3e2a80" fill-opacity="0.060"/>
<rect x="416.00" y="490.99" width="68.90" height="1.05" fill="url(#cg47)" fill-opacity="0.845"/>
<rect x="416.00" y="491.99" width="68.90" height="1.05" fill="url(#cg48)" fill-opacity="0.695"/>
<rect x="416.00" y="492.99" width="68.90" height="1.05" fill="url(#cg19)" fill-opacity="0.792"/>
<rect x="416.00" y="493.99" width="68.90" height="1.05" fill="url(#cg49)" fill-opacity="0.729"/>
<rect x="416.00" y="495.00" width="68.90" height="1.05" fill="url(#cg30)" fill-opacity="0.650"/>
<rect x="416.00" y="496.00" width="68.90" height="1.05" fill="#3e2a80" fill-opacity="0.059"/>
<rect x="416.00" y="496.00" width="68.90" height="1.05" fill="url(#cg30)" fill-opacity="0.431"/>
<rect x="416.00" y="497.00" width="68.90" height="1.05" fill="url(#cg6)" fill-opacity="0.693"/>
<rect x="416.00" y="498.00" width="68.90" height="1.05" fill="#3e2a80" fill-opacity="0.056"/>
<rect x="416.00" y="498.00" width="68.90" height="1.05" fill="url(#cg36)" fill-opacity="0.624"/>
<rect x="416.00" y="499.01" width="68.90" height="1.05" fill="#3e2a80" fill-opacity="0.076"/>
<rect x="416.00" y="499.01" width="68.90" height="1.05" fill="url(#cg37)" fill-opacity="0.397"/>
<rect x="416.00" y="500.01" width="68.90" height="1.05" fill="url(#cg38)" fill-opacity="0.521"/>
<rect x="416.00" y="501.01" width="68.90" height="1.05" fill="url(#cg17)" fill-opacity="0.589"/>
<rect x="416.00" y="502.01" width="68.90" height="1.05" fill="url(#cg50)" fill-opacity="0.430"/>
<rect x="416.00" y="503.02" width="68.90" height="1.05" fill="#3e2a80" fill-opacity="0.083"/>
<rect x="416.00" y="503.02" width="68.90" height="1.05" fill="url(#cg51)" fill-opacity="0.604"/>
<rect x="416.00" y="504.02" width="68.90" height="1.05" fill="url(#cg31)" fill-opacity="0.693"/>
<rect x="416.00" y="505.02" width="68.90" height="1.05" fill="#3e2a80" fill-opacity="0.044"/>
<rect x="416.00" y="505.02" width="68.90" height="1.05" fill="url(#cg52)" fill-opacity="0.325"/>
<rect x="416.00" y="506.02" width="68.90" height="1.05" fill="#3e2a80" fill-opacity="0.044"/>
<rect x="416.00" y="506.02" width="68.90" height="1.05" fill="url(#cg39)" fill-opacity="0.559"/>
<rect x="416.00" y="507.03" width="68.90" height="1.05" fill="url(#cg53)" fill-opacity="0.635"/>
<rect x="416.00" y="508.03" width="68.90" height="1.05" fill="url(#cg18)" fill-opacity="0.250"/>
<rect x="416.00" y="509.03" width="68.90" height="1.05" fill="#3e2a80" fill-opacity="0.055"/>
<rect x="416.00" y="509.03" width="68.90" height="1.05" fill="url(#cg52)" fill-opacity="0.581"/>
<rect x="416.00" y="510.03" width="68.90" height="1.05" fill="#3e2a80" fill-opacity="0.019"/>
<rect x="416.00" y="510.03" width="68.90" height="1.05" fill="url(#cg54)" fill-opacity="0.514"/>
<rect x="416.00" y="511.04" width="68.90" height="1.05" fill="url(#cg47)" fill-opacity="0.509"/>
<rect x="416.00" y="512.04" width="68.90" height="1.05" fill="url(#cg46)" fill-opacity="0.391"/>
<rect x="416.00" y="513.04" width="68.90" height="1.05" fill="url(#cg52)" fill-opacity="0.502"/>
<rect x="416.00" y="514.04" width="68.90" height="1.05" fill="url(#cg55)" fill-opacity="0.409"/>
<rect x="416.00" y="515.04" width="68.90" height="1.05" fill="#3e2a80" fill-opacity="0.027"/>
<rect x="416.00" y="515.04" width="68.90" height="1.05" fill="url(#cg35)" fill-opacity="0.524"/>
<rect x="416.00" y="516.05" width="68.90" height="1.05" fill="#3e2a80" fill-opacity="0.032"/>
<rect x="416.00" y="516.05" width="68.90" height="1.05" fill="url(#cg56)" fill-opacity="0.434"/>
<rect x="416.00" y="517.05" width="68.90" height="1.05" fill="#3e2a80" fill-opacity="0.036"/>
<rect x="416.00" y="517.05" width="68.90" height="1.05" fill="url(#cg56)" fill-opacity="0.345"/>
<rect x="416.00" y="518.05" width="68.90" height="1.05" fill="#3e2a80" fill-opacity="0.027"/>
<rect x="416.00" y="518.05" width="68.90" height="1.05" fill="url(#cg53)" fill-opacity="0.284"/>
<rect x="416.00" y="519.05" width="68.90" height="1.05" fill="#3e2a80" fill-opacity="0.076"/>
<rect x="416.00" y="519.05" width="68.90" height="1.05" fill="url(#cg38)" fill-opacity="0.468"/>
<rect x="416.00" y="520.06" width="68.90" height="1.05" fill="url(#cg44)" fill-opacity="0.380"/>
<rect x="416.00" y="521.06" width="68.90" height="1.05" fill="url(#cg48)" fill-opacity="0.531"/>
<rect x="416.00" y="522.06" width="68.90" height="1.05" fill="url(#cg38)" fill-opacity="0.445"/>
<rect x="416.00" y="523.06" width="68.90" height="1.05" fill="url(#cg39)" fill-opacity="0.383"/>
<rect x="416.00" y="524.07" width="68.90" height="1.05" fill="url(#cg40)" fill-opacity="0.563"/>
<rect x="416.00" y="525.07" width="68.90" height="1.05" fill="#3e2a80" fill-opacity="0.059"/>
<rect x="416.00" y="525.07" width="68.90" height="1.05" fill="url(#cg50)" fill-opacity="0.424"/>
<rect x="416.00" y="526.07" width="68.90" height="1.05" fill="#3e2a80" fill-opacity="0.024"/>
<rect x="416.00" y="526.07" width="68.90" height="1.05" fill="url(#cg50)" fill-opacity="0.498"/>
<rect x="416.00" y="527.07" width="68.90" height="1.05" fill="url(#cg19)" fill-opacity="0.467"/>
<rect x="416.00" y="528.08" width="68.90" height="1.05" fill="#3e2a80" fill-opacity="0.045"/>
<rect x="416.00" y="528.08" width="68.90" height="1.05" fill="url(#cg42)" fill-opacity="0.495"/>
<rect x="416.00" y="529.08" width="68.90" height="1.05" fill="url(#cg38)" fill-opacity="0.389"/>
<rect x="416.00" y="530.08" width="68.90" height="1.05" fill="url(#cg47)" fill-opacity="0.384"/>
<rect x="416.00" y="531.08" width="68.90" height="1.05" fill="url(#cg48)" fill-opacity="0.356"/>
<rect x="416.00" y="532.09" width="68.90" height="1.05" fill="#3e2a80" fill-opacity="0.041"/>
<rect x="416.00" y="532.09" width="68.90" height="1.05" fill="url(#cg40)" fill-opacity="0.416"/>
<rect x="416.00" y="533.09" width="68.90" height="1.05" fill="#3e2a80" fill-opacity="0.030"/>
<rect x="416.00" y="533.09" width="68.90" height="1.05" fill="url(#cg52)" fill-opacity="0.388"/>
<rect x="416.00" y="534.09" width="68.90" height="1.05" fill="#3e2a80" fill-opacity="0.045"/>
<rect x="416.00" y="534.09" width="68.90" height="1.05" fill="url(#cg57)" fill-opacity="0.250"/>
<rect x="416.00" y="535.09" width="68.90" height="1.05" fill="url(#cg45)" fill-opacity="0.324"/>
<rect x="416.00" y="536.10" width="68.90" height="1.05" fill="#3e2a80" fill-opacity="0.068"/>
<rect x="416.00" y="536.10" width="68.90" height="1.05" fill="url(#cg38)" fill-opacity="0.406"/>
<rect x="416.00" y="537.10" width="68.90" height="1.05" fill="#3e2a80" fill-opacity="0.040"/>
<rect x="416.00" y="537.10" width="68.90" height="1.05" fill="url(#cg51)" fill-opacity="0.396"/>
<rect x="416.00" y="538.10" width="68.90" height="1.05" fill="#3e2a80" fill-opacity="0.046"/>
<rect x="416.00" y="538.10" width="68.90" height="1.05" fill="url(#cg31)" fill-opacity="0.232"/>
<rect x="416.00" y="539.10" width="68.90" height="1.05" fill="url(#cg19)" fill-opacity="0.350"/>
<rect x="416.00" y="540.11" width="68.90" height="1.05" fill="url(#cg58)" fill-opacity="0.281"/>
<rect x="416.00" y="541.11" width="68.90" height="1.05" fill="url(#cg52)" fill-opacity="0.291"/>
<rect x="416.00" y="542.11" width="68.90" height="1.05" fill="#3e2a80" fill-opacity="0.023"/>
<rect x="416.00" y="542.11" width="68.90" height="1.05" fill="url(#cg59)" fill-opacity="0.286"/>
<rect x="416.00" y="543.11" width="68.90" height="1.05" fill="url(#cg48)" fill-opacity="0.346"/>
<rect x="416.00" y="544.12" width="68.90" height="1.05" fill="url(#cg60)" fill-opacity="0.283"/>
<rect x="416.00" y="545.12" width="68.90" height="1.05" fill="url(#cg37)" fill-opacity="0.426"/>
<rect x="416.00" y="546.12" width="68.90" height="1.05" fill="url(#cg61)" fill-opacity="0.311"/>
<rect x="416.00" y="547.12" width="68.90" height="1.05" fill="url(#cg44)" fill-opacity="0.342"/>
<rect x="416.00" y="548.12" width="68.90" height="1.05" fill="#3e2a80" fill-opacity="0.031"/>
<rect x="416.00" y="548.12" width="68.90" height="1.05" fill="url(#cg42)" fill-opacity="0.290"/>
<rect x="416.00" y="549.13" width="68.90" height="1.05" fill="#3e2a80" fill-opacity="0.050"/>
<rect x="416.00" y="549.13" width="68.90" height="1.05" fill="url(#cg62)" fill-opacity="0.321"/>
<rect x="416.00" y="550.13" width="68.90" height="1.05" fill="#3e2a80" fill-opacity="0.029"/>
<rect x="416.00" y="550.13" width="68.90" height="1.05" fill="url(#cg63)" fill-opacity="0.304"/>
<rect x="416.00" y="551.13" width="68.90" height="1.05" fill="url(#cg48)" fill-opacity="0.250"/>
<rect x="416.00" y="552.13" width="68.90" height="1.05" fill="url(#cg64)" fill-opacity="0.254"/>
<rect x="416.00" y="553.14" width="68.90" height="1.05" fill="url(#cg65)" fill-opacity="0.292"/>
<rect x="416.00" y="554.14" width="68.90" height="1.05" fill="#3e2a80" fill-opacity="0.042"/>
<rect x="416.00" y="554.14" width="68.90" height="1.05" fill="url(#cg59)" fill-opacity="0.226"/>
<rect x="416.00" y="555.14" width="68.90" height="1.05" fill="url(#cg56)" fill-opacity="0.294"/>
<rect x="416.00" y="556.14" width="68.90" height="1.05" fill="url(#cg53)" fill-opacity="0.281"/>
<rect x="416.00" y="557.15" width="68.90" height="1.05" fill="#3e2a80" fill-opacity="0.066"/>
<rect x="416.00" y="557.15" width="68.90" height="1.05" fill="url(#cg26)" fill-opacity="0.292"/>
<rect x="416.00" y="558.15" width="68.90" height="1.05" fill="url(#cg44)" fill-opacity="0.154"/>
<rect x="416.00" y="559.15" width="68.90" height="1.05" fill="url(#cg42)" fill-opacity="0.154"/>
<rect x="416.00" y="560.15" width="68.90" height="1.05" fill="url(#cg60)" fill-opacity="0.126"/>
<rect x="416.00" y="561.16" width="68.90" height="1.05" fill="url(#cg51)" fill-opacity="0.189"/>
<rect x="416.00" y="562.16" width="68.90" height="1.05" fill="url(#cg47)" fill-opacity="0.213"/>
<rect x="416.00" y="563.16" width="68.90" height="1.05" fill="url(#cg49)" fill-opacity="0.234"/>
<rect x="416.00" y="564.16" width="68.90" height="1.05" fill="#3e2a80" fill-opacity="0.031"/>
<rect x="416.00" y="564.16" width="68.90" height="1.05" fill="url(#cg52)" fill-opacity="0.218"/>
<rect x="416.00" y="565.17" width="68.90" height="1.05" fill="url(#cg38)" fill-opacity="0.180"/>
<rect x="416.00" y="566.17" width="68.90" height="1.05" fill="#3e2a80" fill-opacity="0.037"/>
<rect x="416.00" y="566.17" width="68.90" height="1.05" fill="url(#cg18)" fill-opacity="0.119"/>
<rect x="416.00" y="567.17" width="68.90" height="1.05" fill="url(#cg38)" fill-opacity="0.190"/>
<rect x="416.00" y="568.17" width="68.90" height="1.05" fill="url(#cg54)" fill-opacity="0.181"/>
<rect x="416.00" y="569.18" width="68.90" height="1.05" fill="#3e2a80" fill-opacity="0.030"/>
<rect x="416.00" y="569.18" width="68.90" height="1.05" fill="url(#cg63)" fill-opacity="0.190"/>
<rect x="416.00" y="570.18" width="68.90" height="1.05" fill="#3e2a80" fill-opacity="0.040"/>
<rect x="416.00" y="570.18" width="68.90" height="1.05" fill="url(#cg66)" fill-opacity="0.201"/>
<rect x="416.00" y="571.18" width="68.90" height="1.05" fill="#3e2a80" fill-opacity="0.026"/>
<rect x="416.00" y="571.18" width="68.90" height="1.05" fill="url(#cg49)" fill-opacity="0.186"/>
<rect x="416.00" y="572.18" width="68.90" height="1.05" fill="#3e2a80" fill-opacity="0.038"/>
<rect x="416.00" y="572.18" width="68.90" height="1.05" fill="url(#cg46)" fill-opacity="0.189"/>
<rect x="416.00" y="573.19" width="68.90" height="1.05" fill="url(#cg46)" fill-opacity="0.224"/>
<rect x="416.00" y="574.19" width="68.90" height="1.05" fill="url(#cg56)" fill-opacity="0.179"/>
<rect x="416.00" y="575.19" width="68.90" height="1.05" fill="url(#cg67)" fill-opacity="0.173"/>
<rect x="416.00" y="576.19" width="68.90" height="1.05" fill="url(#cg68)" fill-opacity="0.155"/>
<rect x="416.00" y="577.20" width="68.90" height="1.05" fill="url(#cg51)" fill-opacity="0.151"/>
<rect x="416.00" y="578.20" width="68.90" height="1.05" fill="url(#cg55)" fill-opacity="0.148"/>
<rect x="416.00" y="413.80" width="68.90" height="165.40" fill="none" stroke="#444" stroke-width="0.6"/>
<line x1="416.00" y1="579.20" x2="416.00" y2="581.00" stroke="#333" stroke-width="0.7"/>
<line x1="450.45" y1="579.20" x2="450.45" y2="581.00" stroke="#333" stroke-width="0.7"/>
<line x1="484.90" y1="579.20" x2="484.90" y2="581.00" stroke="#333" stroke-width="0.7"/>
<text x="416.30" y="588.60" font-size="6.9" fill="#3a3a3a">-0.5</text>
<text x="450.45" y="588.60" text-anchor="middle" font-size="6.9" fill="#3a3a3a">center</text>
<text x="487.30" y="588.60" text-anchor="end" font-size="6.9" fill="#3a3a3a">0.5Kb</text>
<text x="424.20" y="596.60" font-size="6.9" fill="#3a3a3a">gene distance</text>
<rect x="491.60" y="413.80" width="69.00" height="165.40" fill="#f4f3f9"/>
<rect x="491.60" y="413.80" width="69.00" height="1.05" fill="#3e2a80" fill-opacity="0.120"/>
<rect x="491.60" y="413.80" width="69.00" height="1.05" fill="url(#cg30)" fill-opacity="1.000"/>
<rect x="491.60" y="414.80" width="69.00" height="1.05" fill="url(#cg19)" fill-opacity="1.000"/>
<rect x="491.60" y="415.80" width="69.00" height="1.05" fill="url(#cg47)" fill-opacity="1.000"/>
<rect x="491.60" y="416.81" width="69.00" height="1.05" fill="#3e2a80" fill-opacity="0.088"/>
<rect x="491.60" y="416.81" width="69.00" height="1.05" fill="url(#cg6)" fill-opacity="1.000"/>
<rect x="491.60" y="417.81" width="69.00" height="1.05" fill="url(#cg1)" fill-opacity="0.896"/>
<rect x="491.60" y="418.81" width="69.00" height="1.05" fill="#3e2a80" fill-opacity="0.082"/>
<rect x="491.60" y="418.81" width="69.00" height="1.05" fill="url(#cg69)" fill-opacity="0.964"/>
<rect x="491.60" y="419.81" width="69.00" height="1.05" fill="url(#cg70)" fill-opacity="0.920"/>
<rect x="491.60" y="420.82" width="69.00" height="1.05" fill="url(#cg46)" fill-opacity="0.890"/>
<rect x="491.60" y="421.82" width="69.00" height="1.05" fill="url(#cg70)" fill-opacity="1.000"/>
<rect x="491.60" y="422.82" width="69.00" height="1.05" fill="url(#cg71)" fill-opacity="0.702"/>
<rect x="491.60" y="423.82" width="69.00" height="1.05" fill="url(#cg72)" fill-opacity="0.839"/>
<rect x="491.60" y="424.83" width="69.00" height="1.05" fill="#3e2a80" fill-opacity="0.074"/>
<rect x="491.60" y="424.83" width="69.00" height="1.05" fill="url(#cg19)" fill-opacity="0.692"/>
<rect x="491.60" y="425.83" width="69.00" height="1.05" fill="#3e2a80" fill-opacity="0.162"/>
<rect x="491.60" y="425.83" width="69.00" height="1.05" fill="url(#cg15)" fill-opacity="0.714"/>
<rect x="491.60" y="426.83" width="69.00" height="1.05" fill="url(#cg56)" fill-opacity="0.709"/>
<rect x="491.60" y="427.83" width="69.00" height="1.05" fill="url(#cg13)" fill-opacity="0.701"/>
<rect x="491.60" y="428.84" width="69.00" height="1.05" fill="url(#cg19)" fill-opacity="0.673"/>
<rect x="491.60" y="429.84" width="69.00" height="1.05" fill="url(#cg43)" fill-opacity="0.640"/>
<rect x="491.60" y="430.84" width="69.00" height="1.05" fill="#3e2a80" fill-opacity="0.086"/>
<rect x="491.60" y="430.84" width="69.00" height="1.05" fill="url(#cg73)" fill-opacity="0.758"/>
<rect x="491.60" y="431.84" width="69.00" height="1.05" fill="#3e2a80" fill-opacity="0.093"/>
<rect x="491.60" y="431.84" width="69.00" height="1.05" fill="url(#cg10)" fill-opacity="0.498"/>
<rect x="491.60" y="432.85" width="69.00" height="1.05" fill="url(#cg29)" fill-opacity="0.422"/>
<rect x="491.60" y="433.85" width="69.00" height="1.05" fill="url(#cg6)" fill-opacity="0.622"/>
<rect x="491.60" y="434.85" width="69.00" height="1.05" fill="#3e2a80" fill-opacity="0.097"/>
<rect x="491.60" y="434.85" width="69.00" height="1.05" fill="url(#cg6)" fill-opacity="0.575"/>
<rect x="491.60" y="435.85" width="69.00" height="1.05" fill="#3e2a80" fill-opacity="0.102"/>
<rect x="491.60" y="435.85" width="69.00" height="1.05" fill="url(#cg40)" fill-opacity="0.467"/>
<rect x="491.60" y="436.86" width="69.00" height="1.05" fill="url(#cg62)" fill-opacity="0.581"/>
<rect x="491.60" y="437.86" width="69.00" height="1.05" fill="#3e2a80" fill-opacity="0.113"/>
<rect x="491.60" y="437.86" width="69.00" height="1.05" fill="url(#cg43)" fill-opacity="0.446"/>
<rect x="491.60" y="438.86" width="69.00" height="1.05" fill="#3e2a80" fill-opacity="0.094"/>
<rect x="491.60" y="438.86" width="69.00" height="1.05" fill="url(#cg13)" fill-opacity="0.591"/>
<rect x="491.60" y="439.86" width="69.00" height="1.05" fill="#3e2a80" fill-opacity="0.107"/>
<rect x="491.60" y="439.86" width="69.00" height="1.05" fill="url(#cg26)" fill-opacity="0.516"/>
<rect x="491.60" y="440.87" width="69.00" height="1.05" fill="#3e2a80" fill-opacity="0.061"/>
<rect x="491.60" y="440.87" width="69.00" height="1.05" fill="url(#cg43)" fill-opacity="0.517"/>
<rect x="491.60" y="441.87" width="69.00" height="1.05" fill="url(#cg3)" fill-opacity="0.553"/>
<rect x="491.60" y="442.87" width="69.00" height="1.05" fill="url(#cg1)" fill-opacity="0.484"/>
<rect x="491.60" y="443.87" width="69.00" height="1.05" fill="url(#cg26)" fill-opacity="0.369"/>
<rect x="491.60" y="444.88" width="69.00" height="1.05" fill="#3e2a80" fill-opacity="0.051"/>
<rect x="491.60" y="444.88" width="69.00" height="1.05" fill="url(#cg37)" fill-opacity="0.471"/>
<rect x="491.60" y="445.88" width="69.00" height="1.05" fill="#3e2a80" fill-opacity="0.018"/>
<rect x="491.60" y="445.88" width="69.00" height="1.05" fill="url(#cg31)" fill-opacity="0.478"/>
<rect x="491.60" y="446.88" width="69.00" height="1.05" fill="url(#cg73)" fill-opacity="0.395"/>
<rect x="491.60" y="447.88" width="69.00" height="1.05" fill="#3e2a80" fill-opacity="0.049"/>
<rect x="491.60" y="447.88" width="69.00" height="1.05" fill="url(#cg42)" fill-opacity="0.396"/>
<rect x="491.60" y="448.88" width="69.00" height="1.05" fill="#3e2a80" fill-opacity="0.083"/>
<rect x="491.60" y="448.88" width="69.00" height="1.05" fill="url(#cg74)" fill-opacity="0.451"/>
<rect x="491.60" y="449.89" width="69.00" height="1.05" fill="#3e2a80" fill-opacity="0.135"/>
<rect x="491.60" y="449.89" width="69.00" height="1.05" fill="url(#cg75)" fill-opacity="0.383"/>
<rect x="491.60" y="450.89" width="69.00" height="1.05" fill="url(#cg75)" fill-opacity="0.402"/>
<rect x="491.60" y="451.89" width="69.00" height="1.05" fill="#3e2a80" fill-opacity="0.059"/>
<rect x="491.60" y="451.89" width="69.00" height="1.05" fill="url(#cg26)" fill-opacity="0.447"/>
<rect x="491.60" y="452.89" width="69.00" height="1.05" fill="url(#cg27)" fill-opacity="0.414"/>
<rect x="491.60" y="453.90" width="69.00" height="1.05" fill="#3e2a80" fill-opacity="0.035"/>
<rect x="491.60" y="453.90" width="69.00" height="1.05" fill="url(#cg44)" fill-opacity="0.405"/>
<rect x="491.60" y="454.90" width="69.00" height="1.05" fill="url(#cg38)" fill-opacity="0.294"/>
<rect x="491.60" y="455.90" width="69.00" height="1.05" fill="#3e2a80" fill-opacity="0.020"/>
<rect x="491.60" y="455.90" width="69.00" height="1.05" fill="url(#cg66)" fill-opacity="0.253"/>
<rect x="491.60" y="456.90" width="69.00" height="1.05" fill="#3e2a80" fill-opacity="0.051"/>
<rect x="491.60" y="456.90" width="69.00" height="1.05" fill="url(#cg52)" fill-opacity="0.319"/>
<rect x="491.60" y="457.91" width="69.00" height="1.05" fill="url(#cg75)" fill-opacity="0.262"/>
<rect x="491.60" y="458.91" width="69.00" height="1.05" fill="#3e2a80" fill-opacity="0.073"/>
<rect x="491.60" y="458.91" width="69.00" height="1.05" fill="url(#cg45)" fill-opacity="0.270"/>
<rect x="491.60" y="459.91" width="69.00" height="1.05" fill="#3e2a80" fill-opacity="0.018"/>
<rect x="491.60" y="459.91" width="69.00" height="1.05" fill="url(#cg35)" fill-opacity="0.331"/>
<rect x="491.60" y="460.91" width="69.00" height="1.05" fill="#3e2a80" fill-opacity="0.046"/>
<rect x="491.60" y="460.91" width="69.00" height="1.05" fill="url(#cg76)" fill-opacity="0.423"/>
<rect x="491.60" y="461.92" width="69.00" height="1.05" fill="#3e2a80" fill-opacity="0.056"/>
<rect x="491.60" y="461.92" width="69.00" height="1.05" fill="url(#cg37)" fill-opacity="0.204"/>
<rect x="491.60" y="462.92" width="69.00" height="1.05" fill="url(#cg56)" fill-opacity="0.222"/>
<rect x="491.60" y="463.92" width="69.00" height="1.05" fill="url(#cg56)" fill-opacity="0.347"/>
<rect x="491.60" y="464.92" width="69.00" height="1.05" fill="#3e2a80" fill-opacity="0.049"/>
<rect x="491.60" y="464.92" width="69.00" height="1.05" fill="url(#cg77)" fill-opacity="0.238"/>
<rect x="491.60" y="465.93" width="69.00" height="1.05" fill="#3e2a80" fill-opacity="0.059"/>
<rect x="491.60" y="465.93" width="69.00" height="1.05" fill="url(#cg18)" fill-opacity="0.263"/>
<rect x="491.60" y="466.93" width="69.00" height="1.05" fill="#3e2a80" fill-opacity="0.037"/>
<rect x="491.60" y="466.93" width="69.00" height="1.05" fill="url(#cg50)" fill-opacity="0.211"/>
<rect x="491.60" y="467.93" width="69.00" height="1.05" fill="#3e2a80" fill-opacity="0.049"/>
<rect x="491.60" y="467.93" width="69.00" height="1.05" fill="url(#cg60)" fill-opacity="0.161"/>
<rect x="491.60" y="468.93" width="69.00" height="1.05" fill="url(#cg19)" fill-opacity="0.190"/>
<rect x="491.60" y="469.94" width="69.00" height="1.05" fill="url(#cg26)" fill-opacity="0.195"/>
<rect x="491.60" y="470.94" width="69.00" height="1.05" fill="url(#cg39)" fill-opacity="0.239"/>
<rect x="491.60" y="471.94" width="69.00" height="1.05" fill="url(#cg75)" fill-opacity="0.318"/>
<rect x="491.60" y="472.94" width="69.00" height="1.05" fill="url(#cg19)" fill-opacity="0.183"/>
<rect x="491.60" y="473.95" width="69.00" height="1.05" fill="url(#cg36)" fill-opacity="0.172"/>
<rect x="491.60" y="474.95" width="69.00" height="1.05" fill="#3e2a80" fill-opacity="0.054"/>
<rect x="491.60" y="474.95" width="69.00" height="1.05" fill="url(#cg76)" fill-opacity="0.189"/>
<rect x="491.60" y="475.95" width="69.00" height="1.05" fill="url(#cg48)" fill-opacity="0.210"/>
<rect x="491.60" y="476.95" width="69.00" height="1.05" fill="#3e2a80" fill-opacity="0.019"/>
<rect x="491.60" y="476.95" width="69.00" height="1.05" fill="url(#cg56)" fill-opacity="0.156"/>
<rect x="491.60" y="477.96" width="69.00" height="1.05" fill="url(#cg36)" fill-opacity="0.196"/>
<rect x="491.60" y="478.96" width="69.00" height="1.05" fill="url(#cg49)" fill-opacity="0.197"/>
<rect x="491.60" y="479.96" width="69.00" height="1.05" fill="#3e2a80" fill-opacity="0.052"/>
<rect x="491.60" y="479.96" width="69.00" height="1.05" fill="url(#cg62)" fill-opacity="0.174"/>
<rect x="491.60" y="480.96" width="69.00" height="1.05" fill="#3e2a80" fill-opacity="0.056"/>
<rect x="491.60" y="480.96" width="69.00" height="1.05" fill="url(#cg46)" fill-opacity="0.186"/>
<rect x="491.60" y="481.96" width="69.00" height="1.05" fill="url(#cg42)" fill-opacity="0.201"/>
<rect x="491.60" y="482.97" width="69.00" height="1.05" fill="url(#cg53)" fill-opacity="0.188"/>
<rect x="491.60" y="483.97" width="69.00" height="1.05" fill="#3e2a80" fill-opacity="0.021"/>
<rect x="491.60" y="483.97" width="69.00" height="1.05" fill="url(#cg52)" fill-opacity="0.160"/>
<rect x="491.60" y="484.97" width="69.00" height="1.05" fill="url(#cg56)" fill-opacity="0.120"/>
<rect x="491.60" y="485.97" width="69.00" height="1.05" fill="url(#cg47)" fill-opacity="0.190"/>
<rect x="491.60" y="486.98" width="69.00" height="1.05" fill="#3e2a80" fill-opacity="0.031"/>
<rect x="491.60" y="486.98" width="69.00" height="1.05" fill="url(#cg6)" fill-opacity="0.207"/>
<rect x="491.60" y="487.98" width="69.00" height="1.05" fill="#3e2a80" fill-opacity="0.071"/>
<rect x="491.60" y="487.98" width="69.00" height="1.05" fill="url(#cg45)" fill-opacity="0.151"/>
<rect x="491.60" y="488.98" width="69.00" height="1.05" fill="#3e2a80" fill-opacity="0.046"/>
<rect x="491.60" y="488.98" width="69.00" height="1.05" fill="url(#cg38)" fill-opacity="0.129"/>
<rect x="491.60" y="489.98" width="69.00" height="1.05" fill="#3e2a80" fill-opacity="0.038"/>
<rect x="491.60" y="489.98" width="69.00" height="1.05" fill="url(#cg39)" fill-opacity="0.176"/>
<rect x="491.60" y="490.99" width="69.00" height="1.05" fill="url(#cg52)" fill-opacity="0.172"/>
<rect x="491.60" y="491.99" width="69.00" height="1.05" fill="url(#cg78)" fill-opacity="0.199"/>
<rect x="491.60" y="492.99" width="69.00" height="1.05" fill="url(#cg65)" fill-opacity="0.152"/>
<rect x="491.60" y="493.99" width="69.00" height="1.05" fill="url(#cg50)" fill-opacity="0.084"/>
<rect x="491.60" y="495.00" width="69.00" height="1.05" fill="url(#cg62)" fill-opacity="0.158"/>
<rect x="491.60" y="496.00" width="69.00" height="1.05" fill="#3e2a80" fill-opacity="0.022"/>
<rect x="491.60" y="496.00" width="69.00" height="1.05" fill="url(#cg10)" fill-opacity="0.170"/>
<rect x="491.60" y="497.00" width="69.00" height="1.05" fill="#3e2a80" fill-opacity="0.018"/>
<rect x="491.60" y="497.00" width="69.00" height="1.05" fill="url(#cg50)" fill-opacity="0.186"/>
<rect x="491.60" y="498.00" width="69.00" height="1.05" fill="url(#cg49)" fill-opacity="0.153"/>
<rect x="491.60" y="499.01" width="69.00" height="1.05" fill="#3e2a80" fill-opacity="0.038"/>
<rect x="491.60" y="499.01" width="69.00" height="1.05" fill="url(#cg36)" fill-opacity="0.155"/>
<rect x="491.60" y="500.01" width="69.00" height="1.05" fill="#3e2a80" fill-opacity="0.043"/>
<rect x="491.60" y="500.01" width="69.00" height="1.05" fill="url(#cg42)" fill-opacity="0.160"/>
<rect x="491.60" y="501.01" width="69.00" height="1.05" fill="#3e2a80" fill-opacity="0.025"/>
<rect x="491.60" y="501.01" width="69.00" height="1.05" fill="url(#cg40)" fill-opacity="0.122"/>
<rect x="491.60" y="502.01" width="69.00" height="1.05" fill="url(#cg26)" fill-opacity="0.114"/>
<rect x="491.60" y="503.02" width="69.00" height="1.05" fill="#3e2a80" fill-opacity="0.049"/>
<rect x="491.60" y="503.02" width="69.00" height="1.05" fill="url(#cg31)" fill-opacity="0.111"/>
<rect x="491.60" y="504.02" width="69.00" height="1.05" fill="url(#cg48)" fill-opacity="0.099"/>
<rect x="491.60" y="505.02" width="69.00" height="1.05" fill="url(#cg22)" fill-opacity="0.109"/>
<rect x="491.60" y="506.02" width="69.00" height="1.05" fill="#3e2a80" fill-opacity="0.076"/>
<rect x="491.60" y="506.02" width="69.00" height="1.05" fill="url(#cg76)" fill-opacity="0.103"/>
<rect x="491.60" y="507.03" width="69.00" height="1.05" fill="url(#cg43)" fill-opacity="0.151"/>
<rect x="491.60" y="508.03" width="69.00" height="1.05" fill="#3e2a80" fill-opacity="0.030"/>
<rect x="491.60" y="508.03" width="69.00" height="1.05" fill="url(#cg40)" fill-opacity="0.125"/>
<rect x="491.60" y="509.03" width="69.00" height="1.05" fill="url(#cg73)" fill-opacity="0.124"/>
<rect x="491.60" y="510.03" width="69.00" height="1.05" fill="#3e2a80" fill-opacity="0.020"/>
<rect x="491.60" y="510.03" width="69.00" height="1.05" fill="url(#cg19)" fill-opacity="0.149"/>
<rect x="491.60" y="511.04" width="69.00" height="1.05" fill="url(#cg40)" fill-opacity="0.104"/>
<rect x="491.60" y="512.04" width="69.00" height="1.05" fill="#3e2a80" fill-opacity="0.022"/>
<rect x="491.60" y="512.04" width="69.00" height="1.05" fill="url(#cg40)" fill-opacity="0.089"/>
<rect x="491.60" y="513.04" width="69.00" height="1.05" fill="#3e2a80" fill-opacity="0.034"/>
<rect x="491.60" y="513.04" width="69.00" height="1.05" fill="url(#cg48)" fill-opacity="0.112"/>
<rect x="491.60" y="514.04" width="69.00" height="1.05" fill="url(#cg39)" fill-opacity="0.122"/>
<rect x="491.60" y="515.04" width="69.00" height="1.05" fill="url(#cg56)" fill-opacity="0.113"/>
<rect x="491.60" y="516.05" width="69.00" height="1.05" fill="#3e2a80" fill-opacity="0.045"/>
<rect x="491.60" y="516.05" width="69.00" height="1.05" fill="url(#cg53)" fill-opacity="0.096"/>
<rect x="491.60" y="517.05" width="69.00" height="1.05" fill="#3e2a80" fill-opacity="0.020"/>
<rect x="491.60" y="517.05" width="69.00" height="1.05" fill="url(#cg49)" fill-opacity="0.121"/>
<rect x="491.60" y="518.05" width="69.00" height="1.05" fill="url(#cg53)" fill-opacity="0.055"/>
<rect x="491.60" y="519.05" width="69.00" height="1.05" fill="url(#cg48)" fill-opacity="0.122"/>
<rect x="491.60" y="520.06" width="69.00" height="1.05" fill="#3e2a80" fill-opacity="0.053"/>
<rect x="491.60" y="520.06" width="69.00" height="1.05" fill="url(#cg49)" fill-opacity="0.082"/>
<rect x="491.60" y="521.06" width="69.00" height="1.05" fill="#3e2a80" fill-opacity="0.029"/>
<rect x="491.60" y="521.06" width="69.00" height="1.05" fill="url(#cg65)" fill-opacity="0.114"/>
<rect x="491.60" y="522.06" width="69.00" height="1.05" fill="url(#cg79)" fill-opacity="0.087"/>
<rect x="491.60" y="523.06" width="69.00" height="1.05" fill="url(#cg44)" fill-opacity="0.094"/>
<rect x="491.60" y="524.07" width="69.00" height="1.05" fill="url(#cg52)" fill-opacity="0.095"/>
<rect x="491.60" y="525.07" width="69.00" height="1.05" fill="#3e2a80" fill-opacity="0.032"/>
<rect x="491.60" y="525.07" width="69.00" height="1.05" fill="url(#cg78)" fill-opacity="0.106"/>
<rect x="491.60" y="526.07" width="69.00" height="1.05" fill="url(#cg47)" fill-opacity="0.085"/>
<rect x="491.60" y="527.07" width="69.00" height="1.05" fill="#3e2a80" fill-opacity="0.028"/>
<rect x="491.60" y="527.07" width="69.00" height="1.05" fill="url(#cg18)" fill-opacity="0.082"/>
<rect x="491.60" y="528.08" width="69.00" height="1.05" fill="#3e2a80" fill-opacity="0.014"/>
<rect x="491.60" y="528.08" width="69.00" height="1.05" fill="url(#cg49)" fill-opacity="0.099"/>
<rect x="491.60" y="529.08" width="69.00" height="1.05" fill="url(#cg19)" fill-opacity="0.101"/>
<rect x="491.60" y="530.08" width="69.00" height="1.05" fill="url(#cg37)" fill-opacity="0.104"/>
<rect x="491.60" y="531.08" width="69.00" height="1.05" fill="#3e2a80" fill-opacity="0.031"/>
<rect x="491.60" y="531.08" width="69.00" height="1.05" fill="url(#cg52)" fill-opacity="0.110"/>
<rect x="491.60" y="532.09" width="69.00" height="1.05" fill="#3e2a80" fill-opacity="0.019"/>
<rect x="491.60" y="532.09" width="69.00" height="1.05" fill="url(#cg47)" fill-opacity="0.123"/>
<rect x="491.60" y="533.09" width="69.00" height="1.05" fill="#3e2a80" fill-opacity="0.025"/>
<rect x="491.60" y="533.09" width="69.00" height="1.05" fill="url(#cg50)" fill-opacity="0.090"/>
<rect x="491.60" y="534.09" width="69.00" height="1.05" fill="url(#cg56)" fill-opacity="0.084"/>
<rect x="491.60" y="535.09" width="69.00" height="1.05" fill="url(#cg26)" fill-opacity="0.094"/>
<rect x="491.60" y="536.10" width="69.00" height="1.05" fill="url(#cg79)" fill-opacity="0.059"/>
<rect x="491.60" y="537.10" width="69.00" height="1.05" fill="url(#cg31)" fill-opacity="0.096"/>
<rect x="491.60" y="538.10" width="69.00" height="1.05" fill="url(#cg44)" fill-opacity="0.072"/>
<rect x="491.60" y="539.10" width="69.00" height="1.05" fill="#3e2a80" fill-opacity="0.036"/>
<rect x="491.60" y="539.10" width="69.00" height="1.05" fill="url(#cg19)" fill-opacity="0.100"/>
<rect x="491.60" y="540.11" width="69.00" height="1.05" fill="url(#cg36)" fill-opacity="0.074"/>
<rect x="491.60" y="541.11" width="69.00" height="1.05" fill="#3e2a80" fill-opacity="0.018"/>
<rect x="491.60" y="541.11" width="69.00" height="1.05" fill="url(#cg37)" fill-opacity="0.114"/>
<rect x="491.60" y="542.11" width="69.00" height="1.05" fill="url(#cg44)" fill-opacity="0.079"/>
<rect x="491.60" y="543.11" width="69.00" height="1.05" fill="url(#cg56)" fill-opacity="0.067"/>
<rect x="491.60" y="544.12" width="69.00" height="1.05" fill="url(#cg51)" fill-opacity="0.085"/>
<rect x="491.60" y="545.12" width="69.00" height="1.05" fill="url(#cg63)" fill-opacity="0.064"/>
<rect x="491.60" y="546.12" width="69.00" height="1.05" fill="url(#cg40)" fill-opacity="0.093"/>
<rect x="491.60" y="547.12" width="69.00" height="1.05" fill="#3e2a80" fill-opacity="0.035"/>
<rect x="491.60" y="547.12" width="69.00" height="1.05" fill="url(#cg36)" fill-opacity="0.051"/>
<rect x="491.60" y="548.12" width="69.00" height="1.05" fill="url(#cg37)" fill-opacity="0.099"/>
<rect x="491.60" y="549.13" width="69.00" height="1.05" fill="#3e2a80" fill-opacity="0.018"/>
<rect x="491.60" y="549.13" width="69.00" height="1.05" fill="url(#cg54)" fill-opacity="0.063"/>
<rect x="491.60" y="550.13" width="69.00" height="1.05" fill="url(#cg80)" fill-opacity="0.050"/>
<rect x="491.60" y="551.13" width="69.00" height="1.05" fill="url(#cg42)" fill-opacity="0.082"/>
<rect x="491.60" y="552.13" width="69.00" height="1.05" fill="url(#cg44)" fill-opacity="0.084"/>
<rect x="491.60" y="553.14" width="69.00" height="1.05" fill="#3e2a80" fill-opacity="0.022"/>
<rect x="491.60" y="553.14" width="69.00" height="1.05" fill="url(#cg56)" fill-opacity="0.101"/>
<rect x="491.60" y="554.14" width="69.00" height="1.05" fill="#3e2a80" fill-opacity="0.024"/>
<rect x="491.60" y="554.14" width="69.00" height="1.05" fill="url(#cg31)" fill-opacity="0.078"/>
<rect x="491.60" y="555.14" width="69.00" height="1.05" fill="#3e2a80" fill-opacity="0.030"/>
<rect x="491.60" y="555.14" width="69.00" height="1.05" fill="url(#cg44)" fill-opacity="0.073"/>
<rect x="491.60" y="556.14" width="69.00" height="1.05" fill="url(#cg56)" fill-opacity="0.066"/>
<rect x="491.60" y="557.15" width="69.00" height="1.05" fill="url(#cg38)" fill-opacity="0.053"/>
<rect x="491.60" y="558.15" width="69.00" height="1.05" fill="url(#cg62)" fill-opacity="0.089"/>
<rect x="491.60" y="559.15" width="69.00" height="1.05" fill="url(#cg65)" fill-opacity="0.079"/>
<rect x="491.60" y="560.15" width="69.00" height="1.05" fill="url(#cg35)" fill-opacity="0.040"/>
<rect x="491.60" y="561.16" width="69.00" height="1.05" fill="url(#cg44)" fill-opacity="0.064"/>
<rect x="491.60" y="562.16" width="69.00" height="1.05" fill="url(#cg31)" fill-opacity="0.075"/>
<rect x="491.60" y="563.16" width="69.00" height="1.05" fill="url(#cg81)" fill-opacity="0.069"/>
<rect x="491.60" y="564.16" width="69.00" height="1.05" fill="url(#cg52)" fill-opacity="0.054"/>
<rect x="491.60" y="565.17" width="69.00" height="1.05" fill="url(#cg52)" fill-opacity="0.085"/>
<rect x="491.60" y="566.17" width="69.00" height="1.05" fill="url(#cg36)" fill-opacity="0.042"/>
<rect x="491.60" y="567.17" width="69.00" height="1.05" fill="url(#cg59)" fill-opacity="0.068"/>
<rect x="491.60" y="568.17" width="69.00" height="1.05" fill="url(#cg48)" fill-opacity="0.041"/>
<rect x="491.60" y="569.18" width="69.00" height="1.05" fill="#3e2a80" fill-opacity="0.024"/>
<rect x="491.60" y="569.18" width="69.00" height="1.05" fill="url(#cg51)" fill-opacity="0.063"/>
<rect x="491.60" y="570.18" width="69.00" height="1.05" fill="url(#cg49)" fill-opacity="0.059"/>
<rect x="491.60" y="571.18" width="69.00" height="1.05" fill="url(#cg50)" fill-opacity="0.055"/>
<rect x="491.60" y="572.18" width="69.00" height="1.05" fill="url(#cg60)" fill-opacity="0.069"/>
<rect x="491.60" y="573.19" width="69.00" height="1.05" fill="#3e2a80" fill-opacity="0.028"/>
<rect x="491.60" y="573.19" width="69.00" height="1.05" fill="url(#cg39)" fill-opacity="0.065"/>
<rect x="491.60" y="574.19" width="69.00" height="1.05" fill="url(#cg48)" fill-opacity="0.053"/>
<rect x="491.60" y="575.19" width="69.00" height="1.05" fill="#3e2a80" fill-opacity="0.015"/>
<rect x="491.60" y="575.19" width="69.00" height="1.05" fill="url(#cg51)" fill-opacity="0.056"/>
<rect x="491.60" y="576.19" width="69.00" height="1.05" fill="#3e2a80" fill-opacity="0.016"/>
<rect x="491.60" y="576.19" width="69.00" height="1.05" fill="url(#cg76)" fill-opacity="0.064"/>
<rect x="491.60" y="577.20" width="69.00" height="1.05" fill="url(#cg50)" fill-opacity="0.045"/>
<rect x="491.60" y="578.20" width="69.00" height="1.05" fill="url(#cg48)" fill-opacity="0.056"/>
<rect x="491.60" y="413.80" width="69.00" height="165.40" fill="none" stroke="#444" stroke-width="0.6"/>
<line x1="491.60" y1="579.20" x2="491.60" y2="581.00" stroke="#333" stroke-width="0.7"/>
<line x1="526.10" y1="579.20" x2="526.10" y2="581.00" stroke="#333" stroke-width="0.7"/>
<line x1="560.60" y1="579.20" x2="560.60" y2="581.00" stroke="#333" stroke-width="0.7"/>
<text x="491.90" y="588.60" font-size="6.9" fill="#3a3a3a">-0.5</text>
<text x="526.10" y="588.60" text-anchor="middle" font-size="6.9" fill="#3a3a3a">center</text>
<text x="563.00" y="588.60" text-anchor="end" font-size="6.9" fill="#3a3a3a">0.5Kb</text>
<text x="499.80" y="596.60" font-size="6.9" fill="#3a3a3a">gene distance</text>
<text x="401.20" y="483.90" text-anchor="middle" transform="rotate(-90 401.20 483.90)">putative AR regulatory elements</text>
<rect x="415.90" y="609.10" width="69.40" height="6.60" fill="url(#pcb85)" stroke="#444" stroke-width="0.6"/>
<line x1="417.10" y1="615.70" x2="417.10" y2="617.20" stroke="#333" stroke-width="0.6"/>
<text x="417.10" y="624.70" text-anchor="middle" font-size="6.9" fill="#3a3a3a">0</text>
<line x1="439.43" y1="615.70" x2="439.43" y2="617.20" stroke="#333" stroke-width="0.6"/>
<text x="439.43" y="624.70" text-anchor="middle" font-size="6.9" fill="#3a3a3a">5</text>
<line x1="461.77" y1="615.70" x2="461.77" y2="617.20" stroke="#333" stroke-width="0.6"/>
<text x="461.77" y="624.70" text-anchor="middle" font-size="6.9" fill="#3a3a3a">10</text>
<line x1="484.10" y1="615.70" x2="484.10" y2="617.20" stroke="#333" stroke-width="0.6"/>
<text x="484.10" y="624.70" text-anchor="middle" font-size="6.9" fill="#3a3a3a">15</text>
<rect x="491.40" y="609.10" width="69.40" height="6.60" fill="url(#pcb86)" stroke="#444" stroke-width="0.6"/>
<line x1="492.60" y1="615.70" x2="492.60" y2="617.20" stroke="#333" stroke-width="0.6"/>
<text x="492.60" y="624.70" text-anchor="middle" font-size="6.9" fill="#3a3a3a">0</text>
<line x1="514.93" y1="615.70" x2="514.93" y2="617.20" stroke="#333" stroke-width="0.6"/>
<text x="514.93" y="624.70" text-anchor="middle" font-size="6.9" fill="#3a3a3a">5</text>
<line x1="537.27" y1="615.70" x2="537.27" y2="617.20" stroke="#333" stroke-width="0.6"/>
<text x="537.27" y="624.70" text-anchor="middle" font-size="6.9" fill="#3a3a3a">10</text>
<line x1="559.60" y1="615.70" x2="559.60" y2="617.20" stroke="#333" stroke-width="0.6"/>
<text x="559.60" y="624.70" text-anchor="middle" font-size="6.9" fill="#3a3a3a">15</text>
<text x="489.00" y="646.50" text-anchor="middle">ChIP-seq intensity (Fold change with respect with input)</text>
<text x="145.60" y="691.00" text-anchor="middle">LNCaP activity correlation</text>
<text x="146.40" y="701.00" text-anchor="middle">(cell line matched ChIP vs pan-cell-type ChIP-seq or motif)</text>
<rect x="32.40" y="736.03" width="7.20" height="17.77" fill="#8a1020"/>
<rect x="39.60" y="743.65" width="7.20" height="10.15" fill="#2c3a8e"/>
<line x1="39.60" y1="755.60" x2="39.60" y2="757.60" stroke="#333" stroke-width="0.8"/>
<text x="42.50" y="760.30" text-anchor="end" transform="rotate(-90 42.50 760.30)" fill="#3a3a3a">ARNTL</text>
<rect x="48.46" y="726.30" width="7.20" height="27.49" fill="#8a1020"/>
<rect x="55.66" y="734.76" width="7.20" height="19.04" fill="#2c3a8e"/>
<line x1="55.66" y1="755.60" x2="55.66" y2="757.60" stroke="#333" stroke-width="0.8"/>
<text x="58.56" y="760.30" text-anchor="end" transform="rotate(-90 58.56 760.30)" fill="#3a3a3a">MYC</text>
<rect x="64.52" y="722.92" width="7.20" height="30.88" fill="#8a1020"/>
<rect x="71.72" y="735.19" width="7.20" height="18.61" fill="#2c3a8e"/>
<line x1="71.72" y1="755.60" x2="71.72" y2="757.60" stroke="#333" stroke-width="0.8"/>
<text x="74.62" y="760.30" text-anchor="end" transform="rotate(-90 74.62 760.30)" fill="#3a3a3a">TCF7L2</text>
<rect x="80.58" y="719.96" width="7.20" height="33.84" fill="#8a1020"/>
<rect x="87.78" y="717.42" width="7.20" height="36.38" fill="#2c3a8e"/>
<line x1="87.78" y1="755.60" x2="87.78" y2="757.60" stroke="#333" stroke-width="0.8"/>
<text x="90.68" y="760.30" text-anchor="end" transform="rotate(-90 90.68 760.30)" fill="#3a3a3a">CTCF</text>
<rect x="96.64" y="719.96" width="7.20" height="33.84" fill="#8a1020"/>
<rect x="103.84" y="714.88" width="7.20" height="38.92" fill="#2c3a8e"/>
<line x1="103.84" y1="755.60" x2="103.84" y2="757.60" stroke="#333" stroke-width="0.8"/>
<text x="106.74" y="760.30" text-anchor="end" transform="rotate(-90 106.74 760.30)" fill="#3a3a3a">RELA</text>
<rect x="112.70" y="719.96" width="7.20" height="33.84" fill="#8a1020"/>
<rect x="119.90" y="720.38" width="7.20" height="33.42" fill="#2c3a8e"/>
<line x1="119.90" y1="755.60" x2="119.90" y2="757.60" stroke="#333" stroke-width="0.8"/>
<text x="122.80" y="760.30" text-anchor="end" transform="rotate(-90 122.80 760.30)" fill="#3a3a3a">FOXP1</text>
<rect x="128.76" y="719.96" width="7.20" height="33.84" fill="#8a1020"/>
<rect x="135.96" y="730.11" width="7.20" height="23.69" fill="#2c3a8e"/>
<line x1="135.96" y1="755.60" x2="135.96" y2="757.60" stroke="#333" stroke-width="0.8"/>
<text x="138.86" y="760.30" text-anchor="end" transform="rotate(-90 138.86 760.30)" fill="#3a3a3a">YY1</text>
<rect x="144.82" y="718.27" width="7.20" height="35.53" fill="#8a1020"/>
<rect x="152.02" y="723.77" width="7.20" height="30.03" fill="#2c3a8e"/>
<line x1="152.02" y1="755.60" x2="152.02" y2="757.60" stroke="#333" stroke-width="0.8"/>
<text x="154.92" y="760.30" text-anchor="end" transform="rotate(-90 154.92 760.30)" fill="#3a3a3a">GATA2</text>
<rect x="160.88" y="716.58" width="7.20" height="37.22" fill="#8a1020"/>
<rect x="168.08" y="731.80" width="7.20" height="22.00" fill="#2c3a8e"/>
<line x1="168.08" y1="755.60" x2="168.08" y2="757.60" stroke="#333" stroke-width="0.8"/>
<text x="170.98" y="760.30" text-anchor="end" transform="rotate(-90 170.98 760.30)" fill="#3a3a3a">HIF1A</text>
<rect x="176.94" y="713.62" width="7.20" height="40.18" fill="#8a1020"/>
<rect x="184.14" y="716.15" width="7.20" height="37.65" fill="#2c3a8e"/>
<line x1="184.14" y1="755.60" x2="184.14" y2="757.60" stroke="#333" stroke-width="0.8"/>
<text x="187.04" y="760.30" text-anchor="end" transform="rotate(-90 187.04 760.30)" fill="#3a3a3a">HOXB13</text>
<rect x="193.00" y="712.77" width="7.20" height="41.03" fill="#8a1020"/>
<rect x="200.20" y="723.34" width="7.20" height="30.46" fill="#2c3a8e"/>
<line x1="200.20" y1="755.60" x2="200.20" y2="757.60" stroke="#333" stroke-width="0.8"/>
<text x="203.10" y="760.30" text-anchor="end" transform="rotate(-90 203.10 760.30)" fill="#3a3a3a">CREB1</text>
<rect x="209.06" y="711.50" width="7.20" height="42.30" fill="#8a1020"/>
<rect x="216.26" y="734.76" width="7.20" height="19.04" fill="#2c3a8e"/>
<line x1="216.26" y1="755.60" x2="216.26" y2="757.60" stroke="#333" stroke-width="0.8"/>
<text x="219.16" y="760.30" text-anchor="end" transform="rotate(-90 219.16 760.30)" fill="#3a3a3a">XBP1</text>
<rect x="225.12" y="711.08" width="7.20" height="42.72" fill="#8a1020"/>
<rect x="232.32" y="714.46" width="7.20" height="39.34" fill="#2c3a8e"/>
<line x1="232.32" y1="755.60" x2="232.32" y2="757.60" stroke="#333" stroke-width="0.8"/>
<text x="235.22" y="760.30" text-anchor="end" transform="rotate(-90 235.22 760.30)" fill="#3a3a3a">FOXA1</text>
<rect x="241.18" y="711.50" width="7.20" height="42.30" fill="#8a1020"/>
<rect x="248.38" y="724.19" width="7.20" height="29.61" fill="#2c3a8e"/>
<line x1="248.38" y1="755.60" x2="248.38" y2="757.60" stroke="#333" stroke-width="0.8"/>
<text x="251.28" y="760.30" text-anchor="end" transform="rotate(-90 251.28 760.30)" fill="#3a3a3a">AR</text>
<line x1="30.70" y1="709.70" x2="30.70" y2="756.05" stroke="#7a7a7a" stroke-width="1.1"/>
<line x1="30.25" y1="755.60" x2="256.90" y2="755.60" stroke="#333" stroke-width="1.0"/>
<line x1="28.70" y1="711.50" x2="30.70" y2="711.50" stroke="#333" stroke-width="0.8"/>
<text x="28.10" y="714.45" text-anchor="end" fill="#3a3a3a">1.00</text>
<line x1="28.70" y1="722.07" x2="30.70" y2="722.07" stroke="#333" stroke-width="0.8"/>
<text x="28.10" y="725.02" text-anchor="end" fill="#3a3a3a">0.75</text>
<line x1="28.70" y1="732.65" x2="30.70" y2="732.65" stroke="#333" stroke-width="0.8"/>
<text x="28.10" y="735.60" text-anchor="end" fill="#3a3a3a">0.50</text>
<line x1="28.70" y1="743.22" x2="30.70" y2="743.22" stroke="#333" stroke-width="0.8"/>
<text x="28.10" y="746.17" text-anchor="end" fill="#3a3a3a">0.25</text>
<line x1="28.70" y1="753.80" x2="30.70" y2="753.80" stroke="#333" stroke-width="0.8"/>
<text x="28.10" y="756.75" text-anchor="end" fill="#3a3a3a">0.00</text>
<text x="8.30" y="732.75" text-anchor="middle" transform="rotate(-90 8.30 732.75)" font-size="9.0">correlation</text>
<text x="143.85" y="798.20" text-anchor="middle" font-size="9.0">regulator</text>
<text x="268.40" y="719.00">source</text>
<rect x="301.20" y="710.20" width="12.50" height="12.50" fill="#8a1020"/>
<rect x="301.20" y="728.20" width="12.50" height="12.50" fill="#2c3a8e"/>
<text x="318.70" y="719.50">pan-cell-type ChIP-seq</text>
<text x="318.70" y="737.10">motif</text>
<text x="143.20" y="822.10" text-anchor="middle">LNCaP target similarity</text>
<text x="143.00" y="832.10" text-anchor="middle">(cell line matched ChIP vs pan-cell-type ChIP-seq or motif)</text>
<rect x="32.40" y="877.29" width="7.20" height="2.61" fill="#8a1020"/>
<rect x="39.60" y="878.21" width="7.20" height="1.69" fill="#2c3a8e"/>
<line x1="39.60" y1="881.70" x2="39.60" y2="883.70" stroke="#333" stroke-width="0.8"/>
<text x="42.50" y="886.30" text-anchor="end" transform="rotate(-90 42.50 886.30)" fill="#3a3a3a">MYC</text>
<rect x="48.46" y="877.00" width="7.20" height="2.90" fill="#8a1020"/>
<rect x="55.66" y="875.69" width="7.20" height="4.21" fill="#2c3a8e"/>
<line x1="55.66" y1="881.70" x2="55.66" y2="883.70" stroke="#333" stroke-width="0.8"/>
<text x="58.56" y="886.30" text-anchor="end" transform="rotate(-90 58.56 886.30)" fill="#3a3a3a">FOXP1</text>
<rect x="64.52" y="873.85" width="7.20" height="6.05" fill="#8a1020"/>
<rect x="71.72" y="862.96" width="7.20" height="16.94" fill="#2c3a8e"/>
<line x1="71.72" y1="881.70" x2="71.72" y2="883.70" stroke="#333" stroke-width="0.8"/>
<text x="74.62" y="886.30" text-anchor="end" transform="rotate(-90 74.62 886.30)" fill="#3a3a3a">RELA</text>
<rect x="80.58" y="873.12" width="7.20" height="6.78" fill="#8a1020"/>
<rect x="87.78" y="875.16" width="7.20" height="4.74" fill="#2c3a8e"/>
<line x1="87.78" y1="881.70" x2="87.78" y2="883.70" stroke="#333" stroke-width="0.8"/>
<text x="90.68" y="886.30" text-anchor="end" transform="rotate(-90 90.68 886.30)" fill="#3a3a3a">TCF7L2</text>
<rect x="96.64" y="867.80" width="7.20" height="12.10" fill="#8a1020"/>
<rect x="103.84" y="873.85" width="7.20" height="6.05" fill="#2c3a8e"/>
<line x1="103.84" y1="881.70" x2="103.84" y2="883.70" stroke="#333" stroke-width="0.8"/>
<text x="106.74" y="886.30" text-anchor="end" transform="rotate(-90 106.74 886.30)" fill="#3a3a3a">YY1</text>
<rect x="112.70" y="866.49" width="7.20" height="13.41" fill="#8a1020"/>
<rect x="119.90" y="872.54" width="7.20" height="7.36" fill="#2c3a8e"/>
<line x1="119.90" y1="881.70" x2="119.90" y2="883.70" stroke="#333" stroke-width="0.8"/>
<text x="122.80" y="886.30" text-anchor="end" transform="rotate(-90 122.80 886.30)" fill="#3a3a3a">GATA2</text>
<rect x="128.76" y="865.96" width="7.20" height="13.94" fill="#8a1020"/>
<rect x="135.96" y="873.85" width="7.20" height="6.05" fill="#2c3a8e"/>
<line x1="135.96" y1="881.70" x2="135.96" y2="883.70" stroke="#333" stroke-width="0.8"/>
<text x="138.86" y="886.30" text-anchor="end" transform="rotate(-90 138.86 886.30)" fill="#3a3a3a">HIF1A</text>
<rect x="144.82" y="865.96" width="7.20" height="13.94" fill="#8a1020"/>
<rect x="152.02" y="877.53" width="7.20" height="2.37" fill="#2c3a8e"/>
<line x1="152.02" y1="881.70" x2="152.02" y2="883.70" stroke="#333" stroke-width="0.8"/>
<text x="154.92" y="886.30" text-anchor="end" transform="rotate(-90 154.92 886.30)" fill="#3a3a3a">ARNTL</text>
<rect x="160.88" y="861.27" width="7.20" height="18.63" fill="#8a1020"/>
<rect x="168.08" y="853.38" width="7.20" height="26.52" fill="#2c3a8e"/>
<line x1="168.08" y1="881.70" x2="168.08" y2="883.70" stroke="#333" stroke-width="0.8"/>
<text x="170.98" y="886.30" text-anchor="end" transform="rotate(-90 170.98 886.30)" fill="#3a3a3a">CTCF</text>
<rect x="176.94" y="856.67" width="7.20" height="23.23" fill="#8a1020"/>
<rect x="184.14" y="868.77" width="7.20" height="11.13" fill="#2c3a8e"/>
<line x1="184.14" y1="881.70" x2="184.14" y2="883.70" stroke="#333" stroke-width="0.8"/>
<text x="187.04" y="886.30" text-anchor="end" transform="rotate(-90 187.04 886.30)" fill="#3a3a3a">HOXB13</text>
<rect x="193.00" y="854.73" width="7.20" height="25.17" fill="#8a1020"/>
<rect x="200.20" y="876.03" width="7.20" height="3.87" fill="#2c3a8e"/>
<line x1="200.20" y1="881.70" x2="200.20" y2="883.70" stroke="#333" stroke-width="0.8"/>
<text x="203.10" y="886.30" text-anchor="end" transform="rotate(-90 203.10 886.30)" fill="#3a3a3a">CREB1</text>
<rect x="209.06" y="844.08" width="7.20" height="35.82" fill="#8a1020"/>
<rect x="216.26" y="861.51" width="7.20" height="18.39" fill="#2c3a8e"/>
<line x1="216.26" y1="881.70" x2="216.26" y2="883.70" stroke="#333" stroke-width="0.8"/>
<text x="219.16" y="886.30" text-anchor="end" transform="rotate(-90 219.16 886.30)" fill="#3a3a3a">FOXA1</text>
<rect x="225.12" y="843.12" width="7.20" height="36.78" fill="#8a1020"/>
<rect x="232.32" y="878.25" width="7.20" height="1.65" fill="#2c3a8e"/>
<line x1="232.32" y1="881.70" x2="232.32" y2="883.70" stroke="#333" stroke-width="0.8"/>
<text x="235.22" y="886.30" text-anchor="end" transform="rotate(-90 235.22 886.30)" fill="#3a3a3a">XBP1</text>
<rect x="241.18" y="837.31" width="7.20" height="42.59" fill="#8a1020"/>
<rect x="248.38" y="876.03" width="7.20" height="3.87" fill="#2c3a8e"/>
<line x1="248.38" y1="881.70" x2="248.38" y2="883.70" stroke="#333" stroke-width="0.8"/>
<text x="251.28" y="886.30" text-anchor="end" transform="rotate(-90 251.28 886.30)" fill="#3a3a3a">AR</text>
<line x1="30.20" y1="835.00" x2="30.20" y2="882.15" stroke="#7a7a7a" stroke-width="1.1"/>
<line x1="29.75" y1="881.70" x2="256.90" y2="881.70" stroke="#333" stroke-width="1.0"/>
<line x1="28.20" y1="843.60" x2="30.20" y2="843.60" stroke="#333" stroke-width="0.8"/>
<text x="27.60" y="846.55" text-anchor="end" fill="#3a3a3a">0.75</text>
<line x1="28.20" y1="855.70" x2="30.20" y2="855.70" stroke="#333" stroke-width="0.8"/>
<text x="27.60" y="858.65" text-anchor="end" fill="#3a3a3a">0.50</text>
<line x1="28.20" y1="867.80" x2="30.20" y2="867.80" stroke="#333" stroke-width="0.8"/>
<text x="27.60" y="870.75" text-anchor="end" fill="#3a3a3a">0.25</text>
<line x1="28.20" y1="879.90" x2="30.20" y2="879.90" stroke="#333" stroke-width="0.8"/>
<text x="27.60" y="882.85" text-anchor="end" fill="#3a3a3a">0.00</text>
<text x="8.20" y="858.90" text-anchor="middle" transform="rotate(-90 8.20 858.90)" font-size="9.0">similarity</text>
<text x="143.85" y="924.40" text-anchor="middle" font-size="9.0">regulator</text>
<text x="268.70" y="854.50">source</text>
<rect x="301.20" y="845.80" width="12.80" height="12.80" fill="#8a1020"/>
<rect x="301.20" y="863.80" width="12.80" height="12.80" fill="#2c3a8e"/>
<text x="318.70" y="855.30">pan-cell-type ChIP-seq</text>
<text x="318.70" y="873.10">motif</text>
<text x="457.70" y="688.20">MDA-PCa-2b activity correlation</text>
<rect x="484.00" y="700.60" width="10.00" height="46.00" fill="#8a1020"/>
<rect x="494.00" y="720.10" width="10.00" height="26.50" fill="#2c3a8e"/>
<line x1="494.00" y1="749.00" x2="494.00" y2="751.00" stroke="#333" stroke-width="0.8"/>
<text x="496.90" y="751.60" text-anchor="end" transform="rotate(-90 496.90 751.60)" fill="#3a3a3a">AR</text>
<rect x="506.20" y="699.10" width="10.00" height="47.50" fill="#8a1020"/>
<rect x="516.20" y="702.60" width="10.00" height="44.00" fill="#2c3a8e"/>
<line x1="516.20" y1="749.00" x2="516.20" y2="751.00" stroke="#333" stroke-width="0.8"/>
<text x="519.10" y="751.60" text-anchor="end" transform="rotate(-90 519.10 751.60)" fill="#3a3a3a">FOXA1</text>
<line x1="480.70" y1="697.40" x2="480.70" y2="749.45" stroke="#7a7a7a" stroke-width="1.1"/>
<line x1="480.25" y1="749.00" x2="529.30" y2="749.00" stroke="#333" stroke-width="1.0"/>
<line x1="478.70" y1="709.10" x2="480.70" y2="709.10" stroke="#333" stroke-width="0.8"/>
<text x="478.10" y="712.05" text-anchor="end" fill="#3a3a3a">0.75</text>
<line x1="478.70" y1="721.60" x2="480.70" y2="721.60" stroke="#333" stroke-width="0.8"/>
<text x="478.10" y="724.55" text-anchor="end" fill="#3a3a3a">0.50</text>
<line x1="478.70" y1="734.10" x2="480.70" y2="734.10" stroke="#333" stroke-width="0.8"/>
<text x="478.10" y="737.05" text-anchor="end" fill="#3a3a3a">0.25</text>
<line x1="478.70" y1="746.60" x2="480.70" y2="746.60" stroke="#333" stroke-width="0.8"/>
<text x="478.10" y="749.55" text-anchor="end" fill="#3a3a3a">0.00</text>
<text x="458.80" y="723.20" text-anchor="middle" transform="rotate(-90 458.80 723.20)" font-size="9.0">correlation</text>
<text x="505.50" y="786.00" text-anchor="middle" font-size="9.0">regulator</text>
<text x="539.60" y="716.10">source</text>
<rect x="540.00" y="722.80" width="13.20" height="13.20" fill="#8a1020"/>
<rect x="540.00" y="736.80" width="13.20" height="13.20" fill="#2c3a8e"/>
<text x="558.90" y="732.30">pan-celltype ChIP-seq</text>
<text x="558.90" y="746.30">motif</text>
<text x="456.60" y="822.00" xml:space="preserve">MDA-PCa-2b  target similarity</text>
<rect x="483.30" y="862.27" width="10.90" height="30.43" fill="#8a1020"/>
<rect x="494.20" y="883.10" width="10.90" height="9.61" fill="#2c3a8e"/>
<line x1="494.20" y1="894.20" x2="494.20" y2="896.20" stroke="#333" stroke-width="0.8"/>
<text x="497.10" y="896.80" text-anchor="end" transform="rotate(-90 497.10 896.80)" fill="#3a3a3a">AR</text>
<rect x="507.10" y="844.76" width="10.90" height="47.94" fill="#8a1020"/>
<rect x="518.00" y="861.08" width="10.90" height="31.62" fill="#2c3a8e"/>
<line x1="518.00" y1="894.20" x2="518.00" y2="896.20" stroke="#333" stroke-width="0.8"/>
<text x="520.90" y="896.80" text-anchor="end" transform="rotate(-90 520.90 896.80)" fill="#3a3a3a">FOXA1</text>
<line x1="479.60" y1="842.90" x2="479.60" y2="894.65" stroke="#7a7a7a" stroke-width="1.1"/>
<line x1="479.15" y1="894.20" x2="531.60" y2="894.20" stroke="#333" stroke-width="1.0"/>
<line x1="477.60" y1="858.70" x2="479.60" y2="858.70" stroke="#333" stroke-width="0.8"/>
<text x="477.00" y="861.65" text-anchor="end" fill="#3a3a3a">0.4</text>
<line x1="477.60" y1="875.70" x2="479.60" y2="875.70" stroke="#333" stroke-width="0.8"/>
<text x="477.00" y="878.65" text-anchor="end" fill="#3a3a3a">0.2</text>
<line x1="477.60" y1="892.70" x2="479.60" y2="892.70" stroke="#333" stroke-width="0.8"/>
<text x="477.00" y="895.65" text-anchor="end" fill="#3a3a3a">0.0</text>
<text x="460.00" y="868.60" text-anchor="middle" transform="rotate(-90 460.00 868.60)" font-size="9.0">similarity</text>
<text x="506.40" y="931.20" text-anchor="middle" font-size="9.0">regulator</text>
<text x="538.10" y="860.20">source</text>
<rect x="538.80" y="866.70" width="13.00" height="13.00" fill="#8a1020"/>
<rect x="538.80" y="881.40" width="13.00" height="13.00" fill="#2c3a8e"/>
<text x="557.90" y="876.50">pan-cell-type ChIP-seq</text>
<text x="557.90" y="889.80">motif</text></svg></body></html>
